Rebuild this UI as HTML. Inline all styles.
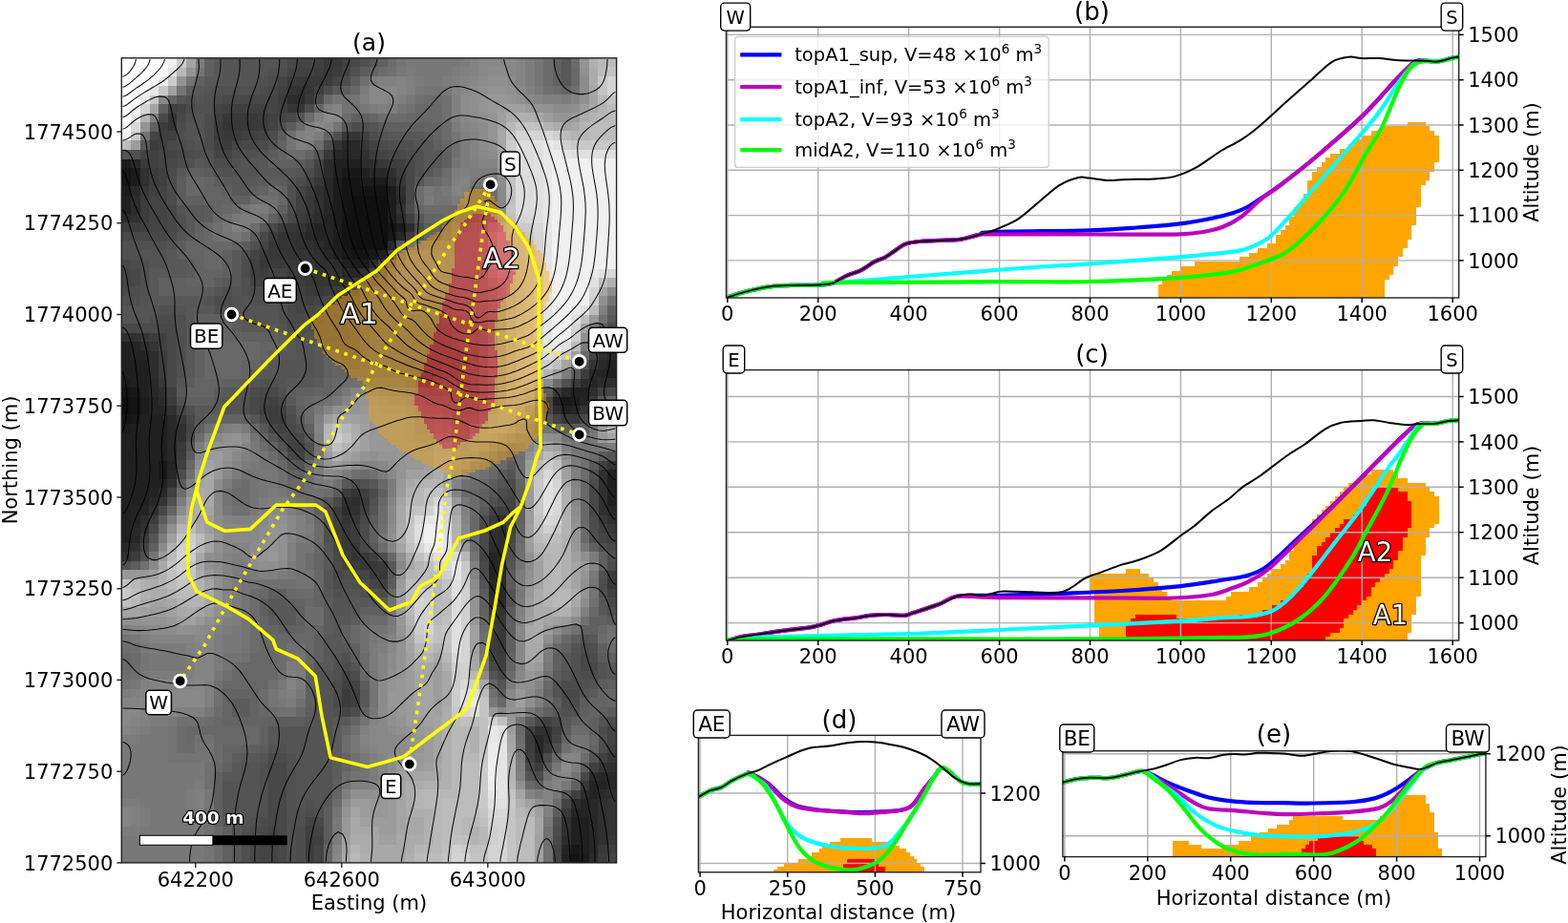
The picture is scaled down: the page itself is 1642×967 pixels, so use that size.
<!DOCTYPE html>
<html><head><meta charset="utf-8"><style>
html,body{margin:0;padding:0;background:#fff;}
svg{display:block;font-family:'DejaVu Sans','Liberation Sans',sans-serif;}
</style></head><body>
<svg width="1642" height="967" viewBox="0 0 1642 967" font-family="DejaVu Sans, Liberation Sans, sans-serif">
<rect width="1642" height="967" fill="#fff"/>
<clipPath id="cbu"><rect x="760.5" y="28.3" width="767.2" height="283.7"/></clipPath>
<g clip-path="url(#cbu)"><path d="M1473.70 127.57h18.98v4.73h-18.98zM1445.22 132.30h52.21v4.73h-52.21zM1435.73 137.03h66.44v4.73h-66.44zM1426.24 141.76h80.68v4.73h-80.68zM1416.75 146.48h90.17v4.73h-90.17zM1412.00 151.21h94.92v4.73h-94.92zM1402.51 155.94h104.41v4.73h-104.41zM1393.02 160.67h113.90v4.73h-113.90zM1388.27 165.40h118.65v4.73h-118.65zM1383.53 170.13h118.65v4.73h-118.65zM1378.78 174.86h123.40v4.73h-123.40zM1374.03 179.59h123.40v4.73h-123.40zM1374.03 184.32h123.40v4.73h-123.40zM1369.29 189.05h123.40v4.73h-123.40zM1369.29 193.78h118.65v4.73h-118.65zM1369.29 198.50h118.65v4.73h-118.65zM1364.54 203.23h123.40v4.73h-123.40zM1364.54 207.96h123.40v4.73h-123.40zM1359.80 212.69h128.14v4.73h-128.14zM1355.05 217.42h128.14v4.73h-128.14zM1355.05 222.15h128.14v4.73h-128.14zM1350.30 226.88h132.89v4.73h-132.89zM1350.30 231.61h132.89v4.73h-132.89zM1345.56 236.34h132.89v4.73h-132.89zM1340.81 241.06h137.63v4.73h-137.63zM1336.07 245.79h142.38v4.73h-142.38zM1336.07 250.52h137.63v4.73h-137.63zM1326.57 255.25h147.13v4.73h-147.13zM1317.08 259.98h151.87v4.73h-151.87zM1307.59 264.71h161.36v4.73h-161.36zM1298.10 269.44h166.11v4.73h-166.11zM1250.64 274.17h213.57v4.73h-213.57zM1236.40 278.90h223.06v4.73h-223.06zM1226.91 283.63h232.55v4.73h-232.55zM1222.16 288.36h232.55v4.73h-232.55zM1217.42 293.08h232.55v4.73h-232.55zM1212.67 297.81h237.30v4.73h-237.30zM1212.67 302.54h237.30v4.73h-237.30zM1212.67 307.27h237.30v4.73h-237.30z" fill="#ffa500" shape-rendering="crispEdges"/></g>
<line x1="761.8" y1="28.3" x2="761.8" y2="312.0" stroke="#b0b0b0" stroke-width="1.4"/>
<line x1="856.7" y1="28.3" x2="856.7" y2="312.0" stroke="#b0b0b0" stroke-width="1.4"/>
<line x1="951.6" y1="28.3" x2="951.6" y2="312.0" stroke="#b0b0b0" stroke-width="1.4"/>
<line x1="1046.6" y1="28.3" x2="1046.6" y2="312.0" stroke="#b0b0b0" stroke-width="1.4"/>
<line x1="1141.5" y1="28.3" x2="1141.5" y2="312.0" stroke="#b0b0b0" stroke-width="1.4"/>
<line x1="1236.4" y1="28.3" x2="1236.4" y2="312.0" stroke="#b0b0b0" stroke-width="1.4"/>
<line x1="1331.3" y1="28.3" x2="1331.3" y2="312.0" stroke="#b0b0b0" stroke-width="1.4"/>
<line x1="1426.2" y1="28.3" x2="1426.2" y2="312.0" stroke="#b0b0b0" stroke-width="1.4"/>
<line x1="1521.2" y1="28.3" x2="1521.2" y2="312.0" stroke="#b0b0b0" stroke-width="1.4"/>
<line x1="760.5" y1="272.9" x2="1527.7" y2="272.9" stroke="#b0b0b0" stroke-width="1.4"/>
<line x1="760.5" y1="225.6" x2="1527.7" y2="225.6" stroke="#b0b0b0" stroke-width="1.4"/>
<line x1="760.5" y1="178.3" x2="1527.7" y2="178.3" stroke="#b0b0b0" stroke-width="1.4"/>
<line x1="760.5" y1="131.0" x2="1527.7" y2="131.0" stroke="#b0b0b0" stroke-width="1.4"/>
<line x1="760.5" y1="83.7" x2="1527.7" y2="83.7" stroke="#b0b0b0" stroke-width="1.4"/>
<line x1="760.5" y1="36.4" x2="1527.7" y2="36.4" stroke="#b0b0b0" stroke-width="1.4"/>
<clipPath id="cb"><rect x="760.5" y="28.3" width="767.2" height="283.7"/></clipPath>
<g clip-path="url(#cb)"><path d="M760.5,312.0 C763.9,310.9 773.0,307.6 780.6,305.6 C788.2,303.7 798.3,301.4 806.2,300.3 C814.1,299.2 819.6,299.2 828.1,298.9 C836.6,298.6 850.0,298.9 857.3,298.5 C864.6,298.1 867.0,298.3 871.9,296.7 C876.8,295.1 881.7,291.0 886.6,288.8 C891.5,286.6 896.3,285.7 901.2,283.3 C906.1,280.9 911.5,276.5 915.8,274.2 C920.1,271.9 923.1,271.6 926.8,269.6 C930.4,267.6 934.1,264.7 937.7,262.3 C941.4,259.9 944.1,257.0 948.7,255.4 C953.3,253.8 959.0,253.4 965.1,252.8 C971.2,252.2 978.5,252.2 985.2,251.9 C991.9,251.6 998.6,251.8 1005.3,250.8 C1012.0,249.8 1019.6,247.2 1025.4,245.9 C1031.2,244.6 1020.8,243.9 1040.0,243.1 C1059.2,242.3 1115.6,242.1 1140.6,241.3 C1165.6,240.5 1174.2,239.7 1190.0,238.5 C1205.8,237.3 1223.0,235.9 1235.5,234.4 C1248.0,232.9 1255.9,231.3 1265.0,229.5 C1274.1,227.7 1283.3,225.5 1290.0,223.5 C1296.7,221.5 1300.0,220.1 1305.0,217.5 C1310.0,214.9 1314.2,211.8 1320.0,208.0 C1325.8,204.2 1330.3,201.8 1340.0,194.5 C1349.7,187.2 1363.4,176.8 1377.9,164.5 C1392.4,152.2 1412.6,135.0 1427.1,121.0 C1441.6,107.0 1455.5,89.9 1464.7,80.5 C1473.9,71.1 1477.3,67.4 1482.1,64.6 C1486.9,61.8 1489.8,63.7 1493.7,63.7 C1497.6,63.7 1500.5,65.2 1505.3,64.6 C1510.1,64.0 1518.5,61.1 1522.6,60.3 C1526.7,59.4 1528.8,59.6 1530.0,59.5" fill="none" stroke="#0000ff" stroke-width="4.2" stroke-linejoin="round" stroke-linecap="round"/>
<path d="M760.5,312.0 C763.9,310.9 773.0,307.6 780.6,305.6 C788.2,303.7 798.3,301.4 806.2,300.3 C814.1,299.2 819.6,299.2 828.1,298.9 C836.6,298.6 850.0,298.9 857.3,298.5 C864.6,298.1 867.0,298.3 871.9,296.7 C876.8,295.1 881.7,291.0 886.6,288.8 C891.5,286.6 896.3,285.7 901.2,283.3 C906.1,280.9 911.5,276.5 915.8,274.2 C920.1,271.9 923.1,271.6 926.8,269.6 C930.4,267.6 934.1,264.7 937.7,262.3 C941.4,259.9 944.1,257.0 948.7,255.4 C953.3,253.8 959.0,253.4 965.1,252.8 C971.2,252.2 978.5,252.2 985.2,251.9 C991.9,251.6 998.6,251.8 1005.3,250.8 C1012.0,249.8 1019.6,246.8 1025.4,245.9 C1031.2,245.0 1020.8,245.6 1040.0,245.5 C1059.2,245.4 1115.6,245.5 1140.6,245.5 C1165.6,245.5 1174.2,245.6 1190.0,245.6 C1205.8,245.6 1223.8,245.7 1235.5,245.3 C1247.2,244.9 1252.4,244.3 1260.0,243.0 C1267.6,241.7 1274.3,240.2 1281.0,237.5 C1287.7,234.8 1293.5,231.8 1300.0,227.0 C1306.5,222.2 1313.3,214.4 1320.0,209.0 C1326.7,203.6 1330.3,201.9 1340.0,194.5 C1349.7,187.1 1363.4,176.8 1377.9,164.5 C1392.4,152.2 1412.6,135.0 1427.1,121.0 C1441.6,107.0 1455.5,89.9 1464.7,80.5 C1473.9,71.1 1477.3,67.4 1482.1,64.6 C1486.9,61.8 1489.8,63.7 1493.7,63.7 C1497.6,63.7 1500.5,65.2 1505.3,64.6 C1510.1,64.0 1518.5,61.1 1522.6,60.3 C1526.7,59.4 1528.8,59.6 1530.0,59.5" fill="none" stroke="#bf00bf" stroke-width="4.2" stroke-linejoin="round" stroke-linecap="round"/>
<path d="M760.5,312.0 C763.9,310.9 773.0,307.6 780.6,305.6 C788.2,303.7 798.3,301.4 806.2,300.3 C814.1,299.2 819.6,299.2 828.1,298.9 C836.6,298.6 850.0,298.9 857.3,298.5 C864.6,298.1 868.8,297.1 871.9,296.7 C875.0,296.3 845.1,298.6 875.6,296.1 C906.1,293.7 1010.8,285.3 1055.0,282.0 C1099.2,278.7 1110.5,278.4 1140.6,276.3 C1170.7,274.2 1210.4,271.4 1235.5,269.3 C1260.6,267.2 1279.3,265.3 1291.4,263.7 C1303.5,262.1 1302.2,261.8 1308.2,259.5 C1314.2,257.2 1320.9,254.9 1327.7,249.7 C1334.5,244.5 1340.5,237.3 1348.9,228.2 C1357.3,219.1 1368.2,206.0 1377.9,194.9 C1387.6,183.8 1396.2,173.9 1406.8,161.6 C1417.4,149.3 1431.9,133.6 1441.6,121.0 C1451.2,108.5 1458.0,95.5 1464.7,86.3 C1471.5,77.1 1477.3,69.8 1482.1,66.0 C1486.9,62.2 1489.8,63.9 1493.7,63.7 C1497.6,63.5 1500.5,65.2 1505.3,64.6 C1510.1,64.0 1518.5,61.1 1522.6,60.3 C1526.7,59.4 1528.8,59.6 1530.0,59.5" fill="none" stroke="#00ffff" stroke-width="4.2" stroke-linejoin="round" stroke-linecap="round"/>
<path d="M760.5,312.0 C763.9,310.9 773.0,307.6 780.6,305.6 C788.2,303.7 798.3,301.4 806.2,300.3 C814.1,299.2 819.6,299.2 828.1,298.9 C836.6,298.6 850.0,298.9 857.3,298.5 C864.6,298.1 868.8,297.1 871.9,296.7 C875.0,296.3 845.1,296.4 875.6,296.1 C906.1,295.9 1010.8,295.4 1055.0,295.2 C1099.2,295.0 1110.5,295.7 1140.6,295.0 C1170.7,294.3 1210.4,292.5 1235.5,290.8 C1260.6,289.1 1278.4,286.8 1291.4,284.6 C1304.4,282.4 1307.3,279.8 1313.7,277.7 C1320.1,275.6 1324.1,274.5 1330.0,272.0 C1335.9,269.5 1340.9,268.8 1348.9,262.9 C1356.9,257.0 1368.2,246.9 1377.9,236.8 C1387.6,226.7 1398.1,214.6 1406.8,202.1 C1415.5,189.6 1423.2,173.2 1430.0,161.6 C1436.8,150.0 1441.6,144.2 1447.4,132.6 C1453.2,121.0 1459.9,102.2 1464.7,92.1 C1469.5,82.0 1472.4,76.4 1476.3,71.8 C1480.2,67.2 1483.1,65.8 1487.9,64.6 C1492.7,63.4 1499.5,65.2 1505.3,64.6 C1511.1,64.0 1518.5,61.6 1522.6,60.8 C1526.7,59.9 1528.8,59.7 1530.0,59.5" fill="none" stroke="#00ff00" stroke-width="4.2" stroke-linejoin="round" stroke-linecap="round"/>
<path d="M760.5,312.0 C763.9,310.9 773.0,307.6 780.6,305.6 C788.2,303.7 798.3,301.4 806.2,300.3 C814.1,299.2 819.6,299.2 828.1,298.9 C836.6,298.6 850.0,298.9 857.3,298.5 C864.6,298.1 867.0,298.3 871.9,296.7 C876.8,295.1 881.7,291.0 886.6,288.8 C891.5,286.6 896.3,285.7 901.2,283.3 C906.1,280.9 911.5,276.5 915.8,274.2 C920.1,271.9 923.1,271.6 926.8,269.6 C930.4,267.6 934.1,264.7 937.7,262.3 C941.4,259.9 944.1,257.0 948.7,255.4 C953.3,253.8 959.0,253.4 965.1,252.8 C971.2,252.2 978.5,252.2 985.2,251.9 C991.9,251.6 998.6,251.8 1005.3,250.8 C1012.0,249.8 1019.6,247.5 1025.4,245.9 C1031.2,244.3 1033.4,244.1 1040.0,241.5 C1046.6,238.9 1057.2,235.1 1065.1,230.2 C1073.0,225.3 1080.0,218.1 1087.5,212.0 C1095.0,205.9 1102.8,198.2 1109.8,193.9 C1116.8,189.6 1124.3,187.2 1129.4,186.0 C1134.5,184.8 1135.5,186.1 1140.6,186.6 C1145.7,187.1 1153.6,188.9 1160.1,189.1 C1166.6,189.3 1171.8,188.3 1179.7,188.0 C1187.6,187.7 1199.2,187.9 1207.6,187.4 C1216.0,186.9 1222.5,186.9 1230.0,184.9 C1237.5,182.9 1244.4,180.0 1252.3,175.7 C1260.2,171.4 1269.5,163.8 1277.4,158.9 C1285.3,154.0 1292.7,151.0 1299.8,146.4 C1306.9,141.8 1311.8,138.1 1320.0,131.2 C1328.2,124.3 1339.7,113.3 1348.9,105.1 C1358.1,96.9 1367.3,88.8 1375.0,82.0 C1382.7,75.2 1389.0,68.3 1395.3,64.6 C1401.6,60.9 1407.5,60.3 1412.6,59.7 C1417.7,59.1 1420.4,60.9 1425.7,61.1 C1431.0,61.3 1438.0,60.8 1444.5,61.1 C1451.0,61.5 1456.5,62.8 1464.7,63.2 C1472.9,63.6 1486.9,63.5 1493.7,63.7 C1500.5,63.9 1500.5,65.2 1505.3,64.6 C1510.1,64.0 1518.5,61.1 1522.6,60.3 C1526.7,59.4 1528.8,59.6 1530.0,59.5" fill="none" stroke="#000" stroke-width="2.0" stroke-linejoin="round" stroke-linecap="round"/></g>
<rect x="760.5" y="28.3" width="767.2" height="283.7" fill="none" stroke="#222" stroke-width="1.4"/>
<line x1="761.8" y1="312.0" x2="761.8" y2="317.0" stroke="#000" stroke-width="1.5"/>
<text x="761.8" y="336.0" text-anchor="middle" font-size="21">0</text>
<line x1="856.7" y1="312.0" x2="856.7" y2="317.0" stroke="#000" stroke-width="1.5"/>
<text x="856.7" y="336.0" text-anchor="middle" font-size="21">200</text>
<line x1="951.6" y1="312.0" x2="951.6" y2="317.0" stroke="#000" stroke-width="1.5"/>
<text x="951.6" y="336.0" text-anchor="middle" font-size="21">400</text>
<line x1="1046.6" y1="312.0" x2="1046.6" y2="317.0" stroke="#000" stroke-width="1.5"/>
<text x="1046.6" y="336.0" text-anchor="middle" font-size="21">600</text>
<line x1="1141.5" y1="312.0" x2="1141.5" y2="317.0" stroke="#000" stroke-width="1.5"/>
<text x="1141.5" y="336.0" text-anchor="middle" font-size="21">800</text>
<line x1="1236.4" y1="312.0" x2="1236.4" y2="317.0" stroke="#000" stroke-width="1.5"/>
<text x="1236.4" y="336.0" text-anchor="middle" font-size="21">1000</text>
<line x1="1331.3" y1="312.0" x2="1331.3" y2="317.0" stroke="#000" stroke-width="1.5"/>
<text x="1331.3" y="336.0" text-anchor="middle" font-size="21">1200</text>
<line x1="1426.2" y1="312.0" x2="1426.2" y2="317.0" stroke="#000" stroke-width="1.5"/>
<text x="1426.2" y="336.0" text-anchor="middle" font-size="21">1400</text>
<line x1="1521.2" y1="312.0" x2="1521.2" y2="317.0" stroke="#000" stroke-width="1.5"/>
<text x="1521.2" y="336.0" text-anchor="middle" font-size="21">1600</text>
<line x1="1527.7" y1="272.9" x2="1532.7" y2="272.9" stroke="#000" stroke-width="1.5"/>
<text x="1537.2" y="280.5" font-size="21">1000</text>
<line x1="1527.7" y1="225.6" x2="1532.7" y2="225.6" stroke="#000" stroke-width="1.5"/>
<text x="1537.2" y="233.2" font-size="21">1100</text>
<line x1="1527.7" y1="178.3" x2="1532.7" y2="178.3" stroke="#000" stroke-width="1.5"/>
<text x="1537.2" y="185.9" font-size="21">1200</text>
<line x1="1527.7" y1="131.0" x2="1532.7" y2="131.0" stroke="#000" stroke-width="1.5"/>
<text x="1537.2" y="138.6" font-size="21">1300</text>
<line x1="1527.7" y1="83.7" x2="1532.7" y2="83.7" stroke="#000" stroke-width="1.5"/>
<text x="1537.2" y="91.3" font-size="21">1400</text>
<line x1="1527.7" y1="36.4" x2="1532.7" y2="36.4" stroke="#000" stroke-width="1.5"/>
<text x="1537.2" y="44.0" font-size="21">1500</text>
<text x="1143.5" y="20.5" text-anchor="middle" font-size="26">(b)</text>
<text transform="translate(1611,170) rotate(-90)" text-anchor="middle" font-size="21">Altitude (m)</text>
<rect x="769.7" y="38.4" width="328.5" height="137" rx="3" fill="#fff" fill-opacity="0.8" stroke="#cccccc" stroke-width="1.2"/>
<line x1="775.2" y1="57.4" x2="818.4" y2="57.4" stroke="#0000ff" stroke-width="4.2"/>
<text x="832.2" y="63.9" font-size="19.5">topA1_sup, V=48 ×10<tspan dy="-8" font-size="13.5">6</tspan><tspan dy="8"> m</tspan><tspan dy="-8" font-size="13.5">3</tspan></text>
<line x1="775.2" y1="91.0" x2="818.4" y2="91.0" stroke="#bf00bf" stroke-width="4.2"/>
<text x="832.2" y="97.5" font-size="19.5">topA1_inf, V=53 ×10<tspan dy="-8" font-size="13.5">6</tspan><tspan dy="8"> m</tspan><tspan dy="-8" font-size="13.5">3</tspan></text>
<line x1="775.2" y1="125.2" x2="818.4" y2="125.2" stroke="#00ffff" stroke-width="4.2"/>
<text x="832.2" y="131.7" font-size="19.5">topA2, V=93 ×10<tspan dy="-8" font-size="13.5">6</tspan><tspan dy="8"> m</tspan><tspan dy="-8" font-size="13.5">3</tspan></text>
<line x1="775.2" y1="157.2" x2="818.4" y2="157.2" stroke="#00ff00" stroke-width="4.2"/>
<text x="832.2" y="163.7" font-size="19.5">midA2, V=110 ×10<tspan dy="-8" font-size="13.5">6</tspan><tspan dy="8"> m</tspan><tspan dy="-8" font-size="13.5">3</tspan></text>
<rect x="754.7" y="3.1" width="31.0" height="29" rx="4" fill="#fff" stroke="#000" stroke-width="1.4"/><text x="770.2" y="24.8" text-anchor="middle" font-size="19.5">W</text>
<rect x="1509.2" y="3.1" width="22.5" height="29" rx="4" fill="#fff" stroke="#000" stroke-width="1.4"/><text x="1520.5" y="24.8" text-anchor="middle" font-size="19.5">S</text>
<clipPath id="ccu"><rect x="760.5" y="387.6" width="767.2" height="283.4"/></clipPath>
<g clip-path="url(#ccu)"><path d="M1435.73 491.77h23.73v4.74h-23.73zM1426.24 496.51h37.97v4.74h-37.97zM1421.49 501.25h52.21v4.74h-52.21zM1412.00 505.99h80.68v4.74h-80.68zM1407.26 510.74h90.17v4.74h-90.17zM1402.51 515.48h99.67v4.74h-99.67zM1397.76 520.22h109.16v4.74h-109.16zM1393.02 524.97h113.90v4.74h-113.90zM1388.27 529.71h118.65v4.74h-118.65zM1383.53 534.45h123.40v4.74h-123.40zM1378.78 539.20h128.14v4.74h-128.14zM1374.03 543.94h132.89v4.74h-132.89zM1374.03 548.68h128.14v4.74h-128.14zM1369.29 553.42h128.14v4.74h-128.14zM1364.54 558.17h132.89v4.74h-132.89zM1359.80 562.91h132.89v4.74h-132.89zM1355.05 567.65h137.63v4.74h-137.63zM1355.05 572.40h137.63v4.74h-137.63zM1350.30 577.14h142.38v4.74h-142.38zM1350.30 581.88h137.63v4.74h-137.63zM1345.56 586.63h142.38v4.74h-142.38zM1340.81 591.37h147.13v4.74h-147.13zM1179.45 596.11h14.24v4.74h-14.24zM1331.32 596.11h156.62v4.74h-156.62zM1141.48 600.86h61.70v4.74h-61.70zM1326.57 600.86h161.36v4.74h-161.36zM1141.48 605.60h66.44v4.74h-66.44zM1321.83 605.60h166.11v4.74h-166.11zM1141.48 610.34h71.19v4.74h-71.19zM1317.08 610.34h170.86v4.74h-170.86zM1141.48 615.08h75.94v4.74h-75.94zM1307.59 615.08h180.35v4.74h-180.35zM1146.23 619.83h75.94v4.74h-75.94zM1288.61 619.83h199.33v4.74h-199.33zM1146.23 624.57h80.68v4.74h-80.68zM1283.86 624.57h199.33v4.74h-199.33zM1146.23 629.31h336.97v4.74h-336.97zM1146.23 634.06h336.97v4.74h-336.97zM1146.23 638.80h336.97v4.74h-336.97zM1146.23 643.54h332.22v4.74h-332.22zM1146.23 648.28h332.22v4.74h-332.22zM1150.97 653.03h327.47v4.74h-327.47zM1150.97 657.77h327.47v4.74h-327.47zM1150.97 662.51h322.73v4.74h-322.73zM1150.97 667.26h322.73v4.74h-322.73z" fill="#ffa500" shape-rendering="crispEdges"/>
<path d="M1440.48 510.74h23.73v4.74h-23.73zM1435.73 515.48h37.97v4.74h-37.97zM1430.99 520.22h42.71v4.74h-42.71zM1430.99 524.97h47.46v4.74h-47.46zM1426.24 529.71h52.21v4.74h-52.21zM1421.49 534.45h56.95v4.74h-56.95zM1416.75 539.20h61.70v4.74h-61.70zM1407.26 543.94h71.19v4.74h-71.19zM1402.51 548.68h75.94v4.74h-75.94zM1397.76 553.42h75.94v4.74h-75.94zM1393.02 558.17h80.68v4.74h-80.68zM1388.27 562.91h80.68v4.74h-80.68zM1383.53 567.65h85.43v4.74h-85.43zM1378.78 572.40h90.17v4.74h-90.17zM1378.78 577.14h85.43v4.74h-85.43zM1374.03 581.88h90.17v4.74h-90.17zM1374.03 586.63h85.43v4.74h-85.43zM1374.03 591.37h85.43v4.74h-85.43zM1374.03 596.11h80.68v4.74h-80.68zM1369.29 600.86h80.68v4.74h-80.68zM1369.29 605.60h75.94v4.74h-75.94zM1364.54 610.34h75.94v4.74h-75.94zM1359.80 615.08h75.94v4.74h-75.94zM1355.05 619.83h80.68v4.74h-80.68zM1350.30 624.57h80.68v4.74h-80.68zM1340.81 629.31h85.43v4.74h-85.43zM1331.32 634.06h90.17v4.74h-90.17zM1321.83 638.80h94.92v4.74h-94.92zM1188.94 643.54h42.71v4.74h-42.71zM1298.10 643.54h113.90v4.74h-113.90zM1184.19 648.28h223.06v4.74h-223.06zM1179.45 653.03h227.81v4.74h-227.81zM1179.45 657.77h223.06v4.74h-223.06zM1179.45 662.51h213.57v4.74h-213.57zM1179.45 667.26h208.82v4.74h-208.82z" fill="#ff0000" shape-rendering="crispEdges"/></g>
<line x1="761.8" y1="387.6" x2="761.8" y2="671.0" stroke="#b0b0b0" stroke-width="1.4"/>
<line x1="856.7" y1="387.6" x2="856.7" y2="671.0" stroke="#b0b0b0" stroke-width="1.4"/>
<line x1="951.6" y1="387.6" x2="951.6" y2="671.0" stroke="#b0b0b0" stroke-width="1.4"/>
<line x1="1046.6" y1="387.6" x2="1046.6" y2="671.0" stroke="#b0b0b0" stroke-width="1.4"/>
<line x1="1141.5" y1="387.6" x2="1141.5" y2="671.0" stroke="#b0b0b0" stroke-width="1.4"/>
<line x1="1236.4" y1="387.6" x2="1236.4" y2="671.0" stroke="#b0b0b0" stroke-width="1.4"/>
<line x1="1331.3" y1="387.6" x2="1331.3" y2="671.0" stroke="#b0b0b0" stroke-width="1.4"/>
<line x1="1426.2" y1="387.6" x2="1426.2" y2="671.0" stroke="#b0b0b0" stroke-width="1.4"/>
<line x1="1521.2" y1="387.6" x2="1521.2" y2="671.0" stroke="#b0b0b0" stroke-width="1.4"/>
<line x1="760.5" y1="652.6" x2="1527.7" y2="652.6" stroke="#b0b0b0" stroke-width="1.4"/>
<line x1="760.5" y1="605.2" x2="1527.7" y2="605.2" stroke="#b0b0b0" stroke-width="1.4"/>
<line x1="760.5" y1="557.7" x2="1527.7" y2="557.7" stroke="#b0b0b0" stroke-width="1.4"/>
<line x1="760.5" y1="510.3" x2="1527.7" y2="510.3" stroke="#b0b0b0" stroke-width="1.4"/>
<line x1="760.5" y1="462.9" x2="1527.7" y2="462.9" stroke="#b0b0b0" stroke-width="1.4"/>
<line x1="760.5" y1="415.5" x2="1527.7" y2="415.5" stroke="#b0b0b0" stroke-width="1.4"/>
<clipPath id="cc"><rect x="760.5" y="387.6" width="767.2" height="283.4"/></clipPath>
<g clip-path="url(#cc)"><path d="M760.5,671.4 C762.6,670.8 768.1,668.8 773.3,667.7 C778.5,666.6 783.9,666.1 791.5,665.0 C799.1,663.9 809.9,662.1 819.0,660.9 C828.1,659.7 840.0,658.6 846.4,657.7 C852.8,656.8 852.7,656.5 857.3,655.3 C861.9,654.1 867.1,651.6 873.8,650.3 C880.5,648.9 891.4,648.1 897.5,647.2 C903.6,646.3 905.1,645.4 910.3,644.9 C915.5,644.4 922.5,644.0 928.6,644.0 C934.7,644.0 942.3,645.2 946.9,644.9 C951.5,644.6 949.9,644.1 956.0,642.1 C962.1,640.1 975.8,635.9 983.4,633.0 C991.0,630.1 993.5,626.3 1001.7,624.8 C1009.9,623.3 1023.8,624.1 1032.7,623.9 C1041.6,623.7 1042.6,623.8 1055.0,623.5 C1067.4,623.2 1087.3,622.6 1107.2,621.9 C1127.1,621.1 1152.9,620.3 1174.4,619.0 C1195.9,617.7 1219.3,615.9 1236.3,614.1 C1253.3,612.3 1264.8,610.1 1276.6,608.2 C1288.4,606.3 1298.3,605.5 1306.9,602.8 C1315.5,600.1 1319.4,598.8 1328.4,592.1 C1337.4,585.4 1348.6,573.7 1360.7,562.5 C1372.8,551.3 1387.6,537.9 1401.0,524.9 C1414.4,511.9 1430.1,495.7 1441.3,484.5 C1452.5,473.3 1461.0,464.3 1468.2,457.6 C1475.4,450.9 1478.6,446.8 1484.4,444.5 C1490.2,442.2 1497.8,444.3 1503.2,443.7 C1508.6,443.1 1512.1,441.6 1516.6,441.0 C1521.1,440.4 1527.8,440.4 1530.0,440.3" fill="none" stroke="#0000ff" stroke-width="4.2" stroke-linejoin="round" stroke-linecap="round"/>
<path d="M760.5,671.4 C762.6,670.8 768.1,668.8 773.3,667.7 C778.5,666.6 783.9,666.1 791.5,665.0 C799.1,663.9 809.9,662.1 819.0,660.9 C828.1,659.7 840.0,658.6 846.4,657.7 C852.8,656.8 852.7,656.5 857.3,655.3 C861.9,654.1 867.1,651.6 873.8,650.3 C880.5,648.9 891.4,648.1 897.5,647.2 C903.6,646.3 905.1,645.4 910.3,644.9 C915.5,644.4 922.5,644.0 928.6,644.0 C934.7,644.0 942.3,645.2 946.9,644.9 C951.5,644.6 949.9,644.1 956.0,642.1 C962.1,640.1 975.8,635.9 983.4,633.0 C991.0,630.1 993.5,626.0 1001.7,624.8 C1009.9,623.6 1023.8,625.5 1032.7,625.7 C1041.6,625.9 1042.6,626.1 1055.0,626.2 C1067.4,626.3 1087.1,626.2 1107.0,626.3 C1126.9,626.3 1154.2,626.5 1174.4,626.5 C1194.6,626.5 1212.5,627.1 1228.2,626.5 C1243.9,625.9 1258.3,624.7 1268.6,623.0 C1278.9,621.3 1283.6,618.5 1290.0,616.3 C1296.4,614.1 1300.5,613.0 1306.9,609.6 C1313.3,606.2 1319.4,603.5 1328.4,596.1 C1337.4,588.7 1348.6,577.0 1360.7,565.2 C1372.8,553.4 1387.6,539.0 1401.0,525.5 C1414.4,512.0 1430.1,495.8 1441.3,484.5 C1452.5,473.2 1461.0,464.3 1468.2,457.6 C1475.4,450.9 1478.6,446.8 1484.4,444.5 C1490.2,442.2 1497.8,444.3 1503.2,443.7 C1508.6,443.1 1512.1,441.6 1516.6,441.0 C1521.1,440.4 1527.8,440.4 1530.0,440.3" fill="none" stroke="#bf00bf" stroke-width="4.2" stroke-linejoin="round" stroke-linecap="round"/>
<path d="M760.5,671.4 C765.7,670.8 759.5,668.9 791.5,667.7 C823.5,666.5 908.4,665.4 952.3,664.0 C996.2,662.6 1023.4,661.0 1055.0,659.5 C1086.7,658.0 1112.0,656.8 1142.2,655.3 C1172.4,653.8 1213.3,652.1 1236.3,650.7 C1259.3,649.4 1268.2,648.0 1280.0,647.2 C1291.8,646.4 1298.4,647.0 1306.9,645.9 C1315.4,644.8 1323.9,643.6 1331.1,640.5 C1338.3,637.4 1343.2,633.3 1349.9,627.0 C1356.6,620.7 1363.3,612.6 1371.4,602.8 C1379.5,592.9 1389.3,579.5 1398.3,567.9 C1407.3,556.2 1416.2,545.4 1425.2,532.9 C1434.2,520.4 1444.9,502.9 1452.1,492.6 C1459.3,482.3 1462.8,478.7 1468.2,471.1 C1473.6,463.5 1480.8,451.4 1484.4,446.9 C1488.0,442.4 1486.6,444.7 1489.7,444.2 C1492.8,443.7 1498.7,444.2 1503.2,443.7 C1507.7,443.2 1512.1,441.6 1516.6,441.0 C1521.1,440.4 1527.8,440.4 1530.0,440.3" fill="none" stroke="#00ffff" stroke-width="4.2" stroke-linejoin="round" stroke-linecap="round"/>
<path d="M760.5,671.4 C765.7,671.1 742.4,669.8 791.5,669.5 C840.6,669.2 990.2,669.5 1055.0,669.5 C1119.8,669.5 1142.5,669.6 1180.0,669.3 C1217.5,669.0 1258.8,668.2 1280.0,667.9 C1301.2,667.6 1298.4,668.2 1306.9,667.4 C1315.4,666.6 1322.1,666.4 1331.1,663.3 C1340.1,660.2 1351.3,655.1 1360.7,648.6 C1370.1,642.1 1378.6,634.7 1387.6,624.4 C1396.5,614.1 1407.2,597.9 1414.4,586.7 C1421.6,575.5 1424.3,568.8 1430.6,557.1 C1436.9,545.5 1445.8,529.8 1452.1,516.8 C1458.4,503.8 1463.7,489.1 1468.2,479.2 C1472.7,469.3 1475.4,463.4 1479.0,457.6 C1482.6,451.9 1487.0,447.0 1489.7,444.7 C1492.4,442.4 1492.8,443.9 1495.1,443.7 C1497.3,443.5 1499.6,444.1 1503.2,443.7 C1506.8,443.2 1512.1,441.6 1516.6,441.0 C1521.1,440.4 1527.8,440.4 1530.0,440.3" fill="none" stroke="#00ff00" stroke-width="4.2" stroke-linejoin="round" stroke-linecap="round"/>
<path d="M760.5,671.4 C762.6,670.8 768.1,668.8 773.3,667.7 C778.5,666.6 783.9,666.1 791.5,665.0 C799.1,663.9 809.9,662.1 819.0,660.9 C828.1,659.7 840.0,658.6 846.4,657.7 C852.8,656.8 852.7,656.5 857.3,655.3 C861.9,654.1 867.1,651.6 873.8,650.3 C880.5,648.9 891.4,648.1 897.5,647.2 C903.6,646.3 905.1,645.4 910.3,644.9 C915.5,644.4 922.5,644.0 928.6,644.0 C934.7,644.0 942.3,645.2 946.9,644.9 C951.5,644.6 949.9,644.1 956.0,642.1 C962.1,640.1 975.8,635.9 983.4,633.0 C991.0,630.1 996.5,626.6 1001.7,624.8 C1006.9,623.0 1009.9,622.5 1014.5,622.4 C1019.1,622.2 1024.8,624.0 1029.1,623.9 C1033.3,623.8 1036.4,622.2 1040.0,621.5 C1043.6,620.8 1044.1,619.7 1050.8,619.5 C1057.5,619.3 1070.9,620.0 1080.3,620.3 C1089.7,620.6 1100.5,621.8 1107.2,621.1 C1113.9,620.4 1115.8,618.9 1120.7,616.3 C1125.6,613.7 1131.4,608.3 1136.8,605.5 C1142.2,602.7 1146.6,601.9 1152.9,599.6 C1159.2,597.3 1168.1,593.7 1174.4,591.6 C1180.7,589.5 1183.9,589.7 1190.6,587.3 C1197.3,584.9 1207.2,581.6 1214.8,577.3 C1222.4,572.9 1230.5,565.5 1236.3,561.2 C1242.1,557.0 1244.3,556.1 1249.7,551.8 C1255.1,547.5 1262.3,540.5 1268.6,535.6 C1274.9,530.7 1281.9,526.5 1287.4,522.2 C1292.9,518.0 1296.0,514.1 1301.5,510.1 C1307.0,506.1 1312.7,503.4 1320.3,498.0 C1327.9,492.6 1339.6,483.2 1347.2,477.8 C1354.8,472.4 1359.3,470.4 1366.0,465.7 C1372.7,461.0 1381.3,453.4 1387.6,449.6 C1393.9,445.8 1397.4,444.3 1403.7,442.9 C1410.0,441.5 1419.4,441.4 1425.2,441.0 C1431.0,440.6 1433.7,439.9 1438.6,440.2 C1443.5,440.5 1449.0,442.1 1454.8,442.9 C1460.6,443.7 1468.7,444.8 1473.6,445.0 C1478.5,445.2 1479.5,444.4 1484.4,444.2 C1489.3,444.0 1497.8,444.2 1503.2,443.7 C1508.6,443.2 1512.1,441.6 1516.6,441.0 C1521.1,440.4 1527.8,440.4 1530.0,440.3" fill="none" stroke="#000" stroke-width="2.0" stroke-linejoin="round" stroke-linecap="round"/><text x="1440" y="587.5" text-anchor="middle" font-size="27.5" fill="#fff" stroke="#000" stroke-width="2.6" paint-order="stroke" stroke-linejoin="round">A2</text><text x="1456" y="653.5" text-anchor="middle" font-size="27.5" fill="#fff" stroke="#000" stroke-width="2.6" paint-order="stroke" stroke-linejoin="round">A1</text></g>
<rect x="760.5" y="387.6" width="767.2" height="283.4" fill="none" stroke="#222" stroke-width="1.4"/>
<line x1="761.8" y1="671.0" x2="761.8" y2="676.0" stroke="#000" stroke-width="1.5"/>
<text x="761.8" y="695.0" text-anchor="middle" font-size="21">0</text>
<line x1="856.7" y1="671.0" x2="856.7" y2="676.0" stroke="#000" stroke-width="1.5"/>
<text x="856.7" y="695.0" text-anchor="middle" font-size="21">200</text>
<line x1="951.6" y1="671.0" x2="951.6" y2="676.0" stroke="#000" stroke-width="1.5"/>
<text x="951.6" y="695.0" text-anchor="middle" font-size="21">400</text>
<line x1="1046.6" y1="671.0" x2="1046.6" y2="676.0" stroke="#000" stroke-width="1.5"/>
<text x="1046.6" y="695.0" text-anchor="middle" font-size="21">600</text>
<line x1="1141.5" y1="671.0" x2="1141.5" y2="676.0" stroke="#000" stroke-width="1.5"/>
<text x="1141.5" y="695.0" text-anchor="middle" font-size="21">800</text>
<line x1="1236.4" y1="671.0" x2="1236.4" y2="676.0" stroke="#000" stroke-width="1.5"/>
<text x="1236.4" y="695.0" text-anchor="middle" font-size="21">1000</text>
<line x1="1331.3" y1="671.0" x2="1331.3" y2="676.0" stroke="#000" stroke-width="1.5"/>
<text x="1331.3" y="695.0" text-anchor="middle" font-size="21">1200</text>
<line x1="1426.2" y1="671.0" x2="1426.2" y2="676.0" stroke="#000" stroke-width="1.5"/>
<text x="1426.2" y="695.0" text-anchor="middle" font-size="21">1400</text>
<line x1="1521.2" y1="671.0" x2="1521.2" y2="676.0" stroke="#000" stroke-width="1.5"/>
<text x="1521.2" y="695.0" text-anchor="middle" font-size="21">1600</text>
<line x1="1527.7" y1="652.6" x2="1532.7" y2="652.6" stroke="#000" stroke-width="1.5"/>
<text x="1537.2" y="660.2" font-size="21">1000</text>
<line x1="1527.7" y1="605.2" x2="1532.7" y2="605.2" stroke="#000" stroke-width="1.5"/>
<text x="1537.2" y="612.8" font-size="21">1100</text>
<line x1="1527.7" y1="557.7" x2="1532.7" y2="557.7" stroke="#000" stroke-width="1.5"/>
<text x="1537.2" y="565.3" font-size="21">1200</text>
<line x1="1527.7" y1="510.3" x2="1532.7" y2="510.3" stroke="#000" stroke-width="1.5"/>
<text x="1537.2" y="517.9" font-size="21">1300</text>
<line x1="1527.7" y1="462.9" x2="1532.7" y2="462.9" stroke="#000" stroke-width="1.5"/>
<text x="1537.2" y="470.5" font-size="21">1400</text>
<line x1="1527.7" y1="415.5" x2="1532.7" y2="415.5" stroke="#000" stroke-width="1.5"/>
<text x="1537.2" y="423.1" font-size="21">1500</text>
<text x="1143.5" y="380" text-anchor="middle" font-size="26">(c)</text>
<text transform="translate(1611,529.5) rotate(-90)" text-anchor="middle" font-size="21">Altitude (m)</text>
<rect x="757.2" y="362.0" width="22.5" height="29" rx="4" fill="#fff" stroke="#000" stroke-width="1.4"/><text x="768.5" y="383.7" text-anchor="middle" font-size="19.5">E</text>
<rect x="1509.2" y="362.0" width="22.5" height="29" rx="4" fill="#fff" stroke="#000" stroke-width="1.4"/><text x="1520.5" y="383.7" text-anchor="middle" font-size="19.5">S</text>
<clipPath id="cdu"><rect x="731.4" y="770.4" width="295.6" height="143.39999999999998"/></clipPath>
<g clip-path="url(#cdu)"><path d="M879.70 878.24h32.98v3.68h-32.98zM868.71 881.92h65.97v3.68h-65.97zM861.38 885.59h80.63v3.68h-80.63zM857.71 889.27h91.62v3.68h-91.62zM850.38 892.94h102.62v3.68h-102.62zM846.72 896.62h109.95v3.68h-109.95zM835.72 900.30h124.61v3.68h-124.61zM821.06 903.97h142.94v3.68h-142.94zM813.73 907.65h153.93v3.68h-153.93zM810.07 911.32h157.59v3.68h-157.59z" fill="#ffa500" shape-rendering="crispEdges"/>
<path d="M887.03 900.30h29.32v3.68h-29.32zM883.37 903.97h36.65v3.68h-36.65zM883.37 907.65h43.98v3.68h-43.98zM879.70 911.32h47.65v3.68h-47.65z" fill="#ff0000" shape-rendering="crispEdges"/></g>
<line x1="733.1" y1="770.4" x2="733.1" y2="913.8" stroke="#b0b0b0" stroke-width="1.4"/>
<line x1="824.7" y1="770.4" x2="824.7" y2="913.8" stroke="#b0b0b0" stroke-width="1.4"/>
<line x1="916.4" y1="770.4" x2="916.4" y2="913.8" stroke="#b0b0b0" stroke-width="1.4"/>
<line x1="1008.0" y1="770.4" x2="1008.0" y2="913.8" stroke="#b0b0b0" stroke-width="1.4"/>
<line x1="731.4" y1="904.5" x2="1027.0" y2="904.5" stroke="#b0b0b0" stroke-width="1.4"/>
<line x1="731.4" y1="831.0" x2="1027.0" y2="831.0" stroke="#b0b0b0" stroke-width="1.4"/>
<clipPath id="cd"><rect x="731.4" y="770.4" width="295.6" height="143.39999999999998"/></clipPath>
<g clip-path="url(#cd)"><path d="M728.0,836.5 C728.6,836.2 729.0,836.3 731.6,834.9 C734.2,833.5 740.0,829.9 743.9,828.2 C747.8,826.6 751.4,826.7 755.2,825.0 C759.0,823.3 762.1,820.2 766.5,817.9 C770.9,815.5 778.5,812.2 781.6,810.9 C784.8,809.6 781.6,808.7 785.4,810.3 C789.2,811.9 798.6,816.5 804.3,820.6 C810.0,824.8 814.4,831.3 819.4,835.2 C824.4,839.1 828.2,842.0 834.5,844.2 C840.8,846.4 848.7,847.5 857.2,848.5 C865.7,849.5 877.6,850.0 885.5,850.5 C893.4,851.0 898.0,851.2 904.3,851.2 C910.6,851.2 916.9,850.8 923.2,850.4 C929.5,850.0 937.1,849.9 942.1,849.0 C947.1,848.1 950.2,847.2 953.4,845.2 C956.5,843.2 958.8,839.6 961.0,836.7 C963.2,833.8 963.8,831.8 966.6,828.0 C969.4,824.2 974.9,818.0 978.0,814.1 C981.1,810.2 983.0,805.7 985.5,804.6 C988.0,803.5 989.3,805.0 993.1,807.5 C996.9,810.0 1002.7,817.4 1008.2,819.7 C1013.7,822.1 1022.5,821.3 1026.1,821.6 C1029.7,821.9 1029.3,821.3 1030.0,821.3" fill="none" stroke="#0000ff" stroke-width="4.2" stroke-linejoin="round" stroke-linecap="round"/>
<path d="M728.0,836.5 C728.6,836.2 729.0,836.3 731.6,834.9 C734.2,833.5 740.0,829.9 743.9,828.2 C747.8,826.6 751.4,826.7 755.2,825.0 C759.0,823.3 762.1,820.2 766.5,817.9 C770.9,815.5 778.5,812.2 781.6,810.9 C784.8,809.6 781.6,808.5 785.4,810.3 C789.2,812.1 798.6,817.2 804.3,821.6 C810.0,826.0 814.4,832.8 819.4,836.7 C824.4,840.6 828.2,843.2 834.5,845.2 C840.8,847.2 848.7,848.0 857.2,849.0 C865.7,850.0 877.6,850.4 885.5,850.9 C893.4,851.4 898.0,852.2 904.3,852.2 C910.6,852.2 916.9,851.4 923.2,850.9 C929.5,850.4 937.1,850.0 942.1,849.0 C947.1,848.0 950.2,847.2 953.4,845.2 C956.5,843.2 958.8,839.6 961.0,836.7 C963.2,833.8 963.8,831.8 966.6,828.0 C969.4,824.2 974.9,818.0 978.0,814.1 C981.1,810.2 983.0,805.7 985.5,804.6 C988.0,803.5 989.3,805.0 993.1,807.5 C996.9,810.0 1002.7,817.4 1008.2,819.7 C1013.7,822.1 1022.5,821.3 1026.1,821.6 C1029.7,821.9 1029.3,821.3 1030.0,821.3" fill="none" stroke="#bf00bf" stroke-width="4.2" stroke-linejoin="round" stroke-linecap="round"/>
<path d="M728.0,836.5 C728.6,836.2 729.0,836.3 731.6,834.9 C734.2,833.5 740.0,829.9 743.9,828.2 C747.8,826.6 751.4,826.7 755.2,825.0 C759.0,823.3 762.1,820.2 766.5,817.9 C770.9,815.5 778.8,812.1 781.6,810.9 C784.4,809.7 780.4,808.9 783.5,810.7 C786.6,812.5 796.1,817.3 800.5,821.6 C804.9,825.9 806.2,830.1 810.0,836.7 C813.8,843.3 818.5,854.7 823.2,861.3 C827.9,867.9 832.0,872.5 838.3,876.4 C844.6,880.3 852.1,882.8 860.9,884.9 C869.7,887.0 881.0,888.2 891.1,888.7 C901.2,889.2 914.4,888.8 921.3,887.7 C928.2,886.6 928.9,885.1 932.7,882.0 C936.5,878.9 940.9,872.6 944.0,868.8 C947.1,865.0 947.7,865.0 951.5,859.4 C955.3,853.8 962.2,842.4 966.6,834.9 C971.0,827.4 974.9,819.1 978.0,814.1 C981.1,809.1 983.0,805.7 985.5,804.6 C988.0,803.5 989.3,805.0 993.1,807.5 C996.9,810.0 1002.7,817.4 1008.2,819.7 C1013.7,822.1 1022.5,821.3 1026.1,821.6 C1029.7,821.9 1029.3,821.3 1030.0,821.3" fill="none" stroke="#00ffff" stroke-width="4.2" stroke-linejoin="round" stroke-linecap="round"/>
<path d="M728.0,836.5 C728.6,836.2 729.0,836.3 731.6,834.9 C734.2,833.5 740.0,829.9 743.9,828.2 C747.8,826.6 751.4,826.7 755.2,825.0 C759.0,823.3 762.1,820.2 766.5,817.9 C770.9,815.5 778.8,812.1 781.6,810.9 C784.4,809.7 782.1,810.3 783.5,810.7 C784.9,811.1 787.2,811.4 790.0,813.5 C792.8,815.6 796.5,818.4 800.5,823.5 C804.5,828.6 809.3,836.4 813.7,844.3 C818.1,852.2 822.9,863.2 827.0,870.7 C831.1,878.2 833.9,884.2 838.3,889.6 C842.7,895.0 847.7,899.5 853.4,902.8 C859.1,906.1 866.0,908.0 872.3,909.4 C878.6,910.8 885.5,911.4 891.1,911.3 C896.8,911.1 901.2,910.2 906.2,908.5 C911.2,906.8 916.3,905.0 921.3,900.9 C926.3,896.8 931.4,890.8 936.4,883.9 C941.4,877.0 946.5,867.6 951.5,859.4 C956.5,851.2 962.2,842.4 966.6,834.9 C971.0,827.4 974.9,819.1 978.0,814.1 C981.1,809.1 983.0,805.7 985.5,804.6 C988.0,803.5 989.3,805.0 993.1,807.5 C996.9,810.0 1002.7,817.4 1008.2,819.7 C1013.7,822.1 1022.5,821.3 1026.1,821.6 C1029.7,821.9 1029.3,821.3 1030.0,821.3" fill="none" stroke="#00ff00" stroke-width="4.2" stroke-linejoin="round" stroke-linecap="round"/>
<path d="M731.6,834.9 C733.6,833.8 740.0,829.9 743.9,828.2 C747.8,826.6 751.4,826.7 755.2,825.0 C759.0,823.3 762.1,820.2 766.5,817.9 C770.9,815.5 777.2,812.6 781.6,810.9 C786.0,809.2 789.2,809.0 793.0,807.5 C796.8,806.0 799.3,804.2 804.3,801.8 C809.3,799.4 816.3,796.2 823.2,793.3 C830.1,790.4 838.2,786.2 845.8,784.3 C853.3,782.3 861.6,782.6 868.5,781.6 C875.4,780.6 880.8,779.0 887.4,778.2 C894.0,777.4 901.8,776.8 908.1,776.9 C914.4,777.0 918.5,777.5 925.1,778.6 C931.7,779.7 940.2,781.0 947.8,783.3 C955.3,785.6 963.8,788.8 970.4,792.4 C977.0,796.0 982.7,801.0 987.4,804.6 C992.1,808.2 994.6,811.4 998.7,814.1 C1002.8,816.8 1007.4,819.5 1012.0,820.7 C1016.6,821.9 1023.1,821.2 1026.1,821.3 C1029.1,821.3 1029.3,821.0 1030.0,821.0" fill="none" stroke="#000" stroke-width="2.0" stroke-linejoin="round" stroke-linecap="round"/></g>
<rect x="731.4" y="770.4" width="295.6" height="143.39999999999998" fill="none" stroke="#222" stroke-width="1.4"/>
<line x1="733.1" y1="913.8" x2="733.1" y2="918.8" stroke="#000" stroke-width="1.5"/>
<text x="733.1" y="937.8" text-anchor="middle" font-size="21">0</text>
<line x1="824.7" y1="913.8" x2="824.7" y2="918.8" stroke="#000" stroke-width="1.5"/>
<text x="824.7" y="937.8" text-anchor="middle" font-size="21">250</text>
<line x1="916.4" y1="913.8" x2="916.4" y2="918.8" stroke="#000" stroke-width="1.5"/>
<text x="916.4" y="937.8" text-anchor="middle" font-size="21">500</text>
<line x1="1008.0" y1="913.8" x2="1008.0" y2="918.8" stroke="#000" stroke-width="1.5"/>
<text x="1008.0" y="937.8" text-anchor="middle" font-size="21">750</text>
<line x1="1027.0" y1="904.5" x2="1032.0" y2="904.5" stroke="#000" stroke-width="1.5"/>
<text x="1036.5" y="912.1" font-size="21">1000</text>
<line x1="1027.0" y1="831.0" x2="1032.0" y2="831.0" stroke="#000" stroke-width="1.5"/>
<text x="1036.5" y="838.6" font-size="21">1200</text>
<text x="879" y="763" text-anchor="middle" font-size="26">(d)</text>
<text x="878" y="963" text-anchor="middle" font-size="21">Horizontal distance (m)</text>
<rect x="726.3" y="744.0" width="38.0" height="29" rx="4" fill="#fff" stroke="#000" stroke-width="1.4"/><text x="745.3" y="765.7" text-anchor="middle" font-size="21.5">AE</text>
<rect x="986.0" y="744.0" width="45.0" height="29" rx="4" fill="#fff" stroke="#000" stroke-width="1.4"/><text x="1008.5" y="765.7" text-anchor="middle" font-size="21.5">AW</text>
<clipPath id="ceu"><rect x="1112.9" y="786.7" width="443.0" height="110.89999999999998"/></clipPath>
<g clip-path="url(#ceu)"><path d="M1462.58 833.42h30.42v4.30h-30.42zM1458.23 837.73h34.77v4.30h-34.77zM1458.23 842.04h39.11v4.30h-39.11zM1453.89 846.34h43.46v4.30h-43.46zM1449.54 850.64h52.15v4.30h-52.15zM1353.93 854.95h52.15v4.30h-52.15zM1445.20 854.95h56.50v4.30h-56.50zM1349.58 859.25h152.11v4.30h-152.11zM1336.55 863.56h165.15v4.30h-165.15zM1327.85 867.87h173.84v4.30h-173.84zM1319.16 872.17h186.88v4.30h-186.88zM1310.47 876.48h195.57v4.30h-195.57zM1227.90 880.78h17.38v4.30h-17.38zM1297.43 880.78h208.61v4.30h-208.61zM1227.90 885.09h30.42v4.30h-30.42zM1280.05 885.09h225.99v4.30h-225.99zM1227.90 889.39h282.49v4.30h-282.49zM1227.90 893.69h282.49v4.30h-282.49z" fill="#ffa500" shape-rendering="crispEdges"/>
<path d="M1380.01 876.48h43.46v4.30h-43.46zM1371.31 880.78h56.50v4.30h-56.50zM1366.97 885.09h69.54v4.30h-69.54zM1362.62 889.39h78.23v4.30h-78.23zM1362.62 893.69h78.23v4.30h-78.23z" fill="#ff0000" shape-rendering="crispEdges"/></g>
<line x1="1114.9" y1="786.7" x2="1114.9" y2="897.6" stroke="#b0b0b0" stroke-width="1.4"/>
<line x1="1201.8" y1="786.7" x2="1201.8" y2="897.6" stroke="#b0b0b0" stroke-width="1.4"/>
<line x1="1288.7" y1="786.7" x2="1288.7" y2="897.6" stroke="#b0b0b0" stroke-width="1.4"/>
<line x1="1375.7" y1="786.7" x2="1375.7" y2="897.6" stroke="#b0b0b0" stroke-width="1.4"/>
<line x1="1462.6" y1="786.7" x2="1462.6" y2="897.6" stroke="#b0b0b0" stroke-width="1.4"/>
<line x1="1549.5" y1="786.7" x2="1549.5" y2="897.6" stroke="#b0b0b0" stroke-width="1.4"/>
<line x1="1112.9" y1="875.8" x2="1555.9" y2="875.8" stroke="#b0b0b0" stroke-width="1.4"/>
<line x1="1112.9" y1="789.7" x2="1555.9" y2="789.7" stroke="#b0b0b0" stroke-width="1.4"/>
<clipPath id="ce"><rect x="1112.9" y="786.7" width="443.0" height="110.89999999999998"/></clipPath>
<g clip-path="url(#ce)"><path d="M1110.0,820.2 C1110.6,820.1 1111.0,820.2 1113.8,819.5 C1116.6,818.8 1122.3,817.0 1126.9,816.2 C1131.5,815.4 1135.9,815.0 1141.5,814.8 C1147.1,814.6 1155.6,815.3 1160.5,815.1 C1165.4,814.9 1167.1,814.3 1170.8,813.6 C1174.5,812.9 1178.4,811.7 1182.5,810.7 C1186.6,809.7 1191.8,807.8 1195.6,807.8 C1199.3,807.8 1200.2,808.9 1205.0,811.0 C1209.8,813.1 1218.0,817.8 1224.5,820.7 C1231.0,823.6 1236.9,825.7 1243.8,828.2 C1250.7,830.7 1257.3,833.5 1265.8,835.5 C1274.3,837.5 1285.3,839.0 1295.0,839.9 C1304.7,840.8 1315.9,840.9 1324.2,841.1 C1332.5,841.3 1336.7,841.1 1345.0,841.2 C1353.3,841.3 1361.7,841.7 1373.8,841.5 C1385.9,841.3 1406.7,840.9 1417.7,840.0 C1428.7,839.1 1433.5,838.0 1439.6,836.4 C1445.7,834.8 1449.3,832.9 1454.2,830.5 C1459.1,828.1 1463.9,825.1 1468.8,821.8 C1473.7,818.5 1479.8,813.5 1483.5,810.8 C1487.2,808.1 1487.1,807.7 1490.8,805.7 C1494.5,803.8 1500.5,800.7 1505.4,799.1 C1510.3,797.5 1515.1,797.2 1520.0,796.2 C1524.9,795.2 1529.7,794.3 1534.6,793.3 C1539.5,792.3 1545.0,791.0 1549.2,790.3 C1553.4,789.6 1558.2,789.2 1560.0,789.0" fill="none" stroke="#0000ff" stroke-width="4.2" stroke-linejoin="round" stroke-linecap="round"/>
<path d="M1110.0,820.2 C1110.6,820.1 1111.0,820.2 1113.8,819.5 C1116.6,818.8 1122.3,817.0 1126.9,816.2 C1131.5,815.4 1135.9,815.0 1141.5,814.8 C1147.1,814.6 1155.6,815.3 1160.5,815.1 C1165.4,814.9 1167.1,814.3 1170.8,813.6 C1174.5,812.9 1178.4,811.7 1182.5,810.7 C1186.6,809.7 1191.8,807.7 1195.6,807.8 C1199.3,807.9 1200.2,808.8 1205.0,811.5 C1209.8,814.2 1219.7,821.0 1224.5,824.0 C1229.3,827.0 1229.1,826.8 1233.6,829.7 C1238.0,832.6 1245.8,838.5 1251.2,841.4 C1256.6,844.3 1258.5,845.9 1265.8,847.2 C1273.1,848.5 1285.3,848.6 1295.0,849.4 C1304.7,850.2 1315.9,851.3 1324.2,851.9 C1332.5,852.5 1336.7,853.0 1345.0,853.1 C1353.3,853.2 1361.7,853.0 1373.8,852.5 C1385.9,852.0 1406.0,851.3 1417.7,850.3 C1429.4,849.3 1437.4,848.4 1444.0,846.6 C1450.6,844.8 1453.1,842.5 1457.2,839.3 C1461.3,836.1 1464.9,831.7 1468.8,827.6 C1472.7,823.5 1476.8,818.1 1480.5,814.5 C1484.2,810.9 1486.6,808.3 1490.8,805.7 C1495.0,803.1 1500.5,800.7 1505.4,799.1 C1510.3,797.5 1515.1,797.2 1520.0,796.2 C1524.9,795.2 1529.7,794.3 1534.6,793.3 C1539.5,792.3 1545.0,791.0 1549.2,790.3 C1553.4,789.6 1558.2,789.2 1560.0,789.0" fill="none" stroke="#bf00bf" stroke-width="4.2" stroke-linejoin="round" stroke-linecap="round"/>
<path d="M1110.0,820.2 C1110.6,820.1 1111.0,820.2 1113.8,819.5 C1116.6,818.8 1122.3,817.0 1126.9,816.2 C1131.5,815.4 1135.9,815.0 1141.5,814.8 C1147.1,814.6 1155.6,815.3 1160.5,815.1 C1165.4,814.9 1167.1,814.3 1170.8,813.6 C1174.5,812.9 1178.4,811.7 1182.5,810.7 C1186.6,809.7 1191.8,807.6 1195.6,807.8 C1199.3,808.0 1201.3,809.6 1205.0,812.0 C1208.7,814.4 1212.9,818.7 1217.7,822.4 C1222.5,826.1 1228.0,829.2 1233.6,834.1 C1239.2,839.0 1244.6,846.5 1251.2,851.6 C1257.8,856.7 1265.8,861.5 1273.1,864.8 C1280.4,868.1 1287.7,869.6 1295.0,871.3 C1302.3,873.0 1311.2,874.2 1317.0,875.0 C1322.8,875.8 1320.5,875.5 1330.0,875.8 C1339.5,876.1 1361.6,876.8 1373.8,876.6 C1386.0,876.4 1394.6,875.5 1403.1,874.4 C1411.6,873.3 1418.7,872.0 1425.0,870.0 C1431.3,868.0 1436.2,865.9 1441.1,862.7 C1446.0,859.5 1449.6,855.9 1454.2,851.0 C1458.8,846.1 1463.9,839.6 1468.8,833.5 C1473.7,827.4 1479.8,819.1 1483.5,814.5 C1487.2,809.9 1487.1,808.3 1490.8,805.7 C1494.5,803.1 1500.5,800.7 1505.4,799.1 C1510.3,797.5 1515.1,797.2 1520.0,796.2 C1524.9,795.2 1529.7,794.3 1534.6,793.3 C1539.5,792.3 1545.0,791.0 1549.2,790.3 C1553.4,789.6 1558.2,789.2 1560.0,789.0" fill="none" stroke="#00ffff" stroke-width="4.2" stroke-linejoin="round" stroke-linecap="round"/>
<path d="M1110.0,820.2 C1110.6,820.1 1111.0,820.2 1113.8,819.5 C1116.6,818.8 1122.3,817.0 1126.9,816.2 C1131.5,815.4 1135.9,815.0 1141.5,814.8 C1147.1,814.6 1155.6,815.3 1160.5,815.1 C1165.4,814.9 1167.1,814.3 1170.8,813.6 C1174.5,812.9 1178.4,811.7 1182.5,810.7 C1186.6,809.7 1191.4,807.0 1195.6,807.8 C1199.8,808.6 1203.2,812.4 1207.6,815.6 C1212.0,818.8 1217.1,822.3 1221.9,826.8 C1226.7,831.3 1231.6,837.0 1236.5,842.8 C1241.4,848.6 1246.3,856.2 1251.2,861.8 C1256.1,867.4 1260.9,872.4 1265.8,876.5 C1270.7,880.6 1275.5,884.0 1280.4,886.7 C1285.3,889.4 1288.9,891.0 1295.0,892.5 C1301.1,894.0 1311.2,895.0 1317.0,895.5 C1322.8,896.0 1323.0,895.7 1330.0,895.6 C1337.0,895.5 1350.7,894.8 1359.2,894.8 C1367.7,894.8 1375.1,895.8 1381.2,895.6 C1387.3,895.4 1390.9,894.8 1395.8,893.4 C1400.7,892.0 1405.5,889.9 1410.4,887.5 C1415.3,885.1 1420.1,882.4 1425.0,878.8 C1429.9,875.1 1434.7,870.5 1439.6,865.6 C1444.5,860.7 1449.3,855.4 1454.2,849.5 C1459.1,843.6 1463.9,836.6 1468.8,830.5 C1473.7,824.4 1479.3,817.6 1483.5,813.0 C1487.7,808.4 1490.0,805.1 1493.7,802.8 C1497.4,800.5 1501.0,800.2 1505.4,799.1 C1509.8,798.0 1515.1,797.2 1520.0,796.2 C1524.9,795.2 1529.7,794.3 1534.6,793.3 C1539.5,792.3 1545.0,791.0 1549.2,790.3 C1553.4,789.6 1558.2,789.2 1560.0,789.0" fill="none" stroke="#00ff00" stroke-width="4.2" stroke-linejoin="round" stroke-linecap="round"/>
<path d="M1110.0,820.2 C1110.6,820.1 1111.0,820.2 1113.8,819.5 C1116.6,818.8 1122.3,817.0 1126.9,816.2 C1131.5,815.4 1135.9,815.0 1141.5,814.8 C1147.1,814.6 1155.6,815.3 1160.5,815.1 C1165.4,814.9 1167.1,814.3 1170.8,813.6 C1174.5,812.9 1178.4,811.7 1182.5,810.7 C1186.6,809.7 1191.5,808.6 1195.6,807.8 C1199.7,806.9 1202.9,806.7 1207.3,805.6 C1211.7,804.5 1217.0,802.8 1221.9,801.2 C1226.8,799.6 1231.6,797.3 1236.5,796.1 C1241.4,794.9 1246.3,794.2 1251.2,793.9 C1256.1,793.6 1260.9,794.7 1265.8,794.2 C1270.7,793.7 1276.0,791.7 1280.4,791.0 C1284.8,790.3 1288.2,790.0 1292.1,789.9 C1296.0,789.8 1299.7,790.7 1303.8,790.5 C1307.9,790.3 1312.5,789.1 1316.9,788.8 C1321.3,788.5 1325.4,788.8 1330.0,788.9 C1334.6,789.0 1339.0,789.1 1344.6,789.6 C1350.2,790.1 1357.5,791.9 1363.6,791.8 C1369.7,791.7 1375.8,789.8 1381.2,788.9 C1386.6,788.0 1390.2,787.0 1395.8,786.7 C1401.4,786.4 1408.7,786.1 1414.8,787.0 C1420.9,787.9 1427.4,790.4 1432.3,791.8 C1437.2,793.2 1439.1,793.9 1444.0,795.5 C1448.9,797.1 1456.1,799.8 1461.5,801.3 C1466.9,802.8 1472.0,803.4 1476.2,804.2 C1480.4,805.0 1483.2,806.1 1486.4,806.0 C1489.6,805.9 1492.0,804.6 1495.2,803.5 C1498.4,802.4 1501.3,800.3 1505.4,799.1 C1509.5,797.9 1515.1,797.2 1520.0,796.2 C1524.9,795.2 1529.7,794.3 1534.6,793.3 C1539.5,792.3 1545.0,791.0 1549.2,790.3 C1553.4,789.6 1558.2,789.2 1560.0,789.0" fill="none" stroke="#000" stroke-width="2.0" stroke-linejoin="round" stroke-linecap="round"/></g>
<rect x="1112.9" y="786.7" width="443.0" height="110.89999999999998" fill="none" stroke="#222" stroke-width="1.4"/>
<line x1="1114.9" y1="897.6" x2="1114.9" y2="902.6" stroke="#000" stroke-width="1.5"/>
<text x="1114.9" y="921.6" text-anchor="middle" font-size="21">0</text>
<line x1="1201.8" y1="897.6" x2="1201.8" y2="902.6" stroke="#000" stroke-width="1.5"/>
<text x="1201.8" y="921.6" text-anchor="middle" font-size="21">200</text>
<line x1="1288.7" y1="897.6" x2="1288.7" y2="902.6" stroke="#000" stroke-width="1.5"/>
<text x="1288.7" y="921.6" text-anchor="middle" font-size="21">400</text>
<line x1="1375.7" y1="897.6" x2="1375.7" y2="902.6" stroke="#000" stroke-width="1.5"/>
<text x="1375.7" y="921.6" text-anchor="middle" font-size="21">600</text>
<line x1="1462.6" y1="897.6" x2="1462.6" y2="902.6" stroke="#000" stroke-width="1.5"/>
<text x="1462.6" y="921.6" text-anchor="middle" font-size="21">800</text>
<line x1="1549.5" y1="897.6" x2="1549.5" y2="902.6" stroke="#000" stroke-width="1.5"/>
<text x="1549.5" y="921.6" text-anchor="middle" font-size="21">1000</text>
<line x1="1555.9" y1="875.8" x2="1560.9" y2="875.8" stroke="#000" stroke-width="1.5"/>
<text x="1565.4" y="883.4" font-size="21">1000</text>
<line x1="1555.9" y1="789.7" x2="1560.9" y2="789.7" stroke="#000" stroke-width="1.5"/>
<text x="1565.4" y="797.3" font-size="21">1200</text>
<text x="1334" y="778" text-anchor="middle" font-size="26">(e)</text>
<text x="1334" y="948" text-anchor="middle" font-size="21">Horizontal distance (m)</text>
<text transform="translate(1639.5,843) rotate(-90)" text-anchor="middle" font-size="21">Altitude (m)</text>
<rect x="1109.8" y="759.0" width="36.0" height="29" rx="4" fill="#fff" stroke="#000" stroke-width="1.4"/><text x="1127.8" y="780.7" text-anchor="middle" font-size="21.5">BE</text>
<rect x="1514.5" y="759.0" width="45.0" height="29" rx="4" fill="#fff" stroke="#000" stroke-width="1.4"/><text x="1537.0" y="780.7" text-anchor="middle" font-size="21.5">BW</text>
<clipPath id="cm"><rect x="127.3" y="60.8" width="518.3" height="843.1"/></clipPath>
<g clip-path="url(#cm)"><path d="M367.3 204.5h38.8v10.0h-38.8zM367.3 214.1h38.8v10.0h-38.8zM367.3 223.7h38.8v10.0h-38.8zM367.3 233.3h38.8v10.0h-38.8zM367.3 242.8h38.8v10.0h-38.8zM367.3 252.4h38.8v10.0h-38.8zM127.3 415.3h10.0v10.0h-10.0zM127.3 424.9h10.0v10.0h-10.0z" fill="rgb(16,16,16)" shape-rendering="crispEdges"/><path d="M127.3 175.8h10.0v10.0h-10.0zM127.3 185.3h10.0v10.0h-10.0zM357.7 185.3h19.6v10.0h-19.6zM357.7 194.9h48.4v10.0h-48.4zM357.7 204.5h10.0v10.0h-10.0zM357.7 214.1h10.0v10.0h-10.0zM357.7 223.7h10.0v10.0h-10.0zM357.7 233.3h10.0v10.0h-10.0zM405.6 233.3h10.0v10.0h-10.0zM357.7 242.8h10.0v10.0h-10.0zM357.7 252.4h10.0v10.0h-10.0zM367.3 262.0h19.6v10.0h-19.6zM127.3 405.7h10.0v10.0h-10.0zM136.9 415.3h10.0v10.0h-10.0zM136.9 424.9h10.0v10.0h-10.0zM127.3 434.4h10.0v10.0h-10.0zM597.6 894.3h10.0v10.0h-10.0z" fill="rgb(20,20,20)" shape-rendering="crispEdges"/><path d="M357.7 175.8h19.6v10.0h-19.6zM405.6 242.8h10.0v10.0h-10.0zM357.7 262.0h10.0v10.0h-10.0zM386.5 262.0h10.0v10.0h-10.0zM136.9 405.7h10.0v10.0h-10.0zM588.0 415.3h10.0v10.0h-10.0zM136.9 434.4h10.0v10.0h-10.0zM165.7 482.3h10.0v10.0h-10.0zM165.7 491.9h10.0v10.0h-10.0zM597.6 884.7h10.0v10.0h-10.0z" fill="rgb(24,24,24)" shape-rendering="crispEdges"/><path d="M127.3 166.2h10.0v10.0h-10.0zM136.9 175.8h10.0v10.0h-10.0zM136.9 185.3h10.0v10.0h-10.0zM348.1 185.3h10.0v10.0h-10.0zM376.9 185.3h29.2v10.0h-29.2zM127.3 194.9h10.0v10.0h-10.0zM348.1 194.9h10.0v10.0h-10.0zM405.6 194.9h10.0v10.0h-10.0zM348.1 204.5h10.0v10.0h-10.0zM405.6 204.5h10.0v10.0h-10.0zM348.1 214.1h10.0v10.0h-10.0zM405.6 214.1h10.0v10.0h-10.0zM348.1 223.7h10.0v10.0h-10.0zM405.6 223.7h10.0v10.0h-10.0zM348.1 233.3h10.0v10.0h-10.0zM415.2 233.3h10.0v10.0h-10.0zM348.1 242.8h10.0v10.0h-10.0zM348.1 252.4h10.0v10.0h-10.0zM367.3 271.6h19.6v10.0h-19.6zM127.3 396.1h10.0v10.0h-10.0zM146.5 415.3h10.0v10.0h-10.0zM597.6 415.3h10.0v10.0h-10.0zM146.5 424.9h10.0v10.0h-10.0zM127.3 444.0h10.0v10.0h-10.0zM607.2 894.3h10.0v10.0h-10.0z" fill="rgb(28,28,28)" shape-rendering="crispEdges"/><path d="M348.1 166.2h29.2v10.0h-29.2zM348.1 175.8h10.0v10.0h-10.0zM376.9 175.8h10.0v10.0h-10.0zM127.3 204.5h10.0v10.0h-10.0zM127.3 214.1h10.0v10.0h-10.0zM348.1 262.0h10.0v10.0h-10.0zM396.0 262.0h10.0v10.0h-10.0zM357.7 271.6h10.0v10.0h-10.0zM127.3 357.8h10.0v10.0h-10.0zM127.3 367.4h10.0v10.0h-10.0zM127.3 377.0h29.2v10.0h-29.2zM636.0 377.0h10.0v10.0h-10.0zM127.3 386.5h29.2v10.0h-29.2zM636.0 386.5h10.0v10.0h-10.0zM136.9 396.1h19.6v10.0h-19.6zM146.5 405.7h10.0v10.0h-10.0zM597.6 405.7h19.6v10.0h-19.6zM578.4 415.3h10.0v10.0h-10.0zM588.0 424.9h10.0v10.0h-10.0zM146.5 434.4h29.2v10.0h-29.2zM136.9 444.0h38.8v10.0h-38.8zM127.3 453.6h48.4v10.0h-48.4zM127.3 463.2h48.4v10.0h-48.4zM127.3 472.8h48.4v10.0h-48.4zM127.3 482.3h38.8v10.0h-38.8zM127.3 491.9h38.8v10.0h-38.8zM636.0 491.9h10.0v10.0h-10.0zM127.3 501.5h48.4v10.0h-48.4zM636.0 501.5h10.0v10.0h-10.0zM127.3 511.1h29.2v10.0h-29.2zM636.0 511.1h10.0v10.0h-10.0zM127.3 520.7h29.2v10.0h-29.2zM636.0 520.7h10.0v10.0h-10.0zM127.3 530.3h10.0v10.0h-10.0zM127.3 539.8h10.0v10.0h-10.0zM127.3 549.4h10.0v10.0h-10.0zM127.3 559.0h10.0v10.0h-10.0zM597.6 856.0h19.6v10.0h-19.6zM597.6 865.6h19.6v10.0h-19.6zM597.6 875.2h19.6v10.0h-19.6zM607.2 884.7h10.0v10.0h-10.0zM588.0 894.3h10.0v10.0h-10.0z" fill="rgb(32,32,32)" shape-rendering="crispEdges"/><path d="M357.7 156.6h10.0v10.0h-10.0zM338.5 223.7h10.0v10.0h-10.0zM328.9 233.3h19.6v10.0h-19.6zM328.9 242.8h19.6v10.0h-19.6zM338.5 252.4h10.0v10.0h-10.0zM136.9 357.8h10.0v10.0h-10.0zM136.9 367.4h19.6v10.0h-19.6zM626.4 386.5h10.0v10.0h-10.0zM616.8 396.1h10.0v10.0h-10.0zM156.1 415.3h10.0v10.0h-10.0zM607.2 415.3h10.0v10.0h-10.0zM156.1 424.9h19.6v10.0h-19.6zM597.6 424.9h10.0v10.0h-10.0zM175.3 482.3h10.0v10.0h-10.0zM156.1 511.1h10.0v10.0h-10.0zM136.9 530.3h19.6v10.0h-19.6zM136.9 539.8h10.0v10.0h-10.0zM511.2 578.2h10.0v10.0h-10.0zM511.2 587.7h10.0v10.0h-10.0zM511.2 597.3h10.0v10.0h-10.0zM616.8 817.7h19.6v10.0h-19.6zM616.8 827.3h10.0v10.0h-10.0zM607.2 836.8h10.0v10.0h-10.0zM597.6 846.4h19.6v10.0h-19.6zM588.0 884.7h10.0v10.0h-10.0z" fill="rgb(36,36,36)" shape-rendering="crispEdges"/><path d="M357.7 147.0h19.6v10.0h-19.6zM348.1 156.6h10.0v10.0h-10.0zM367.3 156.6h10.0v10.0h-10.0zM136.9 166.2h10.0v10.0h-10.0zM386.5 175.8h19.6v10.0h-19.6zM338.5 185.3h10.0v10.0h-10.0zM405.6 185.3h10.0v10.0h-10.0zM136.9 194.9h10.0v10.0h-10.0zM338.5 194.9h10.0v10.0h-10.0zM338.5 204.5h10.0v10.0h-10.0zM338.5 214.1h10.0v10.0h-10.0zM319.3 242.8h10.0v10.0h-10.0zM415.2 242.8h10.0v10.0h-10.0zM405.6 252.4h10.0v10.0h-10.0zM338.5 262.0h10.0v10.0h-10.0zM357.7 281.2h19.6v10.0h-19.6zM636.0 367.4h10.0v10.0h-10.0zM626.4 377.0h10.0v10.0h-10.0zM616.8 386.5h10.0v10.0h-10.0zM156.1 396.1h10.0v10.0h-10.0zM156.1 405.7h10.0v10.0h-10.0zM588.0 405.7h10.0v10.0h-10.0zM175.3 434.4h10.0v10.0h-10.0zM175.3 444.0h10.0v10.0h-10.0zM175.3 453.6h10.0v10.0h-10.0zM175.3 463.2h10.0v10.0h-10.0zM175.3 472.8h10.0v10.0h-10.0zM175.3 491.9h10.0v10.0h-10.0zM165.7 511.1h10.0v10.0h-10.0zM156.1 520.7h10.0v10.0h-10.0zM636.0 530.3h10.0v10.0h-10.0zM136.9 549.4h10.0v10.0h-10.0zM136.9 559.0h10.0v10.0h-10.0zM127.3 568.6h10.0v10.0h-10.0zM520.8 578.2h10.0v10.0h-10.0zM520.8 587.7h10.0v10.0h-10.0zM520.8 597.3h10.0v10.0h-10.0zM511.2 606.9h19.6v10.0h-19.6zM511.2 616.5h19.6v10.0h-19.6zM559.2 769.8h10.0v10.0h-10.0zM559.2 779.4h10.0v10.0h-10.0zM626.4 808.1h19.6v10.0h-19.6zM636.0 817.7h10.0v10.0h-10.0zM616.8 836.8h10.0v10.0h-10.0zM616.8 846.4h10.0v10.0h-10.0zM616.8 856.0h10.0v10.0h-10.0zM616.8 865.6h10.0v10.0h-10.0zM616.8 875.2h10.0v10.0h-10.0zM616.8 884.7h10.0v10.0h-10.0z" fill="rgb(40,40,40)" shape-rendering="crispEdges"/><path d="M300.1 99.1h19.6v10.0h-19.6zM338.5 166.2h10.0v10.0h-10.0zM376.9 166.2h10.0v10.0h-10.0zM338.5 175.8h10.0v10.0h-10.0zM136.9 204.5h10.0v10.0h-10.0zM415.2 204.5h10.0v10.0h-10.0zM136.9 214.1h10.0v10.0h-10.0zM127.3 223.7h10.0v10.0h-10.0zM328.9 223.7h10.0v10.0h-10.0zM415.2 223.7h10.0v10.0h-10.0zM319.3 233.3h10.0v10.0h-10.0zM424.8 233.3h10.0v10.0h-10.0zM328.9 252.4h10.0v10.0h-10.0zM348.1 271.6h10.0v10.0h-10.0zM386.5 271.6h10.0v10.0h-10.0zM146.5 357.8h10.0v10.0h-10.0zM156.1 367.4h10.0v10.0h-10.0zM156.1 377.0h10.0v10.0h-10.0zM156.1 386.5h10.0v10.0h-10.0zM607.2 396.1h10.0v10.0h-10.0zM626.4 396.1h10.0v10.0h-10.0zM616.8 405.7h10.0v10.0h-10.0zM165.7 415.3h10.0v10.0h-10.0zM578.4 424.9h10.0v10.0h-10.0zM367.3 520.7h10.0v10.0h-10.0zM357.7 530.3h10.0v10.0h-10.0zM146.5 539.8h10.0v10.0h-10.0zM520.8 549.4h10.0v10.0h-10.0zM520.8 559.0h10.0v10.0h-10.0zM511.2 568.6h19.6v10.0h-19.6zM511.2 626.1h19.6v10.0h-19.6zM616.8 808.1h10.0v10.0h-10.0zM607.2 827.3h10.0v10.0h-10.0zM626.4 827.3h10.0v10.0h-10.0zM597.6 836.8h10.0v10.0h-10.0zM588.0 875.2h10.0v10.0h-10.0zM616.8 894.3h10.0v10.0h-10.0z" fill="rgb(44,44,44)" shape-rendering="crispEdges"/><path d="M309.7 89.5h10.0v10.0h-10.0zM376.9 156.6h10.0v10.0h-10.0zM386.5 166.2h10.0v10.0h-10.0zM146.5 175.8h10.0v10.0h-10.0zM405.6 175.8h10.0v10.0h-10.0zM146.5 185.3h10.0v10.0h-10.0zM328.9 194.9h10.0v10.0h-10.0zM415.2 194.9h10.0v10.0h-10.0zM328.9 204.5h10.0v10.0h-10.0zM328.9 214.1h10.0v10.0h-10.0zM136.9 223.7h10.0v10.0h-10.0zM309.7 242.8h10.0v10.0h-10.0zM309.7 252.4h19.6v10.0h-19.6zM328.9 262.0h10.0v10.0h-10.0zM328.9 271.6h19.6v10.0h-19.6zM348.1 281.2h10.0v10.0h-10.0zM376.9 281.2h10.0v10.0h-10.0zM348.1 290.7h19.6v10.0h-19.6zM127.3 348.2h19.6v10.0h-19.6zM636.0 357.8h10.0v10.0h-10.0zM626.4 367.4h10.0v10.0h-10.0zM636.0 396.1h10.0v10.0h-10.0zM165.7 405.7h10.0v10.0h-10.0zM175.3 424.9h10.0v10.0h-10.0zM184.9 444.0h10.0v10.0h-10.0zM184.9 453.6h10.0v10.0h-10.0zM626.4 491.9h10.0v10.0h-10.0zM175.3 501.5h10.0v10.0h-10.0zM626.4 501.5h10.0v10.0h-10.0zM626.4 511.1h10.0v10.0h-10.0zM357.7 520.7h10.0v10.0h-10.0zM626.4 520.7h10.0v10.0h-10.0zM156.1 530.3h10.0v10.0h-10.0zM367.3 530.3h10.0v10.0h-10.0zM626.4 530.3h10.0v10.0h-10.0zM520.8 539.8h10.0v10.0h-10.0zM636.0 539.8h10.0v10.0h-10.0zM146.5 549.4h10.0v10.0h-10.0zM511.2 549.4h10.0v10.0h-10.0zM511.2 559.0h10.0v10.0h-10.0zM136.9 568.6h10.0v10.0h-10.0zM127.3 578.2h10.0v10.0h-10.0zM559.2 760.2h19.6v10.0h-19.6zM568.8 769.8h10.0v10.0h-10.0zM559.2 788.9h10.0v10.0h-10.0zM636.0 798.5h10.0v10.0h-10.0zM636.0 827.3h10.0v10.0h-10.0zM626.4 836.8h10.0v10.0h-10.0zM626.4 846.4h10.0v10.0h-10.0zM588.0 856.0h10.0v10.0h-10.0zM626.4 856.0h10.0v10.0h-10.0zM588.0 865.6h10.0v10.0h-10.0zM626.4 865.6h10.0v10.0h-10.0zM626.4 875.2h10.0v10.0h-10.0z" fill="rgb(48,48,48)" shape-rendering="crispEdges"/><path d="M300.1 89.5h10.0v10.0h-10.0zM319.3 89.5h10.0v10.0h-10.0zM300.1 108.7h10.0v10.0h-10.0zM175.3 118.3h10.0v10.0h-10.0zM175.3 127.9h10.0v10.0h-10.0zM232.9 127.9h10.0v10.0h-10.0zM367.3 137.4h10.0v10.0h-10.0zM348.1 147.0h10.0v10.0h-10.0zM415.2 214.1h10.0v10.0h-10.0zM319.3 223.7h10.0v10.0h-10.0zM309.7 233.3h10.0v10.0h-10.0zM290.5 242.8h19.6v10.0h-19.6zM290.5 252.4h19.6v10.0h-19.6zM300.1 262.0h29.2v10.0h-29.2zM309.7 271.6h19.6v10.0h-19.6zM319.3 281.2h29.2v10.0h-29.2zM328.9 290.7h19.6v10.0h-19.6zM156.1 357.8h10.0v10.0h-10.0zM616.8 377.0h10.0v10.0h-10.0zM607.2 424.9h10.0v10.0h-10.0zM636.0 482.3h10.0v10.0h-10.0zM367.3 511.1h10.0v10.0h-10.0zM165.7 520.7h10.0v10.0h-10.0zM357.7 539.8h10.0v10.0h-10.0zM367.3 578.2h10.0v10.0h-10.0zM511.2 635.6h19.6v10.0h-19.6zM626.4 798.5h10.0v10.0h-10.0zM636.0 836.8h10.0v10.0h-10.0zM636.0 846.4h10.0v10.0h-10.0zM636.0 856.0h10.0v10.0h-10.0zM636.0 865.6h10.0v10.0h-10.0z" fill="rgb(52,52,52)" shape-rendering="crispEdges"/><path d="M338.5 60.8h19.6v10.0h-19.6zM338.5 70.4h10.0v10.0h-10.0zM309.7 80.0h29.2v10.0h-29.2zM319.3 99.1h10.0v10.0h-10.0zM309.7 108.7h10.0v10.0h-10.0zM232.9 118.3h38.8v10.0h-38.8zM242.5 127.9h29.2v10.0h-29.2zM232.9 137.4h10.0v10.0h-10.0zM357.7 137.4h10.0v10.0h-10.0zM376.9 147.0h10.0v10.0h-10.0zM338.5 156.6h10.0v10.0h-10.0zM146.5 166.2h10.0v10.0h-10.0zM396.0 166.2h10.0v10.0h-10.0zM328.9 185.3h10.0v10.0h-10.0zM415.2 185.3h10.0v10.0h-10.0zM146.5 194.9h10.0v10.0h-10.0zM319.3 204.5h10.0v10.0h-10.0zM319.3 214.1h10.0v10.0h-10.0zM300.1 233.3h10.0v10.0h-10.0zM280.9 252.4h10.0v10.0h-10.0zM280.9 262.0h19.6v10.0h-19.6zM271.3 271.6h10.0v10.0h-10.0zM300.1 271.6h10.0v10.0h-10.0zM309.7 281.2h10.0v10.0h-10.0zM319.3 290.7h10.0v10.0h-10.0zM367.3 290.7h10.0v10.0h-10.0zM328.9 300.3h10.0v10.0h-10.0zM146.5 348.2h10.0v10.0h-10.0zM165.7 396.1h10.0v10.0h-10.0zM578.4 405.7h10.0v10.0h-10.0zM616.8 415.3h10.0v10.0h-10.0zM184.9 434.4h10.0v10.0h-10.0zM588.0 434.4h19.6v10.0h-19.6zM184.9 463.2h10.0v10.0h-10.0zM367.3 539.8h10.0v10.0h-10.0zM511.2 539.8h10.0v10.0h-10.0zM626.4 539.8h10.0v10.0h-10.0zM357.7 549.4h10.0v10.0h-10.0zM636.0 549.4h10.0v10.0h-10.0zM146.5 559.0h10.0v10.0h-10.0zM357.7 559.0h10.0v10.0h-10.0zM357.7 568.6h19.6v10.0h-19.6zM376.9 578.2h10.0v10.0h-10.0zM376.9 587.7h19.6v10.0h-19.6zM396.0 597.3h10.0v10.0h-10.0zM636.0 606.9h10.0v10.0h-10.0zM511.2 645.2h19.6v10.0h-19.6zM520.8 654.8h10.0v10.0h-10.0zM520.8 664.4h10.0v10.0h-10.0zM520.8 674.0h10.0v10.0h-10.0zM568.8 779.4h10.0v10.0h-10.0zM636.0 788.9h10.0v10.0h-10.0zM607.2 817.7h10.0v10.0h-10.0zM588.0 846.4h10.0v10.0h-10.0zM636.0 875.2h10.0v10.0h-10.0zM626.4 884.7h10.0v10.0h-10.0z" fill="rgb(56,56,56)" shape-rendering="crispEdges"/><path d="M328.9 70.4h10.0v10.0h-10.0zM348.1 70.4h10.0v10.0h-10.0zM300.1 80.0h10.0v10.0h-10.0zM338.5 80.0h10.0v10.0h-10.0zM290.5 99.1h10.0v10.0h-10.0zM271.3 118.3h10.0v10.0h-10.0zM165.7 127.9h10.0v10.0h-10.0zM223.3 127.9h10.0v10.0h-10.0zM271.3 127.9h10.0v10.0h-10.0zM223.3 137.4h10.0v10.0h-10.0zM242.5 137.4h10.0v10.0h-10.0zM156.1 147.0h10.0v10.0h-10.0zM232.9 147.0h10.0v10.0h-10.0zM386.5 156.6h10.0v10.0h-10.0zM405.6 166.2h10.0v10.0h-10.0zM156.1 175.8h10.0v10.0h-10.0zM415.2 175.8h10.0v10.0h-10.0zM156.1 185.3h10.0v10.0h-10.0zM319.3 194.9h10.0v10.0h-10.0zM146.5 204.5h10.0v10.0h-10.0zM146.5 214.1h10.0v10.0h-10.0zM146.5 223.7h10.0v10.0h-10.0zM309.7 223.7h10.0v10.0h-10.0zM127.3 233.3h19.6v10.0h-19.6zM290.5 233.3h10.0v10.0h-10.0zM280.9 242.8h10.0v10.0h-10.0zM424.8 242.8h10.0v10.0h-10.0zM271.3 262.0h10.0v10.0h-10.0zM280.9 271.6h19.6v10.0h-19.6zM271.3 281.2h10.0v10.0h-10.0zM300.1 281.2h10.0v10.0h-10.0zM309.7 290.7h10.0v10.0h-10.0zM319.3 300.3h10.0v10.0h-10.0zM338.5 300.3h29.2v10.0h-29.2zM156.1 348.2h10.0v10.0h-10.0zM636.0 348.2h10.0v10.0h-10.0zM626.4 357.8h10.0v10.0h-10.0zM165.7 367.4h10.0v10.0h-10.0zM165.7 377.0h10.0v10.0h-10.0zM165.7 386.5h10.0v10.0h-10.0zM607.2 386.5h10.0v10.0h-10.0zM597.6 396.1h10.0v10.0h-10.0zM175.3 415.3h10.0v10.0h-10.0zM280.9 424.9h10.0v10.0h-10.0zM280.9 434.4h19.6v10.0h-19.6zM184.9 472.8h10.0v10.0h-10.0zM357.7 511.1h10.0v10.0h-10.0zM376.9 520.7h10.0v10.0h-10.0zM348.1 530.3h10.0v10.0h-10.0zM520.8 530.3h10.0v10.0h-10.0zM156.1 539.8h10.0v10.0h-10.0zM530.4 539.8h10.0v10.0h-10.0zM367.3 549.4h10.0v10.0h-10.0zM367.3 559.0h10.0v10.0h-10.0zM136.9 578.2h10.0v10.0h-10.0zM357.7 578.2h10.0v10.0h-10.0zM367.3 587.7h10.0v10.0h-10.0zM396.0 587.7h10.0v10.0h-10.0zM386.5 597.3h10.0v10.0h-10.0zM636.0 597.3h10.0v10.0h-10.0zM511.2 654.8h10.0v10.0h-10.0zM511.2 664.4h10.0v10.0h-10.0zM511.2 674.0h10.0v10.0h-10.0zM520.8 683.5h10.0v10.0h-10.0zM357.7 721.9h10.0v10.0h-10.0zM357.7 731.4h10.0v10.0h-10.0zM549.6 769.8h10.0v10.0h-10.0zM549.6 779.4h10.0v10.0h-10.0zM559.2 798.5h10.0v10.0h-10.0zM319.3 875.2h10.0v10.0h-10.0zM319.3 884.7h10.0v10.0h-10.0zM319.3 894.3h10.0v10.0h-10.0zM626.4 894.3h10.0v10.0h-10.0z" fill="rgb(60,60,60)" shape-rendering="crispEdges"/><path d="M328.9 60.8h10.0v10.0h-10.0zM357.7 60.8h10.0v10.0h-10.0zM309.7 70.4h19.6v10.0h-19.6zM290.5 89.5h10.0v10.0h-10.0zM328.9 89.5h10.0v10.0h-10.0zM175.3 108.7h10.0v10.0h-10.0zM232.9 108.7h48.4v10.0h-48.4zM290.5 108.7h10.0v10.0h-10.0zM223.3 118.3h10.0v10.0h-10.0zM280.9 118.3h10.0v10.0h-10.0zM165.7 137.4h19.6v10.0h-19.6zM252.1 137.4h19.6v10.0h-19.6zM376.9 137.4h10.0v10.0h-10.0zM165.7 147.0h10.0v10.0h-10.0zM223.3 147.0h10.0v10.0h-10.0zM156.1 156.6h10.0v10.0h-10.0zM156.1 166.2h10.0v10.0h-10.0zM415.2 166.2h10.0v10.0h-10.0zM165.7 175.8h10.0v10.0h-10.0zM328.9 175.8h10.0v10.0h-10.0zM165.7 185.3h10.0v10.0h-10.0zM156.1 194.9h10.0v10.0h-10.0zM309.7 204.5h10.0v10.0h-10.0zM309.7 214.1h10.0v10.0h-10.0zM424.8 223.7h10.0v10.0h-10.0zM146.5 233.3h10.0v10.0h-10.0zM405.6 262.0h10.0v10.0h-10.0zM261.7 271.6h10.0v10.0h-10.0zM261.7 281.2h10.0v10.0h-10.0zM386.5 281.2h10.0v10.0h-10.0zM309.7 300.3h10.0v10.0h-10.0zM319.3 309.9h10.0v10.0h-10.0zM165.7 348.2h10.0v10.0h-10.0zM165.7 357.8h10.0v10.0h-10.0zM175.3 405.7h10.0v10.0h-10.0zM626.4 405.7h10.0v10.0h-10.0zM280.9 415.3h10.0v10.0h-10.0zM271.3 424.9h10.0v10.0h-10.0zM290.5 424.9h10.0v10.0h-10.0zM290.5 444.0h10.0v10.0h-10.0zM300.1 463.2h19.6v10.0h-19.6zM184.9 482.3h10.0v10.0h-10.0zM626.4 482.3h10.0v10.0h-10.0zM175.3 511.1h10.0v10.0h-10.0zM376.9 511.1h10.0v10.0h-10.0zM376.9 530.3h10.0v10.0h-10.0zM530.4 530.3h10.0v10.0h-10.0zM348.1 539.8h10.0v10.0h-10.0zM348.1 549.4h10.0v10.0h-10.0zM530.4 549.4h10.0v10.0h-10.0zM626.4 549.4h10.0v10.0h-10.0zM348.1 559.0h10.0v10.0h-10.0zM636.0 559.0h10.0v10.0h-10.0zM386.5 578.2h10.0v10.0h-10.0zM357.7 587.7h10.0v10.0h-10.0zM396.0 606.9h10.0v10.0h-10.0zM636.0 616.5h10.0v10.0h-10.0zM511.2 683.5h10.0v10.0h-10.0zM520.8 693.1h10.0v10.0h-10.0zM357.7 712.3h10.0v10.0h-10.0zM367.3 721.9h10.0v10.0h-10.0zM367.3 731.4h10.0v10.0h-10.0zM568.8 750.6h10.0v10.0h-10.0zM549.6 760.2h10.0v10.0h-10.0zM578.4 760.2h10.0v10.0h-10.0zM636.0 779.4h10.0v10.0h-10.0zM549.6 788.9h10.0v10.0h-10.0zM626.4 788.9h10.0v10.0h-10.0zM616.8 798.5h10.0v10.0h-10.0zM597.6 827.3h10.0v10.0h-10.0zM319.3 865.6h10.0v10.0h-10.0zM328.9 875.2h10.0v10.0h-10.0zM636.0 884.7h10.0v10.0h-10.0z" fill="rgb(64,64,64)" shape-rendering="crispEdges"/><path d="M309.7 60.8h19.6v10.0h-19.6zM300.1 70.4h10.0v10.0h-10.0zM357.7 70.4h10.0v10.0h-10.0zM290.5 80.0h10.0v10.0h-10.0zM348.1 80.0h10.0v10.0h-10.0zM280.9 99.1h10.0v10.0h-10.0zM184.9 108.7h10.0v10.0h-10.0zM223.3 108.7h10.0v10.0h-10.0zM280.9 108.7h10.0v10.0h-10.0zM290.5 118.3h10.0v10.0h-10.0zM280.9 127.9h10.0v10.0h-10.0zM156.1 137.4h10.0v10.0h-10.0zM271.3 137.4h10.0v10.0h-10.0zM242.5 147.0h10.0v10.0h-10.0zM386.5 147.0h10.0v10.0h-10.0zM146.5 156.6h10.0v10.0h-10.0zM165.7 156.6h19.6v10.0h-19.6zM223.3 156.6h19.6v10.0h-19.6zM396.0 156.6h10.0v10.0h-10.0zM165.7 166.2h10.0v10.0h-10.0zM328.9 166.2h10.0v10.0h-10.0zM319.3 185.3h10.0v10.0h-10.0zM165.7 194.9h10.0v10.0h-10.0zM309.7 194.9h10.0v10.0h-10.0zM156.1 204.5h19.6v10.0h-19.6zM156.1 214.1h19.6v10.0h-19.6zM156.1 223.7h19.6v10.0h-19.6zM156.1 233.3h19.6v10.0h-19.6zM271.3 252.4h10.0v10.0h-10.0zM261.7 262.0h10.0v10.0h-10.0zM396.0 271.6h10.0v10.0h-10.0zM127.3 281.2h10.0v10.0h-10.0zM280.9 281.2h19.6v10.0h-19.6zM127.3 290.7h10.0v10.0h-10.0zM261.7 290.7h19.6v10.0h-19.6zM300.1 290.7h10.0v10.0h-10.0zM309.7 309.9h10.0v10.0h-10.0zM328.9 309.9h10.0v10.0h-10.0zM309.7 319.5h10.0v10.0h-10.0zM616.8 367.4h10.0v10.0h-10.0zM271.3 415.3h10.0v10.0h-10.0zM568.8 415.3h10.0v10.0h-10.0zM184.9 424.9h10.0v10.0h-10.0zM578.4 434.4h10.0v10.0h-10.0zM194.5 444.0h10.0v10.0h-10.0zM300.1 453.6h10.0v10.0h-10.0zM309.7 472.8h10.0v10.0h-10.0zM530.4 520.7h10.0v10.0h-10.0zM511.2 530.3h10.0v10.0h-10.0zM530.4 559.0h10.0v10.0h-10.0zM626.4 559.0h10.0v10.0h-10.0zM146.5 568.6h10.0v10.0h-10.0zM348.1 568.6h10.0v10.0h-10.0zM501.6 578.2h10.0v10.0h-10.0zM376.9 597.3h10.0v10.0h-10.0zM386.5 606.9h10.0v10.0h-10.0zM357.7 702.7h10.0v10.0h-10.0zM367.3 712.3h10.0v10.0h-10.0zM357.7 741.0h10.0v10.0h-10.0zM636.0 760.2h10.0v10.0h-10.0zM578.4 769.8h10.0v10.0h-10.0zM636.0 769.8h10.0v10.0h-10.0zM588.0 836.8h10.0v10.0h-10.0zM319.3 856.0h10.0v10.0h-10.0zM280.9 865.6h10.0v10.0h-10.0zM328.9 865.6h10.0v10.0h-10.0zM271.3 875.2h19.6v10.0h-19.6zM271.3 884.7h19.6v10.0h-19.6zM328.9 884.7h10.0v10.0h-10.0zM578.4 884.7h10.0v10.0h-10.0zM271.3 894.3h19.6v10.0h-19.6zM328.9 894.3h10.0v10.0h-10.0zM578.4 894.3h10.0v10.0h-10.0zM636.0 894.3h10.0v10.0h-10.0z" fill="rgb(68,68,68)" shape-rendering="crispEdges"/><path d="M300.1 60.8h10.0v10.0h-10.0zM367.3 60.8h10.0v10.0h-10.0zM280.9 89.5h10.0v10.0h-10.0zM232.9 99.1h48.4v10.0h-48.4zM165.7 118.3h10.0v10.0h-10.0zM184.9 118.3h10.0v10.0h-10.0zM300.1 118.3h10.0v10.0h-10.0zM175.3 147.0h10.0v10.0h-10.0zM252.1 147.0h19.6v10.0h-19.6zM184.9 156.6h10.0v10.0h-10.0zM405.6 156.6h19.6v10.0h-19.6zM175.3 166.2h10.0v10.0h-10.0zM424.8 166.2h10.0v10.0h-10.0zM424.8 175.8h10.0v10.0h-10.0zM424.8 185.3h10.0v10.0h-10.0zM424.8 194.9h10.0v10.0h-10.0zM424.8 204.5h10.0v10.0h-10.0zM175.3 214.1h10.0v10.0h-10.0zM175.3 223.7h10.0v10.0h-10.0zM300.1 223.7h10.0v10.0h-10.0zM175.3 233.3h10.0v10.0h-10.0zM280.9 233.3h10.0v10.0h-10.0zM127.3 242.8h48.4v10.0h-48.4zM271.3 242.8h10.0v10.0h-10.0zM127.3 271.6h10.0v10.0h-10.0zM136.9 281.2h10.0v10.0h-10.0zM136.9 290.7h10.0v10.0h-10.0zM127.3 300.3h10.0v10.0h-10.0zM300.1 300.3h10.0v10.0h-10.0zM367.3 300.3h10.0v10.0h-10.0zM300.1 309.9h10.0v10.0h-10.0zM338.5 309.9h10.0v10.0h-10.0zM300.1 319.5h10.0v10.0h-10.0zM319.3 319.5h10.0v10.0h-10.0zM300.1 329.1h19.6v10.0h-19.6zM127.3 338.6h19.6v10.0h-19.6zM165.7 338.6h19.6v10.0h-19.6zM175.3 348.2h10.0v10.0h-10.0zM626.4 348.2h10.0v10.0h-10.0zM175.3 357.8h10.0v10.0h-10.0zM175.3 367.4h10.0v10.0h-10.0zM175.3 377.0h10.0v10.0h-10.0zM175.3 386.5h10.0v10.0h-10.0zM175.3 396.1h10.0v10.0h-10.0zM271.3 405.7h19.6v10.0h-19.6zM636.0 405.7h10.0v10.0h-10.0zM261.7 415.3h10.0v10.0h-10.0zM290.5 415.3h10.0v10.0h-10.0zM261.7 424.9h10.0v10.0h-10.0zM568.8 424.9h10.0v10.0h-10.0zM194.5 434.4h10.0v10.0h-10.0zM271.3 434.4h10.0v10.0h-10.0zM607.2 434.4h10.0v10.0h-10.0zM280.9 444.0h10.0v10.0h-10.0zM300.1 444.0h10.0v10.0h-10.0zM194.5 453.6h10.0v10.0h-10.0zM290.5 453.6h10.0v10.0h-10.0zM309.7 453.6h10.0v10.0h-10.0zM300.1 472.8h10.0v10.0h-10.0zM530.4 511.1h10.0v10.0h-10.0zM616.8 511.1h10.0v10.0h-10.0zM348.1 520.7h10.0v10.0h-10.0zM520.8 520.7h10.0v10.0h-10.0zM616.8 520.7h10.0v10.0h-10.0zM165.7 530.3h10.0v10.0h-10.0zM616.8 530.3h10.0v10.0h-10.0zM376.9 539.8h10.0v10.0h-10.0zM156.1 549.4h10.0v10.0h-10.0zM501.6 549.4h10.0v10.0h-10.0zM501.6 559.0h10.0v10.0h-10.0zM376.9 568.6h10.0v10.0h-10.0zM501.6 568.6h10.0v10.0h-10.0zM636.0 568.6h10.0v10.0h-10.0zM348.1 578.2h10.0v10.0h-10.0zM501.6 587.7h10.0v10.0h-10.0zM348.1 597.3h10.0v10.0h-10.0zM367.3 597.3h10.0v10.0h-10.0zM636.0 626.1h10.0v10.0h-10.0zM607.2 683.5h10.0v10.0h-10.0zM511.2 693.1h10.0v10.0h-10.0zM607.2 693.1h19.6v10.0h-19.6zM520.8 702.7h10.0v10.0h-10.0zM588.0 721.9h19.6v10.0h-19.6zM559.2 750.6h10.0v10.0h-10.0zM578.4 750.6h10.0v10.0h-10.0zM280.9 798.5h19.6v10.0h-19.6zM549.6 798.5h10.0v10.0h-10.0zM280.9 808.1h19.6v10.0h-19.6zM607.2 808.1h10.0v10.0h-10.0zM280.9 817.7h19.6v10.0h-19.6zM280.9 827.3h19.6v10.0h-19.6zM280.9 836.8h19.6v10.0h-19.6zM280.9 846.4h19.6v10.0h-19.6zM280.9 856.0h19.6v10.0h-19.6zM328.9 856.0h10.0v10.0h-10.0zM271.3 865.6h10.0v10.0h-10.0zM290.5 865.6h10.0v10.0h-10.0zM261.7 875.2h10.0v10.0h-10.0zM290.5 875.2h10.0v10.0h-10.0zM578.4 875.2h10.0v10.0h-10.0zM261.7 884.7h10.0v10.0h-10.0zM290.5 884.7h10.0v10.0h-10.0zM261.7 894.3h10.0v10.0h-10.0zM290.5 894.3h10.0v10.0h-10.0z" fill="rgb(72,72,72)" shape-rendering="crispEdges"/><path d="M290.5 70.4h10.0v10.0h-10.0zM280.9 80.0h10.0v10.0h-10.0zM357.7 80.0h10.0v10.0h-10.0zM271.3 89.5h10.0v10.0h-10.0zM338.5 89.5h10.0v10.0h-10.0zM223.3 99.1h10.0v10.0h-10.0zM328.9 99.1h10.0v10.0h-10.0zM194.5 108.7h10.0v10.0h-10.0zM319.3 108.7h10.0v10.0h-10.0zM213.7 118.3h10.0v10.0h-10.0zM184.9 127.9h10.0v10.0h-10.0zM213.7 127.9h10.0v10.0h-10.0zM367.3 127.9h10.0v10.0h-10.0zM213.7 137.4h10.0v10.0h-10.0zM280.9 137.4h10.0v10.0h-10.0zM386.5 137.4h10.0v10.0h-10.0zM184.9 147.0h10.0v10.0h-10.0zM213.7 147.0h10.0v10.0h-10.0zM271.3 147.0h10.0v10.0h-10.0zM338.5 147.0h10.0v10.0h-10.0zM396.0 147.0h10.0v10.0h-10.0zM194.5 156.6h10.0v10.0h-10.0zM242.5 156.6h10.0v10.0h-10.0zM424.8 156.6h10.0v10.0h-10.0zM184.9 166.2h10.0v10.0h-10.0zM223.3 166.2h19.6v10.0h-19.6zM175.3 175.8h10.0v10.0h-10.0zM319.3 175.8h10.0v10.0h-10.0zM175.3 185.3h10.0v10.0h-10.0zM309.7 185.3h10.0v10.0h-10.0zM175.3 194.9h10.0v10.0h-10.0zM175.3 204.5h10.0v10.0h-10.0zM300.1 214.1h10.0v10.0h-10.0zM424.8 214.1h10.0v10.0h-10.0zM434.4 233.3h10.0v10.0h-10.0zM175.3 242.8h10.0v10.0h-10.0zM136.9 271.6h10.0v10.0h-10.0zM252.1 271.6h10.0v10.0h-10.0zM252.1 281.2h10.0v10.0h-10.0zM280.9 290.7h19.6v10.0h-19.6zM376.9 290.7h10.0v10.0h-10.0zM136.9 300.3h10.0v10.0h-10.0zM261.7 300.3h19.6v10.0h-19.6zM223.3 309.9h19.6v10.0h-19.6zM348.1 309.9h19.6v10.0h-19.6zM328.9 319.5h10.0v10.0h-10.0zM165.7 329.1h19.6v10.0h-19.6zM319.3 329.1h10.0v10.0h-10.0zM146.5 338.6h19.6v10.0h-19.6zM300.1 338.6h19.6v10.0h-19.6zM636.0 338.6h10.0v10.0h-10.0zM261.7 405.7h10.0v10.0h-10.0zM300.1 434.4h10.0v10.0h-10.0zM184.9 491.9h10.0v10.0h-10.0zM367.3 501.5h10.0v10.0h-10.0zM530.4 501.5h10.0v10.0h-10.0zM616.8 501.5h10.0v10.0h-10.0zM386.5 511.1h10.0v10.0h-10.0zM520.8 511.1h10.0v10.0h-10.0zM338.5 530.3h10.0v10.0h-10.0zM501.6 539.8h10.0v10.0h-10.0zM616.8 539.8h10.0v10.0h-10.0zM376.9 549.4h10.0v10.0h-10.0zM616.8 549.4h10.0v10.0h-10.0zM376.9 559.0h10.0v10.0h-10.0zM530.4 568.6h10.0v10.0h-10.0zM348.1 587.7h10.0v10.0h-10.0zM636.0 587.7h10.0v10.0h-10.0zM357.7 597.3h10.0v10.0h-10.0zM501.6 597.3h10.0v10.0h-10.0zM348.1 606.9h10.0v10.0h-10.0zM376.9 606.9h10.0v10.0h-10.0zM626.4 606.9h10.0v10.0h-10.0zM396.0 616.5h10.0v10.0h-10.0zM607.2 674.0h10.0v10.0h-10.0zM616.8 683.5h10.0v10.0h-10.0zM357.7 693.1h10.0v10.0h-10.0zM367.3 702.7h10.0v10.0h-10.0zM607.2 702.7h19.6v10.0h-19.6zM348.1 712.3h10.0v10.0h-10.0zM588.0 712.3h19.6v10.0h-19.6zM348.1 721.9h10.0v10.0h-10.0zM348.1 731.4h10.0v10.0h-10.0zM588.0 731.4h19.6v10.0h-19.6zM367.3 741.0h10.0v10.0h-10.0zM636.0 750.6h10.0v10.0h-10.0zM626.4 760.2h10.0v10.0h-10.0zM626.4 779.4h10.0v10.0h-10.0zM280.9 788.9h19.6v10.0h-19.6zM568.8 788.9h10.0v10.0h-10.0zM559.2 808.1h10.0v10.0h-10.0zM319.3 846.4h10.0v10.0h-10.0zM271.3 856.0h10.0v10.0h-10.0zM261.7 865.6h10.0v10.0h-10.0zM309.7 865.6h10.0v10.0h-10.0zM578.4 865.6h10.0v10.0h-10.0zM309.7 875.2h10.0v10.0h-10.0zM309.7 884.7h10.0v10.0h-10.0zM309.7 894.3h10.0v10.0h-10.0z" fill="rgb(76,76,76)" shape-rendering="crispEdges"/><path d="M290.5 60.8h10.0v10.0h-10.0zM376.9 60.8h10.0v10.0h-10.0zM280.9 70.4h10.0v10.0h-10.0zM367.3 70.4h10.0v10.0h-10.0zM271.3 80.0h10.0v10.0h-10.0zM223.3 89.5h48.4v10.0h-48.4zM194.5 99.1h10.0v10.0h-10.0zM213.7 99.1h10.0v10.0h-10.0zM204.1 108.7h19.6v10.0h-19.6zM194.5 118.3h10.0v10.0h-10.0zM290.5 127.9h10.0v10.0h-10.0zM376.9 127.9h10.0v10.0h-10.0zM184.9 137.4h10.0v10.0h-10.0zM348.1 137.4h10.0v10.0h-10.0zM194.5 147.0h10.0v10.0h-10.0zM405.6 147.0h29.2v10.0h-29.2zM136.9 156.6h10.0v10.0h-10.0zM204.1 156.6h19.6v10.0h-19.6zM252.1 156.6h19.6v10.0h-19.6zM434.4 156.6h10.0v10.0h-10.0zM194.5 166.2h10.0v10.0h-10.0zM242.5 166.2h10.0v10.0h-10.0zM434.4 166.2h10.0v10.0h-10.0zM232.9 175.8h10.0v10.0h-10.0zM434.4 175.8h10.0v10.0h-10.0zM300.1 194.9h10.0v10.0h-10.0zM300.1 204.5h10.0v10.0h-10.0zM184.9 223.7h10.0v10.0h-10.0zM184.9 233.3h10.0v10.0h-10.0zM127.3 252.4h48.4v10.0h-48.4zM261.7 252.4h10.0v10.0h-10.0zM127.3 262.0h19.6v10.0h-19.6zM252.1 262.0h10.0v10.0h-10.0zM146.5 271.6h10.0v10.0h-10.0zM146.5 281.2h10.0v10.0h-10.0zM146.5 290.7h10.0v10.0h-10.0zM252.1 290.7h10.0v10.0h-10.0zM146.5 300.3h10.0v10.0h-10.0zM232.9 300.3h10.0v10.0h-10.0zM252.1 300.3h10.0v10.0h-10.0zM280.9 300.3h19.6v10.0h-19.6zM127.3 309.9h19.6v10.0h-19.6zM242.5 309.9h10.0v10.0h-10.0zM261.7 309.9h19.6v10.0h-19.6zM290.5 309.9h10.0v10.0h-10.0zM165.7 319.5h19.6v10.0h-19.6zM223.3 319.5h19.6v10.0h-19.6zM290.5 319.5h10.0v10.0h-10.0zM338.5 319.5h10.0v10.0h-10.0zM156.1 329.1h10.0v10.0h-10.0zM184.9 329.1h10.0v10.0h-10.0zM290.5 329.1h10.0v10.0h-10.0zM328.9 329.1h10.0v10.0h-10.0zM184.9 338.6h10.0v10.0h-10.0zM319.3 338.6h10.0v10.0h-10.0zM184.9 348.2h10.0v10.0h-10.0zM309.7 348.2h10.0v10.0h-10.0zM184.9 357.8h10.0v10.0h-10.0zM616.8 357.8h10.0v10.0h-10.0zM184.9 367.4h10.0v10.0h-10.0zM184.9 377.0h10.0v10.0h-10.0zM607.2 377.0h10.0v10.0h-10.0zM184.9 386.5h10.0v10.0h-10.0zM271.3 396.1h19.6v10.0h-19.6zM588.0 396.1h10.0v10.0h-10.0zM290.5 405.7h10.0v10.0h-10.0zM184.9 415.3h10.0v10.0h-10.0zM252.1 415.3h10.0v10.0h-10.0zM194.5 424.9h10.0v10.0h-10.0zM252.1 424.9h10.0v10.0h-10.0zM300.1 424.9h10.0v10.0h-10.0zM616.8 424.9h10.0v10.0h-10.0zM309.7 444.0h10.0v10.0h-10.0zM319.3 463.2h10.0v10.0h-10.0zM616.8 491.9h10.0v10.0h-10.0zM376.9 501.5h10.0v10.0h-10.0zM175.3 520.7h10.0v10.0h-10.0zM386.5 520.7h10.0v10.0h-10.0zM511.2 520.7h10.0v10.0h-10.0zM338.5 539.8h10.0v10.0h-10.0zM338.5 549.4h10.0v10.0h-10.0zM338.5 559.0h10.0v10.0h-10.0zM616.8 559.0h10.0v10.0h-10.0zM626.4 568.6h10.0v10.0h-10.0zM146.5 578.2h10.0v10.0h-10.0zM396.0 578.2h10.0v10.0h-10.0zM530.4 578.2h10.0v10.0h-10.0zM636.0 578.2h10.0v10.0h-10.0zM626.4 597.3h10.0v10.0h-10.0zM357.7 606.9h19.6v10.0h-19.6zM348.1 616.5h10.0v10.0h-10.0zM376.9 616.5h19.6v10.0h-19.6zM626.4 616.5h10.0v10.0h-10.0zM636.0 635.6h10.0v10.0h-10.0zM616.8 674.0h10.0v10.0h-10.0zM357.7 683.5h10.0v10.0h-10.0zM597.6 683.5h10.0v10.0h-10.0zM348.1 693.1h10.0v10.0h-10.0zM597.6 693.1h10.0v10.0h-10.0zM348.1 702.7h10.0v10.0h-10.0zM597.6 702.7h10.0v10.0h-10.0zM607.2 712.3h10.0v10.0h-10.0zM348.1 741.0h10.0v10.0h-10.0zM588.0 741.0h10.0v10.0h-10.0zM626.4 769.8h10.0v10.0h-10.0zM290.5 779.4h10.0v10.0h-10.0zM578.4 779.4h10.0v10.0h-10.0zM300.1 788.9h10.0v10.0h-10.0zM271.3 798.5h10.0v10.0h-10.0zM300.1 798.5h10.0v10.0h-10.0zM271.3 808.1h10.0v10.0h-10.0zM300.1 808.1h10.0v10.0h-10.0zM271.3 817.7h10.0v10.0h-10.0zM300.1 817.7h10.0v10.0h-10.0zM271.3 827.3h10.0v10.0h-10.0zM300.1 827.3h10.0v10.0h-10.0zM271.3 836.8h10.0v10.0h-10.0zM300.1 836.8h10.0v10.0h-10.0zM319.3 836.8h10.0v10.0h-10.0zM271.3 846.4h10.0v10.0h-10.0zM300.1 846.4h19.6v10.0h-19.6zM328.9 846.4h10.0v10.0h-10.0zM261.7 856.0h10.0v10.0h-10.0zM300.1 856.0h19.6v10.0h-19.6zM578.4 856.0h10.0v10.0h-10.0zM252.1 865.6h10.0v10.0h-10.0zM300.1 865.6h10.0v10.0h-10.0zM252.1 875.2h10.0v10.0h-10.0zM300.1 875.2h10.0v10.0h-10.0zM252.1 884.7h10.0v10.0h-10.0zM300.1 884.7h10.0v10.0h-10.0zM252.1 894.3h10.0v10.0h-10.0zM300.1 894.3h10.0v10.0h-10.0z" fill="rgb(80,80,80)" shape-rendering="crispEdges"/><path d="M232.9 60.8h58.0v10.0h-58.0zM232.9 70.4h48.4v10.0h-48.4zM232.9 80.0h38.8v10.0h-38.8zM213.7 89.5h10.0v10.0h-10.0zM184.9 99.1h10.0v10.0h-10.0zM204.1 99.1h10.0v10.0h-10.0zM204.1 118.3h10.0v10.0h-10.0zM309.7 118.3h10.0v10.0h-10.0zM194.5 127.9h19.6v10.0h-19.6zM386.5 127.9h10.0v10.0h-10.0zM194.5 137.4h19.6v10.0h-19.6zM396.0 137.4h10.0v10.0h-10.0zM204.1 147.0h10.0v10.0h-10.0zM280.9 147.0h10.0v10.0h-10.0zM434.4 147.0h10.0v10.0h-10.0zM127.3 156.6h10.0v10.0h-10.0zM271.3 156.6h10.0v10.0h-10.0zM328.9 156.6h10.0v10.0h-10.0zM213.7 166.2h10.0v10.0h-10.0zM252.1 166.2h19.6v10.0h-19.6zM319.3 166.2h10.0v10.0h-10.0zM223.3 175.8h10.0v10.0h-10.0zM242.5 175.8h29.2v10.0h-29.2zM309.7 175.8h10.0v10.0h-10.0zM300.1 185.3h10.0v10.0h-10.0zM184.9 214.1h10.0v10.0h-10.0zM290.5 223.7h10.0v10.0h-10.0zM184.9 242.8h10.0v10.0h-10.0zM434.4 242.8h10.0v10.0h-10.0zM175.3 252.4h10.0v10.0h-10.0zM415.2 252.4h10.0v10.0h-10.0zM146.5 262.0h29.2v10.0h-29.2zM156.1 271.6h19.6v10.0h-19.6zM223.3 300.3h10.0v10.0h-10.0zM242.5 300.3h10.0v10.0h-10.0zM146.5 309.9h10.0v10.0h-10.0zM213.7 309.9h10.0v10.0h-10.0zM252.1 309.9h10.0v10.0h-10.0zM280.9 309.9h10.0v10.0h-10.0zM367.3 309.9h10.0v10.0h-10.0zM127.3 319.5h38.8v10.0h-38.8zM184.9 319.5h10.0v10.0h-10.0zM242.5 319.5h48.4v10.0h-48.4zM348.1 319.5h19.6v10.0h-19.6zM127.3 329.1h29.2v10.0h-29.2zM252.1 329.1h38.8v10.0h-38.8zM338.5 329.1h29.2v10.0h-29.2zM290.5 338.6h10.0v10.0h-10.0zM328.9 338.6h38.8v10.0h-38.8zM300.1 348.2h10.0v10.0h-10.0zM319.3 348.2h48.4v10.0h-48.4zM309.7 357.8h19.6v10.0h-19.6zM309.7 367.4h19.6v10.0h-19.6zM290.5 377.0h38.8v10.0h-38.8zM290.5 386.5h38.8v10.0h-38.8zM184.9 396.1h10.0v10.0h-10.0zM261.7 396.1h10.0v10.0h-10.0zM290.5 396.1h10.0v10.0h-10.0zM252.1 405.7h10.0v10.0h-10.0zM232.9 415.3h19.6v10.0h-19.6zM232.9 424.9h19.6v10.0h-19.6zM261.7 434.4h10.0v10.0h-10.0zM280.9 453.6h10.0v10.0h-10.0zM194.5 463.2h10.0v10.0h-10.0zM290.5 463.2h10.0v10.0h-10.0zM319.3 472.8h10.0v10.0h-10.0zM636.0 472.8h10.0v10.0h-10.0zM309.7 482.3h10.0v10.0h-10.0zM530.4 491.9h10.0v10.0h-10.0zM520.8 501.5h10.0v10.0h-10.0zM386.5 530.3h10.0v10.0h-10.0zM156.1 559.0h10.0v10.0h-10.0zM338.5 568.6h10.0v10.0h-10.0zM127.3 587.7h10.0v10.0h-10.0zM530.4 587.7h10.0v10.0h-10.0zM338.5 597.3h10.0v10.0h-10.0zM338.5 606.9h10.0v10.0h-10.0zM501.6 606.9h10.0v10.0h-10.0zM357.7 616.5h19.6v10.0h-19.6zM530.4 616.5h10.0v10.0h-10.0zM348.1 626.1h19.6v10.0h-19.6zM530.4 626.1h10.0v10.0h-10.0zM348.1 635.6h19.6v10.0h-19.6zM607.2 664.4h10.0v10.0h-10.0zM597.6 674.0h10.0v10.0h-10.0zM348.1 683.5h10.0v10.0h-10.0zM367.3 693.1h10.0v10.0h-10.0zM626.4 693.1h10.0v10.0h-10.0zM328.9 702.7h19.6v10.0h-19.6zM511.2 702.7h10.0v10.0h-10.0zM588.0 702.7h10.0v10.0h-10.0zM626.4 702.7h10.0v10.0h-10.0zM328.9 712.3h19.6v10.0h-19.6zM520.8 712.3h10.0v10.0h-10.0zM578.4 712.3h10.0v10.0h-10.0zM616.8 712.3h10.0v10.0h-10.0zM328.9 721.9h19.6v10.0h-19.6zM578.4 721.9h10.0v10.0h-10.0zM607.2 721.9h10.0v10.0h-10.0zM328.9 731.4h19.6v10.0h-19.6zM328.9 741.0h19.6v10.0h-19.6zM597.6 741.0h10.0v10.0h-10.0zM328.9 750.6h19.6v10.0h-19.6zM626.4 750.6h10.0v10.0h-10.0zM290.5 760.2h58.0v10.0h-58.0zM290.5 769.8h58.0v10.0h-58.0zM280.9 779.4h10.0v10.0h-10.0zM300.1 779.4h48.4v10.0h-48.4zM271.3 788.9h10.0v10.0h-10.0zM309.7 788.9h38.8v10.0h-38.8zM616.8 788.9h10.0v10.0h-10.0zM252.1 798.5h19.6v10.0h-19.6zM309.7 798.5h38.8v10.0h-38.8zM252.1 808.1h19.6v10.0h-19.6zM309.7 808.1h38.8v10.0h-38.8zM549.6 808.1h10.0v10.0h-10.0zM232.9 817.7h38.8v10.0h-38.8zM309.7 817.7h38.8v10.0h-38.8zM232.9 827.3h38.8v10.0h-38.8zM309.7 827.3h38.8v10.0h-38.8zM232.9 836.8h38.8v10.0h-38.8zM309.7 836.8h10.0v10.0h-10.0zM328.9 836.8h10.0v10.0h-10.0zM232.9 846.4h38.8v10.0h-38.8zM252.1 856.0h10.0v10.0h-10.0z" fill="rgb(84,84,84)" shape-rendering="crispEdges"/><path d="M223.3 60.8h10.0v10.0h-10.0zM386.5 60.8h10.0v10.0h-10.0zM588.0 60.8h10.0v10.0h-10.0zM223.3 70.4h10.0v10.0h-10.0zM588.0 70.4h10.0v10.0h-10.0zM213.7 80.0h19.6v10.0h-19.6zM588.0 80.0h10.0v10.0h-10.0zM204.1 89.5h10.0v10.0h-10.0zM348.1 89.5h10.0v10.0h-10.0zM357.7 127.9h10.0v10.0h-10.0zM405.6 137.4h38.8v10.0h-38.8zM146.5 147.0h10.0v10.0h-10.0zM444.0 147.0h10.0v10.0h-10.0zM444.0 156.6h19.6v10.0h-19.6zM204.1 166.2h10.0v10.0h-10.0zM271.3 166.2h10.0v10.0h-10.0zM444.0 166.2h19.6v10.0h-19.6zM184.9 175.8h10.0v10.0h-10.0zM271.3 175.8h38.8v10.0h-38.8zM444.0 175.8h10.0v10.0h-10.0zM232.9 185.3h38.8v10.0h-38.8zM434.4 185.3h10.0v10.0h-10.0zM242.5 194.9h19.6v10.0h-19.6zM194.5 214.1h19.6v10.0h-19.6zM194.5 223.7h19.6v10.0h-19.6zM434.4 223.7h10.0v10.0h-10.0zM194.5 233.3h10.0v10.0h-10.0zM271.3 233.3h10.0v10.0h-10.0zM175.3 262.0h10.0v10.0h-10.0zM242.5 262.0h10.0v10.0h-10.0zM175.3 271.6h19.6v10.0h-19.6zM242.5 271.6h10.0v10.0h-10.0zM156.1 281.2h38.8v10.0h-38.8zM242.5 281.2h10.0v10.0h-10.0zM396.0 281.2h10.0v10.0h-10.0zM156.1 290.7h10.0v10.0h-10.0zM232.9 290.7h19.6v10.0h-19.6zM386.5 290.7h10.0v10.0h-10.0zM156.1 300.3h10.0v10.0h-10.0zM156.1 309.9h58.0v10.0h-58.0zM194.5 319.5h29.2v10.0h-29.2zM367.3 319.5h10.0v10.0h-10.0zM194.5 329.1h10.0v10.0h-10.0zM242.5 329.1h10.0v10.0h-10.0zM367.3 329.1h10.0v10.0h-10.0zM636.0 329.1h10.0v10.0h-10.0zM194.5 338.6h10.0v10.0h-10.0zM252.1 338.6h38.8v10.0h-38.8zM367.3 338.6h10.0v10.0h-10.0zM194.5 348.2h10.0v10.0h-10.0zM367.3 348.2h10.0v10.0h-10.0zM194.5 357.8h10.0v10.0h-10.0zM300.1 357.8h10.0v10.0h-10.0zM328.9 357.8h48.4v10.0h-48.4zM194.5 367.4h10.0v10.0h-10.0zM290.5 367.4h19.6v10.0h-19.6zM328.9 367.4h10.0v10.0h-10.0zM357.7 367.4h19.6v10.0h-19.6zM194.5 377.0h10.0v10.0h-10.0zM280.9 377.0h10.0v10.0h-10.0zM328.9 377.0h10.0v10.0h-10.0zM194.5 386.5h10.0v10.0h-10.0zM271.3 386.5h19.6v10.0h-19.6zM328.9 386.5h10.0v10.0h-10.0zM300.1 396.1h29.2v10.0h-29.2zM184.9 405.7h10.0v10.0h-10.0zM232.9 405.7h19.6v10.0h-19.6zM223.3 415.3h10.0v10.0h-10.0zM300.1 415.3h10.0v10.0h-10.0zM626.4 415.3h10.0v10.0h-10.0zM204.1 424.9h29.2v10.0h-29.2zM204.1 434.4h10.0v10.0h-10.0zM309.7 434.4h10.0v10.0h-10.0zM568.8 434.4h10.0v10.0h-10.0zM271.3 444.0h10.0v10.0h-10.0zM597.6 444.0h10.0v10.0h-10.0zM319.3 453.6h10.0v10.0h-10.0zM300.1 482.3h10.0v10.0h-10.0zM357.7 501.5h10.0v10.0h-10.0zM386.5 501.5h10.0v10.0h-10.0zM511.2 511.1h10.0v10.0h-10.0zM338.5 520.7h10.0v10.0h-10.0zM501.6 530.3h10.0v10.0h-10.0zM386.5 568.6h10.0v10.0h-10.0zM338.5 578.2h10.0v10.0h-10.0zM338.5 587.7h10.0v10.0h-10.0zM405.6 587.7h10.0v10.0h-10.0zM405.6 597.3h10.0v10.0h-10.0zM338.5 616.5h10.0v10.0h-10.0zM280.9 626.1h19.6v10.0h-19.6zM367.3 626.1h38.8v10.0h-38.8zM626.4 626.1h10.0v10.0h-10.0zM280.9 635.6h29.2v10.0h-29.2zM367.3 635.6h10.0v10.0h-10.0zM626.4 635.6h10.0v10.0h-10.0zM290.5 645.2h19.6v10.0h-19.6zM348.1 645.2h19.6v10.0h-19.6zM348.1 654.8h10.0v10.0h-10.0zM338.5 664.4h19.6v10.0h-19.6zM616.8 664.4h10.0v10.0h-10.0zM338.5 674.0h29.2v10.0h-29.2zM338.5 683.5h10.0v10.0h-10.0zM588.0 683.5h10.0v10.0h-10.0zM328.9 693.1h19.6v10.0h-19.6zM588.0 693.1h10.0v10.0h-10.0zM636.0 693.1h10.0v10.0h-10.0zM636.0 702.7h10.0v10.0h-10.0zM376.9 721.9h10.0v10.0h-10.0zM376.9 731.4h10.0v10.0h-10.0zM578.4 741.0h10.0v10.0h-10.0zM319.3 750.6h10.0v10.0h-10.0zM348.1 750.6h19.6v10.0h-19.6zM549.6 750.6h10.0v10.0h-10.0zM588.0 750.6h10.0v10.0h-10.0zM280.9 760.2h10.0v10.0h-10.0zM280.9 769.8h10.0v10.0h-10.0zM252.1 788.9h19.6v10.0h-19.6zM242.5 798.5h10.0v10.0h-10.0zM232.9 808.1h19.6v10.0h-19.6zM588.0 827.3h10.0v10.0h-10.0zM338.5 836.8h10.0v10.0h-10.0zM232.9 856.0h19.6v10.0h-19.6zM242.5 865.6h10.0v10.0h-10.0zM242.5 875.2h10.0v10.0h-10.0zM242.5 884.7h10.0v10.0h-10.0zM242.5 894.3h10.0v10.0h-10.0z" fill="rgb(88,88,88)" shape-rendering="crispEdges"/><path d="M376.9 70.4h10.0v10.0h-10.0zM367.3 80.0h10.0v10.0h-10.0zM194.5 89.5h10.0v10.0h-10.0zM357.7 89.5h10.0v10.0h-10.0zM300.1 127.9h10.0v10.0h-10.0zM396.0 127.9h10.0v10.0h-10.0zM290.5 137.4h10.0v10.0h-10.0zM444.0 137.4h10.0v10.0h-10.0zM280.9 156.6h10.0v10.0h-10.0zM309.7 166.2h10.0v10.0h-10.0zM213.7 175.8h10.0v10.0h-10.0zM184.9 185.3h10.0v10.0h-10.0zM223.3 185.3h10.0v10.0h-10.0zM271.3 185.3h29.2v10.0h-29.2zM184.9 194.9h10.0v10.0h-10.0zM184.9 204.5h10.0v10.0h-10.0zM213.7 214.1h10.0v10.0h-10.0zM213.7 223.7h10.0v10.0h-10.0zM444.0 233.3h10.0v10.0h-10.0zM194.5 242.8h10.0v10.0h-10.0zM261.7 242.8h10.0v10.0h-10.0zM184.9 252.4h10.0v10.0h-10.0zM252.1 252.4h10.0v10.0h-10.0zM194.5 271.6h10.0v10.0h-10.0zM194.5 281.2h10.0v10.0h-10.0zM223.3 290.7h10.0v10.0h-10.0zM213.7 300.3h10.0v10.0h-10.0zM376.9 300.3h10.0v10.0h-10.0zM232.9 329.1h10.0v10.0h-10.0zM242.5 338.6h10.0v10.0h-10.0zM626.4 338.6h10.0v10.0h-10.0zM290.5 348.2h10.0v10.0h-10.0zM280.9 367.4h10.0v10.0h-10.0zM357.7 377.0h19.6v10.0h-19.6zM261.7 386.5h10.0v10.0h-10.0zM434.4 386.5h19.6v10.0h-19.6zM597.6 386.5h10.0v10.0h-10.0zM194.5 396.1h10.0v10.0h-10.0zM252.1 396.1h10.0v10.0h-10.0zM328.9 396.1h10.0v10.0h-10.0zM223.3 405.7h10.0v10.0h-10.0zM300.1 405.7h10.0v10.0h-10.0zM568.8 405.7h10.0v10.0h-10.0zM588.0 444.0h10.0v10.0h-10.0zM607.2 444.0h10.0v10.0h-10.0zM194.5 472.8h10.0v10.0h-10.0zM626.4 472.8h10.0v10.0h-10.0zM530.4 482.3h10.0v10.0h-10.0zM616.8 482.3h10.0v10.0h-10.0zM520.8 491.9h10.0v10.0h-10.0zM184.9 501.5h10.0v10.0h-10.0zM511.2 501.5h10.0v10.0h-10.0zM348.1 511.1h10.0v10.0h-10.0zM165.7 539.8h10.0v10.0h-10.0zM386.5 539.8h10.0v10.0h-10.0zM136.9 587.7h10.0v10.0h-10.0zM530.4 597.3h10.0v10.0h-10.0zM405.6 606.9h10.0v10.0h-10.0zM530.4 606.9h10.0v10.0h-10.0zM501.6 616.5h10.0v10.0h-10.0zM338.5 626.1h10.0v10.0h-10.0zM338.5 635.6h10.0v10.0h-10.0zM530.4 635.6h10.0v10.0h-10.0zM280.9 645.2h10.0v10.0h-10.0zM338.5 645.2h10.0v10.0h-10.0zM367.3 645.2h10.0v10.0h-10.0zM636.0 645.2h10.0v10.0h-10.0zM338.5 654.8h10.0v10.0h-10.0zM597.6 664.4h10.0v10.0h-10.0zM367.3 683.5h10.0v10.0h-10.0zM626.4 683.5h10.0v10.0h-10.0zM578.4 702.7h10.0v10.0h-10.0zM376.9 712.3h10.0v10.0h-10.0zM626.4 712.3h10.0v10.0h-10.0zM520.8 721.9h10.0v10.0h-10.0zM616.8 721.9h10.0v10.0h-10.0zM242.5 731.4h19.6v10.0h-19.6zM578.4 731.4h10.0v10.0h-10.0zM607.2 731.4h10.0v10.0h-10.0zM242.5 741.0h19.6v10.0h-19.6zM319.3 741.0h10.0v10.0h-10.0zM636.0 741.0h10.0v10.0h-10.0zM290.5 750.6h29.2v10.0h-29.2zM348.1 760.2h10.0v10.0h-10.0zM588.0 760.2h10.0v10.0h-10.0zM348.1 769.8h10.0v10.0h-10.0zM271.3 779.4h10.0v10.0h-10.0zM348.1 779.4h10.0v10.0h-10.0zM242.5 788.9h10.0v10.0h-10.0zM348.1 788.9h10.0v10.0h-10.0zM348.1 798.5h10.0v10.0h-10.0zM568.8 798.5h10.0v10.0h-10.0zM607.2 798.5h10.0v10.0h-10.0zM348.1 808.1h10.0v10.0h-10.0zM338.5 846.4h10.0v10.0h-10.0zM578.4 846.4h10.0v10.0h-10.0zM338.5 856.0h10.0v10.0h-10.0zM338.5 865.6h10.0v10.0h-10.0zM338.5 875.2h10.0v10.0h-10.0z" fill="rgb(92,92,92)" shape-rendering="crispEdges"/><path d="M213.7 60.8h10.0v10.0h-10.0zM396.0 60.8h10.0v10.0h-10.0zM578.4 60.8h10.0v10.0h-10.0zM213.7 70.4h10.0v10.0h-10.0zM578.4 70.4h10.0v10.0h-10.0zM204.1 80.0h10.0v10.0h-10.0zM578.4 80.0h10.0v10.0h-10.0zM165.7 108.7h10.0v10.0h-10.0zM367.3 118.3h19.6v10.0h-19.6zM156.1 127.9h10.0v10.0h-10.0zM405.6 127.9h38.8v10.0h-38.8zM453.6 147.0h10.0v10.0h-10.0zM463.2 156.6h10.0v10.0h-10.0zM280.9 166.2h29.2v10.0h-29.2zM463.2 166.2h10.0v10.0h-10.0zM194.5 175.8h19.6v10.0h-19.6zM453.6 175.8h10.0v10.0h-10.0zM232.9 194.9h10.0v10.0h-10.0zM261.7 194.9h10.0v10.0h-10.0zM194.5 204.5h19.6v10.0h-19.6zM242.5 204.5h19.6v10.0h-19.6zM290.5 214.1h10.0v10.0h-10.0zM280.9 223.7h10.0v10.0h-10.0zM204.1 233.3h10.0v10.0h-10.0zM184.9 262.0h10.0v10.0h-10.0zM232.9 262.0h10.0v10.0h-10.0zM232.9 271.6h10.0v10.0h-10.0zM405.6 271.6h10.0v10.0h-10.0zM232.9 281.2h10.0v10.0h-10.0zM165.7 290.7h29.2v10.0h-29.2zM396.0 290.7h10.0v10.0h-10.0zM165.7 300.3h48.4v10.0h-48.4zM376.9 309.9h10.0v10.0h-10.0zM376.9 319.5h10.0v10.0h-10.0zM636.0 319.5h10.0v10.0h-10.0zM204.1 329.1h29.2v10.0h-29.2zM376.9 329.1h10.0v10.0h-10.0zM204.1 338.6h10.0v10.0h-10.0zM376.9 338.6h10.0v10.0h-10.0zM204.1 348.2h10.0v10.0h-10.0zM252.1 348.2h38.8v10.0h-38.8zM376.9 348.2h10.0v10.0h-10.0zM204.1 357.8h10.0v10.0h-10.0zM290.5 357.8h10.0v10.0h-10.0zM376.9 357.8h10.0v10.0h-10.0zM204.1 367.4h10.0v10.0h-10.0zM338.5 367.4h19.6v10.0h-19.6zM376.9 367.4h10.0v10.0h-10.0zM204.1 377.0h10.0v10.0h-10.0zM271.3 377.0h10.0v10.0h-10.0zM338.5 377.0h10.0v10.0h-10.0zM204.1 386.5h10.0v10.0h-10.0zM338.5 386.5h10.0v10.0h-10.0zM232.9 396.1h19.6v10.0h-19.6zM434.4 396.1h19.6v10.0h-19.6zM309.7 405.7h19.6v10.0h-19.6zM194.5 415.3h29.2v10.0h-29.2zM309.7 424.9h10.0v10.0h-10.0zM213.7 434.4h19.6v10.0h-19.6zM252.1 434.4h10.0v10.0h-10.0zM616.8 434.4h10.0v10.0h-10.0zM204.1 444.0h10.0v10.0h-10.0zM319.3 444.0h10.0v10.0h-10.0zM290.5 472.8h10.0v10.0h-10.0zM300.1 491.9h19.6v10.0h-19.6zM396.0 511.1h10.0v10.0h-10.0zM501.6 511.1h10.0v10.0h-10.0zM540.0 511.1h10.0v10.0h-10.0zM501.6 520.7h10.0v10.0h-10.0zM540.0 520.7h10.0v10.0h-10.0zM328.9 530.3h10.0v10.0h-10.0zM540.0 530.3h10.0v10.0h-10.0zM540.0 539.8h10.0v10.0h-10.0zM386.5 549.4h10.0v10.0h-10.0zM386.5 559.0h10.0v10.0h-10.0zM156.1 568.6h10.0v10.0h-10.0zM616.8 568.6h10.0v10.0h-10.0zM626.4 578.2h10.0v10.0h-10.0zM626.4 587.7h10.0v10.0h-10.0zM280.9 616.5h19.6v10.0h-19.6zM271.3 626.1h10.0v10.0h-10.0zM300.1 626.1h10.0v10.0h-10.0zM501.6 626.1h10.0v10.0h-10.0zM271.3 635.6h10.0v10.0h-10.0zM309.7 635.6h10.0v10.0h-10.0zM376.9 635.6h29.2v10.0h-29.2zM501.6 635.6h10.0v10.0h-10.0zM309.7 645.2h10.0v10.0h-10.0zM530.4 645.2h10.0v10.0h-10.0zM616.8 645.2h19.6v10.0h-19.6zM290.5 654.8h19.6v10.0h-19.6zM357.7 654.8h10.0v10.0h-10.0zM530.4 654.8h10.0v10.0h-10.0zM607.2 654.8h19.6v10.0h-19.6zM328.9 664.4h10.0v10.0h-10.0zM357.7 664.4h10.0v10.0h-10.0zM530.4 664.4h10.0v10.0h-10.0zM328.9 674.0h10.0v10.0h-10.0zM367.3 674.0h10.0v10.0h-10.0zM530.4 674.0h10.0v10.0h-10.0zM588.0 674.0h10.0v10.0h-10.0zM626.4 674.0h10.0v10.0h-10.0zM328.9 683.5h10.0v10.0h-10.0zM578.4 683.5h10.0v10.0h-10.0zM636.0 683.5h10.0v10.0h-10.0zM578.4 693.1h10.0v10.0h-10.0zM319.3 702.7h10.0v10.0h-10.0zM319.3 712.3h10.0v10.0h-10.0zM636.0 712.3h10.0v10.0h-10.0zM319.3 721.9h10.0v10.0h-10.0zM319.3 731.4h10.0v10.0h-10.0zM568.8 741.0h10.0v10.0h-10.0zM607.2 741.0h10.0v10.0h-10.0zM626.4 741.0h10.0v10.0h-10.0zM280.9 750.6h10.0v10.0h-10.0zM597.6 750.6h10.0v10.0h-10.0zM616.8 750.6h10.0v10.0h-10.0zM271.3 760.2h10.0v10.0h-10.0zM616.8 760.2h10.0v10.0h-10.0zM271.3 769.8h10.0v10.0h-10.0zM252.1 779.4h19.6v10.0h-19.6zM232.9 798.5h10.0v10.0h-10.0zM223.3 808.1h10.0v10.0h-10.0zM223.3 817.7h10.0v10.0h-10.0zM348.1 817.7h10.0v10.0h-10.0zM559.2 817.7h10.0v10.0h-10.0zM597.6 817.7h10.0v10.0h-10.0zM223.3 827.3h10.0v10.0h-10.0zM223.3 836.8h10.0v10.0h-10.0zM223.3 846.4h10.0v10.0h-10.0zM223.3 856.0h10.0v10.0h-10.0zM232.9 865.6h10.0v10.0h-10.0zM232.9 875.2h10.0v10.0h-10.0zM232.9 884.7h10.0v10.0h-10.0zM232.9 894.3h10.0v10.0h-10.0z" fill="rgb(96,96,96)" shape-rendering="crispEdges"/><path d="M386.5 70.4h10.0v10.0h-10.0zM588.0 89.5h10.0v10.0h-10.0zM175.3 99.1h10.0v10.0h-10.0zM328.9 108.7h10.0v10.0h-10.0zM386.5 118.3h10.0v10.0h-10.0zM444.0 127.9h19.6v10.0h-19.6zM338.5 137.4h10.0v10.0h-10.0zM453.6 137.4h10.0v10.0h-10.0zM290.5 147.0h10.0v10.0h-10.0zM290.5 156.6h10.0v10.0h-10.0zM319.3 156.6h10.0v10.0h-10.0zM213.7 185.3h10.0v10.0h-10.0zM444.0 185.3h10.0v10.0h-10.0zM213.7 194.9h19.6v10.0h-19.6zM271.3 194.9h10.0v10.0h-10.0zM290.5 194.9h10.0v10.0h-10.0zM213.7 204.5h29.2v10.0h-29.2zM223.3 214.1h10.0v10.0h-10.0zM434.4 214.1h10.0v10.0h-10.0zM444.0 223.7h19.6v10.0h-19.6zM453.6 233.3h10.0v10.0h-10.0zM204.1 242.8h10.0v10.0h-10.0zM444.0 242.8h10.0v10.0h-10.0zM194.5 252.4h19.6v10.0h-19.6zM242.5 252.4h10.0v10.0h-10.0zM194.5 262.0h19.6v10.0h-19.6zM204.1 271.6h10.0v10.0h-10.0zM204.1 281.2h29.2v10.0h-29.2zM194.5 290.7h29.2v10.0h-29.2zM232.9 338.6h10.0v10.0h-10.0zM232.9 348.2h19.6v10.0h-19.6zM616.8 348.2h10.0v10.0h-10.0zM271.3 357.8h19.6v10.0h-19.6zM271.3 367.4h10.0v10.0h-10.0zM252.1 377.0h19.6v10.0h-19.6zM348.1 377.0h10.0v10.0h-10.0zM376.9 377.0h10.0v10.0h-10.0zM424.8 377.0h38.8v10.0h-38.8zM252.1 386.5h10.0v10.0h-10.0zM348.1 386.5h38.8v10.0h-38.8zM424.8 386.5h10.0v10.0h-10.0zM453.6 386.5h10.0v10.0h-10.0zM204.1 396.1h29.2v10.0h-29.2zM338.5 396.1h10.0v10.0h-10.0zM194.5 405.7h29.2v10.0h-29.2zM328.9 405.7h19.6v10.0h-19.6zM309.7 415.3h10.0v10.0h-10.0zM232.9 434.4h19.6v10.0h-19.6zM271.3 453.6h10.0v10.0h-10.0zM280.9 463.2h10.0v10.0h-10.0zM540.0 501.5h10.0v10.0h-10.0zM328.9 520.7h10.0v10.0h-10.0zM175.3 530.3h10.0v10.0h-10.0zM540.0 549.4h10.0v10.0h-10.0zM328.9 578.2h10.0v10.0h-10.0zM328.9 587.7h10.0v10.0h-10.0zM328.9 616.5h10.0v10.0h-10.0zM309.7 626.1h10.0v10.0h-10.0zM328.9 626.1h10.0v10.0h-10.0zM271.3 645.2h10.0v10.0h-10.0zM501.6 645.2h10.0v10.0h-10.0zM271.3 654.8h19.6v10.0h-19.6zM309.7 654.8h10.0v10.0h-10.0zM328.9 654.8h10.0v10.0h-10.0zM530.4 683.5h10.0v10.0h-10.0zM319.3 693.1h10.0v10.0h-10.0zM530.4 693.1h10.0v10.0h-10.0zM511.2 712.3h10.0v10.0h-10.0zM232.9 721.9h38.8v10.0h-38.8zM568.8 721.9h10.0v10.0h-10.0zM626.4 721.9h10.0v10.0h-10.0zM232.9 731.4h10.0v10.0h-10.0zM261.7 731.4h10.0v10.0h-10.0zM616.8 731.4h19.6v10.0h-19.6zM232.9 741.0h10.0v10.0h-10.0zM261.7 741.0h10.0v10.0h-10.0zM376.9 741.0h10.0v10.0h-10.0zM616.8 741.0h10.0v10.0h-10.0zM232.9 750.6h48.4v10.0h-48.4zM367.3 750.6h10.0v10.0h-10.0zM607.2 750.6h10.0v10.0h-10.0zM357.7 760.2h10.0v10.0h-10.0zM588.0 769.8h10.0v10.0h-10.0zM232.9 779.4h19.6v10.0h-19.6zM616.8 779.4h10.0v10.0h-10.0zM232.9 788.9h10.0v10.0h-10.0zM357.7 788.9h10.0v10.0h-10.0zM357.7 798.5h10.0v10.0h-10.0zM348.1 827.3h10.0v10.0h-10.0zM338.5 884.7h10.0v10.0h-10.0z" fill="rgb(100,100,100)" shape-rendering="crispEdges"/><path d="M597.6 70.4h10.0v10.0h-10.0zM597.6 80.0h10.0v10.0h-10.0zM367.3 89.5h10.0v10.0h-10.0zM338.5 99.1h10.0v10.0h-10.0zM434.4 108.7h29.2v10.0h-29.2zM424.8 118.3h38.8v10.0h-38.8zM463.2 147.0h10.0v10.0h-10.0zM194.5 185.3h19.6v10.0h-19.6zM453.6 185.3h10.0v10.0h-10.0zM194.5 194.9h19.6v10.0h-19.6zM290.5 204.5h10.0v10.0h-10.0zM232.9 214.1h10.0v10.0h-10.0zM223.3 223.7h10.0v10.0h-10.0zM463.2 223.7h10.0v10.0h-10.0zM213.7 233.3h10.0v10.0h-10.0zM213.7 242.8h10.0v10.0h-10.0zM213.7 252.4h29.2v10.0h-29.2zM213.7 262.0h19.6v10.0h-19.6zM213.7 271.6h19.6v10.0h-19.6zM386.5 300.3h19.6v10.0h-19.6zM386.5 309.9h19.6v10.0h-19.6zM386.5 319.5h29.2v10.0h-29.2zM386.5 329.1h38.8v10.0h-38.8zM213.7 338.6h19.6v10.0h-19.6zM386.5 338.6h77.2v10.0h-77.2zM213.7 348.2h19.6v10.0h-19.6zM386.5 348.2h77.2v10.0h-77.2zM213.7 357.8h58.0v10.0h-58.0zM386.5 357.8h86.8v10.0h-86.8zM213.7 367.4h58.0v10.0h-58.0zM386.5 367.4h96.4v10.0h-96.4zM607.2 367.4h10.0v10.0h-10.0zM213.7 377.0h38.8v10.0h-38.8zM386.5 377.0h38.8v10.0h-38.8zM463.2 377.0h19.6v10.0h-19.6zM213.7 386.5h38.8v10.0h-38.8zM386.5 386.5h38.8v10.0h-38.8zM463.2 386.5h19.6v10.0h-19.6zM348.1 396.1h10.0v10.0h-10.0zM453.6 396.1h10.0v10.0h-10.0zM319.3 415.3h10.0v10.0h-10.0zM636.0 415.3h10.0v10.0h-10.0zM261.7 444.0h10.0v10.0h-10.0zM530.4 472.8h10.0v10.0h-10.0zM194.5 482.3h10.0v10.0h-10.0zM290.5 482.3h10.0v10.0h-10.0zM319.3 482.3h10.0v10.0h-10.0zM520.8 482.3h10.0v10.0h-10.0zM511.2 491.9h10.0v10.0h-10.0zM300.1 501.5h19.6v10.0h-19.6zM396.0 501.5h10.0v10.0h-10.0zM501.6 501.5h10.0v10.0h-10.0zM607.2 501.5h10.0v10.0h-10.0zM492.0 511.1h10.0v10.0h-10.0zM607.2 511.1h10.0v10.0h-10.0zM396.0 520.7h10.0v10.0h-10.0zM607.2 520.7h10.0v10.0h-10.0zM607.2 530.3h10.0v10.0h-10.0zM328.9 539.8h10.0v10.0h-10.0zM492.0 539.8h10.0v10.0h-10.0zM607.2 539.8h10.0v10.0h-10.0zM492.0 549.4h10.0v10.0h-10.0zM492.0 559.0h10.0v10.0h-10.0zM328.9 568.6h10.0v10.0h-10.0zM405.6 578.2h10.0v10.0h-10.0zM328.9 597.3h10.0v10.0h-10.0zM328.9 606.9h10.0v10.0h-10.0zM271.3 616.5h10.0v10.0h-10.0zM300.1 616.5h10.0v10.0h-10.0zM405.6 616.5h10.0v10.0h-10.0zM319.3 626.1h10.0v10.0h-10.0zM616.8 635.6h10.0v10.0h-10.0zM376.9 645.2h10.0v10.0h-10.0zM319.3 654.8h10.0v10.0h-10.0zM367.3 654.8h10.0v10.0h-10.0zM626.4 654.8h10.0v10.0h-10.0zM271.3 664.4h58.0v10.0h-58.0zM367.3 664.4h10.0v10.0h-10.0zM588.0 664.4h10.0v10.0h-10.0zM271.3 674.0h29.2v10.0h-29.2zM319.3 674.0h10.0v10.0h-10.0zM578.4 674.0h10.0v10.0h-10.0zM127.3 683.5h10.0v10.0h-10.0zM261.7 683.5h29.2v10.0h-29.2zM319.3 683.5h10.0v10.0h-10.0zM127.3 693.1h10.0v10.0h-10.0zM252.1 693.1h38.8v10.0h-38.8zM242.5 702.7h48.4v10.0h-48.4zM376.9 702.7h10.0v10.0h-10.0zM232.9 712.3h48.4v10.0h-48.4zM568.8 712.3h10.0v10.0h-10.0zM636.0 721.9h10.0v10.0h-10.0zM520.8 731.4h10.0v10.0h-10.0zM636.0 731.4h10.0v10.0h-10.0zM271.3 741.0h10.0v10.0h-10.0zM309.7 741.0h10.0v10.0h-10.0zM223.3 750.6h10.0v10.0h-10.0zM194.5 760.2h77.2v10.0h-77.2zM540.0 760.2h10.0v10.0h-10.0zM194.5 769.8h10.0v10.0h-10.0zM223.3 769.8h48.4v10.0h-48.4zM616.8 769.8h10.0v10.0h-10.0zM578.4 788.9h10.0v10.0h-10.0zM223.3 798.5h10.0v10.0h-10.0zM549.6 817.7h10.0v10.0h-10.0zM223.3 865.6h10.0v10.0h-10.0zM338.5 894.3h10.0v10.0h-10.0z" fill="rgb(104,104,104)" shape-rendering="crispEdges"/><path d="M405.6 60.8h10.0v10.0h-10.0zM568.8 60.8h10.0v10.0h-10.0zM597.6 60.8h10.0v10.0h-10.0zM396.0 70.4h10.0v10.0h-10.0zM568.8 70.4h10.0v10.0h-10.0zM568.8 80.0h10.0v10.0h-10.0zM578.4 89.5h10.0v10.0h-10.0zM444.0 99.1h19.6v10.0h-19.6zM319.3 118.3h10.0v10.0h-10.0zM357.7 118.3h10.0v10.0h-10.0zM396.0 118.3h29.2v10.0h-29.2zM309.7 127.9h10.0v10.0h-10.0zM463.2 127.9h10.0v10.0h-10.0zM463.2 137.4h10.0v10.0h-10.0zM328.9 147.0h10.0v10.0h-10.0zM300.1 156.6h19.6v10.0h-19.6zM463.2 175.8h10.0v10.0h-10.0zM280.9 194.9h10.0v10.0h-10.0zM434.4 194.9h10.0v10.0h-10.0zM501.6 194.9h19.6v10.0h-19.6zM261.7 204.5h10.0v10.0h-10.0zM434.4 204.5h10.0v10.0h-10.0zM501.6 204.5h19.6v10.0h-19.6zM242.5 214.1h10.0v10.0h-10.0zM444.0 214.1h38.8v10.0h-38.8zM472.8 223.7h10.0v10.0h-10.0zM261.7 233.3h10.0v10.0h-10.0zM463.2 233.3h10.0v10.0h-10.0zM453.6 242.8h10.0v10.0h-10.0zM405.6 300.3h10.0v10.0h-10.0zM405.6 309.9h10.0v10.0h-10.0zM424.8 329.1h38.8v10.0h-38.8zM463.2 338.6h10.0v10.0h-10.0zM463.2 348.2h10.0v10.0h-10.0zM482.4 367.4h10.0v10.0h-10.0zM482.4 377.0h10.0v10.0h-10.0zM482.4 386.5h10.0v10.0h-10.0zM357.7 396.1h10.0v10.0h-10.0zM424.8 396.1h10.0v10.0h-10.0zM463.2 396.1h29.2v10.0h-29.2zM578.4 396.1h10.0v10.0h-10.0zM348.1 405.7h10.0v10.0h-10.0zM328.9 415.3h10.0v10.0h-10.0zM319.3 424.9h10.0v10.0h-10.0zM319.3 434.4h10.0v10.0h-10.0zM578.4 444.0h10.0v10.0h-10.0zM204.1 453.6h10.0v10.0h-10.0zM597.6 453.6h19.6v10.0h-19.6zM271.3 463.2h10.0v10.0h-10.0zM280.9 472.8h10.0v10.0h-10.0zM616.8 472.8h10.0v10.0h-10.0zM376.9 491.9h10.0v10.0h-10.0zM540.0 491.9h10.0v10.0h-10.0zM607.2 491.9h10.0v10.0h-10.0zM252.1 501.5h10.0v10.0h-10.0zM492.0 501.5h10.0v10.0h-10.0zM184.9 511.1h10.0v10.0h-10.0zM242.5 511.1h19.6v10.0h-19.6zM309.7 511.1h10.0v10.0h-10.0zM338.5 511.1h10.0v10.0h-10.0zM482.4 511.1h10.0v10.0h-10.0zM242.5 520.7h19.6v10.0h-19.6zM319.3 520.7h10.0v10.0h-10.0zM492.0 520.7h10.0v10.0h-10.0zM396.0 530.3h10.0v10.0h-10.0zM492.0 530.3h10.0v10.0h-10.0zM396.0 539.8h10.0v10.0h-10.0zM165.7 549.4h10.0v10.0h-10.0zM328.9 549.4h10.0v10.0h-10.0zM607.2 549.4h10.0v10.0h-10.0zM328.9 559.0h10.0v10.0h-10.0zM540.0 559.0h10.0v10.0h-10.0zM607.2 559.0h10.0v10.0h-10.0zM396.0 568.6h10.0v10.0h-10.0zM492.0 568.6h10.0v10.0h-10.0zM319.3 578.2h10.0v10.0h-10.0zM319.3 587.7h10.0v10.0h-10.0zM261.7 616.5h10.0v10.0h-10.0zM309.7 616.5h19.6v10.0h-19.6zM261.7 626.1h10.0v10.0h-10.0zM261.7 635.6h10.0v10.0h-10.0zM319.3 635.6h19.6v10.0h-19.6zM261.7 645.2h10.0v10.0h-10.0zM319.3 645.2h19.6v10.0h-19.6zM386.5 645.2h19.6v10.0h-19.6zM261.7 654.8h10.0v10.0h-10.0zM501.6 654.8h10.0v10.0h-10.0zM261.7 664.4h10.0v10.0h-10.0zM626.4 664.4h10.0v10.0h-10.0zM127.3 674.0h10.0v10.0h-10.0zM261.7 674.0h10.0v10.0h-10.0zM636.0 674.0h10.0v10.0h-10.0zM136.9 683.5h10.0v10.0h-10.0zM290.5 683.5h10.0v10.0h-10.0zM376.9 683.5h10.0v10.0h-10.0zM136.9 693.1h10.0v10.0h-10.0zM242.5 693.1h10.0v10.0h-10.0zM290.5 693.1h10.0v10.0h-10.0zM376.9 693.1h10.0v10.0h-10.0zM127.3 702.7h10.0v10.0h-10.0zM530.4 702.7h10.0v10.0h-10.0zM271.3 721.9h10.0v10.0h-10.0zM271.3 731.4h10.0v10.0h-10.0zM568.8 731.4h10.0v10.0h-10.0zM223.3 741.0h10.0v10.0h-10.0zM280.9 741.0h10.0v10.0h-10.0zM559.2 741.0h10.0v10.0h-10.0zM213.7 750.6h10.0v10.0h-10.0zM184.9 760.2h10.0v10.0h-10.0zM597.6 760.2h19.6v10.0h-19.6zM184.9 769.8h10.0v10.0h-10.0zM357.7 769.8h10.0v10.0h-10.0zM540.0 769.8h10.0v10.0h-10.0zM184.9 779.4h19.6v10.0h-19.6zM223.3 779.4h10.0v10.0h-10.0zM357.7 779.4h10.0v10.0h-10.0zM223.3 788.9h10.0v10.0h-10.0zM607.2 788.9h10.0v10.0h-10.0zM367.3 798.5h10.0v10.0h-10.0zM357.7 808.1h10.0v10.0h-10.0zM348.1 836.8h10.0v10.0h-10.0zM578.4 836.8h10.0v10.0h-10.0zM223.3 875.2h10.0v10.0h-10.0zM223.3 884.7h10.0v10.0h-10.0zM223.3 894.3h10.0v10.0h-10.0z" fill="rgb(108,108,108)" shape-rendering="crispEdges"/><path d="M405.6 70.4h10.0v10.0h-10.0zM376.9 80.0h10.0v10.0h-10.0zM568.8 89.5h10.0v10.0h-10.0zM597.6 89.5h10.0v10.0h-10.0zM357.7 99.1h10.0v10.0h-10.0zM434.4 99.1h10.0v10.0h-10.0zM463.2 99.1h10.0v10.0h-10.0zM367.3 108.7h10.0v10.0h-10.0zM424.8 108.7h10.0v10.0h-10.0zM463.2 108.7h10.0v10.0h-10.0zM463.2 118.3h10.0v10.0h-10.0zM300.1 137.4h10.0v10.0h-10.0zM472.8 147.0h10.0v10.0h-10.0zM472.8 156.6h10.0v10.0h-10.0zM463.2 185.3h10.0v10.0h-10.0zM492.0 194.9h10.0v10.0h-10.0zM271.3 204.5h19.6v10.0h-19.6zM492.0 204.5h10.0v10.0h-10.0zM280.9 214.1h10.0v10.0h-10.0zM482.4 214.1h19.6v10.0h-19.6zM232.9 223.7h10.0v10.0h-10.0zM482.4 223.7h10.0v10.0h-10.0zM223.3 233.3h10.0v10.0h-10.0zM223.3 242.8h10.0v10.0h-10.0zM252.1 242.8h10.0v10.0h-10.0zM424.8 252.4h10.0v10.0h-10.0zM415.2 262.0h10.0v10.0h-10.0zM405.6 281.2h10.0v10.0h-10.0zM405.6 290.7h10.0v10.0h-10.0zM415.2 319.5h10.0v10.0h-10.0zM463.2 329.1h10.0v10.0h-10.0zM626.4 329.1h10.0v10.0h-10.0zM472.8 357.8h10.0v10.0h-10.0zM367.3 396.1h58.0v10.0h-58.0zM444.0 405.7h19.6v10.0h-19.6zM338.5 415.3h10.0v10.0h-10.0zM213.7 444.0h10.0v10.0h-10.0zM520.8 472.8h10.0v10.0h-10.0zM540.0 472.8h10.0v10.0h-10.0zM511.2 482.3h10.0v10.0h-10.0zM540.0 482.3h10.0v10.0h-10.0zM607.2 482.3h10.0v10.0h-10.0zM194.5 491.9h10.0v10.0h-10.0zM290.5 491.9h10.0v10.0h-10.0zM319.3 491.9h10.0v10.0h-10.0zM367.3 491.9h10.0v10.0h-10.0zM386.5 491.9h10.0v10.0h-10.0zM501.6 491.9h10.0v10.0h-10.0zM242.5 501.5h10.0v10.0h-10.0zM290.5 501.5h10.0v10.0h-10.0zM319.3 501.5h10.0v10.0h-10.0zM348.1 501.5h10.0v10.0h-10.0zM482.4 501.5h10.0v10.0h-10.0zM300.1 511.1h10.0v10.0h-10.0zM319.3 511.1h19.6v10.0h-19.6zM309.7 520.7h10.0v10.0h-10.0zM242.5 530.3h19.6v10.0h-19.6zM319.3 530.3h10.0v10.0h-10.0zM396.0 549.4h10.0v10.0h-10.0zM540.0 568.6h10.0v10.0h-10.0zM540.0 578.2h10.0v10.0h-10.0zM146.5 587.7h10.0v10.0h-10.0zM271.3 606.9h38.8v10.0h-38.8zM405.6 626.1h10.0v10.0h-10.0zM616.8 626.1h10.0v10.0h-10.0zM607.2 645.2h10.0v10.0h-10.0zM376.9 654.8h10.0v10.0h-10.0zM597.6 654.8h10.0v10.0h-10.0zM636.0 654.8h10.0v10.0h-10.0zM376.9 664.4h10.0v10.0h-10.0zM501.6 664.4h10.0v10.0h-10.0zM136.9 674.0h10.0v10.0h-10.0zM300.1 674.0h19.6v10.0h-19.6zM376.9 674.0h10.0v10.0h-10.0zM501.6 674.0h10.0v10.0h-10.0zM252.1 683.5h10.0v10.0h-10.0zM136.9 702.7h10.0v10.0h-10.0zM232.9 702.7h10.0v10.0h-10.0zM290.5 702.7h10.0v10.0h-10.0zM568.8 702.7h10.0v10.0h-10.0zM223.3 712.3h10.0v10.0h-10.0zM280.9 712.3h10.0v10.0h-10.0zM223.3 721.9h10.0v10.0h-10.0zM511.2 721.9h10.0v10.0h-10.0zM223.3 731.4h10.0v10.0h-10.0zM309.7 731.4h10.0v10.0h-10.0zM290.5 741.0h19.6v10.0h-19.6zM184.9 750.6h29.2v10.0h-29.2zM367.3 760.2h10.0v10.0h-10.0zM204.1 769.8h19.6v10.0h-19.6zM540.0 779.4h10.0v10.0h-10.0zM588.0 779.4h10.0v10.0h-10.0zM367.3 788.9h10.0v10.0h-10.0zM213.7 798.5h10.0v10.0h-10.0zM213.7 808.1h10.0v10.0h-10.0zM568.8 808.1h10.0v10.0h-10.0zM213.7 817.7h10.0v10.0h-10.0zM213.7 846.4h10.0v10.0h-10.0zM213.7 856.0h10.0v10.0h-10.0zM213.7 865.6h10.0v10.0h-10.0zM568.8 865.6h10.0v10.0h-10.0zM568.8 875.2h10.0v10.0h-10.0zM568.8 884.7h10.0v10.0h-10.0zM568.8 894.3h10.0v10.0h-10.0z" fill="rgb(112,112,112)" shape-rendering="crispEdges"/><path d="M415.2 60.8h10.0v10.0h-10.0zM559.2 60.8h10.0v10.0h-10.0zM204.1 70.4h10.0v10.0h-10.0zM559.2 70.4h10.0v10.0h-10.0zM194.5 80.0h10.0v10.0h-10.0zM559.2 80.0h10.0v10.0h-10.0zM184.9 89.5h10.0v10.0h-10.0zM444.0 89.5h19.6v10.0h-19.6zM348.1 99.1h10.0v10.0h-10.0zM367.3 99.1h10.0v10.0h-10.0zM357.7 108.7h10.0v10.0h-10.0zM415.2 108.7h10.0v10.0h-10.0zM348.1 127.9h10.0v10.0h-10.0zM146.5 137.4h10.0v10.0h-10.0zM472.8 137.4h10.0v10.0h-10.0zM300.1 147.0h10.0v10.0h-10.0zM472.8 166.2h10.0v10.0h-10.0zM501.6 185.3h19.6v10.0h-19.6zM453.6 194.9h10.0v10.0h-10.0zM453.6 204.5h19.6v10.0h-19.6zM252.1 214.1h10.0v10.0h-10.0zM501.6 214.1h19.6v10.0h-19.6zM271.3 223.7h10.0v10.0h-10.0zM232.9 242.8h10.0v10.0h-10.0zM463.2 242.8h10.0v10.0h-10.0zM415.2 309.9h10.0v10.0h-10.0zM636.0 309.9h10.0v10.0h-10.0zM424.8 319.5h38.8v10.0h-38.8zM472.8 338.6h10.0v10.0h-10.0zM472.8 348.2h10.0v10.0h-10.0zM482.4 357.8h19.6v10.0h-19.6zM492.0 367.4h10.0v10.0h-10.0zM492.0 377.0h10.0v10.0h-10.0zM492.0 386.5h10.0v10.0h-10.0zM492.0 396.1h10.0v10.0h-10.0zM434.4 405.7h10.0v10.0h-10.0zM463.2 405.7h38.8v10.0h-38.8zM626.4 424.9h10.0v10.0h-10.0zM559.2 434.4h10.0v10.0h-10.0zM568.8 444.0h10.0v10.0h-10.0zM616.8 444.0h10.0v10.0h-10.0zM261.7 453.6h10.0v10.0h-10.0zM588.0 453.6h10.0v10.0h-10.0zM328.9 463.2h10.0v10.0h-10.0zM597.6 463.2h29.2v10.0h-29.2zM271.3 472.8h10.0v10.0h-10.0zM328.9 472.8h10.0v10.0h-10.0zM607.2 472.8h10.0v10.0h-10.0zM271.3 482.3h19.6v10.0h-19.6zM252.1 491.9h19.6v10.0h-19.6zM261.7 501.5h10.0v10.0h-10.0zM232.9 511.1h10.0v10.0h-10.0zM261.7 511.1h10.0v10.0h-10.0zM232.9 520.7h10.0v10.0h-10.0zM261.7 520.7h10.0v10.0h-10.0zM309.7 568.6h19.6v10.0h-19.6zM156.1 578.2h10.0v10.0h-10.0zM309.7 578.2h10.0v10.0h-10.0zM492.0 578.2h10.0v10.0h-10.0zM309.7 587.7h10.0v10.0h-10.0zM540.0 587.7h10.0v10.0h-10.0zM309.7 597.3h19.6v10.0h-19.6zM252.1 606.9h19.6v10.0h-19.6zM309.7 606.9h19.6v10.0h-19.6zM616.8 606.9h10.0v10.0h-10.0zM252.1 616.5h10.0v10.0h-10.0zM616.8 616.5h10.0v10.0h-10.0zM252.1 626.1h10.0v10.0h-10.0zM252.1 635.6h10.0v10.0h-10.0zM405.6 635.6h10.0v10.0h-10.0zM252.1 645.2h10.0v10.0h-10.0zM252.1 654.8h10.0v10.0h-10.0zM386.5 654.8h19.6v10.0h-19.6zM127.3 664.4h10.0v10.0h-10.0zM252.1 664.4h10.0v10.0h-10.0zM636.0 664.4h10.0v10.0h-10.0zM252.1 674.0h10.0v10.0h-10.0zM146.5 683.5h10.0v10.0h-10.0zM232.9 683.5h19.6v10.0h-19.6zM300.1 683.5h19.6v10.0h-19.6zM501.6 683.5h10.0v10.0h-10.0zM146.5 693.1h10.0v10.0h-10.0zM232.9 693.1h10.0v10.0h-10.0zM127.3 712.3h10.0v10.0h-10.0zM386.5 712.3h10.0v10.0h-10.0zM280.9 721.9h10.0v10.0h-10.0zM386.5 721.9h10.0v10.0h-10.0zM280.9 731.4h10.0v10.0h-10.0zM386.5 731.4h10.0v10.0h-10.0zM376.9 750.6h10.0v10.0h-10.0zM540.0 750.6h10.0v10.0h-10.0zM175.3 760.2h10.0v10.0h-10.0zM175.3 769.8h10.0v10.0h-10.0zM597.6 769.8h19.6v10.0h-19.6zM175.3 779.4h10.0v10.0h-10.0zM204.1 779.4h19.6v10.0h-19.6zM607.2 779.4h10.0v10.0h-10.0zM175.3 788.9h48.4v10.0h-48.4zM376.9 798.5h10.0v10.0h-10.0zM367.3 808.1h19.6v10.0h-19.6zM597.6 808.1h10.0v10.0h-10.0zM357.7 817.7h10.0v10.0h-10.0zM348.1 846.4h10.0v10.0h-10.0zM213.7 875.2h10.0v10.0h-10.0zM213.7 884.7h10.0v10.0h-10.0zM213.7 894.3h10.0v10.0h-10.0z" fill="rgb(116,116,116)" shape-rendering="crispEdges"/><path d="M424.8 60.8h58.0v10.0h-58.0zM415.2 70.4h10.0v10.0h-10.0zM434.4 70.4h38.8v10.0h-38.8zM444.0 80.0h19.6v10.0h-19.6zM434.4 89.5h10.0v10.0h-10.0zM463.2 89.5h10.0v10.0h-10.0zM559.2 89.5h10.0v10.0h-10.0zM424.8 99.1h10.0v10.0h-10.0zM376.9 108.7h10.0v10.0h-10.0zM492.0 185.3h10.0v10.0h-10.0zM444.0 194.9h10.0v10.0h-10.0zM463.2 194.9h10.0v10.0h-10.0zM242.5 223.7h10.0v10.0h-10.0zM492.0 223.7h10.0v10.0h-10.0zM232.9 233.3h10.0v10.0h-10.0zM472.8 233.3h10.0v10.0h-10.0zM242.5 242.8h10.0v10.0h-10.0zM434.4 252.4h10.0v10.0h-10.0zM463.2 319.5h10.0v10.0h-10.0zM472.8 329.1h10.0v10.0h-10.0zM482.4 338.6h19.6v10.0h-19.6zM482.4 348.2h19.6v10.0h-19.6zM357.7 405.7h10.0v10.0h-10.0zM348.1 415.3h10.0v10.0h-10.0zM472.8 415.3h29.2v10.0h-29.2zM328.9 424.9h10.0v10.0h-10.0zM482.4 424.9h19.6v10.0h-19.6zM559.2 424.9h10.0v10.0h-10.0zM223.3 444.0h10.0v10.0h-10.0zM559.2 444.0h10.0v10.0h-10.0zM616.8 453.6h10.0v10.0h-10.0zM261.7 463.2h10.0v10.0h-10.0zM530.4 463.2h10.0v10.0h-10.0zM626.4 463.2h10.0v10.0h-10.0zM597.6 472.8h10.0v10.0h-10.0zM261.7 482.3h10.0v10.0h-10.0zM271.3 491.9h19.6v10.0h-19.6zM492.0 491.9h10.0v10.0h-10.0zM271.3 501.5h19.6v10.0h-19.6zM328.9 501.5h10.0v10.0h-10.0zM271.3 511.1h10.0v10.0h-10.0zM290.5 511.1h10.0v10.0h-10.0zM300.1 520.7h10.0v10.0h-10.0zM482.4 520.7h10.0v10.0h-10.0zM232.9 530.3h10.0v10.0h-10.0zM261.7 530.3h10.0v10.0h-10.0zM309.7 530.3h10.0v10.0h-10.0zM319.3 539.8h10.0v10.0h-10.0zM319.3 559.0h10.0v10.0h-10.0zM396.0 559.0h10.0v10.0h-10.0zM607.2 568.6h10.0v10.0h-10.0zM252.1 597.3h10.0v10.0h-10.0zM300.1 597.3h10.0v10.0h-10.0zM616.8 597.3h10.0v10.0h-10.0zM540.0 616.5h10.0v10.0h-10.0zM405.6 645.2h10.0v10.0h-10.0zM242.5 654.8h10.0v10.0h-10.0zM136.9 664.4h10.0v10.0h-10.0zM232.9 664.4h19.6v10.0h-19.6zM386.5 664.4h10.0v10.0h-10.0zM578.4 664.4h10.0v10.0h-10.0zM146.5 674.0h10.0v10.0h-10.0zM232.9 674.0h19.6v10.0h-19.6zM156.1 683.5h38.8v10.0h-38.8zM156.1 693.1h38.8v10.0h-38.8zM309.7 693.1h10.0v10.0h-10.0zM568.8 693.1h10.0v10.0h-10.0zM146.5 702.7h10.0v10.0h-10.0zM223.3 702.7h10.0v10.0h-10.0zM386.5 702.7h10.0v10.0h-10.0zM136.9 712.3h10.0v10.0h-10.0zM290.5 712.3h10.0v10.0h-10.0zM309.7 721.9h10.0v10.0h-10.0zM290.5 731.4h10.0v10.0h-10.0zM511.2 731.4h10.0v10.0h-10.0zM213.7 741.0h10.0v10.0h-10.0zM386.5 741.0h10.0v10.0h-10.0zM175.3 750.6h10.0v10.0h-10.0zM156.1 760.2h19.6v10.0h-19.6zM146.5 769.8h29.2v10.0h-29.2zM367.3 769.8h10.0v10.0h-10.0zM127.3 779.4h48.4v10.0h-48.4zM367.3 779.4h10.0v10.0h-10.0zM127.3 788.9h48.4v10.0h-48.4zM376.9 788.9h10.0v10.0h-10.0zM540.0 788.9h10.0v10.0h-10.0zM127.3 798.5h86.8v10.0h-86.8zM578.4 798.5h10.0v10.0h-10.0zM127.3 808.1h86.8v10.0h-86.8zM127.3 817.7h77.2v10.0h-77.2zM588.0 817.7h10.0v10.0h-10.0zM127.3 827.3h67.6v10.0h-67.6zM213.7 827.3h10.0v10.0h-10.0zM578.4 827.3h10.0v10.0h-10.0zM146.5 836.8h48.4v10.0h-48.4zM213.7 836.8h10.0v10.0h-10.0zM156.1 846.4h48.4v10.0h-48.4zM156.1 856.0h58.0v10.0h-58.0zM348.1 856.0h10.0v10.0h-10.0zM568.8 856.0h10.0v10.0h-10.0zM146.5 865.6h67.6v10.0h-67.6zM348.1 865.6h10.0v10.0h-10.0zM127.3 875.2h86.8v10.0h-86.8zM127.3 884.7h86.8v10.0h-86.8zM127.3 894.3h86.8v10.0h-86.8z" fill="rgb(120,120,120)" shape-rendering="crispEdges"/><path d="M204.1 60.8h10.0v10.0h-10.0zM482.4 60.8h10.0v10.0h-10.0zM549.6 60.8h10.0v10.0h-10.0zM424.8 70.4h10.0v10.0h-10.0zM472.8 70.4h10.0v10.0h-10.0zM549.6 70.4h10.0v10.0h-10.0zM386.5 80.0h10.0v10.0h-10.0zM434.4 80.0h10.0v10.0h-10.0zM463.2 80.0h10.0v10.0h-10.0zM549.6 80.0h10.0v10.0h-10.0zM376.9 89.5h10.0v10.0h-10.0zM588.0 99.1h10.0v10.0h-10.0zM386.5 108.7h10.0v10.0h-10.0zM405.6 108.7h10.0v10.0h-10.0zM472.8 127.9h10.0v10.0h-10.0zM328.9 137.4h10.0v10.0h-10.0zM319.3 147.0h10.0v10.0h-10.0zM482.4 147.0h10.0v10.0h-10.0zM482.4 156.6h10.0v10.0h-10.0zM482.4 166.2h10.0v10.0h-10.0zM472.8 175.8h10.0v10.0h-10.0zM492.0 175.8h29.2v10.0h-29.2zM444.0 204.5h10.0v10.0h-10.0zM472.8 204.5h19.6v10.0h-19.6zM261.7 214.1h19.6v10.0h-19.6zM252.1 223.7h19.6v10.0h-19.6zM252.1 233.3h10.0v10.0h-10.0zM444.0 252.4h10.0v10.0h-10.0zM415.2 271.6h10.0v10.0h-10.0zM415.2 300.3h10.0v10.0h-10.0zM424.8 309.9h38.8v10.0h-38.8zM482.4 329.1h19.6v10.0h-19.6zM616.8 338.6h10.0v10.0h-10.0zM607.2 357.8h10.0v10.0h-10.0zM588.0 386.5h10.0v10.0h-10.0zM424.8 405.7h10.0v10.0h-10.0zM444.0 415.3h29.2v10.0h-29.2zM472.8 424.9h10.0v10.0h-10.0zM472.8 434.4h19.6v10.0h-19.6zM252.1 444.0h10.0v10.0h-10.0zM204.1 463.2h10.0v10.0h-10.0zM540.0 463.2h10.0v10.0h-10.0zM636.0 463.2h10.0v10.0h-10.0zM261.7 472.8h10.0v10.0h-10.0zM511.2 472.8h10.0v10.0h-10.0zM252.1 482.3h10.0v10.0h-10.0zM328.9 482.3h10.0v10.0h-10.0zM501.6 482.3h10.0v10.0h-10.0zM597.6 482.3h10.0v10.0h-10.0zM242.5 491.9h10.0v10.0h-10.0zM328.9 491.9h10.0v10.0h-10.0zM357.7 491.9h10.0v10.0h-10.0zM396.0 491.9h10.0v10.0h-10.0zM232.9 501.5h10.0v10.0h-10.0zM338.5 501.5h10.0v10.0h-10.0zM405.6 501.5h10.0v10.0h-10.0zM280.9 511.1h10.0v10.0h-10.0zM405.6 511.1h10.0v10.0h-10.0zM184.9 520.7h10.0v10.0h-10.0zM271.3 520.7h10.0v10.0h-10.0zM175.3 539.8h10.0v10.0h-10.0zM319.3 549.4h10.0v10.0h-10.0zM165.7 559.0h10.0v10.0h-10.0zM309.7 559.0h10.0v10.0h-10.0zM616.8 578.2h10.0v10.0h-10.0zM242.5 587.7h19.6v10.0h-19.6zM300.1 587.7h10.0v10.0h-10.0zM242.5 597.3h10.0v10.0h-10.0zM261.7 597.3h10.0v10.0h-10.0zM290.5 597.3h10.0v10.0h-10.0zM540.0 597.3h10.0v10.0h-10.0zM242.5 606.9h10.0v10.0h-10.0zM540.0 606.9h10.0v10.0h-10.0zM242.5 616.5h10.0v10.0h-10.0zM242.5 626.1h10.0v10.0h-10.0zM540.0 626.1h10.0v10.0h-10.0zM242.5 635.6h10.0v10.0h-10.0zM242.5 645.2h10.0v10.0h-10.0zM232.9 654.8h10.0v10.0h-10.0zM405.6 654.8h10.0v10.0h-10.0zM588.0 654.8h10.0v10.0h-10.0zM223.3 664.4h10.0v10.0h-10.0zM396.0 664.4h10.0v10.0h-10.0zM156.1 674.0h38.8v10.0h-38.8zM223.3 674.0h10.0v10.0h-10.0zM386.5 674.0h10.0v10.0h-10.0zM194.5 683.5h10.0v10.0h-10.0zM223.3 683.5h10.0v10.0h-10.0zM386.5 683.5h10.0v10.0h-10.0zM568.8 683.5h10.0v10.0h-10.0zM194.5 693.1h10.0v10.0h-10.0zM223.3 693.1h10.0v10.0h-10.0zM300.1 693.1h10.0v10.0h-10.0zM386.5 693.1h10.0v10.0h-10.0zM501.6 693.1h10.0v10.0h-10.0zM156.1 702.7h38.8v10.0h-38.8zM309.7 702.7h10.0v10.0h-10.0zM309.7 712.3h10.0v10.0h-10.0zM530.4 712.3h10.0v10.0h-10.0zM127.3 721.9h10.0v10.0h-10.0zM290.5 721.9h10.0v10.0h-10.0zM559.2 721.9h10.0v10.0h-10.0zM300.1 731.4h10.0v10.0h-10.0zM549.6 741.0h10.0v10.0h-10.0zM156.1 750.6h19.6v10.0h-19.6zM146.5 760.2h10.0v10.0h-10.0zM127.3 769.8h19.6v10.0h-19.6zM597.6 779.4h10.0v10.0h-10.0zM386.5 798.5h10.0v10.0h-10.0zM540.0 798.5h10.0v10.0h-10.0zM386.5 808.1h10.0v10.0h-10.0zM204.1 817.7h10.0v10.0h-10.0zM568.8 817.7h10.0v10.0h-10.0zM194.5 827.3h10.0v10.0h-10.0zM559.2 827.3h10.0v10.0h-10.0zM127.3 836.8h19.6v10.0h-19.6zM194.5 836.8h10.0v10.0h-10.0zM146.5 846.4h10.0v10.0h-10.0zM204.1 846.4h10.0v10.0h-10.0zM146.5 856.0h10.0v10.0h-10.0zM127.3 865.6h19.6v10.0h-19.6zM348.1 875.2h10.0v10.0h-10.0z" fill="rgb(124,124,124)" shape-rendering="crispEdges"/><path d="M482.4 70.4h10.0v10.0h-10.0zM396.0 80.0h19.6v10.0h-19.6zM424.8 80.0h10.0v10.0h-10.0zM472.8 80.0h10.0v10.0h-10.0zM424.8 89.5h10.0v10.0h-10.0zM549.6 89.5h10.0v10.0h-10.0zM376.9 99.1h10.0v10.0h-10.0zM415.2 99.1h10.0v10.0h-10.0zM472.8 99.1h10.0v10.0h-10.0zM568.8 99.1h19.6v10.0h-19.6zM338.5 108.7h10.0v10.0h-10.0zM396.0 108.7h10.0v10.0h-10.0zM472.8 108.7h10.0v10.0h-10.0zM156.1 118.3h10.0v10.0h-10.0zM328.9 118.3h10.0v10.0h-10.0zM472.8 118.3h10.0v10.0h-10.0zM319.3 127.9h10.0v10.0h-10.0zM309.7 137.4h10.0v10.0h-10.0zM482.4 137.4h10.0v10.0h-10.0zM309.7 147.0h10.0v10.0h-10.0zM492.0 166.2h10.0v10.0h-10.0zM482.4 175.8h10.0v10.0h-10.0zM472.8 185.3h10.0v10.0h-10.0zM482.4 194.9h10.0v10.0h-10.0zM501.6 223.7h10.0v10.0h-10.0zM242.5 233.3h10.0v10.0h-10.0zM482.4 233.3h10.0v10.0h-10.0zM472.8 242.8h10.0v10.0h-10.0zM453.6 252.4h19.6v10.0h-19.6zM415.2 281.2h10.0v10.0h-10.0zM415.2 290.7h10.0v10.0h-10.0zM463.2 309.9h10.0v10.0h-10.0zM472.8 319.5h10.0v10.0h-10.0zM626.4 319.5h10.0v10.0h-10.0zM501.6 338.6h10.0v10.0h-10.0zM501.6 348.2h10.0v10.0h-10.0zM501.6 357.8h10.0v10.0h-10.0zM501.6 367.4h10.0v10.0h-10.0zM501.6 377.0h10.0v10.0h-10.0zM597.6 377.0h10.0v10.0h-10.0zM501.6 386.5h10.0v10.0h-10.0zM501.6 396.1h10.0v10.0h-10.0zM405.6 405.7h19.6v10.0h-19.6zM501.6 405.7h10.0v10.0h-10.0zM434.4 415.3h10.0v10.0h-10.0zM501.6 415.3h10.0v10.0h-10.0zM463.2 424.9h10.0v10.0h-10.0zM328.9 434.4h10.0v10.0h-10.0zM492.0 434.4h10.0v10.0h-10.0zM232.9 444.0h10.0v10.0h-10.0zM472.8 444.0h19.6v10.0h-19.6zM328.9 453.6h10.0v10.0h-10.0zM520.8 463.2h10.0v10.0h-10.0zM588.0 463.2h10.0v10.0h-10.0zM252.1 472.8h10.0v10.0h-10.0zM597.6 491.9h10.0v10.0h-10.0zM194.5 501.5h10.0v10.0h-10.0zM280.9 520.7h19.6v10.0h-19.6zM271.3 530.3h10.0v10.0h-10.0zM300.1 530.3h10.0v10.0h-10.0zM482.4 530.3h10.0v10.0h-10.0zM242.5 539.8h19.6v10.0h-19.6zM309.7 539.8h10.0v10.0h-10.0zM309.7 549.4h10.0v10.0h-10.0zM300.1 568.6h10.0v10.0h-10.0zM242.5 578.2h19.6v10.0h-19.6zM300.1 578.2h10.0v10.0h-10.0zM492.0 587.7h10.0v10.0h-10.0zM271.3 597.3h19.6v10.0h-19.6zM540.0 635.6h10.0v10.0h-10.0zM607.2 635.6h10.0v10.0h-10.0zM232.9 645.2h10.0v10.0h-10.0zM127.3 654.8h10.0v10.0h-10.0zM223.3 654.8h10.0v10.0h-10.0zM146.5 664.4h10.0v10.0h-10.0zM194.5 674.0h10.0v10.0h-10.0zM396.0 674.0h10.0v10.0h-10.0zM568.8 674.0h10.0v10.0h-10.0zM194.5 702.7h10.0v10.0h-10.0zM300.1 702.7h10.0v10.0h-10.0zM146.5 712.3h10.0v10.0h-10.0zM213.7 712.3h10.0v10.0h-10.0zM136.9 721.9h10.0v10.0h-10.0zM213.7 721.9h10.0v10.0h-10.0zM300.1 721.9h10.0v10.0h-10.0zM213.7 731.4h10.0v10.0h-10.0zM559.2 731.4h10.0v10.0h-10.0zM184.9 741.0h29.2v10.0h-29.2zM146.5 750.6h10.0v10.0h-10.0zM136.9 760.2h10.0v10.0h-10.0zM376.9 760.2h10.0v10.0h-10.0zM376.9 779.4h10.0v10.0h-10.0zM386.5 788.9h10.0v10.0h-10.0zM597.6 798.5h10.0v10.0h-10.0zM540.0 808.1h10.0v10.0h-10.0zM367.3 817.7h19.6v10.0h-19.6zM204.1 827.3h10.0v10.0h-10.0zM357.7 827.3h10.0v10.0h-10.0zM204.1 836.8h10.0v10.0h-10.0zM136.9 846.4h10.0v10.0h-10.0zM568.8 846.4h10.0v10.0h-10.0zM136.9 856.0h10.0v10.0h-10.0z" fill="rgb(128,128,128)" shape-rendering="crispEdges"/><path d="M492.0 60.8h10.0v10.0h-10.0zM540.0 60.8h10.0v10.0h-10.0zM492.0 70.4h10.0v10.0h-10.0zM540.0 70.4h10.0v10.0h-10.0zM415.2 80.0h10.0v10.0h-10.0zM482.4 80.0h10.0v10.0h-10.0zM540.0 80.0h10.0v10.0h-10.0zM415.2 89.5h10.0v10.0h-10.0zM472.8 89.5h10.0v10.0h-10.0zM405.6 99.1h10.0v10.0h-10.0zM559.2 99.1h10.0v10.0h-10.0zM597.6 99.1h10.0v10.0h-10.0zM348.1 108.7h10.0v10.0h-10.0zM338.5 127.9h10.0v10.0h-10.0zM482.4 127.9h10.0v10.0h-10.0zM319.3 137.4h10.0v10.0h-10.0zM492.0 137.4h10.0v10.0h-10.0zM492.0 147.0h10.0v10.0h-10.0zM492.0 156.6h10.0v10.0h-10.0zM501.6 166.2h19.6v10.0h-19.6zM482.4 185.3h10.0v10.0h-10.0zM472.8 194.9h10.0v10.0h-10.0zM511.2 223.7h10.0v10.0h-10.0zM492.0 233.3h10.0v10.0h-10.0zM472.8 252.4h10.0v10.0h-10.0zM424.8 300.3h48.4v10.0h-48.4zM472.8 309.9h10.0v10.0h-10.0zM482.4 319.5h19.6v10.0h-19.6zM501.6 329.1h10.0v10.0h-10.0zM367.3 405.7h10.0v10.0h-10.0zM396.0 405.7h10.0v10.0h-10.0zM357.7 415.3h10.0v10.0h-10.0zM559.2 415.3h10.0v10.0h-10.0zM338.5 424.9h10.0v10.0h-10.0zM444.0 424.9h19.6v10.0h-19.6zM501.6 424.9h10.0v10.0h-10.0zM242.5 444.0h10.0v10.0h-10.0zM328.9 444.0h10.0v10.0h-10.0zM549.6 444.0h10.0v10.0h-10.0zM213.7 453.6h10.0v10.0h-10.0zM549.6 453.6h19.6v10.0h-19.6zM252.1 463.2h10.0v10.0h-10.0zM242.5 482.3h10.0v10.0h-10.0zM376.9 482.3h19.6v10.0h-19.6zM492.0 482.3h10.0v10.0h-10.0zM482.4 491.9h10.0v10.0h-10.0zM472.8 501.5h10.0v10.0h-10.0zM597.6 501.5h10.0v10.0h-10.0zM472.8 511.1h10.0v10.0h-10.0zM405.6 520.7h10.0v10.0h-10.0zM232.9 539.8h10.0v10.0h-10.0zM261.7 539.8h10.0v10.0h-10.0zM482.4 539.8h10.0v10.0h-10.0zM300.1 559.0h10.0v10.0h-10.0zM242.5 568.6h19.6v10.0h-19.6zM405.6 568.6h10.0v10.0h-10.0zM232.9 578.2h10.0v10.0h-10.0zM232.9 587.7h10.0v10.0h-10.0zM616.8 587.7h10.0v10.0h-10.0zM232.9 597.3h10.0v10.0h-10.0zM492.0 597.3h10.0v10.0h-10.0zM232.9 606.9h10.0v10.0h-10.0zM232.9 616.5h10.0v10.0h-10.0zM232.9 626.1h10.0v10.0h-10.0zM232.9 635.6h10.0v10.0h-10.0zM540.0 645.2h10.0v10.0h-10.0zM136.9 654.8h10.0v10.0h-10.0zM156.1 664.4h48.4v10.0h-48.4zM213.7 664.4h10.0v10.0h-10.0zM405.6 664.4h10.0v10.0h-10.0zM204.1 674.0h19.6v10.0h-19.6zM204.1 683.5h19.6v10.0h-19.6zM396.0 683.5h10.0v10.0h-10.0zM204.1 693.1h19.6v10.0h-19.6zM396.0 693.1h10.0v10.0h-10.0zM540.0 693.1h10.0v10.0h-10.0zM204.1 702.7h19.6v10.0h-19.6zM396.0 702.7h10.0v10.0h-10.0zM156.1 712.3h48.4v10.0h-48.4zM300.1 712.3h10.0v10.0h-10.0zM559.2 712.3h10.0v10.0h-10.0zM146.5 721.9h10.0v10.0h-10.0zM127.3 731.4h19.6v10.0h-19.6zM146.5 741.0h38.8v10.0h-38.8zM136.9 750.6h10.0v10.0h-10.0zM386.5 750.6h10.0v10.0h-10.0zM127.3 760.2h10.0v10.0h-10.0zM376.9 769.8h10.0v10.0h-10.0zM386.5 779.4h10.0v10.0h-10.0zM396.0 788.9h10.0v10.0h-10.0zM588.0 788.9h19.6v10.0h-19.6zM396.0 798.5h10.0v10.0h-10.0zM396.0 808.1h10.0v10.0h-10.0zM578.4 808.1h10.0v10.0h-10.0zM386.5 817.7h10.0v10.0h-10.0zM578.4 817.7h10.0v10.0h-10.0zM549.6 827.3h10.0v10.0h-10.0zM568.8 827.3h10.0v10.0h-10.0zM568.8 836.8h10.0v10.0h-10.0zM127.3 846.4h10.0v10.0h-10.0zM127.3 856.0h10.0v10.0h-10.0zM348.1 884.7h10.0v10.0h-10.0z" fill="rgb(132,132,132)" shape-rendering="crispEdges"/><path d="M501.6 60.8h38.8v10.0h-38.8zM501.6 70.4h10.0v10.0h-10.0zM530.4 70.4h10.0v10.0h-10.0zM492.0 80.0h10.0v10.0h-10.0zM386.5 89.5h29.2v10.0h-29.2zM482.4 89.5h10.0v10.0h-10.0zM540.0 89.5h10.0v10.0h-10.0zM165.7 99.1h10.0v10.0h-10.0zM386.5 99.1h19.6v10.0h-19.6zM549.6 99.1h10.0v10.0h-10.0zM348.1 118.3h10.0v10.0h-10.0zM482.4 118.3h10.0v10.0h-10.0zM328.9 127.9h10.0v10.0h-10.0zM492.0 127.9h10.0v10.0h-10.0zM501.6 156.6h10.0v10.0h-10.0zM520.8 194.9h10.0v10.0h-10.0zM520.8 204.5h10.0v10.0h-10.0zM482.4 242.8h19.6v10.0h-19.6zM482.4 252.4h19.6v10.0h-19.6zM424.8 262.0h77.2v10.0h-77.2zM424.8 271.6h77.2v10.0h-77.2zM424.8 281.2h77.2v10.0h-77.2zM424.8 290.7h77.2v10.0h-77.2zM472.8 300.3h29.2v10.0h-29.2zM482.4 309.9h19.6v10.0h-19.6zM501.6 319.5h10.0v10.0h-10.0zM376.9 405.7h19.6v10.0h-19.6zM424.8 415.3h10.0v10.0h-10.0zM434.4 424.9h10.0v10.0h-10.0zM636.0 424.9h10.0v10.0h-10.0zM444.0 434.4h10.0v10.0h-10.0zM463.2 434.4h10.0v10.0h-10.0zM223.3 453.6h10.0v10.0h-10.0zM472.8 453.6h19.6v10.0h-19.6zM540.0 453.6h10.0v10.0h-10.0zM549.6 463.2h10.0v10.0h-10.0zM204.1 472.8h10.0v10.0h-10.0zM242.5 472.8h10.0v10.0h-10.0zM501.6 472.8h10.0v10.0h-10.0zM396.0 482.3h10.0v10.0h-10.0zM232.9 491.9h10.0v10.0h-10.0zM348.1 491.9h10.0v10.0h-10.0zM405.6 491.9h10.0v10.0h-10.0zM223.3 511.1h10.0v10.0h-10.0zM597.6 511.1h10.0v10.0h-10.0zM223.3 520.7h10.0v10.0h-10.0zM597.6 520.7h10.0v10.0h-10.0zM223.3 530.3h10.0v10.0h-10.0zM280.9 530.3h19.6v10.0h-19.6zM405.6 530.3h10.0v10.0h-10.0zM271.3 539.8h10.0v10.0h-10.0zM300.1 539.8h10.0v10.0h-10.0zM405.6 539.8h10.0v10.0h-10.0zM232.9 549.4h38.8v10.0h-38.8zM300.1 549.4h10.0v10.0h-10.0zM482.4 549.4h10.0v10.0h-10.0zM232.9 559.0h38.8v10.0h-38.8zM482.4 559.0h10.0v10.0h-10.0zM232.9 568.6h10.0v10.0h-10.0zM156.1 587.7h10.0v10.0h-10.0zM415.2 587.7h10.0v10.0h-10.0zM223.3 645.2h10.0v10.0h-10.0zM146.5 654.8h10.0v10.0h-10.0zM213.7 654.8h10.0v10.0h-10.0zM540.0 654.8h10.0v10.0h-10.0zM204.1 664.4h10.0v10.0h-10.0zM540.0 664.4h10.0v10.0h-10.0zM405.6 674.0h10.0v10.0h-10.0zM540.0 674.0h10.0v10.0h-10.0zM540.0 683.5h10.0v10.0h-10.0zM540.0 702.7h10.0v10.0h-10.0zM204.1 712.3h10.0v10.0h-10.0zM156.1 721.9h58.0v10.0h-58.0zM530.4 721.9h10.0v10.0h-10.0zM146.5 731.4h67.6v10.0h-67.6zM127.3 741.0h19.6v10.0h-19.6zM520.8 741.0h10.0v10.0h-10.0zM127.3 750.6h10.0v10.0h-10.0zM396.0 750.6h10.0v10.0h-10.0zM386.5 760.2h19.6v10.0h-19.6zM386.5 769.8h29.2v10.0h-29.2zM396.0 779.4h19.6v10.0h-19.6zM588.0 808.1h10.0v10.0h-10.0zM396.0 817.7h10.0v10.0h-10.0zM348.1 894.3h10.0v10.0h-10.0z" fill="rgb(136,136,136)" shape-rendering="crispEdges"/><path d="M511.2 70.4h19.6v10.0h-19.6zM501.6 80.0h10.0v10.0h-10.0zM530.4 80.0h10.0v10.0h-10.0zM607.2 80.0h10.0v10.0h-10.0zM492.0 89.5h10.0v10.0h-10.0zM607.2 89.5h10.0v10.0h-10.0zM482.4 99.1h10.0v10.0h-10.0zM482.4 108.7h10.0v10.0h-10.0zM578.4 108.7h19.6v10.0h-19.6zM338.5 118.3h10.0v10.0h-10.0zM492.0 118.3h10.0v10.0h-10.0zM501.6 127.9h10.0v10.0h-10.0zM501.6 137.4h10.0v10.0h-10.0zM501.6 147.0h10.0v10.0h-10.0zM511.2 156.6h10.0v10.0h-10.0zM520.8 185.3h10.0v10.0h-10.0zM520.8 214.1h10.0v10.0h-10.0zM501.6 233.3h10.0v10.0h-10.0zM501.6 300.3h10.0v10.0h-10.0zM636.0 300.3h10.0v10.0h-10.0zM501.6 309.9h10.0v10.0h-10.0zM568.8 396.1h10.0v10.0h-10.0zM405.6 415.3h19.6v10.0h-19.6zM434.4 434.4h10.0v10.0h-10.0zM453.6 434.4h10.0v10.0h-10.0zM501.6 434.4h10.0v10.0h-10.0zM549.6 434.4h10.0v10.0h-10.0zM626.4 434.4h10.0v10.0h-10.0zM434.4 444.0h19.6v10.0h-19.6zM463.2 444.0h10.0v10.0h-10.0zM252.1 453.6h10.0v10.0h-10.0zM578.4 453.6h10.0v10.0h-10.0zM511.2 463.2h10.0v10.0h-10.0zM588.0 472.8h10.0v10.0h-10.0zM367.3 482.3h10.0v10.0h-10.0zM338.5 491.9h10.0v10.0h-10.0zM223.3 501.5h10.0v10.0h-10.0zM184.9 530.3h10.0v10.0h-10.0zM597.6 530.3h10.0v10.0h-10.0zM223.3 539.8h10.0v10.0h-10.0zM271.3 549.4h10.0v10.0h-10.0zM405.6 549.4h10.0v10.0h-10.0zM271.3 559.0h10.0v10.0h-10.0zM165.7 568.6h10.0v10.0h-10.0zM261.7 568.6h10.0v10.0h-10.0zM223.3 578.2h10.0v10.0h-10.0zM223.3 587.7h10.0v10.0h-10.0zM261.7 587.7h10.0v10.0h-10.0zM290.5 587.7h10.0v10.0h-10.0zM549.6 587.7h10.0v10.0h-10.0zM492.0 606.9h10.0v10.0h-10.0zM607.2 626.1h10.0v10.0h-10.0zM597.6 645.2h10.0v10.0h-10.0zM156.1 654.8h29.2v10.0h-29.2zM204.1 654.8h10.0v10.0h-10.0zM578.4 654.8h10.0v10.0h-10.0zM405.6 683.5h10.0v10.0h-10.0zM405.6 693.1h10.0v10.0h-10.0zM501.6 702.7h10.0v10.0h-10.0zM396.0 712.3h10.0v10.0h-10.0zM396.0 721.9h10.0v10.0h-10.0zM549.6 721.9h10.0v10.0h-10.0zM396.0 731.4h10.0v10.0h-10.0zM396.0 741.0h10.0v10.0h-10.0zM405.6 760.2h10.0v10.0h-10.0zM415.2 769.8h10.0v10.0h-10.0zM415.2 779.4h10.0v10.0h-10.0zM405.6 788.9h10.0v10.0h-10.0zM405.6 798.5h10.0v10.0h-10.0zM588.0 798.5h10.0v10.0h-10.0zM357.7 836.8h10.0v10.0h-10.0z" fill="rgb(140,140,140)" shape-rendering="crispEdges"/><path d="M607.2 70.4h10.0v10.0h-10.0zM511.2 80.0h19.6v10.0h-19.6zM501.6 89.5h10.0v10.0h-10.0zM530.4 89.5h10.0v10.0h-10.0zM492.0 99.1h10.0v10.0h-10.0zM540.0 99.1h10.0v10.0h-10.0zM607.2 99.1h10.0v10.0h-10.0zM492.0 108.7h10.0v10.0h-10.0zM568.8 108.7h10.0v10.0h-10.0zM597.6 108.7h10.0v10.0h-10.0zM501.6 118.3h10.0v10.0h-10.0zM511.2 147.0h10.0v10.0h-10.0zM501.6 290.7h10.0v10.0h-10.0zM626.4 309.9h10.0v10.0h-10.0zM511.2 329.1h10.0v10.0h-10.0zM511.2 338.6h10.0v10.0h-10.0zM511.2 348.2h10.0v10.0h-10.0zM607.2 348.2h10.0v10.0h-10.0zM511.2 357.8h10.0v10.0h-10.0zM511.2 367.4h10.0v10.0h-10.0zM511.2 377.0h10.0v10.0h-10.0zM511.2 386.5h10.0v10.0h-10.0zM511.2 396.1h10.0v10.0h-10.0zM511.2 405.7h10.0v10.0h-10.0zM367.3 415.3h10.0v10.0h-10.0zM396.0 415.3h10.0v10.0h-10.0zM348.1 424.9h10.0v10.0h-10.0zM424.8 424.9h10.0v10.0h-10.0zM453.6 444.0h10.0v10.0h-10.0zM232.9 453.6h10.0v10.0h-10.0zM434.4 453.6h19.6v10.0h-19.6zM530.4 453.6h10.0v10.0h-10.0zM568.8 453.6h10.0v10.0h-10.0zM213.7 463.2h10.0v10.0h-10.0zM242.5 463.2h10.0v10.0h-10.0zM386.5 472.8h10.0v10.0h-10.0zM549.6 472.8h10.0v10.0h-10.0zM204.1 482.3h10.0v10.0h-10.0zM232.9 482.3h10.0v10.0h-10.0zM405.6 482.3h10.0v10.0h-10.0zM194.5 511.1h10.0v10.0h-10.0zM280.9 539.8h19.6v10.0h-19.6zM597.6 539.8h10.0v10.0h-10.0zM175.3 549.4h10.0v10.0h-10.0zM223.3 549.4h10.0v10.0h-10.0zM290.5 559.0h10.0v10.0h-10.0zM405.6 559.0h10.0v10.0h-10.0zM223.3 568.6h10.0v10.0h-10.0zM271.3 568.6h10.0v10.0h-10.0zM290.5 568.6h10.0v10.0h-10.0zM213.7 578.2h10.0v10.0h-10.0zM261.7 578.2h10.0v10.0h-10.0zM290.5 578.2h10.0v10.0h-10.0zM415.2 578.2h10.0v10.0h-10.0zM549.6 578.2h10.0v10.0h-10.0zM607.2 578.2h10.0v10.0h-10.0zM213.7 587.7h10.0v10.0h-10.0zM271.3 587.7h19.6v10.0h-19.6zM223.3 597.3h10.0v10.0h-10.0zM549.6 597.3h10.0v10.0h-10.0zM223.3 606.9h10.0v10.0h-10.0zM607.2 606.9h10.0v10.0h-10.0zM492.0 616.5h10.0v10.0h-10.0zM223.3 635.6h10.0v10.0h-10.0zM127.3 645.2h19.6v10.0h-19.6zM213.7 645.2h10.0v10.0h-10.0zM184.9 654.8h19.6v10.0h-19.6zM415.2 664.4h10.0v10.0h-10.0zM568.8 664.4h10.0v10.0h-10.0zM405.6 702.7h10.0v10.0h-10.0zM559.2 702.7h10.0v10.0h-10.0zM540.0 712.3h19.6v10.0h-19.6zM530.4 731.4h10.0v10.0h-10.0zM549.6 731.4h10.0v10.0h-10.0zM405.6 750.6h10.0v10.0h-10.0zM415.2 760.2h10.0v10.0h-10.0zM424.8 769.8h10.0v10.0h-10.0zM424.8 779.4h10.0v10.0h-10.0zM415.2 788.9h10.0v10.0h-10.0zM405.6 808.1h10.0v10.0h-10.0zM540.0 817.7h10.0v10.0h-10.0zM367.3 827.3h29.2v10.0h-29.2zM559.2 836.8h10.0v10.0h-10.0z" fill="rgb(144,144,144)" shape-rendering="crispEdges"/><path d="M607.2 60.8h10.0v10.0h-10.0zM194.5 70.4h10.0v10.0h-10.0zM184.9 80.0h10.0v10.0h-10.0zM511.2 89.5h19.6v10.0h-19.6zM501.6 99.1h10.0v10.0h-10.0zM530.4 99.1h10.0v10.0h-10.0zM501.6 108.7h10.0v10.0h-10.0zM559.2 108.7h10.0v10.0h-10.0zM511.2 118.3h10.0v10.0h-10.0zM578.4 118.3h19.6v10.0h-19.6zM146.5 127.9h10.0v10.0h-10.0zM511.2 127.9h10.0v10.0h-10.0zM511.2 137.4h10.0v10.0h-10.0zM520.8 175.8h10.0v10.0h-10.0zM501.6 242.8h10.0v10.0h-10.0zM501.6 252.4h10.0v10.0h-10.0zM501.6 262.0h10.0v10.0h-10.0zM501.6 271.6h10.0v10.0h-10.0zM501.6 281.2h10.0v10.0h-10.0zM511.2 300.3h10.0v10.0h-10.0zM511.2 309.9h10.0v10.0h-10.0zM511.2 319.5h10.0v10.0h-10.0zM559.2 405.7h10.0v10.0h-10.0zM376.9 415.3h19.6v10.0h-19.6zM511.2 415.3h10.0v10.0h-10.0zM357.7 424.9h19.6v10.0h-19.6zM396.0 424.9h29.2v10.0h-29.2zM424.8 434.4h10.0v10.0h-10.0zM424.8 444.0h10.0v10.0h-10.0zM492.0 444.0h10.0v10.0h-10.0zM540.0 444.0h10.0v10.0h-10.0zM242.5 453.6h10.0v10.0h-10.0zM424.8 453.6h10.0v10.0h-10.0zM463.2 453.6h10.0v10.0h-10.0zM223.3 463.2h19.6v10.0h-19.6zM434.4 463.2h10.0v10.0h-10.0zM472.8 463.2h19.6v10.0h-19.6zM232.9 472.8h10.0v10.0h-10.0zM376.9 472.8h10.0v10.0h-10.0zM396.0 472.8h19.6v10.0h-19.6zM492.0 472.8h10.0v10.0h-10.0zM338.5 482.3h10.0v10.0h-10.0zM357.7 482.3h10.0v10.0h-10.0zM415.2 482.3h10.0v10.0h-10.0zM482.4 482.3h10.0v10.0h-10.0zM415.2 491.9h10.0v10.0h-10.0zM472.8 491.9h10.0v10.0h-10.0zM280.9 549.4h19.6v10.0h-19.6zM597.6 549.4h10.0v10.0h-10.0zM223.3 559.0h10.0v10.0h-10.0zM280.9 559.0h10.0v10.0h-10.0zM597.6 559.0h10.0v10.0h-10.0zM280.9 568.6h10.0v10.0h-10.0zM271.3 578.2h10.0v10.0h-10.0zM415.2 597.3h10.0v10.0h-10.0zM607.2 597.3h10.0v10.0h-10.0zM549.6 606.9h10.0v10.0h-10.0zM223.3 616.5h10.0v10.0h-10.0zM607.2 616.5h10.0v10.0h-10.0zM223.3 626.1h10.0v10.0h-10.0zM492.0 626.1h10.0v10.0h-10.0zM492.0 635.6h10.0v10.0h-10.0zM146.5 645.2h29.2v10.0h-29.2zM415.2 654.8h10.0v10.0h-10.0zM415.2 674.0h10.0v10.0h-10.0zM415.2 683.5h10.0v10.0h-10.0zM415.2 693.1h10.0v10.0h-10.0zM415.2 702.7h10.0v10.0h-10.0zM405.6 712.3h10.0v10.0h-10.0zM405.6 741.0h10.0v10.0h-10.0zM530.4 741.0h19.6v10.0h-19.6zM415.2 750.6h10.0v10.0h-10.0zM424.8 760.2h10.0v10.0h-10.0zM434.4 769.8h10.0v10.0h-10.0zM434.4 779.4h10.0v10.0h-10.0zM424.8 788.9h10.0v10.0h-10.0zM405.6 817.7h10.0v10.0h-10.0zM396.0 827.3h10.0v10.0h-10.0zM357.7 846.4h10.0v10.0h-10.0z" fill="rgb(148,148,148)" shape-rendering="crispEdges"/><path d="M511.2 99.1h19.6v10.0h-19.6zM511.2 108.7h10.0v10.0h-10.0zM549.6 108.7h10.0v10.0h-10.0zM616.8 329.1h10.0v10.0h-10.0zM376.9 424.9h19.6v10.0h-19.6zM549.6 424.9h10.0v10.0h-10.0zM386.5 434.4h38.8v10.0h-38.8zM386.5 444.0h38.8v10.0h-38.8zM386.5 453.6h38.8v10.0h-38.8zM453.6 453.6h10.0v10.0h-10.0zM520.8 453.6h10.0v10.0h-10.0zM626.4 453.6h10.0v10.0h-10.0zM386.5 463.2h48.4v10.0h-48.4zM444.0 463.2h10.0v10.0h-10.0zM501.6 463.2h10.0v10.0h-10.0zM559.2 463.2h10.0v10.0h-10.0zM415.2 472.8h29.2v10.0h-29.2zM482.4 472.8h10.0v10.0h-10.0zM424.8 482.3h19.6v10.0h-19.6zM588.0 482.3h10.0v10.0h-10.0zM223.3 491.9h10.0v10.0h-10.0zM415.2 501.5h10.0v10.0h-10.0zM472.8 520.7h10.0v10.0h-10.0zM482.4 568.6h10.0v10.0h-10.0zM597.6 568.6h10.0v10.0h-10.0zM280.9 578.2h10.0v10.0h-10.0zM127.3 597.3h29.2v10.0h-29.2zM549.6 616.5h10.0v10.0h-10.0zM175.3 645.2h10.0v10.0h-10.0zM204.1 645.2h10.0v10.0h-10.0zM415.2 645.2h10.0v10.0h-10.0zM492.0 645.2h10.0v10.0h-10.0zM549.6 702.7h10.0v10.0h-10.0zM415.2 712.3h10.0v10.0h-10.0zM405.6 721.9h19.6v10.0h-19.6zM540.0 721.9h10.0v10.0h-10.0zM405.6 731.4h19.6v10.0h-19.6zM415.2 741.0h10.0v10.0h-10.0zM511.2 741.0h10.0v10.0h-10.0zM530.4 750.6h10.0v10.0h-10.0zM434.4 760.2h10.0v10.0h-10.0zM434.4 788.9h10.0v10.0h-10.0zM415.2 798.5h10.0v10.0h-10.0zM386.5 836.8h19.6v10.0h-19.6zM386.5 846.4h19.6v10.0h-19.6zM357.7 856.0h10.0v10.0h-10.0zM357.7 865.6h10.0v10.0h-10.0z" fill="rgb(152,152,152)" shape-rendering="crispEdges"/><path d="M520.8 108.7h10.0v10.0h-10.0zM607.2 108.7h10.0v10.0h-10.0zM568.8 118.3h10.0v10.0h-10.0zM597.6 118.3h10.0v10.0h-10.0zM136.9 147.0h10.0v10.0h-10.0zM520.8 166.2h10.0v10.0h-10.0zM520.8 223.7h10.0v10.0h-10.0zM511.2 290.7h10.0v10.0h-10.0zM578.4 386.5h10.0v10.0h-10.0zM511.2 424.9h10.0v10.0h-10.0zM338.5 434.4h10.0v10.0h-10.0zM376.9 434.4h10.0v10.0h-10.0zM540.0 434.4h10.0v10.0h-10.0zM626.4 444.0h10.0v10.0h-10.0zM492.0 453.6h10.0v10.0h-10.0zM492.0 463.2h10.0v10.0h-10.0zM213.7 472.8h19.6v10.0h-19.6zM338.5 472.8h10.0v10.0h-10.0zM367.3 472.8h10.0v10.0h-10.0zM444.0 472.8h10.0v10.0h-10.0zM472.8 472.8h10.0v10.0h-10.0zM223.3 482.3h10.0v10.0h-10.0zM348.1 482.3h10.0v10.0h-10.0zM444.0 482.3h10.0v10.0h-10.0zM472.8 482.3h10.0v10.0h-10.0zM549.6 482.3h10.0v10.0h-10.0zM204.1 491.9h10.0v10.0h-10.0zM415.2 511.1h10.0v10.0h-10.0zM549.6 511.1h10.0v10.0h-10.0zM194.5 520.7h10.0v10.0h-10.0zM549.6 520.7h10.0v10.0h-10.0zM549.6 530.3h10.0v10.0h-10.0zM213.7 539.8h10.0v10.0h-10.0zM549.6 539.8h10.0v10.0h-10.0zM213.7 549.4h10.0v10.0h-10.0zM549.6 568.6h10.0v10.0h-10.0zM165.7 578.2h10.0v10.0h-10.0zM607.2 587.7h10.0v10.0h-10.0zM213.7 597.3h10.0v10.0h-10.0zM415.2 606.9h10.0v10.0h-10.0zM549.6 626.1h10.0v10.0h-10.0zM156.1 635.6h19.6v10.0h-19.6zM213.7 635.6h10.0v10.0h-10.0zM415.2 635.6h10.0v10.0h-10.0zM549.6 635.6h10.0v10.0h-10.0zM588.0 645.2h10.0v10.0h-10.0zM568.8 654.8h10.0v10.0h-10.0zM559.2 693.1h10.0v10.0h-10.0zM424.8 702.7h10.0v10.0h-10.0zM453.6 702.7h10.0v10.0h-10.0zM424.8 712.3h10.0v10.0h-10.0zM453.6 712.3h10.0v10.0h-10.0zM424.8 721.9h10.0v10.0h-10.0zM453.6 721.9h10.0v10.0h-10.0zM424.8 731.4h10.0v10.0h-10.0zM453.6 731.4h10.0v10.0h-10.0zM424.8 741.0h10.0v10.0h-10.0zM424.8 750.6h19.6v10.0h-19.6zM444.0 760.2h10.0v10.0h-10.0zM530.4 760.2h10.0v10.0h-10.0zM444.0 769.8h10.0v10.0h-10.0zM444.0 779.4h10.0v10.0h-10.0zM444.0 788.9h10.0v10.0h-10.0zM424.8 798.5h19.6v10.0h-19.6zM405.6 827.3h10.0v10.0h-10.0zM367.3 836.8h19.6v10.0h-19.6zM405.6 836.8h10.0v10.0h-10.0zM376.9 846.4h10.0v10.0h-10.0zM405.6 846.4h10.0v10.0h-10.0zM386.5 856.0h29.2v10.0h-29.2zM396.0 865.6h19.6v10.0h-19.6zM357.7 875.2h10.0v10.0h-10.0z" fill="rgb(156,156,156)" shape-rendering="crispEdges"/><path d="M175.3 89.5h10.0v10.0h-10.0zM530.4 108.7h19.6v10.0h-19.6zM520.8 118.3h10.0v10.0h-10.0zM520.8 156.6h10.0v10.0h-10.0zM511.2 233.3h10.0v10.0h-10.0zM520.8 300.3h10.0v10.0h-10.0zM520.8 309.9h10.0v10.0h-10.0zM520.8 319.5h10.0v10.0h-10.0zM520.8 329.1h10.0v10.0h-10.0zM520.8 338.6h10.0v10.0h-10.0zM520.8 348.2h10.0v10.0h-10.0zM520.8 357.8h10.0v10.0h-10.0zM520.8 367.4h10.0v10.0h-10.0zM597.6 367.4h10.0v10.0h-10.0zM520.8 377.0h10.0v10.0h-10.0zM520.8 386.5h10.0v10.0h-10.0zM520.8 396.1h10.0v10.0h-10.0zM520.8 405.7h10.0v10.0h-10.0zM367.3 434.4h10.0v10.0h-10.0zM511.2 434.4h10.0v10.0h-10.0zM636.0 434.4h10.0v10.0h-10.0zM376.9 444.0h10.0v10.0h-10.0zM501.6 444.0h10.0v10.0h-10.0zM530.4 444.0h10.0v10.0h-10.0zM376.9 453.6h10.0v10.0h-10.0zM511.2 453.6h10.0v10.0h-10.0zM376.9 463.2h10.0v10.0h-10.0zM453.6 463.2h19.6v10.0h-19.6zM578.4 463.2h10.0v10.0h-10.0zM424.8 491.9h19.6v10.0h-19.6zM549.6 491.9h10.0v10.0h-10.0zM588.0 491.9h10.0v10.0h-10.0zM549.6 501.5h10.0v10.0h-10.0zM184.9 539.8h10.0v10.0h-10.0zM549.6 549.4h10.0v10.0h-10.0zM175.3 559.0h10.0v10.0h-10.0zM549.6 559.0h10.0v10.0h-10.0zM597.6 578.2h10.0v10.0h-10.0zM559.2 587.7h10.0v10.0h-10.0zM156.1 597.3h10.0v10.0h-10.0zM559.2 597.3h10.0v10.0h-10.0zM415.2 616.5h10.0v10.0h-10.0zM415.2 626.1h10.0v10.0h-10.0zM146.5 635.6h10.0v10.0h-10.0zM175.3 635.6h10.0v10.0h-10.0zM597.6 635.6h10.0v10.0h-10.0zM184.9 645.2h19.6v10.0h-19.6zM549.6 645.2h10.0v10.0h-10.0zM578.4 645.2h10.0v10.0h-10.0zM492.0 654.8h10.0v10.0h-10.0zM492.0 664.4h10.0v10.0h-10.0zM492.0 674.0h10.0v10.0h-10.0zM424.8 683.5h10.0v10.0h-10.0zM424.8 693.1h10.0v10.0h-10.0zM453.6 693.1h10.0v10.0h-10.0zM549.6 693.1h10.0v10.0h-10.0zM540.0 731.4h10.0v10.0h-10.0zM453.6 741.0h10.0v10.0h-10.0zM444.0 750.6h10.0v10.0h-10.0zM444.0 798.5h10.0v10.0h-10.0zM415.2 808.1h10.0v10.0h-10.0zM549.6 836.8h10.0v10.0h-10.0zM559.2 846.4h10.0v10.0h-10.0zM376.9 856.0h10.0v10.0h-10.0zM396.0 875.2h19.6v10.0h-19.6zM559.2 875.2h10.0v10.0h-10.0zM559.2 884.7h10.0v10.0h-10.0zM559.2 894.3h10.0v10.0h-10.0z" fill="rgb(160,160,160)" shape-rendering="crispEdges"/><path d="M194.5 60.8h10.0v10.0h-10.0zM616.8 99.1h10.0v10.0h-10.0zM156.1 108.7h10.0v10.0h-10.0zM520.8 127.9h10.0v10.0h-10.0zM588.0 127.9h10.0v10.0h-10.0zM626.4 300.3h10.0v10.0h-10.0zM607.2 338.6h10.0v10.0h-10.0zM588.0 377.0h10.0v10.0h-10.0zM520.8 415.3h10.0v10.0h-10.0zM357.7 434.4h10.0v10.0h-10.0zM501.6 453.6h10.0v10.0h-10.0zM636.0 453.6h10.0v10.0h-10.0zM357.7 472.8h10.0v10.0h-10.0zM453.6 472.8h19.6v10.0h-19.6zM213.7 482.3h10.0v10.0h-10.0zM453.6 482.3h19.6v10.0h-19.6zM444.0 491.9h10.0v10.0h-10.0zM463.2 491.9h10.0v10.0h-10.0zM204.1 501.5h10.0v10.0h-10.0zM463.2 501.5h10.0v10.0h-10.0zM415.2 520.7h10.0v10.0h-10.0zM194.5 530.3h10.0v10.0h-10.0zM213.7 530.3h10.0v10.0h-10.0zM472.8 530.3h10.0v10.0h-10.0zM204.1 539.8h10.0v10.0h-10.0zM213.7 568.6h10.0v10.0h-10.0zM415.2 568.6h10.0v10.0h-10.0zM204.1 587.7h10.0v10.0h-10.0zM597.6 587.7h10.0v10.0h-10.0zM597.6 597.3h10.0v10.0h-10.0zM213.7 606.9h10.0v10.0h-10.0zM559.2 606.9h10.0v10.0h-10.0zM597.6 606.9h10.0v10.0h-10.0zM156.1 626.1h19.6v10.0h-19.6zM127.3 635.6h19.6v10.0h-19.6zM204.1 635.6h10.0v10.0h-10.0zM568.8 645.2h10.0v10.0h-10.0zM424.8 674.0h10.0v10.0h-10.0zM492.0 683.5h10.0v10.0h-10.0zM559.2 683.5h10.0v10.0h-10.0zM434.4 702.7h19.6v10.0h-19.6zM434.4 712.3h19.6v10.0h-19.6zM434.4 721.9h19.6v10.0h-19.6zM434.4 731.4h19.6v10.0h-19.6zM434.4 741.0h19.6v10.0h-19.6zM453.6 750.6h10.0v10.0h-10.0zM453.6 760.2h10.0v10.0h-10.0zM453.6 769.8h10.0v10.0h-10.0zM530.4 769.8h10.0v10.0h-10.0zM453.6 779.4h10.0v10.0h-10.0zM453.6 788.9h10.0v10.0h-10.0zM424.8 808.1h19.6v10.0h-19.6zM415.2 817.7h10.0v10.0h-10.0zM415.2 827.3h10.0v10.0h-10.0zM540.0 827.3h10.0v10.0h-10.0zM415.2 836.8h10.0v10.0h-10.0zM367.3 846.4h10.0v10.0h-10.0zM415.2 846.4h10.0v10.0h-10.0zM415.2 856.0h10.0v10.0h-10.0zM559.2 856.0h10.0v10.0h-10.0zM386.5 865.6h10.0v10.0h-10.0zM415.2 865.6h10.0v10.0h-10.0zM559.2 865.6h10.0v10.0h-10.0zM357.7 884.7h10.0v10.0h-10.0z" fill="rgb(164,164,164)" shape-rendering="crispEdges"/><path d="M616.8 89.5h10.0v10.0h-10.0zM616.8 108.7h10.0v10.0h-10.0zM559.2 118.3h10.0v10.0h-10.0zM597.6 127.9h10.0v10.0h-10.0zM520.8 137.4h10.0v10.0h-10.0zM520.8 147.0h10.0v10.0h-10.0zM511.2 281.2h10.0v10.0h-10.0zM520.8 290.7h10.0v10.0h-10.0zM549.6 415.3h10.0v10.0h-10.0zM520.8 424.9h10.0v10.0h-10.0zM540.0 424.9h10.0v10.0h-10.0zM348.1 434.4h10.0v10.0h-10.0zM520.8 434.4h19.6v10.0h-19.6zM511.2 444.0h19.6v10.0h-19.6zM338.5 463.2h10.0v10.0h-10.0zM367.3 463.2h10.0v10.0h-10.0zM568.8 463.2h10.0v10.0h-10.0zM559.2 472.8h10.0v10.0h-10.0zM213.7 491.9h10.0v10.0h-10.0zM213.7 501.5h10.0v10.0h-10.0zM424.8 501.5h10.0v10.0h-10.0zM588.0 501.5h10.0v10.0h-10.0zM213.7 511.1h10.0v10.0h-10.0zM213.7 520.7h10.0v10.0h-10.0zM415.2 530.3h10.0v10.0h-10.0zM415.2 539.8h10.0v10.0h-10.0zM204.1 549.4h10.0v10.0h-10.0zM213.7 559.0h10.0v10.0h-10.0zM204.1 578.2h10.0v10.0h-10.0zM559.2 578.2h10.0v10.0h-10.0zM165.7 587.7h10.0v10.0h-10.0zM424.8 587.7h10.0v10.0h-10.0zM175.3 626.1h10.0v10.0h-10.0zM213.7 626.1h10.0v10.0h-10.0zM597.6 626.1h10.0v10.0h-10.0zM184.9 635.6h10.0v10.0h-10.0zM549.6 654.8h10.0v10.0h-10.0zM424.8 664.4h10.0v10.0h-10.0zM549.6 664.4h10.0v10.0h-10.0zM549.6 674.0h19.6v10.0h-19.6zM453.6 683.5h10.0v10.0h-10.0zM549.6 683.5h10.0v10.0h-10.0zM434.4 693.1h19.6v10.0h-19.6zM492.0 693.1h10.0v10.0h-10.0zM463.2 702.7h10.0v10.0h-10.0zM463.2 712.3h10.0v10.0h-10.0zM501.6 712.3h10.0v10.0h-10.0zM463.2 721.9h10.0v10.0h-10.0zM463.2 731.4h10.0v10.0h-10.0zM530.4 779.4h10.0v10.0h-10.0zM453.6 798.5h10.0v10.0h-10.0zM444.0 808.1h19.6v10.0h-19.6zM367.3 856.0h10.0v10.0h-10.0zM424.8 856.0h19.6v10.0h-19.6zM367.3 865.6h19.6v10.0h-19.6zM424.8 865.6h19.6v10.0h-19.6zM386.5 875.2h10.0v10.0h-10.0zM415.2 875.2h10.0v10.0h-10.0zM386.5 884.7h38.8v10.0h-38.8zM357.7 894.3h10.0v10.0h-10.0zM386.5 894.3h38.8v10.0h-38.8z" fill="rgb(168,168,168)" shape-rendering="crispEdges"/><path d="M616.8 70.4h10.0v10.0h-10.0zM616.8 80.0h10.0v10.0h-10.0zM530.4 118.3h10.0v10.0h-10.0zM607.2 118.3h10.0v10.0h-10.0zM578.4 127.9h10.0v10.0h-10.0zM530.4 424.9h10.0v10.0h-10.0zM367.3 444.0h10.0v10.0h-10.0zM453.6 491.9h10.0v10.0h-10.0zM204.1 511.1h10.0v10.0h-10.0zM472.8 539.8h10.0v10.0h-10.0zM415.2 549.4h10.0v10.0h-10.0zM415.2 559.0h10.0v10.0h-10.0zM424.8 578.2h10.0v10.0h-10.0zM204.1 597.3h10.0v10.0h-10.0zM156.1 606.9h10.0v10.0h-10.0zM156.1 616.5h19.6v10.0h-19.6zM213.7 616.5h10.0v10.0h-10.0zM559.2 616.5h10.0v10.0h-10.0zM597.6 616.5h10.0v10.0h-10.0zM146.5 626.1h10.0v10.0h-10.0zM559.2 626.1h10.0v10.0h-10.0zM194.5 635.6h10.0v10.0h-10.0zM559.2 635.6h19.6v10.0h-19.6zM559.2 645.2h10.0v10.0h-10.0zM424.8 654.8h10.0v10.0h-10.0zM559.2 654.8h10.0v10.0h-10.0zM559.2 664.4h10.0v10.0h-10.0zM463.2 741.0h10.0v10.0h-10.0zM463.2 750.6h10.0v10.0h-10.0zM424.8 817.7h19.6v10.0h-19.6zM424.8 827.3h10.0v10.0h-10.0zM424.8 836.8h10.0v10.0h-10.0zM424.8 846.4h19.6v10.0h-19.6zM367.3 875.2h19.6v10.0h-19.6zM424.8 875.2h19.6v10.0h-19.6zM376.9 884.7h10.0v10.0h-10.0zM424.8 884.7h10.0v10.0h-10.0z" fill="rgb(172,172,172)" shape-rendering="crispEdges"/><path d="M616.8 60.8h10.0v10.0h-10.0zM540.0 118.3h19.6v10.0h-19.6zM520.8 233.3h10.0v10.0h-10.0zM511.2 242.8h10.0v10.0h-10.0zM511.2 252.4h10.0v10.0h-10.0zM511.2 262.0h10.0v10.0h-10.0zM511.2 271.6h10.0v10.0h-10.0zM636.0 290.7h10.0v10.0h-10.0zM559.2 396.1h10.0v10.0h-10.0zM530.4 415.3h19.6v10.0h-19.6zM367.3 453.6h10.0v10.0h-10.0zM348.1 472.8h10.0v10.0h-10.0zM578.4 472.8h10.0v10.0h-10.0zM434.4 501.5h10.0v10.0h-10.0zM424.8 511.1h10.0v10.0h-10.0zM463.2 511.1h10.0v10.0h-10.0zM588.0 511.1h10.0v10.0h-10.0zM204.1 520.7h10.0v10.0h-10.0zM588.0 520.7h10.0v10.0h-10.0zM204.1 530.3h10.0v10.0h-10.0zM588.0 530.3h10.0v10.0h-10.0zM194.5 539.8h10.0v10.0h-10.0zM472.8 549.4h10.0v10.0h-10.0zM472.8 559.0h10.0v10.0h-10.0zM588.0 559.0h10.0v10.0h-10.0zM175.3 568.6h10.0v10.0h-10.0zM588.0 568.6h10.0v10.0h-10.0zM588.0 578.2h10.0v10.0h-10.0zM588.0 587.7h10.0v10.0h-10.0zM588.0 597.3h10.0v10.0h-10.0zM146.5 606.9h10.0v10.0h-10.0zM588.0 606.9h10.0v10.0h-10.0zM146.5 616.5h10.0v10.0h-10.0zM578.4 635.6h19.6v10.0h-19.6zM434.4 683.5h10.0v10.0h-10.0zM463.2 693.1h10.0v10.0h-10.0zM463.2 760.2h10.0v10.0h-10.0zM492.0 760.2h10.0v10.0h-10.0zM463.2 769.8h10.0v10.0h-10.0zM492.0 769.8h10.0v10.0h-10.0zM463.2 779.4h10.0v10.0h-10.0zM492.0 779.4h10.0v10.0h-10.0zM463.2 788.9h10.0v10.0h-10.0zM530.4 788.9h10.0v10.0h-10.0zM463.2 798.5h10.0v10.0h-10.0zM463.2 808.1h10.0v10.0h-10.0zM444.0 817.7h29.2v10.0h-29.2zM540.0 836.8h10.0v10.0h-10.0zM444.0 846.4h10.0v10.0h-10.0zM549.6 846.4h10.0v10.0h-10.0zM444.0 856.0h10.0v10.0h-10.0zM444.0 865.6h10.0v10.0h-10.0zM492.0 865.6h10.0v10.0h-10.0zM444.0 875.2h10.0v10.0h-10.0zM376.9 894.3h10.0v10.0h-10.0zM424.8 894.3h10.0v10.0h-10.0z" fill="rgb(176,176,176)" shape-rendering="crispEdges"/><path d="M626.4 108.7h10.0v10.0h-10.0zM146.5 118.3h10.0v10.0h-10.0zM616.8 118.3h10.0v10.0h-10.0zM568.8 127.9h10.0v10.0h-10.0zM607.2 127.9h10.0v10.0h-10.0zM597.6 137.4h10.0v10.0h-10.0zM520.8 281.2h10.0v10.0h-10.0zM530.4 290.7h10.0v10.0h-10.0zM530.4 300.3h10.0v10.0h-10.0zM530.4 309.9h10.0v10.0h-10.0zM530.4 319.5h10.0v10.0h-10.0zM530.4 329.1h10.0v10.0h-10.0zM530.4 338.6h10.0v10.0h-10.0zM530.4 348.2h10.0v10.0h-10.0zM530.4 357.8h10.0v10.0h-10.0zM530.4 367.4h10.0v10.0h-10.0zM530.4 377.0h10.0v10.0h-10.0zM530.4 386.5h10.0v10.0h-10.0zM568.8 386.5h10.0v10.0h-10.0zM530.4 396.1h10.0v10.0h-10.0zM530.4 405.7h10.0v10.0h-10.0zM549.6 405.7h10.0v10.0h-10.0zM338.5 444.0h10.0v10.0h-10.0zM636.0 444.0h10.0v10.0h-10.0zM357.7 463.2h10.0v10.0h-10.0zM444.0 501.5h19.6v10.0h-19.6zM588.0 539.8h10.0v10.0h-10.0zM184.9 549.4h10.0v10.0h-10.0zM588.0 549.4h10.0v10.0h-10.0zM559.2 568.6h10.0v10.0h-10.0zM568.8 578.2h10.0v10.0h-10.0zM434.4 587.7h10.0v10.0h-10.0zM568.8 587.7h10.0v10.0h-10.0zM165.7 597.3h10.0v10.0h-10.0zM424.8 597.3h10.0v10.0h-10.0zM568.8 597.3h10.0v10.0h-10.0zM165.7 606.9h10.0v10.0h-10.0zM204.1 606.9h10.0v10.0h-10.0zM568.8 606.9h10.0v10.0h-10.0zM175.3 616.5h10.0v10.0h-10.0zM568.8 616.5h10.0v10.0h-10.0zM184.9 626.1h29.2v10.0h-29.2zM568.8 626.1h10.0v10.0h-10.0zM424.8 645.2h10.0v10.0h-10.0zM453.6 674.0h10.0v10.0h-10.0zM444.0 683.5h10.0v10.0h-10.0zM530.4 798.5h10.0v10.0h-10.0zM530.4 808.1h10.0v10.0h-10.0zM434.4 827.3h10.0v10.0h-10.0zM434.4 836.8h10.0v10.0h-10.0zM492.0 875.2h10.0v10.0h-10.0zM367.3 884.7h10.0v10.0h-10.0zM434.4 884.7h10.0v10.0h-10.0z" fill="rgb(180,180,180)" shape-rendering="crispEdges"/><path d="M626.4 60.8h10.0v10.0h-10.0zM184.9 70.4h10.0v10.0h-10.0zM626.4 99.1h10.0v10.0h-10.0zM626.4 118.3h10.0v10.0h-10.0zM530.4 127.9h10.0v10.0h-10.0zM607.2 137.4h10.0v10.0h-10.0zM530.4 281.2h10.0v10.0h-10.0zM540.0 405.7h10.0v10.0h-10.0zM357.7 444.0h10.0v10.0h-10.0zM338.5 453.6h10.0v10.0h-10.0zM434.4 511.1h10.0v10.0h-10.0zM424.8 520.7h19.6v10.0h-19.6zM204.1 568.6h10.0v10.0h-10.0zM568.8 568.6h19.6v10.0h-19.6zM482.4 578.2h10.0v10.0h-10.0zM578.4 578.2h10.0v10.0h-10.0zM578.4 587.7h10.0v10.0h-10.0zM434.4 597.3h10.0v10.0h-10.0zM578.4 597.3h10.0v10.0h-10.0zM136.9 606.9h10.0v10.0h-10.0zM453.6 606.9h10.0v10.0h-10.0zM578.4 606.9h10.0v10.0h-10.0zM204.1 616.5h10.0v10.0h-10.0zM453.6 616.5h10.0v10.0h-10.0zM578.4 616.5h19.6v10.0h-19.6zM136.9 626.1h10.0v10.0h-10.0zM453.6 626.1h10.0v10.0h-10.0zM578.4 626.1h19.6v10.0h-19.6zM424.8 635.6h10.0v10.0h-10.0zM453.6 635.6h10.0v10.0h-10.0zM453.6 645.2h10.0v10.0h-10.0zM434.4 674.0h10.0v10.0h-10.0zM463.2 683.5h10.0v10.0h-10.0zM492.0 702.7h10.0v10.0h-10.0zM472.8 760.2h19.6v10.0h-19.6zM472.8 769.8h19.6v10.0h-19.6zM472.8 779.4h19.6v10.0h-19.6zM472.8 788.9h29.2v10.0h-29.2zM472.8 798.5h10.0v10.0h-10.0zM472.8 808.1h10.0v10.0h-10.0zM472.8 817.7h10.0v10.0h-10.0zM530.4 817.7h10.0v10.0h-10.0zM444.0 827.3h38.8v10.0h-38.8zM444.0 836.8h19.6v10.0h-19.6zM453.6 846.4h10.0v10.0h-10.0zM540.0 846.4h10.0v10.0h-10.0zM453.6 856.0h10.0v10.0h-10.0zM482.4 856.0h19.6v10.0h-19.6zM453.6 865.6h10.0v10.0h-10.0zM482.4 865.6h10.0v10.0h-10.0zM501.6 865.6h10.0v10.0h-10.0zM453.6 875.2h10.0v10.0h-10.0zM501.6 875.2h10.0v10.0h-10.0zM444.0 884.7h19.6v10.0h-19.6zM367.3 894.3h10.0v10.0h-10.0zM434.4 894.3h10.0v10.0h-10.0z" fill="rgb(184,184,184)" shape-rendering="crispEdges"/><path d="M636.0 60.8h10.0v10.0h-10.0zM626.4 70.4h10.0v10.0h-10.0zM636.0 108.7h10.0v10.0h-10.0zM636.0 118.3h10.0v10.0h-10.0zM616.8 127.9h29.2v10.0h-29.2zM588.0 137.4h10.0v10.0h-10.0zM616.8 137.4h29.2v10.0h-29.2zM127.3 147.0h10.0v10.0h-10.0zM530.4 233.3h10.0v10.0h-10.0zM520.8 242.8h19.6v10.0h-19.6zM520.8 252.4h19.6v10.0h-19.6zM520.8 262.0h19.6v10.0h-19.6zM520.8 271.6h19.6v10.0h-19.6zM616.8 319.5h10.0v10.0h-10.0zM597.6 357.8h10.0v10.0h-10.0zM540.0 396.1h10.0v10.0h-10.0zM568.8 472.8h10.0v10.0h-10.0zM559.2 482.3h10.0v10.0h-10.0zM194.5 549.4h10.0v10.0h-10.0zM204.1 559.0h10.0v10.0h-10.0zM559.2 559.0h10.0v10.0h-10.0zM578.4 559.0h10.0v10.0h-10.0zM175.3 578.2h10.0v10.0h-10.0zM444.0 597.3h10.0v10.0h-10.0zM175.3 606.9h10.0v10.0h-10.0zM424.8 606.9h10.0v10.0h-10.0zM184.9 616.5h19.6v10.0h-19.6zM463.2 626.1h10.0v10.0h-10.0zM463.2 635.6h10.0v10.0h-10.0zM501.6 721.9h10.0v10.0h-10.0zM472.8 750.6h10.0v10.0h-10.0zM492.0 750.6h10.0v10.0h-10.0zM482.4 798.5h19.6v10.0h-19.6zM482.4 808.1h19.6v10.0h-19.6zM482.4 817.7h19.6v10.0h-19.6zM482.4 827.3h19.6v10.0h-19.6zM463.2 836.8h38.8v10.0h-38.8zM463.2 846.4h38.8v10.0h-38.8zM463.2 856.0h19.6v10.0h-19.6zM540.0 856.0h19.6v10.0h-19.6zM463.2 865.6h19.6v10.0h-19.6zM540.0 865.6h19.6v10.0h-19.6zM463.2 875.2h10.0v10.0h-10.0zM540.0 875.2h19.6v10.0h-19.6zM540.0 884.7h19.6v10.0h-19.6zM444.0 894.3h19.6v10.0h-19.6zM540.0 894.3h19.6v10.0h-19.6z" fill="rgb(188,188,188)" shape-rendering="crispEdges"/><path d="M559.2 127.9h10.0v10.0h-10.0zM530.4 194.9h10.0v10.0h-10.0zM530.4 204.5h10.0v10.0h-10.0zM530.4 223.7h10.0v10.0h-10.0zM540.0 242.8h10.0v10.0h-10.0zM540.0 252.4h10.0v10.0h-10.0zM540.0 262.0h10.0v10.0h-10.0zM540.0 271.6h10.0v10.0h-10.0zM540.0 281.2h10.0v10.0h-10.0zM540.0 290.7h10.0v10.0h-10.0zM626.4 290.7h10.0v10.0h-10.0zM540.0 300.3h10.0v10.0h-10.0zM540.0 309.9h10.0v10.0h-10.0zM540.0 319.5h10.0v10.0h-10.0zM540.0 329.1h10.0v10.0h-10.0zM607.2 329.1h10.0v10.0h-10.0zM540.0 338.6h10.0v10.0h-10.0zM540.0 348.2h10.0v10.0h-10.0zM540.0 357.8h10.0v10.0h-10.0zM540.0 367.4h10.0v10.0h-10.0zM540.0 377.0h10.0v10.0h-10.0zM578.4 377.0h10.0v10.0h-10.0zM540.0 386.5h10.0v10.0h-10.0zM549.6 396.1h10.0v10.0h-10.0zM357.7 453.6h10.0v10.0h-10.0zM348.1 463.2h10.0v10.0h-10.0zM578.4 482.3h10.0v10.0h-10.0zM444.0 511.1h10.0v10.0h-10.0zM424.8 530.3h10.0v10.0h-10.0zM559.2 549.4h10.0v10.0h-10.0zM568.8 559.0h10.0v10.0h-10.0zM424.8 568.6h10.0v10.0h-10.0zM472.8 568.6h10.0v10.0h-10.0zM434.4 578.2h10.0v10.0h-10.0zM444.0 587.7h10.0v10.0h-10.0zM175.3 597.3h10.0v10.0h-10.0zM453.6 597.3h10.0v10.0h-10.0zM127.3 606.9h10.0v10.0h-10.0zM194.5 606.9h10.0v10.0h-10.0zM434.4 606.9h19.6v10.0h-19.6zM136.9 616.5h10.0v10.0h-10.0zM424.8 616.5h10.0v10.0h-10.0zM463.2 616.5h10.0v10.0h-10.0zM127.3 626.1h10.0v10.0h-10.0zM424.8 626.1h10.0v10.0h-10.0zM463.2 645.2h10.0v10.0h-10.0zM453.6 654.8h10.0v10.0h-10.0zM453.6 664.4h10.0v10.0h-10.0zM444.0 674.0h10.0v10.0h-10.0zM463.2 674.0h10.0v10.0h-10.0zM482.4 750.6h10.0v10.0h-10.0zM501.6 750.6h10.0v10.0h-10.0zM520.8 750.6h10.0v10.0h-10.0zM501.6 760.2h10.0v10.0h-10.0zM501.6 769.8h10.0v10.0h-10.0zM501.6 856.0h10.0v10.0h-10.0zM472.8 875.2h19.6v10.0h-19.6zM463.2 884.7h10.0v10.0h-10.0zM492.0 884.7h19.6v10.0h-19.6z" fill="rgb(192,192,192)" shape-rendering="crispEdges"/><path d="M636.0 70.4h10.0v10.0h-10.0zM626.4 89.5h10.0v10.0h-10.0zM636.0 99.1h10.0v10.0h-10.0zM540.0 127.9h19.6v10.0h-19.6zM530.4 137.4h10.0v10.0h-10.0zM530.4 175.8h10.0v10.0h-10.0zM530.4 185.3h10.0v10.0h-10.0zM530.4 214.1h10.0v10.0h-10.0zM588.0 367.4h10.0v10.0h-10.0zM559.2 386.5h10.0v10.0h-10.0zM348.1 444.0h10.0v10.0h-10.0zM559.2 491.9h10.0v10.0h-10.0zM453.6 511.1h10.0v10.0h-10.0zM444.0 520.7h10.0v10.0h-10.0zM434.4 530.3h10.0v10.0h-10.0zM424.8 539.8h10.0v10.0h-10.0zM559.2 539.8h10.0v10.0h-10.0zM184.9 559.0h10.0v10.0h-10.0zM175.3 587.7h10.0v10.0h-10.0zM194.5 597.3h10.0v10.0h-10.0zM184.9 606.9h10.0v10.0h-10.0zM463.2 606.9h10.0v10.0h-10.0zM463.2 654.8h10.0v10.0h-10.0zM434.4 664.4h10.0v10.0h-10.0zM463.2 664.4h10.0v10.0h-10.0zM501.6 731.4h10.0v10.0h-10.0zM501.6 741.0h10.0v10.0h-10.0zM501.6 779.4h10.0v10.0h-10.0zM530.4 827.3h10.0v10.0h-10.0zM501.6 846.4h10.0v10.0h-10.0zM530.4 846.4h10.0v10.0h-10.0zM530.4 856.0h10.0v10.0h-10.0zM530.4 865.6h10.0v10.0h-10.0zM530.4 875.2h10.0v10.0h-10.0zM530.4 884.7h10.0v10.0h-10.0zM463.2 894.3h10.0v10.0h-10.0zM492.0 894.3h19.6v10.0h-19.6zM530.4 894.3h10.0v10.0h-10.0z" fill="rgb(196,196,196)" shape-rendering="crispEdges"/><path d="M626.4 80.0h10.0v10.0h-10.0zM165.7 89.5h10.0v10.0h-10.0zM156.1 99.1h10.0v10.0h-10.0zM136.9 137.4h10.0v10.0h-10.0zM597.6 147.0h48.4v10.0h-48.4zM530.4 156.6h10.0v10.0h-10.0zM530.4 166.2h10.0v10.0h-10.0zM540.0 233.3h10.0v10.0h-10.0zM549.6 242.8h10.0v10.0h-10.0zM549.6 252.4h10.0v10.0h-10.0zM549.6 262.0h10.0v10.0h-10.0zM549.6 271.6h10.0v10.0h-10.0zM549.6 281.2h10.0v10.0h-10.0zM549.6 290.7h10.0v10.0h-10.0zM549.6 300.3h10.0v10.0h-10.0zM549.6 309.9h10.0v10.0h-10.0zM549.6 319.5h10.0v10.0h-10.0zM549.6 329.1h10.0v10.0h-10.0zM549.6 338.6h10.0v10.0h-10.0zM549.6 348.2h10.0v10.0h-10.0zM549.6 357.8h10.0v10.0h-10.0zM549.6 367.4h10.0v10.0h-10.0zM549.6 377.0h10.0v10.0h-10.0zM549.6 386.5h10.0v10.0h-10.0zM559.2 501.5h10.0v10.0h-10.0zM559.2 511.1h10.0v10.0h-10.0zM463.2 520.7h10.0v10.0h-10.0zM559.2 520.7h10.0v10.0h-10.0zM559.2 530.3h10.0v10.0h-10.0zM424.8 549.4h10.0v10.0h-10.0zM578.4 549.4h10.0v10.0h-10.0zM424.8 559.0h10.0v10.0h-10.0zM194.5 587.7h10.0v10.0h-10.0zM482.4 587.7h10.0v10.0h-10.0zM127.3 616.5h10.0v10.0h-10.0zM472.8 741.0h10.0v10.0h-10.0zM501.6 788.9h10.0v10.0h-10.0zM501.6 827.3h10.0v10.0h-10.0zM501.6 836.8h10.0v10.0h-10.0zM530.4 836.8h10.0v10.0h-10.0z" fill="rgb(200,200,200)" shape-rendering="crispEdges"/><path d="M184.9 60.8h10.0v10.0h-10.0zM175.3 80.0h10.0v10.0h-10.0zM530.4 147.0h10.0v10.0h-10.0zM549.6 233.3h10.0v10.0h-10.0zM559.2 377.0h19.6v10.0h-19.6zM348.1 453.6h10.0v10.0h-10.0zM568.8 482.3h10.0v10.0h-10.0zM578.4 491.9h10.0v10.0h-10.0zM194.5 559.0h10.0v10.0h-10.0zM194.5 578.2h10.0v10.0h-10.0zM184.9 597.3h10.0v10.0h-10.0zM482.4 597.3h10.0v10.0h-10.0zM482.4 606.9h10.0v10.0h-10.0zM444.0 616.5h10.0v10.0h-10.0zM434.4 654.8h10.0v10.0h-10.0zM444.0 664.4h10.0v10.0h-10.0zM472.8 702.7h10.0v10.0h-10.0zM472.8 712.3h10.0v10.0h-10.0zM472.8 721.9h10.0v10.0h-10.0zM472.8 731.4h10.0v10.0h-10.0zM501.6 798.5h10.0v10.0h-10.0zM501.6 808.1h10.0v10.0h-10.0zM501.6 817.7h10.0v10.0h-10.0zM482.4 884.7h10.0v10.0h-10.0z" fill="rgb(204,204,204)" shape-rendering="crispEdges"/><path d="M578.4 137.4h10.0v10.0h-10.0zM588.0 147.0h10.0v10.0h-10.0zM616.8 309.9h10.0v10.0h-10.0zM597.6 348.2h10.0v10.0h-10.0zM559.2 367.4h10.0v10.0h-10.0zM444.0 530.3h10.0v10.0h-10.0zM568.8 549.4h10.0v10.0h-10.0zM184.9 568.6h19.6v10.0h-19.6zM444.0 578.2h10.0v10.0h-10.0zM184.9 587.7h10.0v10.0h-10.0zM453.6 587.7h10.0v10.0h-10.0zM463.2 597.3h10.0v10.0h-10.0zM434.4 616.5h10.0v10.0h-10.0zM482.4 616.5h10.0v10.0h-10.0zM444.0 626.1h10.0v10.0h-10.0zM482.4 626.1h10.0v10.0h-10.0zM434.4 635.6h19.6v10.0h-19.6zM482.4 635.6h10.0v10.0h-10.0zM434.4 645.2h19.6v10.0h-19.6zM482.4 645.2h10.0v10.0h-10.0zM472.8 693.1h19.6v10.0h-19.6zM482.4 702.7h10.0v10.0h-10.0zM492.0 712.3h10.0v10.0h-10.0zM511.2 750.6h10.0v10.0h-10.0zM511.2 865.6h10.0v10.0h-10.0zM511.2 875.2h10.0v10.0h-10.0zM472.8 884.7h10.0v10.0h-10.0z" fill="rgb(208,208,208)" shape-rendering="crispEdges"/><path d="M636.0 80.0h10.0v10.0h-10.0zM636.0 89.5h10.0v10.0h-10.0zM146.5 108.7h10.0v10.0h-10.0zM540.0 137.4h29.2v10.0h-29.2zM540.0 223.7h10.0v10.0h-10.0zM559.2 242.8h10.0v10.0h-10.0zM559.2 252.4h10.0v10.0h-10.0zM559.2 262.0h10.0v10.0h-10.0zM559.2 271.6h10.0v10.0h-10.0zM559.2 281.2h10.0v10.0h-10.0zM559.2 290.7h10.0v10.0h-10.0zM559.2 300.3h10.0v10.0h-10.0zM616.8 300.3h10.0v10.0h-10.0zM559.2 309.9h10.0v10.0h-10.0zM559.2 319.5h10.0v10.0h-10.0zM559.2 329.1h10.0v10.0h-10.0zM559.2 338.6h10.0v10.0h-10.0zM597.6 338.6h10.0v10.0h-10.0zM559.2 348.2h10.0v10.0h-10.0zM559.2 357.8h10.0v10.0h-10.0zM578.4 501.5h10.0v10.0h-10.0zM463.2 530.3h10.0v10.0h-10.0zM578.4 539.8h10.0v10.0h-10.0zM434.4 568.6h10.0v10.0h-10.0zM184.9 578.2h10.0v10.0h-10.0zM434.4 626.1h10.0v10.0h-10.0zM444.0 654.8h10.0v10.0h-10.0zM482.4 654.8h10.0v10.0h-10.0zM482.4 664.4h10.0v10.0h-10.0zM482.4 674.0h10.0v10.0h-10.0zM482.4 683.5h10.0v10.0h-10.0zM511.2 856.0h19.6v10.0h-19.6zM520.8 865.6h10.0v10.0h-10.0zM520.8 875.2h10.0v10.0h-10.0zM511.2 884.7h19.6v10.0h-19.6zM472.8 894.3h19.6v10.0h-19.6zM511.2 894.3h19.6v10.0h-19.6z" fill="rgb(212,212,212)" shape-rendering="crispEdges"/><path d="M136.9 127.9h10.0v10.0h-10.0zM568.8 137.4h10.0v10.0h-10.0zM549.6 223.7h10.0v10.0h-10.0zM559.2 233.3h10.0v10.0h-10.0zM636.0 281.2h10.0v10.0h-10.0zM578.4 367.4h10.0v10.0h-10.0zM568.8 491.9h10.0v10.0h-10.0zM578.4 511.1h10.0v10.0h-10.0zM453.6 520.7h10.0v10.0h-10.0zM578.4 520.7h10.0v10.0h-10.0zM578.4 530.3h10.0v10.0h-10.0zM434.4 539.8h10.0v10.0h-10.0zM463.2 539.8h10.0v10.0h-10.0zM568.8 539.8h10.0v10.0h-10.0zM472.8 683.5h10.0v10.0h-10.0zM482.4 712.3h10.0v10.0h-10.0zM482.4 741.0h10.0v10.0h-10.0zM511.2 846.4h19.6v10.0h-19.6z" fill="rgb(216,216,216)" shape-rendering="crispEdges"/><path d="M540.0 147.0h19.6v10.0h-19.6zM540.0 156.6h19.6v10.0h-19.6zM540.0 166.2h19.6v10.0h-19.6zM540.0 175.8h19.6v10.0h-19.6zM540.0 185.3h19.6v10.0h-19.6zM540.0 194.9h19.6v10.0h-19.6zM540.0 204.5h19.6v10.0h-19.6zM540.0 214.1h19.6v10.0h-19.6zM568.8 367.4h10.0v10.0h-10.0zM463.2 549.4h10.0v10.0h-10.0zM472.8 578.2h10.0v10.0h-10.0zM463.2 587.7h10.0v10.0h-10.0zM472.8 626.1h10.0v10.0h-10.0zM472.8 635.6h10.0v10.0h-10.0zM492.0 741.0h10.0v10.0h-10.0z" fill="rgb(220,220,220)" shape-rendering="crispEdges"/><path d="M559.2 147.0h10.0v10.0h-10.0zM559.2 156.6h10.0v10.0h-10.0zM597.6 156.6h48.4v10.0h-48.4zM559.2 166.2h10.0v10.0h-10.0zM559.2 175.8h10.0v10.0h-10.0zM559.2 185.3h10.0v10.0h-10.0zM559.2 194.9h10.0v10.0h-10.0zM559.2 204.5h10.0v10.0h-10.0zM559.2 214.1h10.0v10.0h-10.0zM559.2 223.7h10.0v10.0h-10.0zM626.4 281.2h10.0v10.0h-10.0zM616.8 290.7h10.0v10.0h-10.0zM607.2 319.5h10.0v10.0h-10.0zM597.6 329.1h10.0v10.0h-10.0zM588.0 357.8h10.0v10.0h-10.0zM568.8 501.5h10.0v10.0h-10.0zM568.8 511.1h10.0v10.0h-10.0zM568.8 520.7h10.0v10.0h-10.0zM568.8 530.3h10.0v10.0h-10.0zM434.4 549.4h10.0v10.0h-10.0zM434.4 559.0h10.0v10.0h-10.0zM453.6 578.2h10.0v10.0h-10.0zM472.8 606.9h10.0v10.0h-10.0zM472.8 616.5h10.0v10.0h-10.0zM472.8 645.2h10.0v10.0h-10.0zM472.8 654.8h10.0v10.0h-10.0zM472.8 664.4h10.0v10.0h-10.0zM472.8 674.0h10.0v10.0h-10.0zM482.4 721.9h19.6v10.0h-19.6zM482.4 731.4h10.0v10.0h-10.0zM520.8 760.2h10.0v10.0h-10.0zM520.8 769.8h10.0v10.0h-10.0zM511.2 836.8h19.6v10.0h-19.6z" fill="rgb(224,224,224)" shape-rendering="crispEdges"/><path d="M175.3 70.4h10.0v10.0h-10.0zM578.4 147.0h10.0v10.0h-10.0zM588.0 156.6h10.0v10.0h-10.0zM568.8 242.8h10.0v10.0h-10.0zM568.8 252.4h10.0v10.0h-10.0zM568.8 262.0h10.0v10.0h-10.0zM568.8 271.6h10.0v10.0h-10.0zM568.8 281.2h10.0v10.0h-10.0zM568.8 290.7h10.0v10.0h-10.0zM568.8 300.3h10.0v10.0h-10.0zM568.8 309.9h10.0v10.0h-10.0zM568.8 319.5h10.0v10.0h-10.0zM568.8 329.1h10.0v10.0h-10.0zM568.8 338.6h10.0v10.0h-10.0zM568.8 348.2h10.0v10.0h-10.0zM568.8 357.8h10.0v10.0h-10.0zM453.6 530.3h10.0v10.0h-10.0zM444.0 539.8h10.0v10.0h-10.0zM463.2 559.0h10.0v10.0h-10.0zM463.2 568.6h10.0v10.0h-10.0zM463.2 578.2h10.0v10.0h-10.0zM472.8 597.3h10.0v10.0h-10.0zM520.8 779.4h10.0v10.0h-10.0zM520.8 788.9h10.0v10.0h-10.0zM520.8 798.5h10.0v10.0h-10.0zM520.8 808.1h10.0v10.0h-10.0zM520.8 817.7h10.0v10.0h-10.0zM511.2 827.3h19.6v10.0h-19.6z" fill="rgb(228,228,228)" shape-rendering="crispEdges"/><path d="M156.1 89.5h10.0v10.0h-10.0zM136.9 118.3h10.0v10.0h-10.0zM568.8 147.0h10.0v10.0h-10.0zM568.8 156.6h10.0v10.0h-10.0zM568.8 166.2h10.0v10.0h-10.0zM568.8 175.8h10.0v10.0h-10.0zM568.8 185.3h10.0v10.0h-10.0zM568.8 194.9h10.0v10.0h-10.0zM568.8 204.5h10.0v10.0h-10.0zM568.8 214.1h10.0v10.0h-10.0zM568.8 223.7h10.0v10.0h-10.0zM568.8 233.3h10.0v10.0h-10.0zM616.8 281.2h10.0v10.0h-10.0zM597.6 319.5h10.0v10.0h-10.0zM578.4 357.8h10.0v10.0h-10.0zM444.0 568.6h10.0v10.0h-10.0zM472.8 587.7h10.0v10.0h-10.0zM492.0 731.4h10.0v10.0h-10.0zM511.2 760.2h10.0v10.0h-10.0zM511.2 769.8h10.0v10.0h-10.0z" fill="rgb(232,232,232)" shape-rendering="crispEdges"/><path d="M165.7 80.0h10.0v10.0h-10.0zM146.5 99.1h10.0v10.0h-10.0zM578.4 156.6h10.0v10.0h-10.0zM453.6 539.8h10.0v10.0h-10.0zM511.2 779.4h10.0v10.0h-10.0zM511.2 788.9h10.0v10.0h-10.0zM511.2 817.7h10.0v10.0h-10.0z" fill="rgb(236,236,236)" shape-rendering="crispEdges"/><path d="M175.3 60.8h10.0v10.0h-10.0zM136.9 108.7h10.0v10.0h-10.0zM578.4 166.2h67.6v10.0h-67.6zM578.4 175.8h67.6v10.0h-67.6zM578.4 185.3h67.6v10.0h-67.6zM578.4 194.9h67.6v10.0h-67.6zM578.4 204.5h67.6v10.0h-67.6zM578.4 214.1h67.6v10.0h-67.6zM578.4 223.7h67.6v10.0h-67.6zM578.4 233.3h67.6v10.0h-67.6zM578.4 242.8h67.6v10.0h-67.6zM578.4 252.4h67.6v10.0h-67.6zM578.4 262.0h67.6v10.0h-67.6zM578.4 271.6h67.6v10.0h-67.6zM578.4 281.2h38.8v10.0h-38.8zM578.4 290.7h38.8v10.0h-38.8zM578.4 300.3h38.8v10.0h-38.8zM578.4 309.9h38.8v10.0h-38.8zM578.4 319.5h19.6v10.0h-19.6zM578.4 329.1h19.6v10.0h-19.6zM578.4 338.6h19.6v10.0h-19.6zM578.4 348.2h19.6v10.0h-19.6zM444.0 549.4h19.6v10.0h-19.6zM444.0 559.0h10.0v10.0h-10.0zM453.6 568.6h10.0v10.0h-10.0zM511.2 798.5h10.0v10.0h-10.0zM511.2 808.1h10.0v10.0h-10.0z" fill="rgb(240,240,240)" shape-rendering="crispEdges"/><path d="M127.3 137.4h10.0v10.0h-10.0z" fill="rgb(244,244,244)" shape-rendering="crispEdges"/><path d="M165.7 70.4h10.0v10.0h-10.0zM156.1 80.0h10.0v10.0h-10.0zM146.5 89.5h10.0v10.0h-10.0zM136.9 99.1h10.0v10.0h-10.0zM453.6 559.0h10.0v10.0h-10.0z" fill="rgb(248,248,248)" shape-rendering="crispEdges"/><path d="M156.1 70.4h10.0v10.0h-10.0zM136.9 89.5h10.0v10.0h-10.0zM127.3 127.9h10.0v10.0h-10.0z" fill="rgb(252,252,252)" shape-rendering="crispEdges"/><path d="M127.3 60.8h48.4v10.0h-48.4zM127.3 70.4h29.2v10.0h-29.2zM127.3 80.0h29.2v10.0h-29.2zM127.3 89.5h10.0v10.0h-10.0zM127.3 99.1h10.0v10.0h-10.0zM127.3 108.7h10.0v10.0h-10.0zM127.3 118.3h10.0v10.0h-10.0z" fill="rgb(255,255,255)" shape-rendering="crispEdges"/><path d="M492.03 198.12h19.20v3.19h-19.20zM485.63 201.32h28.79v3.19h-28.79zM485.63 204.51h31.99v3.19h-31.99zM482.43 207.70h35.19v3.19h-35.19zM482.43 210.90h38.39v3.19h-38.39zM479.23 214.09h41.59v3.19h-41.59zM479.23 217.28h44.79v3.19h-44.79zM476.03 220.48h47.99v3.19h-47.99zM472.83 223.67h22.40v3.19h-22.40zM514.43 223.67h12.80v3.19h-12.80zM472.83 226.87h16.00v3.19h-16.00zM517.62 226.87h16.00v3.19h-16.00zM469.63 230.06h16.00v3.19h-16.00zM520.82 230.06h16.00v3.19h-16.00zM466.43 233.25h16.00v3.19h-16.00zM524.02 233.25h16.00v3.19h-16.00zM463.24 236.45h19.20v3.19h-19.20zM527.22 236.45h16.00v3.19h-16.00zM463.24 239.64h19.20v3.19h-19.20zM527.22 239.64h19.20v3.19h-19.20zM456.84 242.83h22.40v3.19h-22.40zM530.42 242.83h19.20v3.19h-19.20zM450.44 246.03h28.79v3.19h-28.79zM530.42 246.03h22.40v3.19h-22.40zM447.24 249.22h28.79v3.19h-28.79zM530.42 249.22h25.60v3.19h-25.60zM440.84 252.41h35.19v3.19h-35.19zM533.62 252.41h25.60v3.19h-25.60zM434.44 255.61h41.59v3.19h-41.59zM533.62 255.61h28.79v3.19h-28.79zM428.04 258.80h47.99v3.19h-47.99zM536.82 258.80h25.60v3.19h-25.60zM421.64 261.99h54.39v3.19h-54.39zM536.82 261.99h28.79v3.19h-28.79zM415.24 265.19h60.79v3.19h-60.79zM536.82 265.19h31.99v3.19h-31.99zM412.05 268.38h63.99v3.19h-63.99zM536.82 268.38h31.99v3.19h-31.99zM405.65 271.57h70.39v3.19h-70.39zM536.82 271.57h31.99v3.19h-31.99zM402.45 274.77h73.59v3.19h-73.59zM536.82 274.77h35.19v3.19h-35.19zM399.25 277.96h76.79v3.19h-76.79zM536.82 277.96h35.19v3.19h-35.19zM396.05 281.16h76.79v3.19h-76.79zM536.82 281.16h35.19v3.19h-35.19zM392.85 284.35h79.98v3.19h-79.98zM540.02 284.35h35.19v3.19h-35.19zM386.45 287.54h86.38v3.19h-86.38zM536.82 287.54h38.39v3.19h-38.39zM383.25 290.74h89.58v3.19h-89.58zM536.82 290.74h38.39v3.19h-38.39zM380.05 293.93h92.78v3.19h-92.78zM536.82 293.93h41.59v3.19h-41.59zM376.85 297.12h92.78v3.19h-92.78zM533.62 297.12h44.79v3.19h-44.79zM373.65 300.32h95.98v3.19h-95.98zM533.62 300.32h44.79v3.19h-44.79zM367.25 303.51h102.38v3.19h-102.38zM533.62 303.51h44.79v3.19h-44.79zM364.05 306.70h102.38v3.19h-102.38zM533.62 306.70h41.59v3.19h-41.59zM357.66 309.90h108.78v3.19h-108.78zM530.42 309.90h44.79v3.19h-44.79zM354.46 313.09h111.98v3.19h-111.98zM527.22 313.09h47.99v3.19h-47.99zM351.26 316.28h111.98v3.19h-111.98zM524.02 316.28h47.99v3.19h-47.99zM344.86 319.48h118.38v3.19h-118.38zM524.02 319.48h47.99v3.19h-47.99zM341.66 322.67h121.58v3.19h-121.58zM520.82 322.67h47.99v3.19h-47.99zM338.46 325.87h124.78v3.19h-124.78zM520.82 325.87h47.99v3.19h-47.99zM335.26 329.06h124.78v3.19h-124.78zM520.82 329.06h47.99v3.19h-47.99zM332.06 332.25h127.98v3.19h-127.98zM520.82 332.25h47.99v3.19h-47.99zM325.66 335.45h134.37v3.19h-134.37zM517.62 335.45h51.19v3.19h-51.19zM325.66 338.64h131.17v3.19h-131.17zM517.62 338.64h47.99v3.19h-47.99zM325.66 341.83h131.17v3.19h-131.17zM517.62 341.83h47.99v3.19h-47.99zM328.86 345.03h127.98v3.19h-127.98zM517.62 345.03h47.99v3.19h-47.99zM328.86 348.22h124.78v3.19h-124.78zM517.62 348.22h47.99v3.19h-47.99zM328.86 351.41h124.78v3.19h-124.78zM517.62 351.41h47.99v3.19h-47.99zM332.06 354.61h121.58v3.19h-121.58zM517.62 354.61h47.99v3.19h-47.99zM332.06 357.80h121.58v3.19h-121.58zM517.62 357.80h47.99v3.19h-47.99zM335.26 360.99h115.18v3.19h-115.18zM517.62 360.99h47.99v3.19h-47.99zM338.46 364.19h111.98v3.19h-111.98zM517.62 364.19h47.99v3.19h-47.99zM338.46 367.38h111.98v3.19h-111.98zM520.82 367.38h44.79v3.19h-44.79zM341.66 370.58h105.58v3.19h-105.58zM520.82 370.58h44.79v3.19h-44.79zM344.86 373.77h102.38v3.19h-102.38zM520.82 373.77h44.79v3.19h-44.79zM348.06 376.96h99.18v3.19h-99.18zM520.82 376.96h44.79v3.19h-44.79zM351.26 380.16h92.78v3.19h-92.78zM520.82 380.16h44.79v3.19h-44.79zM357.66 383.35h86.38v3.19h-86.38zM520.82 383.35h44.79v3.19h-44.79zM360.85 386.54h83.18v3.19h-83.18zM520.82 386.54h44.79v3.19h-44.79zM364.05 389.74h76.79v3.19h-76.79zM520.82 389.74h44.79v3.19h-44.79zM367.25 392.93h73.59v3.19h-73.59zM520.82 392.93h44.79v3.19h-44.79zM373.65 396.12h67.19v3.19h-67.19zM517.62 396.12h51.19v3.19h-51.19zM380.05 399.32h57.59v3.19h-57.59zM517.62 399.32h51.19v3.19h-51.19zM383.25 402.51h54.39v3.19h-54.39zM517.62 402.51h51.19v3.19h-51.19zM383.25 405.70h54.39v3.19h-54.39zM517.62 405.70h51.19v3.19h-51.19zM383.25 408.90h54.39v3.19h-54.39zM517.62 408.90h51.19v3.19h-51.19zM383.25 412.09h51.19v3.19h-51.19zM517.62 412.09h54.39v3.19h-54.39zM383.25 415.29h51.19v3.19h-51.19zM517.62 415.29h54.39v3.19h-54.39zM386.45 418.48h47.99v3.19h-47.99zM517.62 418.48h54.39v3.19h-54.39zM386.45 421.67h47.99v3.19h-47.99zM514.43 421.67h60.79v3.19h-60.79zM386.45 424.87h51.19v3.19h-51.19zM514.43 424.87h60.79v3.19h-60.79zM386.45 428.06h51.19v3.19h-51.19zM514.43 428.06h60.79v3.19h-60.79zM386.45 431.25h54.39v3.19h-54.39zM511.23 431.25h60.79v3.19h-60.79zM386.45 434.45h54.39v3.19h-54.39zM511.23 434.45h60.79v3.19h-60.79zM386.45 437.64h57.59v3.19h-57.59zM511.23 437.64h60.79v3.19h-60.79zM389.65 440.83h54.39v3.19h-54.39zM508.03 440.83h60.79v3.19h-60.79zM392.85 444.03h54.39v3.19h-54.39zM504.83 444.03h63.99v3.19h-63.99zM396.05 447.22h51.19v3.19h-51.19zM501.63 447.22h67.19v3.19h-67.19zM396.05 450.41h54.39v3.19h-54.39zM501.63 450.41h63.99v3.19h-63.99zM399.25 453.61h54.39v3.19h-54.39zM498.43 453.61h67.19v3.19h-67.19zM402.45 456.80h51.19v3.19h-51.19zM495.23 456.80h67.19v3.19h-67.19zM405.65 460.00h51.19v3.19h-51.19zM488.83 460.00h70.39v3.19h-70.39zM408.85 463.19h51.19v3.19h-51.19zM482.43 463.19h73.59v3.19h-73.59zM415.24 466.38h47.99v3.19h-47.99zM479.23 466.38h73.59v3.19h-73.59zM418.44 469.58h131.17v3.19h-131.17zM424.84 472.77h118.38v3.19h-118.38zM431.24 475.96h105.58v3.19h-105.58zM434.44 479.16h95.98v3.19h-95.98zM440.84 482.35h83.18v3.19h-83.18zM447.24 485.54h67.19v3.19h-67.19zM453.64 488.74h54.39v3.19h-54.39zM463.24 491.93h35.19v3.19h-35.19zM469.63 495.12h19.20v3.19h-19.20z" fill="#ffa500" fill-opacity="0.4" shape-rendering="crispEdges"/>
<path d="M495.23 223.67h19.20v3.19h-19.20zM488.83 226.87h28.79v3.19h-28.79zM485.63 230.06h35.19v3.19h-35.19zM482.43 233.25h41.59v3.19h-41.59zM482.43 236.45h44.79v3.19h-44.79zM482.43 239.64h44.79v3.19h-44.79zM479.23 242.83h51.19v3.19h-51.19zM479.23 246.03h51.19v3.19h-51.19zM476.03 249.22h54.39v3.19h-54.39zM476.03 252.41h57.59v3.19h-57.59zM476.03 255.61h57.59v3.19h-57.59zM476.03 258.80h60.79v3.19h-60.79zM476.03 261.99h60.79v3.19h-60.79zM476.03 265.19h60.79v3.19h-60.79zM476.03 268.38h60.79v3.19h-60.79zM476.03 271.57h60.79v3.19h-60.79zM476.03 274.77h60.79v3.19h-60.79zM476.03 277.96h60.79v3.19h-60.79zM472.83 281.16h63.99v3.19h-63.99zM472.83 284.35h67.19v3.19h-67.19zM472.83 287.54h63.99v3.19h-63.99zM472.83 290.74h63.99v3.19h-63.99zM472.83 293.93h63.99v3.19h-63.99zM469.63 297.12h63.99v3.19h-63.99zM469.63 300.32h63.99v3.19h-63.99zM469.63 303.51h63.99v3.19h-63.99zM466.43 306.70h67.19v3.19h-67.19zM466.43 309.90h63.99v3.19h-63.99zM466.43 313.09h60.79v3.19h-60.79zM463.24 316.28h60.79v3.19h-60.79zM463.24 319.48h60.79v3.19h-60.79zM463.24 322.67h57.59v3.19h-57.59zM463.24 325.87h57.59v3.19h-57.59zM460.04 329.06h60.79v3.19h-60.79zM460.04 332.25h60.79v3.19h-60.79zM460.04 335.45h57.59v3.19h-57.59zM456.84 338.64h60.79v3.19h-60.79zM456.84 341.83h60.79v3.19h-60.79zM456.84 345.03h60.79v3.19h-60.79zM453.64 348.22h63.99v3.19h-63.99zM453.64 351.41h63.99v3.19h-63.99zM453.64 354.61h63.99v3.19h-63.99zM453.64 357.80h63.99v3.19h-63.99zM450.44 360.99h67.19v3.19h-67.19zM450.44 364.19h67.19v3.19h-67.19zM450.44 367.38h70.39v3.19h-70.39zM447.24 370.58h73.59v3.19h-73.59zM447.24 373.77h73.59v3.19h-73.59zM447.24 376.96h73.59v3.19h-73.59zM444.04 380.16h76.79v3.19h-76.79zM444.04 383.35h76.79v3.19h-76.79zM444.04 386.54h76.79v3.19h-76.79zM440.84 389.74h79.98v3.19h-79.98zM440.84 392.93h79.98v3.19h-79.98zM440.84 396.12h76.79v3.19h-76.79zM437.64 399.32h79.98v3.19h-79.98zM437.64 402.51h79.98v3.19h-79.98zM437.64 405.70h79.98v3.19h-79.98zM437.64 408.90h79.98v3.19h-79.98zM434.44 412.09h83.18v3.19h-83.18zM434.44 415.29h83.18v3.19h-83.18zM434.44 418.48h83.18v3.19h-83.18zM434.44 421.67h79.98v3.19h-79.98zM437.64 424.87h76.79v3.19h-76.79zM437.64 428.06h76.79v3.19h-76.79zM440.84 431.25h70.39v3.19h-70.39zM440.84 434.45h70.39v3.19h-70.39zM444.04 437.64h67.19v3.19h-67.19zM444.04 440.83h63.99v3.19h-63.99zM447.24 444.03h57.59v3.19h-57.59zM447.24 447.22h54.39v3.19h-54.39zM450.44 450.41h51.19v3.19h-51.19zM453.64 453.61h44.79v3.19h-44.79zM453.64 456.80h41.59v3.19h-41.59zM456.84 460.00h31.99v3.19h-31.99zM460.04 463.19h22.40v3.19h-22.40zM463.24 466.38h16.00v3.19h-16.00z" fill="#ff0000" fill-opacity="0.4" shape-rendering="crispEdges"/>
<path d="M581.3,902.7 L580.9,897.9 L580.1,893.1 L579.6,890.6 L578.1,885.9 L577.2,883.3 L574.8,879.6 L572.4,878.6 L570.0,879.8 L567.6,883.3 L566.6,885.9 L565.2,889.7 L564.3,893.1 L563.2,897.9 L562.8,900.7 L562.7,902.7 M597.1,902.7 L597.0,897.9 L596.7,893.1 L596.4,888.9 L596.1,885.9 L595.7,881.1 L595.1,876.4 L594.5,871.6 L594.0,868.5 L593.2,864.4 L592.0,859.6 L591.3,857.2 L589.2,852.5 L587.5,850.0 L585.2,847.6 L582.0,845.7 L579.6,844.8 L574.8,843.9 L570.0,843.6 L565.2,843.6 L560.4,844.5 L558.0,845.9 L555.6,848.6 L553.7,852.4 L552.9,854.8 L551.4,859.6 L550.8,862.0 L549.5,866.8 L548.4,871.0 L547.7,874.0 L546.5,878.8 L545.9,881.1 L544.7,885.9 L543.6,890.7 L543.1,893.1 L542.1,897.9 L541.7,902.7 M128.5,812.3 L130.9,810.5 L133.2,806.9 L134.2,804.5 L135.7,800.2 L136.4,797.3 L137.1,792.5 L137.0,787.7 L135.7,782.9 L134.2,780.5 L131.0,778.2 L128.5,777.5 M609.8,902.7 L609.7,897.9 L609.6,893.1 L609.4,888.3 L609.2,883.5 L608.8,878.8 L608.4,874.8 L608.0,871.6 L607.4,866.8 L606.6,862.0 L606.0,858.7 L605.2,854.8 L604.0,850.0 L603.4,847.6 L601.8,842.8 L600.8,840.4 L598.8,836.9 L596.4,834.1 L594.0,832.2 L591.4,830.8 L586.8,829.4 L582.0,828.6 L579.6,828.2 L574.8,827.1 L572.0,826.1 L567.9,823.7 L565.3,821.3 L563.4,818.9 L561.8,816.5 L560.4,813.7 L558.5,809.3 L557.5,806.9 L555.7,802.1 L554.8,799.7 L553.2,795.9 L551.5,792.5 L550.1,790.1 L548.4,787.7 L545.3,785.3 L541.8,785.3 L539.3,787.7 L538.0,790.1 L536.4,794.1 L535.6,797.3 L534.5,802.1 L534.0,804.5 L533.3,809.3 L532.8,814.1 L532.6,818.9 L532.6,823.7 L532.7,828.5 L533.0,833.2 L533.1,838.0 L533.0,842.8 L532.8,847.6 L532.3,852.4 L531.8,857.2 L531.5,859.6 L530.8,864.4 L530.0,869.2 L529.2,873.7 L528.7,876.4 L527.8,881.1 L526.9,885.9 L526.4,888.3 L525.3,893.1 L524.4,897.8 L524.1,900.3 L523.9,902.7 M198.6,902.7 L198.7,897.9 L199.2,893.1 L199.9,888.3 L200.5,885.6 L201.8,881.1 L202.9,878.1 L204.8,874.0 L206.1,871.6 L207.7,868.9 L210.1,865.3 L212.3,862.0 L213.8,859.6 L215.2,857.2 L217.3,853.4 L218.8,850.0 L219.8,847.6 L221.4,842.8 L222.1,840.3 L222.9,835.6 L223.6,830.8 L224.2,826.1 L224.5,823.7 L225.0,818.9 L225.4,814.1 L225.6,809.3 L225.4,804.5 L224.7,799.7 L224.0,797.3 L222.2,792.5 L221.0,790.1 L219.7,787.7 L217.3,783.8 L215.1,780.5 L213.7,778.2 L212.4,775.8 L210.5,771.0 L209.8,768.6 L208.8,763.8 L207.7,759.4 L206.6,756.6 L204.9,754.2 L202.2,751.8 L198.1,749.7 L195.7,748.7 L190.9,747.2 L188.5,746.6 L183.7,745.7 L178.9,745.0 L175.0,744.6 L171.7,744.3 L166.9,744.0 L162.1,743.6 L157.3,743.3 L152.5,743.0 L147.7,742.8 L142.9,742.5 L138.1,742.3 L135.7,742.2 L130.9,742.1 L128.5,742.0 M623.0,902.7 L623.0,897.9 L622.9,893.1 L622.8,890.7 L622.6,885.9 L622.2,881.1 L621.8,876.4 L621.2,871.6 L620.5,866.8 L620.2,864.4 L619.3,859.6 L618.4,854.8 L618.0,852.4 L617.0,847.6 L616.0,842.8 L615.5,840.4 L614.4,835.6 L613.3,830.8 L612.6,828.5 L610.8,823.7 L609.3,821.3 L607.1,818.9 L603.6,816.7 L601.2,815.9 L596.4,815.2 L591.6,814.7 L587.3,814.1 L584.4,813.5 L579.6,811.7 L577.2,810.2 L574.8,808.0 L572.4,804.9 L570.9,802.1 L569.7,799.7 L567.9,794.9 L567.1,792.5 L565.6,787.7 L564.9,785.3 L563.2,780.5 L562.3,778.2 L560.4,773.7 L559.0,771.0 L557.6,768.6 L555.6,765.8 L553.2,763.3 L550.6,761.4 L546.0,759.6 L541.2,759.1 L536.4,759.8 L532.8,761.4 L529.9,763.8 L528.2,766.2 L526.8,768.9 L525.3,773.4 L524.4,776.7 L523.6,780.5 L522.7,785.3 L522.0,789.0 L521.4,792.5 L520.7,797.3 L520.0,802.1 L519.6,805.6 L519.3,809.3 L518.9,814.1 L518.7,818.9 L518.6,823.7 L518.6,828.5 L518.5,833.2 L518.3,838.0 L518.0,842.8 L517.5,847.6 L517.2,850.0 L516.5,854.8 L515.8,859.6 L515.1,864.4 L514.7,866.8 L513.9,871.6 L513.0,876.4 L512.4,878.8 L511.2,883.5 L510.0,887.8 L509.1,890.7 L507.7,895.5 L507.0,897.9 L506.4,902.7 M245.5,902.7 L245.5,897.9 L245.5,893.1 L245.5,888.3 L245.5,883.5 L245.5,878.8 L245.3,874.0 L245.2,869.2 L245.1,864.4 L245.3,859.6 L245.7,854.8 L246.1,852.1 L246.7,847.6 L247.5,842.8 L248.4,838.0 L248.8,835.6 L249.7,830.8 L250.8,826.1 L251.4,823.7 L252.7,818.9 L253.5,816.5 L254.9,811.7 L255.7,809.0 L256.9,804.5 L257.9,799.7 L258.2,797.3 L258.7,792.5 L258.9,787.7 L258.6,782.9 L258.1,778.2 L257.8,775.8 L256.9,771.0 L255.7,766.2 L255.0,763.8 L253.4,759.0 L252.5,756.6 L250.9,752.5 L249.7,749.4 L248.5,746.7 L246.3,742.2 L245.0,739.8 L243.5,737.4 L241.3,734.3 L238.9,731.4 L236.5,728.8 L234.1,726.4 L231.7,724.3 L229.3,722.5 L226.3,720.7 L222.1,718.9 L219.7,718.2 L214.9,717.6 L210.1,717.7 L205.3,717.9 L200.5,718.0 L195.7,717.9 L190.9,717.5 L186.1,716.9 L181.3,716.1 L178.9,715.7 L174.1,714.9 L169.3,713.9 L166.9,713.5 L162.1,712.4 L157.3,711.2 L154.9,710.4 L150.4,708.7 L147.7,707.3 L145.3,705.9 L142.8,703.9 L140.4,701.5 L138.1,698.8 L135.7,695.9 L133.3,693.3 L130.9,691.5 L128.5,690.6 M637.6,902.7 L637.5,897.9 L637.2,893.6 L637.0,890.7 L636.6,885.9 L636.1,881.1 L635.5,876.4 L634.9,871.6 L634.6,869.2 L633.8,864.4 L633.0,859.6 L632.4,856.2 L631.7,852.4 L630.7,847.6 L630.0,844.3 L629.2,840.4 L628.2,835.6 L627.6,832.8 L626.7,828.5 L625.6,823.7 L624.9,821.3 L623.4,816.5 L622.4,814.1 L620.4,810.1 L618.3,806.9 L616.0,804.5 L613.2,802.3 L610.8,801.1 L606.3,799.7 L603.6,799.3 L598.8,798.9 L594.0,798.3 L590.6,797.3 L586.8,795.2 L584.4,793.0 L582.2,790.1 L580.9,787.7 L579.6,785.2 L577.7,780.5 L576.8,778.2 L575.0,773.4 L574.2,771.0 L572.4,766.2 L571.5,763.8 L570.0,760.3 L568.1,756.6 L566.5,754.2 L564.3,751.8 L561.2,749.4 L558.0,747.9 L555.0,747.0 L550.8,746.4 L546.0,746.4 L541.2,746.8 L538.8,747.0 L534.0,747.3 L529.2,747.4 L524.4,747.2 L519.6,747.5 L517.0,749.4 L515.2,754.2 L514.7,756.6 L513.8,761.4 L512.8,766.2 L512.3,768.6 L511.1,773.4 L510.0,777.7 L509.3,780.5 L508.0,785.3 L507.5,787.7 L506.3,792.5 L505.3,797.3 L504.9,799.7 L504.2,804.5 L503.7,809.3 L503.3,814.1 L503.0,818.9 L502.8,821.6 L502.5,826.1 L502.0,830.8 L501.4,835.6 L500.6,840.4 L500.1,842.8 L499.1,847.6 L498.1,852.4 L497.5,854.8 L496.3,859.6 L495.6,862.1 L494.4,866.8 L493.2,871.0 L492.4,874.0 L491.2,878.8 L490.6,881.1 L489.6,885.9 L488.6,890.7 L488.1,893.1 L487.3,897.9 L486.9,902.7 M266.8,902.7 L266.8,897.9 L266.9,893.1 L267.0,888.3 L267.1,883.5 L267.3,878.8 L267.5,874.0 L267.7,871.1 L268.0,866.8 L268.4,862.0 L269.0,857.2 L269.7,852.4 L270.2,850.0 L271.1,845.2 L272.1,840.4 L272.7,838.0 L274.0,833.2 L274.9,830.1 L276.1,826.1 L277.3,822.6 L278.5,818.9 L279.7,815.7 L281.1,811.7 L282.1,809.2 L283.8,804.5 L284.8,802.1 L286.5,797.3 L287.4,794.9 L289.0,790.1 L289.8,787.7 L291.0,782.9 L291.7,779.1 L292.1,775.8 L292.4,771.0 L292.3,766.2 L291.8,761.4 L291.3,759.0 L289.5,754.2 L288.1,751.8 L286.3,749.4 L284.2,747.0 L281.9,744.6 L279.5,742.2 L277.1,739.8 L274.9,737.3 L272.5,734.4 L270.1,731.1 L267.9,727.9 L266.3,725.5 L264.8,723.1 L262.9,720.1 L260.5,716.5 L258.5,713.5 L256.9,711.1 L255.3,708.7 L253.3,705.9 L250.9,702.7 L248.5,700.0 L246.1,697.7 L243.7,695.6 L241.3,693.9 L238.2,691.9 L234.1,689.6 L231.7,688.4 L228.8,687.1 L224.5,685.3 L222.1,684.6 L217.3,684.5 L214.9,685.5 L212.2,687.1 L207.7,689.2 L202.9,688.8 L198.1,687.3 L195.7,686.7 L190.9,685.9 L186.1,685.0 L183.7,684.5 L178.9,683.3 L174.4,682.3 L171.7,681.8 L166.9,680.9 L162.1,680.1 L159.7,679.7 L154.9,678.9 L150.1,678.0 L147.7,677.5 L142.9,676.4 L139.5,675.2 L135.7,673.6 L133.3,672.7 L128.5,671.7 M644.4,840.3 L642.0,836.6 L640.9,833.2 L639.6,829.4 L638.8,826.1 L637.7,821.3 L637.1,818.9 L636.0,814.1 L634.8,809.7 L633.9,806.9 L632.4,802.8 L630.9,799.7 L629.5,797.3 L627.6,794.6 L625.2,792.0 L622.8,789.9 L619.6,787.7 L615.6,785.6 L613.2,784.6 L608.5,782.9 L606.0,782.1 L601.5,780.5 L598.8,779.1 L596.4,777.3 L594.0,774.7 L591.7,771.0 L590.6,768.6 L589.2,764.8 L588.2,761.4 L587.1,756.6 L586.6,754.2 L585.2,749.4 L584.3,747.0 L582.0,742.6 L580.0,739.8 L577.8,737.4 L575.1,735.0 L572.4,733.2 L570.0,731.9 L565.2,730.4 L562.8,730.1 L558.0,730.0 L555.5,730.3 L550.8,730.9 L546.0,731.9 L542.4,732.6 L538.8,733.1 L534.6,732.6 L531.6,731.6 L529.2,730.1 L526.6,727.9 L524.4,725.5 L522.0,722.8 L519.6,720.2 L517.2,718.1 L512.4,715.9 L507.6,718.3 L506.1,720.7 L504.8,723.1 L502.8,727.8 L502.0,730.3 L500.4,735.0 L499.7,737.4 L498.5,742.2 L497.9,744.6 L496.9,749.4 L495.8,754.2 L495.1,756.6 L493.7,761.4 L492.8,763.8 L491.0,768.6 L490.1,771.0 L488.5,775.8 L487.7,778.2 L486.4,782.9 L485.8,785.3 L484.8,790.1 L484.0,794.9 L483.6,798.0 L483.2,802.1 L483.0,806.9 L482.7,811.7 L482.5,816.5 L482.2,821.3 L481.7,826.1 L481.2,829.0 L480.5,833.2 L479.6,838.0 L478.8,841.7 L478.1,845.2 L477.1,850.0 L476.4,853.5 L475.7,857.2 L474.7,862.0 L474.0,865.6 L473.4,869.2 L472.6,874.0 L471.9,878.8 L471.6,881.1 L471.1,885.9 L470.6,890.7 L470.0,895.5 L469.5,900.3 L469.4,902.7 M284.8,902.7 L284.9,897.9 L285.0,893.1 L285.2,888.3 L285.6,883.5 L286.0,878.8 L286.7,874.0 L287.0,871.6 L287.7,866.8 L288.5,862.0 L289.3,857.5 L289.7,854.8 L290.6,850.0 L291.6,845.2 L292.1,842.8 L293.3,838.0 L294.1,835.3 L295.5,830.8 L296.5,828.0 L298.2,823.7 L299.2,821.3 L301.3,817.0 L302.8,814.1 L304.1,811.7 L306.1,808.2 L308.3,804.5 L309.8,802.1 L311.2,799.7 L313.3,796.1 L315.1,792.5 L316.2,790.1 L318.0,785.3 L318.7,782.9 L320.0,778.2 L320.6,775.8 L321.7,771.0 L322.9,766.7 L323.8,763.8 L325.3,759.8 L326.5,756.6 L327.7,753.6 L329.1,749.4 L330.1,745.8 L330.6,742.2 L330.7,737.4 L330.1,732.6 L329.5,730.3 L327.8,725.5 L326.7,723.1 L325.3,720.5 L322.9,717.0 L320.5,714.3 L318.1,712.3 L315.7,710.9 L310.9,709.6 L306.1,709.3 L301.3,708.8 L298.9,708.1 L295.5,706.3 L292.6,703.9 L290.5,701.5 L288.8,699.1 L286.9,696.1 L284.6,691.9 L283.4,689.5 L282.1,686.8 L280.1,682.3 L279.1,680.0 L277.3,675.4 L276.3,672.8 L274.9,668.4 L274.0,665.6 L272.5,660.9 L271.6,658.4 L270.1,654.8 L268.2,651.2 L266.5,648.8 L264.6,646.4 L262.1,644.0 L259.0,641.6 L255.7,639.8 L253.3,638.8 L248.5,637.3 L246.1,636.5 L241.3,634.9 L238.9,634.1 L234.1,632.9 L229.3,632.1 L226.9,631.9 L224.4,632.0 L219.7,633.3 L217.0,634.4 L212.5,636.8 L210.1,638.2 L207.7,639.7 L204.9,641.6 L201.5,644.0 L198.1,646.4 L195.7,648.2 L193.3,649.9 L190.9,651.4 L186.8,653.6 L183.7,655.0 L181.0,656.0 L176.5,657.3 L171.7,658.3 L169.3,658.6 L164.5,659.3 L159.7,659.8 L154.9,660.3 L150.1,660.5 L145.3,660.6 L140.5,660.4 L135.7,659.9 L130.9,659.4 L128.5,659.2 M644.4,793.4 L642.0,791.4 L639.6,787.9 L638.2,785.3 L636.7,782.9 L634.8,779.7 L632.4,776.3 L630.0,773.4 L627.6,771.0 L625.2,768.9 L622.8,767.0 L620.4,765.1 L618.0,763.1 L615.6,761.1 L613.2,758.9 L610.8,756.5 L608.4,753.6 L606.0,750.2 L604.1,747.0 L602.7,744.6 L601.2,741.9 L598.8,737.8 L597.2,735.0 L595.6,732.6 L594.0,730.2 L591.6,726.8 L589.2,723.4 L587.2,720.7 L585.3,718.3 L583.3,715.9 L581.1,713.5 L578.4,711.1 L574.8,709.0 L572.4,708.5 L568.2,708.7 L565.2,709.5 L560.7,711.1 L558.0,712.0 L553.2,713.5 L550.8,714.0 L546.0,714.8 L541.2,715.0 L536.4,713.9 L534.0,712.7 L531.6,710.9 L529.2,708.4 L526.8,705.3 L524.4,701.7 L522.8,699.1 L521.5,696.7 L519.6,693.2 L517.7,689.5 L516.4,687.1 L514.8,684.1 L512.4,680.1 L510.5,677.6 L508.2,675.2 L505.2,673.4 L500.4,674.1 L498.0,676.4 L496.1,680.0 L495.2,682.3 L493.9,687.1 L493.2,690.4 L492.7,694.3 L492.1,699.1 L491.7,703.9 L491.3,708.7 L490.9,713.5 L490.6,715.9 L489.7,720.7 L488.5,725.5 L487.8,727.9 L486.3,732.6 L485.4,735.0 L483.6,739.8 L482.6,742.2 L481.2,745.5 L479.4,749.4 L478.1,751.8 L476.4,754.8 L474.0,759.0 L472.6,761.4 L471.3,763.8 L469.2,767.8 L467.7,771.0 L466.6,773.4 L464.4,778.2 L463.4,780.5 L462.0,783.7 L460.3,787.7 L459.2,790.1 L457.5,794.9 L457.0,797.3 L457.0,802.1 L457.3,804.5 L457.9,809.3 L458.4,814.1 L458.7,818.9 L458.7,823.7 L458.5,828.5 L458.1,833.2 L457.4,838.0 L457.1,840.4 L456.4,845.2 L455.6,850.0 L454.9,854.8 L454.5,857.2 L453.7,862.0 L452.8,866.8 L452.4,869.2 L451.6,874.0 L450.8,878.8 L450.1,883.5 L449.7,885.9 L448.9,890.7 L448.0,895.5 L447.6,897.9 L447.1,902.7 M304.1,902.7 L304.2,897.9 L304.4,893.1 L304.9,888.3 L305.5,883.5 L306.1,879.7 L306.6,876.4 L307.4,871.6 L308.3,866.8 L308.7,864.4 L309.6,859.6 L310.7,854.8 L311.2,852.4 L312.5,847.6 L313.3,845.2 L315.0,840.4 L316.0,838.0 L318.1,833.8 L319.7,830.8 L321.1,828.5 L322.9,825.8 L325.3,822.3 L327.7,819.1 L329.7,816.5 L331.6,814.1 L333.5,811.7 L335.3,809.3 L337.3,806.7 L339.7,803.4 L342.0,799.7 L343.3,797.3 L344.5,794.9 L346.3,790.1 L346.9,787.7 L348.1,782.9 L349.0,778.2 L349.5,775.8 L350.5,771.0 L351.7,766.5 L352.4,763.8 L353.8,759.0 L354.5,756.6 L355.7,751.8 L356.4,747.0 L356.5,744.6 L356.5,741.9 L356.0,737.4 L354.9,732.6 L354.1,730.0 L352.3,725.5 L351.1,723.1 L349.3,719.6 L347.0,715.9 L345.5,713.5 L343.9,711.1 L342.1,708.3 L339.7,704.7 L337.5,701.5 L335.8,699.1 L334.1,696.7 L332.3,694.3 L330.1,691.5 L327.7,688.7 L325.3,686.3 L322.9,684.0 L320.5,681.9 L318.1,679.9 L315.4,677.6 L312.7,675.2 L310.2,672.8 L308.0,670.4 L306.0,668.0 L303.7,665.0 L301.3,661.7 L299.1,658.4 L297.5,656.0 L295.9,653.6 L294.1,650.8 L291.7,647.4 L289.3,644.1 L287.2,641.6 L285.1,639.2 L282.7,636.8 L280.0,634.4 L277.3,632.4 L274.9,630.7 L272.5,629.3 L268.7,627.3 L265.3,625.7 L262.9,624.8 L258.1,623.3 L255.4,622.5 L250.9,620.7 L248.5,619.6 L243.7,618.0 L238.9,617.9 L234.1,617.9 L231.7,617.6 L226.9,616.9 L222.1,617.0 L218.8,617.7 L214.9,619.0 L212.2,620.1 L207.7,622.2 L205.3,623.5 L202.9,624.9 L199.0,627.3 L195.7,629.3 L193.3,630.7 L190.9,632.2 L186.8,634.4 L183.7,636.1 L181.3,637.2 L176.5,639.2 L174.1,640.1 L169.3,641.6 L166.9,642.2 L162.1,643.4 L159.6,644.0 L154.9,645.1 L150.1,646.1 L147.7,646.5 L142.9,647.4 L138.1,648.1 L133.3,648.6 L128.5,648.8 M644.4,766.0 L641.5,763.8 L639.6,761.2 L637.2,757.3 L635.3,754.2 L633.5,751.8 L631.5,749.4 L629.0,747.0 L626.3,744.6 L623.6,742.2 L621.0,739.8 L618.6,737.4 L616.5,735.0 L614.6,732.6 L612.9,730.3 L610.8,727.0 L608.6,723.1 L607.4,720.7 L606.0,717.8 L604.0,713.5 L603.0,711.1 L601.2,707.2 L599.6,703.9 L598.4,701.5 L596.4,697.9 L594.4,694.3 L592.9,691.9 L591.4,689.5 L589.2,686.5 L586.8,683.7 L584.4,681.5 L582.0,680.0 L577.2,678.7 L572.4,679.3 L570.0,680.4 L566.9,682.3 L564.0,684.7 L561.5,687.1 L558.9,689.5 L556.0,691.9 L553.2,693.7 L550.8,694.7 L546.0,695.6 L541.2,694.6 L538.8,693.4 L536.4,691.6 L534.0,689.1 L531.6,686.0 L529.3,682.3 L528.0,680.0 L526.7,677.6 L524.4,673.2 L523.0,670.4 L521.7,668.0 L519.6,664.4 L517.4,660.8 L515.7,658.4 L513.9,656.0 L511.9,653.6 L509.6,651.2 L506.6,648.8 L502.8,647.0 L498.0,647.1 L495.0,648.8 L492.3,651.2 L490.3,653.6 L488.4,656.3 L486.0,660.5 L484.7,663.2 L483.6,666.0 L482.2,670.4 L481.2,674.7 L480.7,677.6 L480.0,682.3 L479.4,687.1 L478.8,691.8 L478.5,694.3 L478.0,699.1 L477.4,703.9 L476.7,708.7 L476.3,711.1 L475.2,715.9 L474.0,719.6 L472.4,723.1 L470.9,725.5 L469.1,727.9 L466.8,730.3 L463.8,732.6 L460.5,735.0 L457.3,737.4 L454.8,739.6 L452.4,742.0 L450.1,744.6 L448.2,747.0 L446.5,749.4 L444.9,751.8 L442.8,754.8 L440.4,758.0 L438.0,760.8 L435.6,763.3 L433.2,765.5 L430.8,767.5 L428.4,769.4 L426.0,771.4 L423.6,773.5 L421.1,775.8 L418.5,778.2 L416.3,780.5 L414.0,784.1 L413.2,787.7 L414.0,791.7 L415.5,794.9 L417.1,797.3 L418.9,799.7 L421.2,802.6 L423.6,805.4 L426.0,808.1 L428.4,811.1 L430.4,814.1 L431.6,816.5 L433.2,821.0 L433.9,823.7 L434.6,828.5 L434.6,833.2 L434.1,838.0 L433.2,842.1 L432.4,845.2 L431.0,850.0 L430.3,852.4 L428.8,857.2 L428.2,859.6 L427.0,864.4 L426.1,869.2 L425.7,871.6 L424.9,876.4 L424.2,881.1 L423.6,884.5 L423.0,888.3 L422.0,893.1 L421.2,896.6 L420.6,900.3 L420.4,902.7 M128.5,452.9 L129.2,450.0 L130.6,445.2 L131.1,442.8 L131.8,438.0 L132.4,433.2 L132.9,428.5 L133.1,423.7 L133.1,418.9 L132.9,414.1 L132.5,409.3 L132.0,404.5 L131.3,399.7 L130.9,397.0 L129.5,392.5 L128.5,389.2 M644.4,734.5 L640.3,732.6 L637.3,730.3 L634.9,727.9 L632.7,725.5 L630.6,723.1 L628.7,720.7 L627.0,718.3 L625.2,715.5 L622.9,711.1 L621.8,708.7 L620.4,705.2 L619.0,701.5 L618.0,698.7 L616.5,694.3 L615.6,691.4 L614.4,687.1 L613.2,682.6 L612.6,680.0 L611.6,675.2 L610.8,670.6 L610.4,668.0 L609.8,663.2 L609.0,658.4 L608.1,656.0 L603.6,653.9 L598.8,654.6 L594.0,655.5 L591.3,656.0 L586.8,656.8 L582.0,657.6 L578.5,658.4 L574.8,659.4 L570.9,660.8 L567.6,662.3 L565.2,663.5 L561.7,665.6 L558.0,667.9 L555.6,669.3 L553.2,670.5 L548.4,671.9 L543.6,671.5 L541.0,670.4 L537.6,668.0 L535.1,665.6 L532.9,663.2 L531.0,660.8 L529.2,658.4 L526.8,655.0 L524.4,651.3 L522.8,648.8 L521.3,646.4 L519.6,643.9 L517.2,640.1 L515.0,636.8 L513.2,634.4 L511.3,632.0 L509.2,629.7 L506.5,627.3 L502.8,625.1 L500.4,624.6 L498.0,624.9 L494.0,627.3 L491.3,629.7 L489.2,632.0 L487.2,634.4 L485.4,636.8 L483.6,639.3 L481.2,642.8 L478.8,646.2 L476.9,648.8 L475.2,651.2 L473.4,653.6 L471.6,656.0 L469.2,659.6 L467.2,663.2 L466.2,665.6 L465.1,670.4 L464.4,673.9 L463.8,677.6 L462.8,682.3 L462.0,685.4 L460.9,689.5 L459.6,692.8 L457.8,696.7 L456.3,699.1 L454.8,701.5 L452.4,705.3 L450.7,708.7 L449.6,711.1 L447.6,714.5 L445.2,717.2 L442.8,718.9 L440.0,720.7 L436.2,723.1 L433.2,725.4 L430.8,727.5 L428.4,729.7 L426.0,732.0 L423.6,734.2 L421.2,736.5 L418.8,738.8 L416.4,741.2 L414.0,743.6 L411.6,745.7 L409.2,747.5 L406.3,749.4 L402.0,751.3 L399.6,752.0 L394.8,752.8 L390.0,752.8 L386.0,751.8 L382.9,750.1 L380.5,747.7 L378.4,744.6 L377.2,742.2 L375.7,738.6 L374.3,735.0 L373.3,732.3 L371.6,727.9 L370.6,725.5 L368.6,720.7 L367.6,718.3 L366.1,714.9 L364.2,711.1 L363.0,708.7 L361.3,705.4 L359.1,701.5 L357.8,699.1 L356.4,696.7 L354.1,692.9 L351.9,689.5 L350.4,687.1 L348.8,684.7 L346.9,681.8 L344.5,678.2 L342.4,675.2 L340.7,672.8 L339.0,670.4 L337.3,667.9 L334.9,664.6 L332.5,661.7 L330.1,659.1 L327.7,656.8 L325.3,654.7 L322.9,652.6 L320.5,650.5 L318.1,648.2 L315.7,645.6 L313.3,642.8 L310.9,639.9 L308.5,637.0 L306.3,634.4 L304.1,632.0 L301.7,629.7 L299.2,627.3 L296.5,624.9 L294.1,623.0 L291.7,621.2 L289.3,619.6 L285.9,617.7 L282.1,615.9 L279.7,615.0 L274.9,613.3 L272.5,612.5 L267.7,611.1 L264.7,610.5 L260.5,609.9 L255.7,608.7 L253.3,607.7 L248.5,605.8 L246.1,605.2 L241.3,604.3 L236.5,603.4 L234.1,603.1 L229.3,602.7 L224.5,602.6 L219.7,602.9 L216.9,603.3 L212.5,604.3 L208.4,605.7 L205.3,607.1 L202.9,608.4 L199.6,610.5 L196.0,612.9 L193.3,614.7 L190.9,616.3 L188.5,617.8 L184.6,620.1 L181.3,621.8 L178.9,623.0 L174.6,624.9 L171.7,626.0 L168.0,627.3 L164.5,628.4 L160.4,629.7 L157.3,630.6 L152.5,632.0 L150.1,632.7 L145.3,634.2 L142.9,635.0 L138.1,636.7 L135.7,637.6 L130.9,638.8 L128.5,639.1 M323.3,902.7 L323.4,897.9 L323.7,893.1 L324.2,888.3 L324.9,883.5 L325.3,881.1 L326.2,876.4 L327.1,871.6 L327.7,869.1 L328.8,864.4 L330.1,859.6 L330.9,857.2 L332.5,852.9 L333.8,850.0 L335.0,847.6 L337.3,843.5 L339.2,840.4 L340.7,838.0 L342.4,835.6 L344.5,832.9 L346.9,830.1 L349.3,827.6 L351.7,825.4 L354.1,823.6 L358.1,821.3 L361.3,819.9 L365.3,818.9 L368.5,818.4 L373.3,818.2 L378.1,818.3 L382.9,818.6 L385.5,818.9 L390.0,819.9 L393.1,821.3 L396.0,823.7 L397.4,826.1 L397.7,830.8 L397.2,833.2 L395.6,838.0 L394.7,840.4 L393.0,845.2 L392.3,847.6 L391.0,852.4 L390.2,857.2 L389.9,859.6 L389.6,864.4 L389.6,869.2 L389.7,874.0 L389.8,878.8 L389.8,883.5 L389.8,888.3 L389.4,893.1 L388.9,897.9 L388.5,902.7 M128.5,538.3 L130.9,536.2 L133.3,532.2 L134.7,529.1 L135.7,526.6 L137.4,521.9 L138.1,519.5 L139.6,514.7 L140.5,510.9 L141.3,507.5 L142.1,502.7 L142.6,497.9 L142.9,493.9 L143.0,490.7 L143.0,485.9 L142.9,481.6 L142.8,478.8 L142.6,474.0 L142.5,469.2 L142.5,464.4 L142.7,459.6 L142.9,454.9 L143.1,452.4 L143.5,447.6 L143.9,442.8 L144.4,438.0 L144.8,433.2 L145.0,428.5 L145.1,423.7 L145.1,418.9 L144.9,414.1 L144.7,409.3 L144.3,404.5 L143.9,399.7 L143.5,394.9 L143.0,390.1 L142.7,387.7 L142.1,383.0 L141.4,378.2 L140.6,373.4 L140.1,371.0 L139.2,366.2 L138.1,361.5 L137.4,359.0 L136.0,354.2 L135.1,351.8 L133.3,347.8 L131.0,344.6 L128.5,343.0 M644.4,654.7 L642.7,651.2 L641.7,648.8 L640.3,644.0 L639.6,641.6 L638.2,636.8 L637.2,633.9 L635.6,629.7 L634.5,627.3 L632.4,623.2 L630.1,620.1 L627.6,617.7 L625.2,616.3 L621.2,615.3 L618.2,615.3 L615.6,615.8 L610.9,617.7 L608.4,619.2 L606.0,620.9 L603.6,622.8 L601.2,624.9 L598.6,627.3 L596.0,629.7 L593.3,632.0 L590.5,634.4 L587.3,636.8 L584.4,638.7 L582.0,640.1 L579.1,641.6 L574.8,643.7 L572.4,644.7 L568.5,646.4 L565.2,647.9 L562.8,648.9 L558.0,650.7 L555.6,651.5 L550.8,652.4 L546.0,652.3 L542.6,651.2 L538.8,649.2 L536.4,647.3 L534.0,644.9 L531.6,642.2 L529.5,639.2 L527.8,636.8 L526.3,634.4 L524.4,631.4 L522.0,627.4 L520.5,624.9 L519.1,622.5 L517.2,619.3 L514.8,615.4 L513.2,612.9 L511.7,610.5 L510.0,607.9 L507.6,604.3 L505.2,601.0 L503.1,598.5 L500.4,596.2 L498.0,595.3 L495.1,596.1 L492.8,598.5 L490.8,602.0 L489.3,605.7 L488.3,608.1 L486.1,612.9 L484.9,615.3 L483.5,617.7 L481.2,621.4 L478.8,624.8 L476.9,627.3 L474.8,629.7 L472.4,632.0 L469.8,634.4 L466.9,636.8 L464.4,638.9 L462.0,641.0 L459.6,643.2 L457.2,645.2 L454.8,646.9 L452.3,648.8 L450.0,651.3 L448.0,656.0 L447.6,658.4 L447.2,663.2 L446.8,668.0 L446.1,672.8 L445.2,676.5 L444.2,680.0 L442.8,683.0 L440.4,686.4 L438.0,688.9 L435.6,691.3 L433.2,693.8 L430.8,696.3 L428.4,698.4 L426.0,700.3 L423.6,702.0 L420.7,703.9 L416.4,706.3 L414.0,707.4 L411.3,708.7 L406.8,710.7 L404.4,711.6 L399.6,713.0 L394.8,712.8 L390.9,711.1 L387.6,708.8 L385.3,706.6 L382.9,703.9 L380.9,701.5 L379.2,699.1 L377.6,696.7 L375.7,693.6 L373.3,689.6 L371.9,687.1 L370.5,684.7 L368.5,681.3 L366.2,677.6 L364.8,675.2 L363.3,672.8 L361.3,669.3 L359.1,665.6 L357.9,663.2 L356.5,660.3 L354.5,656.0 L353.5,653.6 L351.7,649.3 L350.3,646.4 L349.2,644.0 L346.9,639.6 L345.3,636.8 L343.9,634.4 L342.1,631.1 L340.0,627.3 L338.8,624.9 L337.3,621.7 L335.3,617.7 L334.1,615.3 L332.5,612.6 L330.1,609.7 L327.7,607.5 L325.3,605.7 L321.6,603.3 L318.1,601.3 L315.7,600.1 L312.5,598.5 L308.5,596.9 L305.6,596.1 L301.3,595.6 L296.5,595.8 L293.6,596.1 L289.3,596.7 L284.5,597.4 L279.7,598.1 L274.9,598.4 L270.1,598.0 L265.3,597.1 L261.9,596.1 L258.1,594.9 L254.1,593.7 L250.9,592.9 L246.1,592.0 L243.2,591.3 L238.9,590.2 L234.1,589.2 L231.7,588.8 L226.9,588.4 L222.1,588.2 L217.3,588.3 L212.5,588.8 L210.1,589.3 L205.3,590.9 L202.9,592.1 L200.2,593.7 L196.8,596.1 L193.7,598.5 L190.9,600.7 L188.5,602.6 L186.1,604.3 L183.7,605.9 L180.0,608.1 L176.5,609.9 L174.1,611.1 L169.8,612.9 L166.9,614.0 L163.1,615.3 L159.7,616.4 L155.6,617.7 L152.5,618.7 L148.4,620.1 L145.3,621.2 L142.5,622.5 L138.1,624.9 L135.7,626.3 L133.3,627.6 L128.5,629.0 M644.4,706.7 L642.0,704.9 L640.0,701.5 L639.1,699.1 L637.7,694.3 L637.2,691.5 L636.8,687.1 L636.9,682.3 L637.2,680.0 L638.7,675.2 L639.9,672.8 L642.0,669.7 L644.4,667.7 M341.4,902.7 L341.6,897.9 L342.1,893.6 L342.7,890.7 L344.0,885.9 L344.9,883.5 L346.9,879.3 L348.7,876.4 L350.6,874.0 L354.1,871.6 L358.8,874.0 L360.2,876.4 L361.3,878.8 L362.5,883.5 L363.0,888.3 L363.0,893.1 L362.6,897.9 L362.3,902.7 M128.5,591.9 L130.9,590.5 L133.0,586.5 L133.6,584.1 L134.4,579.4 L134.9,574.6 L135.4,569.8 L135.7,567.2 L136.3,562.6 L137.2,557.8 L138.1,554.2 L139.1,550.6 L140.5,546.6 L141.8,543.4 L142.9,540.8 L145.0,536.2 L146.2,533.8 L147.7,530.8 L149.6,526.7 L150.6,524.3 L152.5,519.5 L153.3,517.1 L154.6,512.3 L155.2,509.9 L156.1,505.1 L156.7,500.3 L157.0,495.5 L157.1,490.7 L156.9,485.9 L156.7,481.2 L156.4,476.4 L156.2,471.6 L156.1,466.8 L156.2,462.0 L156.4,457.2 L156.8,452.4 L157.3,447.7 L157.6,445.2 L158.1,440.4 L158.6,435.6 L158.9,430.9 L159.1,426.1 L159.0,421.3 L158.9,416.5 L158.6,411.7 L158.3,406.9 L157.9,402.1 L157.4,397.3 L157.2,394.9 L156.7,390.1 L156.1,385.3 L155.5,380.6 L154.9,376.6 L154.4,373.4 L153.6,368.6 L152.6,363.8 L152.1,361.4 L151.0,356.6 L150.1,352.8 L149.2,349.4 L147.7,344.7 L146.8,342.2 L145.3,338.3 L144.0,335.0 L142.9,332.5 L141.0,327.9 L140.1,325.5 L138.5,320.7 L137.8,318.3 L136.6,313.5 L135.7,309.4 L135.1,306.3 L134.3,301.5 L133.6,296.7 L133.3,294.1 L132.5,289.5 L131.5,284.7 L130.9,282.2 L128.5,278.0 M644.4,612.4 L642.0,610.5 L639.6,606.8 L637.8,603.3 L636.6,600.9 L634.8,597.9 L632.4,594.8 L630.0,592.8 L627.4,591.3 L622.8,590.1 L618.0,590.1 L613.5,591.3 L610.8,592.6 L608.4,594.0 L605.4,596.1 L602.3,598.5 L599.5,600.9 L596.8,603.3 L594.4,605.7 L592.1,608.1 L589.9,610.5 L587.8,612.9 L585.6,615.3 L583.3,617.7 L580.9,620.1 L578.3,622.5 L575.4,624.9 L572.4,627.0 L570.0,628.6 L567.6,630.1 L563.9,632.0 L560.4,633.6 L557.9,634.4 L553.2,635.4 L548.4,635.2 L545.4,634.4 L541.2,632.4 L538.8,630.5 L536.4,628.2 L534.0,625.3 L531.9,622.5 L530.3,620.1 L528.8,617.7 L526.8,614.3 L524.8,610.5 L523.6,608.1 L522.0,604.9 L520.2,600.9 L519.1,598.5 L517.2,594.5 L515.7,591.3 L514.5,588.9 L512.4,585.3 L510.2,581.7 L508.6,579.4 L506.8,577.0 L504.8,574.6 L502.6,572.2 L500.1,569.8 L496.8,567.4 L493.2,565.7 L488.4,566.6 L486.0,569.1 L484.4,572.2 L483.3,574.6 L481.5,579.4 L480.7,581.7 L479.3,586.5 L478.7,588.9 L477.6,593.7 L476.7,598.5 L476.3,600.9 L475.0,605.7 L474.0,608.4 L471.7,612.9 L469.9,615.3 L467.6,617.7 L464.6,620.1 L462.0,621.8 L459.6,623.2 L457.1,624.9 L454.0,627.3 L451.6,629.7 L449.6,632.0 L447.6,634.5 L445.2,637.6 L442.8,640.9 L440.7,644.0 L439.3,646.4 L438.0,648.8 L435.8,653.6 L434.7,656.0 L433.2,658.9 L430.8,662.7 L428.5,665.6 L426.0,667.9 L423.6,669.6 L421.2,670.8 L416.4,672.1 L411.6,672.1 L406.8,671.2 L404.4,670.3 L399.6,668.0 L397.2,666.6 L394.8,665.0 L392.3,663.2 L389.1,660.8 L386.2,658.4 L383.6,656.0 L381.3,653.6 L379.3,651.2 L377.5,648.8 L375.7,646.1 L373.3,642.2 L371.6,639.2 L370.2,636.8 L368.5,633.5 L366.4,629.7 L365.1,627.3 L363.7,624.5 L361.4,620.1 L360.2,617.7 L358.9,614.9 L356.9,610.5 L355.9,608.1 L354.1,603.7 L352.9,600.9 L351.7,598.2 L349.3,593.7 L347.9,591.3 L346.4,588.9 L344.5,586.1 L342.1,582.8 L339.7,579.7 L337.5,577.0 L335.4,574.6 L333.0,572.2 L330.2,569.8 L327.7,568.0 L325.3,566.6 L322.1,565.0 L318.1,563.1 L315.7,562.1 L310.9,560.4 L308.5,559.8 L303.7,558.9 L298.9,558.8 L295.0,560.2 L292.1,562.6 L289.7,565.0 L287.3,567.4 L285.0,569.8 L282.6,572.2 L280.0,574.6 L277.3,576.7 L274.9,578.5 L272.5,580.5 L270.1,582.6 L267.1,584.1 L263.7,584.1 L260.5,582.6 L258.1,580.6 L255.7,578.5 L253.3,576.7 L249.4,574.6 L246.1,573.0 L243.7,572.0 L238.9,569.9 L236.5,569.0 L231.7,567.6 L229.3,567.2 L224.5,567.0 L221.4,567.4 L217.3,568.4 L214.0,569.8 L210.1,571.6 L207.7,572.9 L205.0,574.6 L201.4,577.0 L198.1,579.3 L195.7,581.2 L193.3,583.2 L190.9,585.2 L188.5,587.3 L186.1,589.3 L183.6,591.3 L180.4,593.7 L176.7,596.1 L174.1,597.6 L171.7,598.8 L166.9,600.9 L164.5,601.7 L159.7,602.9 L157.3,603.4 L152.5,604.3 L147.7,605.0 L143.8,605.7 L140.5,606.8 L138.1,608.5 L135.7,610.7 L133.3,613.0 L129.5,615.3 L128.5,615.6 M644.4,585.0 L642.0,584.0 L639.1,581.7 L636.7,579.4 L634.4,577.0 L632.2,574.6 L629.9,572.2 L627.6,569.8 L625.2,567.2 L622.8,564.2 L620.4,561.1 L618.0,558.1 L615.6,555.5 L613.2,553.6 L610.8,552.5 L606.0,552.7 L603.6,554.2 L601.2,556.7 L598.9,560.2 L597.7,562.6 L596.4,565.3 L594.6,569.8 L593.6,572.2 L591.6,577.0 L590.5,579.4 L589.2,581.9 L586.8,586.1 L585.0,588.9 L583.3,591.3 L581.5,593.7 L579.6,596.2 L577.2,598.9 L574.8,601.5 L572.4,603.8 L570.0,605.8 L567.0,608.1 L563.1,610.5 L560.4,611.8 L557.5,612.9 L553.2,613.8 L548.4,613.5 L546.0,612.7 L542.0,610.5 L539.1,608.1 L536.9,605.7 L535.2,603.3 L533.6,600.9 L531.6,597.5 L529.7,593.7 L528.5,591.3 L526.8,587.8 L525.1,584.1 L523.9,581.7 L522.0,577.7 L520.5,574.6 L519.4,572.2 L517.3,567.4 L516.2,565.0 L514.8,561.7 L513.2,557.8 L512.2,555.4 L510.0,550.6 L508.8,548.2 L507.4,545.8 L505.2,542.7 L502.8,539.9 L500.4,537.6 L498.0,535.7 L495.3,533.8 L490.9,531.5 L488.4,530.4 L483.6,529.1 L481.2,528.9 L478.7,529.1 L474.6,531.5 L473.3,533.8 L472.1,538.6 L471.6,541.6 L471.1,545.8 L470.5,550.6 L469.9,555.4 L469.2,560.1 L469.0,562.6 L468.8,567.4 L468.5,572.2 L467.6,577.0 L466.6,579.4 L464.4,582.9 L462.0,586.4 L461.0,588.9 L460.3,593.7 L460.5,598.5 L460.1,603.3 L459.3,605.7 L457.2,608.7 L454.8,611.1 L452.4,613.1 L449.6,615.3 L446.6,617.7 L444.0,620.1 L441.7,622.5 L439.7,624.9 L437.7,627.3 L435.6,629.8 L433.2,632.6 L430.8,635.4 L428.4,637.9 L426.0,640.1 L423.6,642.1 L420.3,644.0 L416.4,645.4 L411.6,645.3 L408.0,644.0 L404.4,642.0 L402.0,640.2 L399.6,638.2 L397.2,635.9 L394.8,633.4 L392.4,630.6 L390.0,627.6 L388.1,624.9 L386.5,622.5 L385.0,620.1 L382.9,616.4 L380.8,612.9 L379.3,610.5 L377.9,608.1 L375.7,604.3 L373.6,600.9 L372.2,598.5 L370.7,596.1 L368.5,592.4 L366.3,588.9 L364.7,586.5 L363.1,584.1 L361.3,581.5 L358.9,578.1 L356.5,574.6 L354.8,572.2 L353.2,569.8 L351.7,567.3 L349.3,563.4 L347.3,560.2 L345.8,557.8 L344.2,555.4 L342.1,552.3 L339.7,549.2 L337.3,546.5 L334.9,544.2 L332.5,542.3 L330.1,540.6 L326.6,538.6 L322.9,536.9 L320.5,535.9 L315.7,534.1 L313.3,533.3 L308.5,532.2 L303.7,531.6 L301.3,531.4 L296.5,531.2 L291.7,531.3 L289.3,531.5 L284.5,532.0 L279.7,532.6 L274.9,533.0 L270.1,532.8 L265.3,531.9 L262.9,531.2 L258.1,529.2 L255.7,527.9 L253.3,526.3 L250.4,524.3 L247.2,521.9 L243.8,519.5 L241.3,517.9 L238.9,516.6 L234.1,514.9 L231.7,514.4 L227.2,514.7 L224.5,515.6 L222.1,517.1 L219.5,519.5 L217.3,522.2 L214.9,526.3 L213.5,529.1 L212.4,531.5 L210.2,536.2 L209.0,538.6 L207.7,541.1 L205.3,545.0 L203.2,548.2 L201.7,550.6 L200.2,553.0 L198.1,556.3 L195.7,560.2 L194.1,562.6 L192.4,565.0 L190.5,567.4 L188.4,569.8 L186.1,572.2 L183.7,574.6 L180.9,577.0 L177.9,579.4 L174.5,581.7 L171.7,583.4 L169.3,584.6 L164.5,586.3 L162.1,586.6 L159.5,586.5 L154.9,584.4 L152.7,581.7 L151.7,579.4 L150.6,574.6 L150.3,569.8 L150.5,565.0 L151.3,560.2 L152.5,555.4 L153.3,553.0 L154.9,548.7 L156.1,545.8 L157.3,543.3 L159.6,538.6 L160.8,536.2 L162.1,533.6 L164.1,529.1 L165.1,526.7 L166.8,521.9 L167.6,519.5 L168.8,514.7 L169.3,512.0 L170.0,507.5 L170.4,502.7 L170.6,497.9 L170.5,493.1 L170.3,488.3 L170.0,483.5 L169.7,478.8 L169.5,474.0 L169.3,469.2 L169.4,464.4 L169.7,459.6 L170.1,454.8 L170.7,450.0 L171.4,445.2 L171.8,442.8 L172.5,438.0 L173.1,433.2 L173.5,428.5 L173.7,423.7 L173.7,418.9 L173.6,414.1 L173.5,409.3 L173.3,404.5 L173.1,399.7 L172.8,394.9 L172.3,390.1 L171.7,385.6 L171.3,383.0 L170.6,378.2 L169.9,373.4 L169.3,369.4 L168.8,366.2 L168.1,361.4 L167.4,356.6 L166.9,352.9 L166.4,349.4 L165.8,344.6 L165.1,339.8 L164.5,336.7 L163.7,332.7 L162.5,327.9 L161.8,325.5 L160.4,320.7 L159.7,318.3 L158.2,313.5 L157.3,310.9 L155.8,306.3 L154.9,303.3 L153.8,299.1 L152.8,294.3 L152.4,291.9 L151.6,287.1 L150.7,282.4 L150.1,279.5 L149.0,275.2 L147.7,271.0 L146.7,268.0 L145.3,264.4 L143.9,260.8 L142.9,258.1 L141.3,253.6 L140.4,251.2 L138.9,246.4 L138.1,244.0 L136.7,239.2 L135.7,235.9 L134.5,232.1 L133.3,228.2 L131.9,224.9 L130.9,222.5 L128.5,219.6 M644.4,567.3 L640.9,565.0 L639.0,562.6 L637.2,559.7 L634.9,555.4 L633.7,553.0 L632.4,550.4 L630.0,546.0 L628.4,543.4 L626.9,541.0 L625.2,538.5 L622.8,535.2 L620.4,532.2 L618.0,529.5 L615.6,527.2 L613.2,525.4 L610.8,524.0 L606.0,522.8 L601.2,523.6 L598.8,525.0 L596.4,527.0 L594.0,529.8 L591.6,533.5 L590.1,536.2 L588.9,538.6 L586.8,543.1 L585.6,545.8 L584.4,548.5 L582.4,553.0 L581.3,555.4 L579.6,558.8 L577.7,562.6 L576.5,565.0 L574.8,568.2 L572.6,572.2 L571.2,574.6 L569.8,577.0 L567.6,580.1 L565.2,582.9 L562.8,585.0 L560.4,586.6 L555.6,588.4 L550.8,588.6 L546.0,587.1 L543.6,585.6 L541.2,583.6 L538.8,580.8 L536.4,577.3 L534.8,574.6 L533.5,572.2 L531.6,568.2 L530.2,565.0 L529.2,562.5 L527.5,557.8 L526.6,555.4 L524.9,550.6 L524.0,548.2 L522.1,543.4 L521.0,541.0 L519.6,538.4 L517.2,534.4 L515.0,531.5 L512.9,529.1 L510.5,526.7 L507.6,524.3 L505.2,522.7 L502.8,521.2 L499.6,519.5 L495.6,517.6 L493.2,516.5 L488.4,514.8 L486.0,514.1 L481.2,513.3 L476.4,513.1 L471.6,513.7 L469.1,514.7 L465.6,517.1 L463.2,519.5 L461.5,521.9 L459.6,526.5 L459.2,529.1 L459.1,533.8 L458.8,538.6 L458.2,543.4 L457.5,548.2 L457.2,550.6 L456.7,555.4 L456.3,560.2 L455.7,565.0 L454.9,569.8 L454.1,572.2 L452.4,576.2 L451.1,579.4 L450.0,582.9 L449.3,586.5 L448.5,591.3 L447.6,594.3 L445.3,598.5 L443.5,600.9 L441.6,603.3 L439.8,605.7 L437.8,608.1 L435.6,610.6 L433.2,613.2 L430.8,615.7 L428.4,618.2 L426.0,620.4 L423.4,622.5 L418.9,624.9 L416.4,625.4 L412.4,624.9 L409.2,623.4 L406.8,621.4 L404.4,618.8 L402.0,615.7 L400.1,612.9 L398.6,610.5 L397.1,608.1 L394.8,604.6 L392.4,601.0 L390.7,598.5 L389.0,596.1 L387.2,593.7 L385.3,591.1 L382.9,588.1 L380.5,585.2 L378.1,582.3 L375.7,579.4 L373.7,577.0 L371.8,574.6 L370.0,572.2 L368.3,569.8 L366.1,566.3 L363.8,562.6 L362.4,560.2 L361.1,557.8 L358.9,553.5 L357.4,550.6 L356.2,548.2 L354.1,544.1 L352.4,541.0 L351.1,538.6 L349.3,535.5 L346.9,532.0 L344.5,529.1 L342.1,526.9 L339.7,525.2 L337.3,523.7 L333.2,521.9 L330.1,520.7 L326.5,519.5 L322.9,518.4 L318.2,517.1 L315.7,516.2 L311.9,514.7 L308.5,513.1 L306.1,512.0 L301.3,510.2 L298.9,509.3 L294.1,507.6 L291.7,506.9 L286.9,505.7 L284.3,505.1 L279.7,504.0 L275.1,502.7 L272.5,501.9 L267.9,500.3 L265.3,499.3 L262.2,497.9 L258.1,496.0 L255.7,494.8 L251.9,493.1 L248.5,491.8 L244.3,490.7 L241.3,490.3 L236.5,490.2 L231.9,490.7 L229.3,491.3 L224.5,492.8 L222.1,493.8 L218.8,495.5 L215.1,497.9 L212.5,499.9 L210.1,501.8 L207.7,503.9 L205.3,505.9 L202.9,507.9 L200.1,509.9 L195.7,512.1 L193.3,512.3 L190.9,511.0 L188.9,507.5 L188.1,505.1 L186.8,500.3 L186.1,496.9 L185.4,493.1 L184.7,488.3 L184.0,483.5 L183.7,480.8 L183.3,476.4 L183.0,471.6 L183.0,466.8 L183.3,462.0 L183.7,458.0 L184.1,454.8 L185.1,450.0 L186.1,445.8 L186.9,442.8 L188.5,438.0 L189.3,435.6 L190.9,431.1 L191.8,428.5 L193.3,423.8 L194.0,421.3 L194.9,416.5 L195.4,411.7 L195.3,406.9 L194.9,402.1 L194.4,397.3 L193.6,392.5 L193.2,390.1 L192.4,385.3 L191.5,380.6 L190.9,377.5 L190.1,373.4 L189.1,368.6 L188.5,365.6 L187.6,361.4 L186.7,356.6 L186.1,353.5 L185.3,349.4 L184.5,344.6 L183.9,339.8 L183.6,337.4 L183.2,332.7 L183.0,327.9 L183.0,323.1 L183.0,318.3 L182.9,313.5 L182.5,308.7 L181.7,303.9 L181.2,301.5 L180.0,296.7 L178.9,292.7 L178.0,289.5 L176.5,284.7 L175.7,282.4 L174.1,278.0 L172.9,275.2 L171.7,272.6 L169.3,268.0 L168.0,265.6 L166.7,263.2 L164.5,259.4 L162.6,256.0 L161.3,253.6 L159.7,250.8 L157.4,246.4 L156.1,244.0 L154.9,241.6 L152.5,237.2 L151.0,234.4 L149.7,232.1 L147.7,228.4 L145.9,224.9 L144.7,222.5 L142.9,218.8 L141.4,215.3 L140.5,212.9 L138.8,208.1 L137.9,205.7 L136.5,200.9 L135.7,198.1 L134.5,193.7 L133.3,189.1 L132.4,186.5 L130.9,181.9 L129.2,179.4 L128.5,178.5 M644.4,544.4 L642.0,542.7 L639.6,539.4 L637.9,536.2 L636.7,533.8 L634.8,529.9 L633.1,526.7 L631.8,524.3 L630.0,521.3 L627.6,517.9 L625.2,514.9 L622.8,512.3 L620.4,510.0 L618.0,508.1 L615.6,506.4 L613.2,505.0 L608.4,503.2 L606.0,502.7 L601.2,502.4 L598.8,502.7 L594.0,504.7 L591.6,506.6 L589.2,509.1 L586.9,512.3 L585.3,514.7 L583.9,517.1 L582.0,520.6 L580.1,524.3 L579.0,526.7 L577.2,530.3 L575.5,533.8 L574.3,536.2 L572.4,540.0 L570.6,543.4 L569.3,545.8 L567.6,548.7 L565.2,552.5 L563.2,555.4 L561.2,557.8 L558.9,560.2 L555.6,562.5 L553.2,563.3 L548.9,562.6 L546.0,560.6 L543.7,557.8 L542.2,555.4 L540.9,553.0 L538.8,548.5 L537.7,545.8 L536.4,542.9 L534.6,538.6 L533.4,536.2 L531.6,532.7 L529.6,529.1 L528.1,526.7 L526.4,524.3 L524.4,521.7 L522.0,518.9 L519.6,516.4 L517.2,514.2 L514.8,512.1 L511.9,509.9 L508.4,507.5 L505.2,505.6 L502.8,504.2 L499.7,502.7 L495.6,500.9 L493.2,500.1 L488.4,499.0 L483.6,498.4 L478.8,499.2 L476.0,500.3 L471.6,502.0 L469.2,502.8 L464.4,504.8 L462.0,506.1 L459.6,507.7 L456.9,509.9 L454.4,512.3 L452.3,514.7 L450.0,517.9 L448.1,521.9 L447.3,524.3 L446.2,529.1 L445.7,533.8 L445.2,538.4 L444.9,541.0 L444.2,545.8 L443.5,550.6 L442.8,554.4 L442.1,557.8 L441.0,562.6 L440.3,565.0 L438.7,569.8 L437.7,572.2 L435.7,577.0 L434.6,579.4 L433.2,582.5 L431.5,586.5 L430.5,588.9 L428.4,593.0 L426.4,596.1 L424.5,598.5 L422.1,600.9 L418.8,602.8 L414.0,602.3 L411.6,600.5 L409.2,597.9 L406.8,594.7 L404.4,591.4 L402.5,588.9 L400.5,586.5 L398.2,584.1 L395.8,581.7 L393.3,579.4 L390.8,577.0 L388.3,574.6 L386.0,572.2 L383.9,569.8 L381.9,567.4 L380.0,565.0 L378.1,562.1 L375.7,558.1 L374.2,555.4 L372.9,553.0 L370.9,548.6 L369.7,545.8 L368.5,542.9 L366.8,538.6 L366.0,536.2 L364.3,531.5 L363.5,529.1 L361.8,524.3 L360.8,521.9 L358.9,518.3 L356.5,515.3 L354.1,513.4 L351.7,512.0 L346.9,510.4 L344.5,509.9 L339.7,509.0 L334.9,508.0 L332.1,507.5 L327.7,506.5 L323.2,505.1 L320.5,504.1 L317.2,502.7 L313.3,501.1 L310.9,500.2 L306.1,497.9 L303.7,496.6 L301.3,495.2 L297.9,493.1 L294.1,490.9 L291.7,489.5 L289.3,488.2 L285.2,485.9 L282.1,484.1 L279.7,482.7 L277.0,481.2 L273.2,478.8 L270.1,476.8 L267.7,475.3 L265.3,473.9 L261.0,471.6 L258.1,470.3 L254.6,469.2 L250.9,468.4 L246.1,468.0 L241.3,468.0 L236.5,468.2 L231.7,468.7 L228.2,469.2 L224.5,469.9 L219.7,471.2 L217.3,472.0 L212.5,473.8 L210.1,474.5 L205.3,474.2 L202.9,472.2 L201.4,469.2 L200.5,464.6 L200.4,462.0 L200.6,459.6 L201.7,454.8 L202.9,451.7 L205.2,447.6 L207.1,445.2 L209.3,442.8 L211.8,440.4 L214.4,438.0 L216.9,435.6 L219.3,433.2 L221.4,430.9 L223.2,428.5 L224.7,426.1 L226.9,421.7 L227.9,418.9 L229.0,414.1 L229.3,410.6 L229.3,407.4 L229.1,404.5 L228.3,399.7 L227.3,394.9 L226.7,392.5 L225.4,387.7 L224.5,384.6 L223.3,380.6 L222.1,376.7 L221.0,373.4 L219.7,369.8 L218.3,366.2 L217.3,363.6 L215.4,359.0 L214.4,356.6 L212.5,352.4 L211.2,349.4 L210.1,346.8 L208.4,342.2 L207.6,339.8 L206.6,335.0 L206.5,330.3 L207.1,325.5 L207.7,322.8 L208.9,318.3 L210.1,314.6 L211.1,311.1 L212.1,306.3 L212.4,301.5 L211.7,296.7 L210.1,292.1 L208.8,289.5 L207.4,287.1 L205.3,283.7 L202.9,280.0 L201.4,277.6 L199.8,275.2 L198.1,272.7 L195.7,269.5 L193.3,266.6 L190.9,263.8 L188.5,261.2 L186.1,258.7 L183.7,256.0 L181.6,253.6 L179.7,251.2 L177.9,248.8 L176.1,246.4 L174.1,243.4 L171.7,239.7 L169.9,236.8 L168.5,234.4 L166.9,231.8 L164.5,227.8 L162.8,224.9 L161.4,222.5 L159.7,219.6 L157.3,215.4 L155.9,212.9 L154.6,210.5 L152.5,206.3 L151.0,203.3 L149.9,200.9 L147.9,196.1 L147.0,193.7 L145.3,188.9 L144.6,186.5 L143.2,181.8 L142.5,179.4 L141.2,174.6 L140.4,172.2 L138.9,167.4 L138.0,165.0 L135.7,160.7 L133.3,158.6 L130.9,157.6 L128.5,157.2 M644.4,521.7 L641.5,519.5 L639.6,517.0 L637.2,513.0 L635.4,509.9 L633.9,507.5 L632.3,505.1 L630.0,502.2 L627.6,499.7 L625.2,497.7 L622.1,495.5 L618.0,493.3 L615.6,492.2 L611.8,490.7 L608.4,489.7 L603.6,488.5 L601.2,488.1 L596.4,487.9 L593.1,488.3 L589.2,489.7 L586.8,491.1 L584.3,493.1 L581.9,495.5 L579.6,498.3 L577.2,501.7 L575.1,505.1 L573.7,507.5 L572.3,509.9 L570.0,514.1 L568.3,517.1 L566.9,519.5 L565.2,522.2 L562.8,525.7 L560.4,528.7 L558.0,531.0 L555.6,532.4 L550.8,532.2 L548.4,530.7 L546.0,528.2 L543.6,525.0 L541.5,521.9 L540.0,519.5 L538.5,517.1 L536.4,513.7 L534.1,509.9 L532.5,507.5 L531.0,505.1 L529.2,502.3 L526.8,498.6 L524.7,495.5 L523.1,493.1 L521.3,490.7 L519.2,488.3 L516.8,485.9 L513.6,483.5 L510.0,481.8 L507.6,481.0 L502.8,480.1 L498.0,479.7 L493.2,479.6 L488.4,479.8 L483.6,480.3 L478.8,481.0 L476.4,481.4 L471.6,482.6 L469.1,483.5 L464.8,485.9 L462.0,487.7 L459.6,489.2 L457.2,490.7 L453.5,493.1 L450.2,495.5 L447.6,497.5 L445.2,499.5 L442.8,501.8 L440.4,504.6 L438.4,507.5 L436.9,509.9 L435.6,512.4 L433.6,517.1 L432.8,519.5 L431.4,524.3 L430.8,527.5 L430.3,531.5 L429.8,536.2 L429.3,541.0 L428.5,545.8 L428.0,548.2 L426.4,553.0 L425.4,555.4 L423.6,558.6 L421.2,561.8 L418.8,564.1 L416.4,565.8 L411.6,567.2 L406.8,566.5 L403.3,565.0 L399.6,562.6 L397.2,560.6 L394.8,558.1 L392.6,555.4 L390.9,553.0 L389.3,550.6 L387.6,547.8 L385.3,543.4 L384.2,541.0 L382.9,537.6 L381.6,533.8 L380.5,530.1 L379.6,526.7 L378.4,521.9 L377.8,519.5 L376.2,514.7 L375.1,512.3 L373.3,509.0 L370.9,506.1 L368.5,504.0 L366.1,502.4 L361.3,500.4 L358.9,499.8 L354.1,499.1 L349.3,498.9 L344.5,498.7 L339.7,498.4 L335.3,497.9 L332.5,497.5 L327.7,496.6 L323.4,495.5 L320.5,494.6 L317.1,493.1 L313.3,490.9 L310.9,489.2 L308.5,487.2 L306.1,485.2 L303.7,483.2 L301.3,481.0 L298.8,478.8 L296.1,476.4 L293.4,474.0 L290.6,471.6 L287.8,469.2 L285.1,466.8 L282.4,464.4 L279.9,462.0 L277.4,459.6 L275.0,457.2 L272.6,454.8 L270.2,452.4 L267.7,450.0 L265.3,447.7 L262.9,445.3 L260.5,442.8 L258.5,440.4 L257.0,438.0 L255.7,434.3 L255.1,430.9 L255.2,426.1 L255.7,422.1 L256.2,418.9 L257.2,414.1 L258.1,410.1 L258.8,406.9 L259.9,402.1 L260.5,399.5 L261.2,394.9 L261.7,390.1 L261.6,385.3 L260.9,380.6 L260.3,378.2 L258.7,373.4 L257.7,371.0 L255.7,366.9 L253.9,363.8 L252.5,361.4 L250.9,359.0 L248.5,355.6 L246.1,352.3 L243.9,349.4 L241.9,347.0 L239.8,344.6 L237.7,342.2 L235.7,339.8 L234.0,337.4 L231.7,332.7 L231.2,330.3 L231.3,325.5 L231.8,323.1 L233.3,318.3 L234.3,315.9 L236.5,311.2 L237.6,308.7 L238.9,305.8 L240.5,301.5 L241.3,298.4 L241.9,294.3 L242.0,289.5 L241.3,285.2 L240.4,282.4 L238.9,279.0 L236.5,275.2 L234.6,272.8 L232.3,270.4 L229.7,268.0 L226.9,265.7 L224.5,264.0 L222.1,262.4 L219.7,260.7 L216.0,258.4 L212.5,256.1 L210.1,254.6 L207.7,253.0 L205.0,251.2 L201.6,248.8 L198.5,246.4 L195.8,244.0 L193.3,241.7 L191.0,239.2 L188.9,236.8 L187.0,234.4 L185.2,232.1 L183.5,229.7 L181.3,226.5 L178.9,222.8 L177.1,220.1 L175.6,217.7 L174.1,215.3 L171.7,211.3 L169.8,208.1 L168.5,205.7 L166.9,202.8 L164.7,198.5 L163.6,196.1 L162.1,192.7 L160.6,188.9 L159.7,186.3 L158.3,181.8 L157.3,177.6 L156.6,174.6 L155.6,169.8 L154.9,165.4 L154.5,162.6 L153.9,157.8 L153.5,153.0 L152.7,148.2 L151.9,145.8 L150.1,142.4 L147.7,140.3 L142.9,140.0 L140.3,141.0 L136.7,143.4 L133.3,145.5 L130.9,146.4 L128.5,146.9 M644.4,502.8 L642.0,501.4 L639.6,499.0 L637.2,495.8 L635.1,493.1 L633.0,490.7 L630.3,488.3 L627.6,486.6 L625.2,485.3 L621.1,483.5 L618.0,482.4 L614.3,481.2 L610.8,480.1 L606.2,478.8 L603.6,478.0 L598.8,476.9 L595.5,476.4 L591.6,476.2 L589.1,476.4 L584.4,477.5 L581.4,478.8 L577.3,481.2 L574.8,482.9 L572.4,484.8 L570.0,486.9 L567.6,489.2 L565.2,491.7 L562.8,494.4 L560.4,497.0 L558.0,499.2 L555.6,500.7 L550.8,500.6 L548.4,498.8 L546.0,495.9 L544.4,493.1 L543.1,490.7 L541.2,486.5 L540.1,483.5 L538.8,480.2 L537.3,476.4 L536.1,474.0 L534.0,470.7 L531.6,468.1 L529.2,466.4 L524.4,464.5 L522.0,463.9 L517.2,463.3 L512.4,463.0 L507.6,462.9 L502.8,462.9 L498.0,462.9 L493.2,462.5 L490.5,462.0 L486.0,460.7 L483.1,459.6 L478.8,458.1 L474.0,457.3 L469.2,457.8 L464.9,459.6 L462.0,461.3 L459.6,462.6 L455.9,464.4 L452.4,465.8 L449.5,466.8 L445.2,468.0 L440.6,469.2 L438.0,470.0 L433.9,471.6 L430.8,473.0 L428.4,474.3 L425.2,476.4 L422.0,478.8 L419.1,481.2 L416.5,483.5 L414.2,485.9 L412.0,488.3 L409.9,490.7 L407.1,493.1 L404.4,494.2 L399.6,493.4 L397.2,492.6 L392.4,490.8 L390.0,490.0 L385.3,488.7 L382.9,488.2 L378.1,487.5 L373.3,487.3 L368.5,487.4 L363.7,487.6 L358.9,488.0 L355.8,488.3 L351.7,488.8 L346.9,489.3 L342.1,489.5 L337.3,489.1 L332.5,488.4 L330.1,488.0 L325.3,486.8 L322.9,485.9 L319.0,483.5 L316.0,481.2 L313.4,478.8 L311.0,476.4 L308.7,474.0 L306.5,471.6 L304.2,469.2 L301.9,466.8 L299.6,464.4 L297.3,462.0 L295.0,459.6 L292.7,457.2 L290.6,454.8 L288.6,452.4 L286.7,450.0 L284.5,446.9 L282.1,443.3 L280.5,440.4 L279.3,438.0 L277.7,433.2 L277.2,430.9 L276.9,426.1 L277.2,421.3 L277.7,418.9 L278.9,414.1 L279.8,411.7 L281.8,406.9 L283.0,404.5 L284.5,401.6 L286.8,397.3 L288.0,394.9 L289.3,392.3 L291.0,387.7 L291.7,385.3 L292.4,380.6 L292.5,375.8 L291.9,371.0 L291.4,368.6 L289.8,363.8 L288.6,361.4 L286.9,358.1 L284.8,354.2 L283.7,351.8 L282.1,348.1 L279.7,344.6 L277.3,342.7 L274.9,341.6 L270.1,340.3 L267.7,339.7 L262.9,338.1 L260.5,336.7 L258.1,335.0 L255.6,332.7 L254.7,327.9 L256.1,325.5 L258.1,322.9 L260.5,319.8 L262.9,316.1 L264.1,313.5 L265.3,310.0 L266.2,306.3 L266.8,301.5 L266.9,296.7 L266.7,291.9 L266.1,287.1 L265.3,283.3 L264.3,280.0 L262.9,275.8 L261.6,272.8 L260.4,270.4 L258.1,266.3 L256.0,263.2 L254.2,260.8 L252.0,258.4 L249.3,256.0 L246.1,253.8 L243.7,252.4 L241.2,251.2 L236.5,249.2 L234.1,248.2 L230.0,246.4 L226.9,245.1 L224.5,243.9 L220.2,241.6 L217.3,239.9 L214.9,238.3 L212.5,236.5 L210.0,234.4 L207.6,232.1 L205.3,229.6 L202.9,226.7 L200.5,223.6 L198.1,220.4 L196.1,217.7 L194.3,215.3 L192.4,212.9 L190.6,210.5 L188.5,207.8 L186.1,204.4 L183.7,200.9 L182.3,198.5 L180.9,196.1 L178.9,192.0 L177.6,188.9 L176.5,185.8 L175.4,181.8 L174.4,177.0 L174.0,174.6 L173.5,169.8 L172.9,165.0 L172.2,160.2 L171.7,157.4 L170.8,153.0 L169.8,148.2 L169.2,145.8 L168.2,141.0 L167.3,136.2 L166.8,133.9 L165.7,129.1 L164.5,125.4 L162.4,121.9 L159.7,120.0 L154.9,119.8 L150.1,121.2 L147.7,122.2 L143.8,124.3 L140.5,126.5 L138.1,128.5 L135.7,130.7 L133.3,132.8 L130.9,134.4 L128.5,135.3 M644.4,486.9 L642.0,485.9 L639.0,483.5 L636.1,481.2 L632.5,478.8 L630.0,477.5 L627.1,476.4 L622.8,475.0 L619.4,474.0 L615.6,472.9 L611.2,471.6 L608.4,470.8 L603.6,469.3 L601.2,468.5 L596.4,467.1 L594.0,466.4 L589.2,465.5 L584.4,465.1 L579.6,465.1 L574.8,465.5 L570.0,465.9 L565.2,465.7 L561.4,464.4 L558.6,462.0 L556.8,459.6 L555.4,457.2 L553.2,453.1 L551.9,450.0 L551.5,445.2 L551.3,440.4 L548.4,438.9 L543.6,440.4 L541.2,442.2 L538.8,443.7 L534.0,445.2 L531.6,445.6 L526.8,446.3 L522.0,447.1 L518.4,447.6 L514.8,448.0 L510.0,448.2 L505.2,448.2 L500.4,447.8 L498.0,447.3 L493.2,445.9 L490.8,444.9 L486.3,442.8 L483.6,441.6 L481.0,440.4 L476.4,439.2 L471.6,438.5 L466.8,438.3 L462.0,438.2 L457.2,438.2 L454.8,438.0 L450.0,437.7 L445.2,437.2 L440.4,436.8 L435.6,436.7 L430.8,437.0 L426.0,437.8 L423.6,438.4 L418.8,439.9 L416.4,440.6 L411.6,442.3 L409.2,443.1 L404.4,444.8 L402.0,445.7 L397.2,447.4 L394.8,448.3 L390.0,449.9 L387.6,450.8 L384.0,452.4 L380.5,454.5 L378.1,456.4 L375.7,458.9 L373.3,461.8 L371.3,464.4 L369.2,466.8 L366.8,469.2 L364.1,471.6 L361.3,473.7 L358.9,475.2 L356.5,476.5 L351.7,478.7 L349.3,479.6 L344.5,480.8 L339.7,481.0 L334.9,480.2 L330.4,478.8 L327.7,477.4 L325.3,475.8 L322.9,473.9 L320.4,471.6 L318.0,469.2 L315.7,466.7 L313.3,464.1 L310.9,461.4 L308.5,458.6 L306.1,455.6 L303.7,452.6 L301.9,450.0 L300.3,447.6 L298.9,445.2 L296.6,440.4 L295.8,438.0 L294.8,433.2 L294.7,428.5 L295.6,423.7 L296.5,421.2 L298.9,416.7 L300.8,414.1 L302.8,411.7 L305.2,409.3 L307.8,406.9 L310.4,404.5 L312.7,402.1 L314.8,399.7 L316.5,397.3 L318.1,394.6 L319.8,390.1 L320.5,387.1 L320.7,383.0 L320.5,379.7 L319.8,375.8 L319.0,371.0 L318.3,366.2 L317.9,363.8 L316.6,359.0 L315.4,356.6 L313.3,353.5 L310.9,350.3 L308.9,347.0 L307.7,344.6 L306.1,341.4 L303.8,337.4 L302.2,335.0 L300.6,332.7 L298.9,329.9 L296.7,325.5 L295.9,323.1 L294.6,318.3 L294.1,315.8 L293.1,311.1 L292.0,306.3 L291.5,303.9 L290.2,299.1 L289.3,295.9 L288.0,291.9 L286.9,288.9 L285.3,284.7 L284.3,282.4 L282.3,277.6 L281.3,275.2 L279.7,271.4 L278.2,268.0 L277.2,265.6 L275.2,260.8 L274.2,258.4 L272.5,254.6 L270.8,251.2 L269.5,248.8 L267.7,246.1 L265.3,243.3 L262.9,241.3 L259.6,239.2 L255.7,237.5 L253.3,236.7 L248.5,235.3 L245.3,234.4 L241.3,233.2 L238.4,232.1 L234.1,230.0 L231.7,228.6 L229.3,226.9 L226.7,224.9 L224.3,222.5 L222.1,220.0 L219.7,216.7 L217.3,213.0 L215.8,210.5 L214.5,208.1 L212.5,204.5 L210.4,200.9 L209.0,198.5 L207.5,196.1 L205.3,192.5 L203.1,188.9 L201.6,186.5 L200.2,184.2 L198.1,180.2 L196.6,177.0 L195.7,174.5 L194.3,169.8 L193.3,165.9 L192.5,162.6 L191.4,157.8 L190.8,155.4 L189.5,150.6 L188.5,147.5 L187.1,143.4 L186.1,140.5 L184.6,136.2 L183.7,133.3 L182.5,129.1 L181.3,124.3 L180.8,121.9 L179.9,117.1 L178.9,112.3 L178.3,109.9 L176.5,105.2 L174.5,102.7 L171.7,101.3 L166.9,101.0 L162.1,102.1 L159.7,103.0 L155.3,105.1 L152.5,106.7 L150.1,108.2 L147.3,109.9 L143.5,112.3 L140.5,114.5 L138.1,116.4 L135.7,118.5 L133.3,120.5 L130.9,122.1 L128.5,122.9 M193.1,62.0 L190.9,66.8 L189.0,69.2 L186.5,71.6 L183.9,74.0 L181.3,76.3 L178.9,78.4 L176.5,80.5 L174.1,82.4 L171.7,84.3 L169.3,86.0 L165.6,88.3 L162.1,90.4 L159.7,91.8 L157.3,93.2 L153.4,95.5 L150.1,97.6 L147.7,99.1 L145.3,100.6 L142.1,102.7 L138.9,105.1 L135.8,107.5 L133.3,109.4 L130.9,110.8 L128.5,111.5 M644.4,472.7 L639.6,471.6 L637.2,470.8 L632.4,469.3 L630.0,468.7 L625.2,467.6 L622.0,466.8 L618.0,465.8 L613.2,464.5 L610.8,463.8 L606.0,462.3 L603.6,461.4 L599.4,459.6 L596.4,458.1 L594.0,456.9 L589.9,454.8 L586.8,453.2 L584.4,451.8 L581.4,450.0 L577.5,447.6 L574.8,445.8 L572.4,443.0 L571.9,440.4 L572.4,436.3 L573.3,433.2 L574.3,428.5 L572.8,423.7 L570.4,421.3 L567.6,419.9 L562.8,419.3 L558.0,419.8 L553.2,420.9 L550.8,421.7 L546.0,423.2 L543.6,423.8 L538.8,424.4 L534.0,424.8 L529.2,425.3 L524.4,425.8 L522.0,426.2 L517.2,427.2 L512.4,428.4 L510.0,429.0 L505.2,429.9 L500.4,430.0 L495.6,428.5 L493.2,427.4 L488.4,427.6 L486.0,428.8 L481.2,430.1 L476.4,429.8 L472.4,428.5 L469.2,426.9 L466.8,425.7 L462.0,424.1 L459.6,423.7 L454.8,422.0 L452.4,420.8 L449.2,418.9 L445.2,416.6 L442.8,415.5 L439.1,414.1 L435.6,413.0 L430.8,411.8 L428.4,411.4 L423.6,410.8 L418.8,410.2 L414.0,409.5 L411.6,409.1 L406.8,408.0 L402.6,406.9 L399.6,406.3 L394.8,406.5 L392.4,407.2 L388.1,409.3 L385.3,410.7 L382.9,411.8 L378.5,414.1 L375.7,416.5 L373.5,418.9 L371.5,421.3 L369.5,423.7 L367.3,426.1 L365.1,428.5 L362.4,430.9 L358.9,433.2 L356.5,434.6 L354.1,437.6 L353.5,440.4 L353.4,445.2 L352.9,450.0 L351.7,454.8 L351.0,457.2 L349.3,461.6 L347.2,464.4 L344.5,466.1 L341.1,466.8 L339.3,466.8 L334.9,465.8 L331.8,464.4 L327.8,462.0 L325.3,459.9 L322.9,457.5 L320.8,454.8 L319.3,452.4 L318.0,450.0 L316.2,445.2 L315.6,442.8 L315.4,438.0 L315.8,435.6 L318.1,431.2 L320.5,428.6 L322.9,426.8 L325.3,425.3 L328.2,423.7 L332.5,421.6 L334.9,420.4 L337.9,418.9 L341.9,416.5 L344.5,414.7 L346.9,412.7 L349.3,410.5 L351.7,408.1 L354.1,405.7 L356.5,403.5 L358.9,401.3 L361.3,398.9 L363.7,395.6 L364.5,392.5 L363.7,388.3 L362.1,385.3 L360.2,383.0 L356.5,380.6 L354.1,379.7 L350.7,378.2 L347.0,375.8 L344.5,373.5 L342.3,371.0 L340.7,368.6 L339.3,366.2 L337.5,361.4 L336.8,359.0 L335.5,354.2 L334.6,351.8 L332.5,347.3 L331.0,344.6 L329.5,342.2 L327.7,339.2 L325.3,335.1 L323.9,332.7 L322.7,330.3 L320.5,325.5 L319.5,323.1 L318.1,319.0 L317.1,315.9 L315.7,311.1 L315.0,308.7 L313.7,303.9 L313.0,301.5 L311.5,296.7 L310.6,294.3 L308.5,289.6 L307.2,287.1 L305.8,284.7 L303.7,281.2 L301.4,277.6 L299.9,275.2 L298.4,272.8 L296.5,269.5 L294.3,265.6 L293.1,263.2 L291.7,260.1 L289.9,256.0 L288.9,253.6 L287.1,248.8 L286.1,246.4 L284.5,242.4 L282.9,239.2 L281.6,236.8 L279.7,234.1 L277.3,231.5 L274.9,229.4 L271.4,227.3 L267.7,225.4 L265.3,224.4 L260.5,222.5 L258.1,221.5 L254.9,220.1 L250.9,217.7 L248.5,215.8 L246.1,213.5 L243.7,210.5 L242.1,208.1 L240.6,205.7 L238.9,202.6 L236.5,198.5 L235.1,196.1 L233.7,193.7 L231.7,190.4 L229.3,186.5 L227.9,184.2 L226.4,181.8 L224.5,178.6 L222.1,174.6 L220.6,172.2 L219.3,169.8 L217.3,165.6 L216.0,162.6 L214.9,159.7 L213.5,155.4 L212.5,152.0 L211.4,148.2 L210.1,143.7 L209.2,141.0 L207.7,136.3 L206.8,133.9 L205.3,129.4 L204.4,126.7 L202.9,122.0 L202.2,119.5 L201.2,114.7 L200.7,109.9 L200.8,105.1 L201.5,100.3 L202.5,95.5 L203.2,93.1 L204.4,88.3 L205.3,85.1 L206.3,81.2 L207.6,76.4 L208.1,74.0 L208.4,69.2 L208.1,64.4 L208.0,62.0 M172.4,62.0 L171.7,64.9 L169.4,69.2 L167.6,71.6 L165.6,74.0 L163.3,76.4 L160.9,78.8 L158.2,81.2 L155.2,83.6 L152.5,85.6 L150.1,87.3 L147.7,89.0 L145.0,90.7 L141.5,93.1 L138.3,95.5 L135.7,97.5 L133.3,99.2 L130.9,100.5 L128.5,101.2 M644.4,460.2 L639.6,460.6 L634.8,460.8 L630.0,460.5 L625.2,459.7 L622.8,459.2 L618.0,458.0 L615.4,457.2 L610.8,455.5 L608.4,454.5 L604.9,452.4 L601.8,450.0 L599.3,447.6 L597.0,445.2 L594.9,442.8 L593.3,440.4 L591.6,436.8 L590.7,433.2 L590.0,428.5 L589.2,424.9 L588.2,421.3 L586.8,417.4 L585.3,414.1 L584.0,411.7 L582.0,409.2 L578.7,406.9 L574.8,405.9 L570.0,406.0 L565.3,406.9 L562.8,407.6 L558.0,409.3 L555.6,410.1 L551.3,411.7 L548.4,412.7 L543.7,414.1 L541.2,414.7 L536.4,415.8 L531.6,416.5 L529.2,416.7 L524.4,417.1 L519.6,417.4 L514.8,417.7 L510.0,418.1 L505.2,418.5 L500.4,418.3 L495.6,417.0 L493.2,416.4 L488.4,416.3 L486.0,417.1 L483.6,419.0 L481.2,421.4 L476.4,422.0 L474.0,419.8 L472.9,416.5 L472.1,411.7 L470.2,409.3 L467.0,406.9 L464.4,405.3 L462.0,403.9 L458.9,402.1 L454.8,400.2 L452.4,399.2 L447.6,397.6 L445.2,397.0 L440.4,395.9 L436.3,394.9 L433.2,394.3 L428.4,393.2 L425.7,392.5 L421.2,391.5 L416.4,390.2 L414.0,389.3 L411.0,387.7 L407.1,385.3 L404.4,384.0 L401.6,383.0 L397.2,382.1 L392.4,381.0 L390.0,379.8 L387.3,378.2 L383.1,375.8 L380.5,374.0 L378.1,371.9 L375.7,369.5 L373.3,367.3 L370.9,365.7 L366.6,363.8 L363.7,362.4 L361.3,360.7 L358.9,357.1 L357.7,354.2 L356.5,351.3 L354.2,347.0 L352.7,344.6 L351.2,342.2 L349.3,339.3 L346.9,335.6 L345.1,332.7 L343.7,330.3 L342.1,327.3 L339.9,323.1 L338.8,320.7 L337.3,317.2 L335.7,313.5 L334.7,311.1 L333.0,306.3 L332.2,303.9 L330.8,299.1 L330.0,296.7 L328.2,291.9 L326.9,289.5 L325.3,286.7 L322.9,283.2 L320.5,280.1 L318.4,277.6 L316.5,275.2 L314.7,272.8 L313.1,270.4 L310.9,267.0 L308.6,263.2 L307.3,260.8 L306.1,258.2 L304.0,253.6 L303.1,251.2 L301.3,246.4 L300.5,244.0 L299.0,239.2 L298.2,236.8 L296.5,232.1 L295.5,229.7 L294.1,226.7 L291.7,222.8 L289.4,220.1 L286.9,217.7 L284.5,215.9 L282.1,214.3 L279.5,212.9 L275.0,210.5 L272.5,209.1 L270.1,207.7 L267.3,205.7 L264.5,203.3 L262.2,200.9 L260.3,198.5 L258.1,195.5 L255.7,191.9 L253.7,188.9 L252.1,186.5 L250.4,184.2 L248.5,181.5 L246.1,178.3 L243.7,175.1 L241.5,172.2 L239.9,169.8 L238.3,167.4 L236.5,164.1 L234.5,160.2 L233.5,157.8 L231.8,153.0 L231.1,150.6 L229.8,145.8 L229.2,143.4 L228.1,138.6 L227.2,133.9 L226.8,131.5 L226.0,126.7 L225.3,121.9 L224.7,117.1 L224.5,114.0 L224.3,109.9 L224.5,105.1 L224.7,102.7 L225.3,97.9 L226.2,93.1 L226.9,90.2 L227.9,85.9 L229.1,81.2 L229.7,78.8 L230.6,74.0 L231.0,69.2 L231.0,64.4 L231.0,62.0 M157.2,62.0 L155.7,66.8 L154.3,69.2 L152.5,71.6 L150.1,74.4 L147.7,76.8 L145.3,79.0 L142.9,81.2 L140.1,83.6 L137.4,85.9 L134.5,88.3 L130.9,90.5 L128.5,91.2 M644.4,449.1 L639.6,450.0 L637.2,450.6 L632.4,451.4 L627.6,451.0 L623.7,450.0 L620.4,448.7 L618.0,447.6 L614.3,445.2 L611.6,442.8 L609.5,440.4 L607.8,438.0 L606.0,434.5 L604.7,430.9 L603.6,427.1 L602.8,423.7 L601.8,418.9 L601.2,415.3 L600.8,411.7 L600.6,406.9 L600.9,402.1 L601.2,398.3 L601.5,394.9 L601.7,390.1 L601.2,387.4 L598.8,385.2 L596.4,385.3 L591.6,387.2 L589.2,388.4 L584.9,390.1 L582.0,391.1 L577.9,392.5 L574.8,393.6 L571.0,394.9 L567.6,396.1 L564.6,397.3 L560.4,399.0 L558.0,400.0 L553.2,402.0 L550.8,403.0 L546.8,404.5 L543.6,405.6 L539.7,406.9 L536.4,407.8 L531.6,408.9 L529.2,409.3 L524.4,410.0 L519.6,410.4 L514.8,410.7 L510.0,410.9 L505.2,410.9 L500.4,410.9 L495.6,410.6 L490.8,410.1 L487.0,409.3 L483.6,407.9 L481.2,406.4 L478.0,404.5 L474.0,402.2 L471.6,400.6 L469.2,399.0 L466.3,397.3 L462.0,395.4 L459.6,394.4 L454.8,392.7 L452.4,391.8 L447.6,390.1 L445.2,389.3 L440.6,387.7 L438.0,386.8 L433.8,385.3 L430.8,384.3 L427.4,383.0 L423.6,381.5 L421.2,380.5 L416.4,378.5 L414.0,377.4 L410.7,375.8 L406.8,374.2 L404.4,373.3 L399.6,371.5 L397.2,370.4 L394.1,368.6 L390.7,366.2 L387.9,363.8 L385.4,361.4 L383.2,359.0 L381.2,356.6 L379.3,354.2 L377.5,351.8 L375.7,349.2 L373.3,345.8 L370.9,342.6 L368.8,339.8 L367.1,337.4 L365.4,335.0 L363.7,332.5 L361.3,328.9 L359.1,325.5 L357.7,323.1 L356.3,320.7 L354.1,316.3 L352.7,313.5 L351.5,311.1 L349.4,306.3 L348.3,303.9 L346.9,300.6 L345.4,296.7 L344.5,292.6 L343.9,289.5 L342.2,284.7 L340.4,282.4 L337.6,280.0 L334.9,277.8 L332.5,275.6 L330.1,273.0 L328.0,270.4 L326.3,268.0 L324.7,265.6 L322.9,262.5 L320.7,258.4 L319.5,256.0 L318.1,252.5 L316.7,248.8 L315.7,245.8 L314.4,241.6 L313.3,237.4 L312.5,234.4 L311.1,229.7 L310.4,227.3 L308.7,222.5 L307.7,220.1 L306.1,216.6 L304.0,212.9 L302.4,210.5 L300.7,208.1 L298.6,205.7 L296.2,203.3 L293.3,200.9 L290.1,198.5 L286.9,196.2 L284.5,194.4 L282.1,192.5 L279.7,190.3 L277.3,187.8 L274.9,185.2 L272.5,182.5 L270.1,179.8 L267.7,177.0 L265.5,174.6 L263.5,172.2 L261.4,169.8 L259.4,167.4 L257.5,165.0 L255.6,162.6 L253.3,159.3 L250.9,155.5 L249.5,153.0 L248.3,150.6 L246.4,145.8 L245.6,143.4 L244.3,138.6 L243.7,135.4 L243.1,131.5 L242.6,126.7 L242.3,121.9 L242.3,117.1 L242.6,112.3 L243.2,107.5 L243.7,104.8 L244.6,100.3 L245.9,95.5 L246.5,93.1 L247.9,88.3 L248.5,85.9 L249.7,81.2 L250.6,76.4 L250.9,73.8 L251.1,69.2 L251.1,64.4 L251.0,62.0 M142.5,62.0 L141.2,66.8 L139.9,69.2 L138.1,71.9 L135.7,75.1 L133.3,77.6 L130.9,79.4 L128.5,80.2 M644.4,438.1 L639.6,438.7 L634.8,439.4 L630.0,439.0 L627.5,438.0 L624.1,435.6 L621.8,433.2 L620.2,430.9 L618.0,426.1 L617.3,423.7 L616.3,418.9 L616.0,414.1 L616.4,409.3 L617.3,404.5 L618.0,402.1 L619.6,397.3 L620.5,394.9 L622.3,390.1 L623.1,387.7 L624.4,383.0 L625.2,378.2 L625.3,375.8 L625.2,373.1 L624.4,368.6 L622.8,364.6 L620.5,361.4 L618.0,359.5 L615.6,358.7 L610.8,358.9 L608.4,359.8 L605.4,361.4 L601.6,363.8 L598.8,365.5 L596.4,366.8 L592.7,368.6 L589.2,370.5 L586.8,372.1 L584.4,374.0 L582.0,376.1 L579.6,378.2 L576.7,380.6 L573.2,383.0 L570.0,384.8 L567.6,386.1 L564.2,387.7 L560.4,389.6 L558.0,390.7 L554.0,392.5 L550.8,393.9 L548.4,395.0 L543.6,396.9 L541.2,397.8 L536.4,399.4 L534.0,400.1 L529.2,401.3 L525.1,402.1 L522.0,402.6 L517.2,403.0 L512.4,403.3 L507.6,403.2 L502.8,403.1 L498.0,402.9 L493.2,402.8 L489.1,402.1 L486.0,401.1 L482.7,399.7 L478.8,397.6 L476.4,395.9 L474.0,394.2 L471.5,392.5 L466.8,390.1 L464.4,389.1 L460.7,387.7 L457.2,386.4 L454.6,385.3 L450.0,383.5 L447.6,382.5 L443.0,380.6 L440.4,379.5 L437.4,378.2 L433.2,376.3 L430.8,375.2 L426.9,373.4 L423.6,371.8 L421.2,370.5 L417.8,368.6 L414.0,366.3 L411.6,364.8 L409.2,363.4 L406.2,361.4 L403.4,359.0 L401.1,356.6 L399.1,354.2 L397.2,351.8 L394.8,349.1 L392.4,346.3 L390.0,343.6 L387.6,340.9 L385.3,338.2 L382.9,335.4 L380.6,332.7 L378.8,330.3 L377.2,327.9 L375.6,325.5 L373.3,321.6 L371.4,318.3 L370.1,315.9 L368.5,312.3 L366.5,308.7 L364.7,306.3 L362.8,303.9 L361.1,301.5 L358.9,297.9 L356.9,294.3 L355.6,291.9 L354.1,289.1 L351.9,284.7 L350.6,282.4 L349.2,280.0 L346.9,276.5 L344.5,273.5 L342.1,270.6 L340.1,268.0 L338.5,265.6 L337.0,263.2 L334.9,259.4 L333.2,256.0 L332.1,253.6 L330.2,248.8 L329.4,246.4 L328.0,241.6 L327.4,239.2 L326.2,234.4 L325.3,230.7 L324.4,227.3 L323.0,222.5 L322.2,220.1 L320.5,215.5 L319.4,212.9 L318.1,210.0 L316.0,205.7 L314.7,203.3 L313.3,200.8 L310.9,197.1 L308.5,193.8 L306.5,191.3 L304.4,188.9 L302.1,186.5 L299.8,184.2 L297.3,181.8 L294.8,179.4 L292.3,177.0 L289.6,174.6 L287.0,172.2 L284.5,170.0 L282.1,167.8 L279.7,165.6 L277.3,163.3 L274.9,160.9 L272.5,158.2 L270.3,155.4 L268.5,153.0 L266.9,150.6 L265.3,147.8 L263.1,143.4 L262.1,141.0 L260.6,136.2 L260.1,133.9 L259.4,129.1 L259.1,124.3 L259.3,119.5 L259.9,114.7 L260.5,111.8 L261.6,107.5 L262.9,103.3 L263.9,100.3 L265.3,96.8 L266.7,93.1 L267.7,90.6 L269.3,85.9 L270.1,83.1 L271.0,78.8 L271.7,74.0 L271.9,69.2 L271.8,64.4 L271.7,62.0 M644.4,424.8 L639.6,423.9 L637.2,422.6 L634.8,420.0 L633.2,416.5 L632.5,411.7 L632.7,406.9 L633.5,402.1 L634.6,397.3 L635.2,394.9 L636.4,390.1 L637.2,386.7 L638.0,383.0 L638.8,378.2 L639.1,373.4 L639.0,368.6 L638.4,363.8 L637.6,359.0 L637.1,356.6 L635.9,351.8 L634.8,348.1 L633.5,344.6 L632.3,342.2 L630.0,339.5 L625.2,338.4 L620.4,339.4 L618.0,340.3 L613.7,342.2 L610.8,343.8 L608.4,345.3 L606.0,347.0 L602.9,349.4 L600.0,351.8 L596.9,354.2 L594.0,356.1 L591.6,357.4 L588.8,359.0 L585.3,361.4 L582.4,363.8 L579.7,366.2 L577.2,368.3 L574.8,370.3 L572.4,372.2 L570.0,374.1 L567.6,375.8 L563.6,378.2 L560.4,379.7 L558.0,380.9 L553.7,383.0 L550.8,384.3 L548.4,385.4 L543.6,387.5 L541.2,388.5 L536.7,390.1 L534.0,391.0 L529.2,392.4 L526.8,392.9 L522.0,393.8 L517.2,394.3 L512.4,394.5 L507.6,394.3 L502.8,393.8 L498.0,393.1 L494.8,392.5 L490.8,391.6 L486.2,390.1 L483.6,389.1 L480.9,387.7 L476.4,385.7 L474.0,384.7 L469.8,383.0 L466.8,381.8 L463.5,380.6 L459.6,379.1 L457.2,378.1 L452.4,376.1 L450.0,375.1 L446.4,373.4 L442.8,371.6 L440.4,370.3 L437.2,368.6 L433.2,366.3 L430.8,364.8 L428.4,363.2 L426.0,361.4 L423.3,359.0 L420.9,356.6 L418.5,354.2 L416.1,351.8 L413.8,349.4 L411.6,347.0 L409.2,344.4 L406.8,342.0 L404.3,339.8 L401.5,337.4 L398.9,335.0 L396.6,332.7 L394.6,330.3 L392.4,327.5 L390.0,324.1 L387.9,320.7 L386.5,318.3 L385.2,315.9 L382.9,311.5 L381.5,308.7 L380.3,306.3 L378.1,302.1 L375.7,299.3 L373.3,297.3 L370.9,295.3 L368.5,292.7 L366.4,289.5 L365.0,287.1 L363.6,284.7 L361.3,281.3 L358.9,278.1 L356.8,275.2 L355.1,272.8 L353.6,270.4 L351.7,267.2 L349.4,263.2 L348.2,260.8 L346.9,258.0 L344.9,253.6 L344.0,251.2 L342.3,246.4 L341.6,244.0 L340.3,239.2 L339.7,236.8 L338.6,232.1 L337.4,227.3 L336.8,224.9 L335.5,220.1 L334.8,217.7 L333.3,212.9 L332.4,210.5 L330.7,205.7 L329.8,203.3 L327.8,198.5 L326.8,196.1 L325.3,192.4 L323.7,188.9 L322.5,186.5 L320.5,182.4 L318.8,179.4 L317.4,177.0 L315.7,174.3 L313.3,171.2 L310.9,168.5 L308.5,166.4 L306.1,164.5 L303.3,162.6 L299.5,160.2 L296.5,158.3 L294.1,156.8 L291.7,155.1 L289.1,153.0 L286.5,150.6 L284.2,148.2 L282.1,145.4 L279.7,141.5 L278.3,138.6 L277.3,135.8 L276.2,131.5 L275.7,126.7 L275.8,121.9 L276.6,117.1 L277.3,114.6 L278.8,109.9 L279.8,107.5 L281.9,102.7 L283.0,100.3 L284.5,97.0 L286.1,93.1 L287.1,90.7 L288.8,85.9 L289.5,83.6 L290.9,78.8 L291.7,74.9 L292.2,71.6 L292.6,66.8 L292.7,62.0 M644.4,149.0 L641.2,150.6 L638.9,153.0 L637.2,155.6 L635.3,160.2 L634.5,162.6 L633.7,167.4 L633.3,172.2 L633.5,177.0 L633.9,181.8 L634.5,186.5 L634.8,188.9 L635.5,193.7 L636.2,198.5 L636.8,203.3 L637.2,207.1 L637.6,210.5 L637.9,215.3 L638.1,220.1 L638.2,224.9 L638.2,229.7 L638.1,234.4 L637.8,239.2 L637.6,244.0 L637.2,248.8 L637.1,251.2 L636.8,256.0 L636.4,260.8 L636.1,265.6 L635.7,270.4 L635.4,275.2 L635.0,280.0 L634.7,282.4 L634.1,287.1 L633.2,291.9 L632.4,294.7 L630.8,299.1 L629.7,301.5 L627.6,305.7 L626.0,308.7 L624.7,311.1 L622.8,314.3 L620.4,318.1 L618.6,320.7 L616.7,323.1 L614.5,325.5 L612.1,327.9 L609.5,330.3 L606.8,332.7 L604.0,335.0 L601.3,337.4 L598.8,339.7 L596.4,341.8 L594.0,343.9 L591.6,345.9 L589.2,347.8 L586.8,349.7 L584.1,351.8 L581.4,354.2 L578.9,356.6 L576.3,359.0 L573.4,361.4 L570.0,363.8 L567.6,365.4 L565.2,367.1 L562.8,368.7 L558.3,371.0 L555.6,372.2 L552.8,373.4 L548.4,375.2 L546.0,376.3 L541.6,378.2 L538.8,379.3 L535.5,380.6 L531.6,381.9 L527.7,383.0 L524.4,383.7 L519.6,384.4 L514.8,384.7 L510.0,384.6 L505.2,384.2 L500.4,383.4 L498.0,382.9 L493.2,381.6 L489.7,380.6 L486.0,379.4 L482.1,378.2 L478.8,377.1 L475.2,375.8 L471.6,374.5 L468.4,373.4 L464.4,371.9 L461.9,371.0 L457.2,369.0 L454.8,367.9 L451.5,366.2 L447.6,364.0 L445.2,362.4 L442.8,360.8 L440.4,359.0 L437.4,356.6 L434.7,354.2 L432.3,351.8 L430.0,349.4 L427.8,347.0 L425.3,344.6 L422.5,342.2 L419.4,339.8 L416.5,337.4 L414.0,335.1 L411.6,332.7 L409.2,330.3 L407.0,327.9 L405.0,325.5 L403.3,323.1 L401.8,320.7 L399.6,317.1 L397.5,313.5 L395.9,311.1 L394.2,308.7 L392.4,306.3 L390.0,303.2 L387.6,299.7 L385.8,296.7 L384.1,294.3 L382.1,291.9 L379.7,289.5 L377.2,287.1 L375.0,284.7 L373.2,282.4 L370.9,279.0 L368.5,275.5 L366.7,272.8 L365.2,270.4 L363.7,267.8 L361.3,263.3 L360.0,260.8 L358.9,258.2 L357.0,253.6 L356.2,251.2 L354.7,246.4 L354.0,244.0 L352.7,239.2 L351.7,234.6 L351.1,232.1 L350.0,227.3 L349.3,224.1 L348.3,220.1 L347.0,215.3 L346.3,212.9 L345.0,208.1 L344.3,205.7 L342.9,200.9 L342.1,198.1 L340.8,193.7 L339.7,189.2 L339.0,186.5 L337.9,181.8 L337.3,179.1 L336.2,174.6 L335.2,169.8 L334.7,167.4 L333.4,162.6 L332.5,159.9 L330.1,155.4 L327.8,153.0 L325.3,151.3 L322.9,150.1 L318.1,148.4 L315.7,147.7 L310.9,146.1 L308.5,145.3 L304.5,143.4 L301.3,141.3 L298.9,139.1 L296.6,136.2 L295.3,133.9 L294.1,130.1 L293.5,126.7 L293.6,121.9 L294.1,118.8 L295.1,114.7 L296.5,110.5 L297.5,107.5 L298.9,103.9 L300.2,100.3 L301.3,97.4 L302.9,93.1 L303.8,90.7 L305.5,85.9 L306.4,83.6 L308.0,78.8 L308.8,76.4 L310.1,71.6 L310.9,67.5 L311.2,64.4 L311.4,62.0 M644.4,131.6 L639.6,133.6 L637.2,135.5 L634.8,137.7 L632.4,139.9 L630.0,142.3 L627.6,144.9 L625.2,147.9 L623.5,150.6 L622.3,153.0 L620.7,157.8 L620.2,160.2 L619.7,165.0 L619.7,169.8 L620.0,174.6 L620.4,177.5 L621.1,181.8 L621.9,186.5 L622.8,191.3 L623.2,193.7 L624.1,198.5 L624.8,203.3 L625.2,206.8 L625.6,210.5 L625.9,215.3 L626.1,220.1 L626.1,224.9 L626.0,229.7 L625.8,234.4 L625.5,239.2 L625.2,243.9 L625.0,246.4 L624.6,251.2 L624.2,256.0 L623.8,260.8 L623.4,265.6 L622.8,270.4 L622.5,272.8 L621.8,277.6 L620.9,282.4 L620.4,284.7 L619.1,289.5 L618.0,293.2 L616.8,296.7 L615.6,299.9 L613.9,303.9 L612.8,306.3 L610.8,310.2 L608.8,313.5 L607.2,315.9 L605.4,318.3 L603.4,320.7 L601.2,323.2 L598.8,325.7 L596.4,328.2 L594.0,330.5 L591.6,332.8 L589.2,335.0 L586.5,337.4 L583.8,339.8 L581.0,342.2 L578.3,344.6 L575.5,347.0 L572.6,349.4 L570.0,351.6 L567.6,353.6 L565.2,355.6 L562.8,357.7 L560.4,359.7 L558.0,361.4 L553.2,363.7 L550.8,364.5 L546.0,365.9 L543.6,366.5 L538.8,368.1 L536.4,369.0 L531.6,370.9 L529.2,371.7 L524.4,373.0 L522.0,373.5 L517.2,374.1 L512.4,374.3 L507.6,374.2 L502.8,373.7 L500.4,373.3 L495.6,372.5 L490.8,371.6 L488.4,371.0 L483.6,369.3 L481.2,368.3 L476.4,366.3 L474.0,365.4 L469.6,363.8 L466.8,362.7 L463.8,361.4 L459.6,359.4 L457.2,358.1 L454.7,356.6 L451.2,354.2 L448.2,351.8 L445.6,349.4 L443.2,347.0 L441.0,344.6 L438.9,342.2 L436.9,339.8 L434.8,337.4 L431.5,335.0 L428.4,333.8 L425.9,332.7 L422.2,330.3 L420.1,327.9 L418.5,325.5 L416.4,322.0 L414.0,318.7 L412.0,315.9 L410.3,313.5 L408.6,311.1 L406.7,308.7 L404.4,305.9 L402.0,303.2 L399.6,300.6 L397.2,298.1 L394.8,295.5 L392.4,292.6 L390.1,289.5 L388.2,287.1 L386.3,284.7 L384.4,282.4 L382.5,280.0 L380.5,277.1 L378.1,273.5 L376.1,270.4 L374.7,268.0 L373.3,265.1 L371.3,260.8 L370.3,258.4 L368.5,253.6 L367.8,251.2 L366.4,246.4 L365.8,244.0 L364.6,239.2 L363.7,234.8 L363.1,232.1 L362.0,227.3 L361.3,223.7 L360.4,220.1 L359.3,215.3 L358.7,212.9 L357.6,208.1 L356.5,203.5 L355.8,200.9 L354.8,196.1 L354.1,192.8 L353.3,188.9 L352.5,184.2 L351.7,179.4 L351.4,177.0 L350.8,172.2 L350.4,167.4 L350.0,162.6 L349.8,157.8 L349.5,153.0 L349.2,150.6 L348.3,145.8 L346.9,142.3 L344.5,139.0 L342.1,137.1 L339.7,135.8 L334.9,134.1 L332.5,133.5 L327.7,132.4 L323.9,131.5 L320.5,130.2 L318.1,128.9 L315.3,126.7 L313.3,123.6 L312.0,119.5 L311.8,114.7 L312.5,109.9 L313.3,106.3 L314.3,102.7 L315.7,98.6 L316.8,95.5 L318.1,92.6 L320.0,88.3 L321.1,85.9 L322.9,82.0 L324.3,78.8 L325.4,76.4 L327.3,71.6 L328.1,69.2 L329.2,64.4 L329.5,62.0 M644.4,115.9 L641.0,117.1 L637.2,119.4 L634.8,121.2 L632.4,122.9 L630.0,124.5 L626.7,126.7 L623.0,129.1 L620.4,130.9 L618.0,132.8 L615.6,134.7 L613.2,136.8 L610.8,139.2 L608.4,142.2 L606.4,145.8 L605.6,148.2 L604.8,153.0 L604.8,157.8 L605.1,162.6 L605.7,167.4 L606.0,169.8 L606.8,174.6 L607.7,179.4 L608.4,182.6 L609.2,186.5 L610.2,191.3 L610.8,194.7 L611.5,198.5 L612.1,203.3 L612.6,208.1 L613.0,212.9 L613.2,217.7 L613.2,222.5 L613.0,227.3 L612.8,232.1 L612.5,236.8 L612.2,241.6 L611.8,246.4 L611.4,251.2 L611.0,256.0 L610.8,258.4 L610.4,263.2 L609.9,268.0 L609.3,272.8 L608.6,277.6 L608.1,280.0 L607.1,284.7 L606.0,289.0 L605.2,291.9 L603.6,296.5 L602.6,299.1 L601.2,302.4 L599.3,306.3 L597.9,308.7 L596.4,311.2 L594.0,314.7 L591.6,317.8 L589.2,320.6 L587.0,323.1 L584.7,325.5 L582.3,327.9 L579.8,330.3 L577.2,332.6 L574.8,334.6 L572.4,336.5 L570.0,338.4 L567.6,340.2 L565.0,342.2 L562.0,344.6 L559.2,347.0 L556.2,349.4 L553.2,351.3 L550.8,352.3 L546.0,354.1 L543.6,354.9 L538.8,356.5 L536.4,357.2 L531.6,358.5 L529.2,359.2 L524.4,360.3 L519.6,361.0 L515.9,361.4 L512.4,361.7 L507.6,361.7 L503.6,361.4 L500.4,361.1 L495.6,360.5 L490.8,359.4 L488.4,358.6 L483.6,357.1 L481.2,356.5 L476.4,355.1 L473.8,354.2 L469.2,352.3 L466.8,351.2 L463.7,349.4 L460.3,347.0 L457.7,344.6 L455.9,342.2 L454.5,339.8 L452.4,335.6 L450.5,332.7 L448.4,330.3 L446.0,327.9 L442.8,325.7 L440.4,325.0 L435.6,325.3 L433.2,325.7 L430.4,325.5 L427.3,323.1 L426.0,319.1 L425.5,315.9 L423.6,312.9 L421.2,311.0 L418.4,308.7 L415.9,306.3 L413.6,303.9 L411.4,301.5 L409.2,299.1 L406.8,296.6 L404.4,294.0 L402.0,291.3 L399.6,288.6 L397.2,285.8 L394.8,282.7 L392.8,280.0 L391.2,277.6 L389.7,275.2 L387.6,271.8 L385.6,268.0 L384.4,265.6 L382.9,262.1 L381.4,258.4 L380.5,255.7 L379.1,251.2 L378.1,247.3 L377.3,244.0 L376.2,239.2 L375.7,236.6 L374.7,232.1 L373.7,227.3 L373.2,224.9 L372.2,220.1 L371.2,215.3 L370.7,212.9 L369.7,208.1 L368.7,203.3 L368.2,200.9 L367.3,196.1 L366.5,191.3 L366.1,188.4 L365.5,184.2 L364.9,179.4 L364.5,174.6 L364.2,169.8 L364.1,165.0 L364.0,160.2 L364.1,155.4 L364.2,150.6 L364.3,145.8 L364.2,141.0 L363.8,136.2 L363.5,133.9 L362.0,129.1 L360.6,126.7 L358.6,124.3 L355.3,121.9 L351.7,120.3 L348.6,119.5 L344.5,118.7 L339.7,117.5 L337.3,116.6 L334.1,114.7 L332.0,112.3 L330.5,107.5 L330.7,102.7 L332.0,97.9 L333.0,95.5 L334.9,91.5 L336.5,88.3 L337.7,85.9 L339.7,82.2 L341.4,78.8 L342.5,76.4 L344.5,72.0 L345.6,69.2 L346.9,64.4 L347.1,62.0 M644.4,96.4 L641.9,97.9 L639.5,100.3 L637.2,102.8 L634.8,105.2 L632.0,107.5 L628.1,109.9 L625.2,111.4 L622.8,112.6 L618.5,114.7 L615.6,116.1 L613.2,117.2 L608.4,119.4 L606.0,120.5 L602.8,121.9 L598.8,123.8 L596.4,125.1 L594.0,126.7 L591.4,129.1 L589.2,132.2 L587.7,136.2 L587.1,141.0 L587.2,145.8 L587.9,150.6 L588.9,155.4 L589.5,157.8 L590.7,162.6 L591.6,166.2 L592.5,169.8 L593.7,174.6 L594.3,177.0 L595.5,181.8 L596.4,185.6 L597.2,188.9 L598.2,193.7 L598.8,197.4 L599.3,200.9 L599.9,205.7 L600.3,210.5 L600.4,215.3 L600.4,220.1 L600.2,224.9 L600.0,229.7 L599.6,234.4 L599.2,239.2 L598.8,244.0 L598.6,246.4 L598.2,251.2 L597.8,256.0 L597.3,260.8 L596.9,265.6 L596.4,269.9 L596.0,272.8 L595.3,277.6 L594.4,282.4 L593.9,284.7 L592.7,289.5 L591.6,293.1 L590.3,296.7 L589.2,299.5 L587.1,303.9 L585.8,306.3 L584.4,308.7 L582.0,312.3 L579.6,315.4 L577.2,318.2 L574.9,320.7 L572.5,323.1 L570.0,325.3 L567.6,327.3 L565.2,329.2 L562.8,331.0 L560.4,332.7 L556.7,335.0 L553.2,337.1 L550.8,338.3 L547.6,339.8 L543.6,341.7 L541.2,342.6 L536.4,344.1 L532.8,344.6 L529.2,344.8 L524.4,345.0 L519.6,345.3 L514.8,345.9 L510.0,346.2 L505.2,345.0 L502.8,344.4 L499.7,344.6 L497.0,347.0 L493.8,349.4 L490.8,349.8 L486.0,349.4 L483.6,348.8 L479.8,347.0 L476.7,344.6 L474.3,342.2 L472.6,339.8 L471.5,337.4 L469.6,332.7 L468.1,330.3 L465.8,327.9 L462.0,325.5 L459.6,324.6 L455.1,323.1 L452.4,322.2 L448.6,320.7 L445.2,319.6 L440.4,318.3 L438.0,317.5 L435.6,315.8 L433.2,311.9 L431.3,308.7 L428.9,306.3 L426.0,304.2 L423.6,302.5 L421.2,300.5 L418.8,298.2 L416.4,295.8 L414.0,293.2 L411.6,290.6 L409.2,287.7 L406.9,284.7 L405.0,282.4 L403.3,280.0 L401.7,277.6 L399.6,274.3 L397.4,270.4 L396.2,268.0 L394.8,264.9 L393.2,260.8 L392.4,258.4 L391.0,253.6 L390.0,249.9 L389.3,246.4 L388.3,241.6 L387.6,238.5 L386.9,234.4 L385.9,229.7 L385.3,226.3 L384.5,222.5 L383.5,217.7 L382.9,214.4 L382.1,210.5 L381.2,205.7 L380.5,201.1 L380.0,198.5 L379.4,193.7 L378.8,188.9 L378.4,184.2 L378.2,179.4 L378.1,175.9 L378.0,172.2 L378.0,167.4 L378.1,165.0 L378.3,160.2 L378.6,155.4 L378.9,150.6 L379.3,145.8 L379.7,141.0 L380.1,136.2 L380.2,131.5 L379.8,126.7 L378.5,121.9 L377.4,119.5 L375.7,116.7 L373.3,113.8 L370.9,111.2 L368.5,108.9 L366.1,106.7 L363.7,104.5 L361.3,102.1 L358.9,99.0 L357.3,95.5 L356.8,90.7 L357.5,85.9 L358.9,81.3 L359.8,78.8 L361.3,75.2 L362.9,71.6 L363.9,69.2 L365.5,64.4 L365.9,62.0 M527.6,62.0 L528.6,66.8 L529.4,69.2 L531.0,74.0 L531.7,76.4 L533.4,81.2 L534.6,83.6 L536.4,86.6 L538.8,89.9 L541.2,92.6 L543.6,95.1 L546.0,97.5 L548.4,99.7 L550.8,102.1 L553.2,104.6 L555.6,107.4 L557.4,109.9 L558.8,112.3 L560.4,115.8 L561.9,119.5 L562.8,122.0 L564.6,126.7 L565.5,129.1 L567.4,133.9 L568.2,136.2 L569.9,141.0 L570.7,143.4 L572.3,148.2 L573.0,150.6 L574.6,155.4 L575.4,157.8 L577.0,162.6 L577.8,165.0 L579.3,169.8 L580.1,172.2 L581.5,177.0 L582.2,179.4 L583.6,184.2 L584.4,187.4 L585.3,191.3 L586.3,196.1 L586.8,199.5 L587.3,203.3 L587.7,208.1 L587.8,212.9 L587.7,217.7 L587.5,222.5 L587.2,227.3 L586.8,231.3 L586.5,234.4 L586.1,239.2 L585.6,244.0 L585.2,248.8 L584.8,253.6 L584.4,257.9 L584.2,260.8 L583.7,265.6 L583.2,270.4 L582.6,275.2 L582.0,279.0 L581.4,282.4 L580.3,287.1 L579.6,289.7 L578.1,294.3 L577.2,296.7 L575.0,301.5 L573.7,303.9 L572.2,306.3 L570.0,309.4 L567.6,312.3 L565.2,314.9 L562.8,317.2 L560.4,319.3 L558.0,321.2 L555.5,323.1 L551.9,325.5 L548.4,327.6 L546.0,329.0 L543.6,330.3 L538.8,332.4 L536.4,333.2 L531.6,334.3 L527.8,335.0 L524.4,335.7 L519.6,336.2 L514.8,336.1 L510.0,336.3 L505.2,337.4 L502.8,337.8 L498.0,337.8 L495.6,337.0 L493.2,333.4 L492.1,330.3 L490.8,327.8 L487.8,325.5 L483.6,324.7 L478.8,324.7 L474.0,323.2 L471.6,322.0 L469.0,320.7 L464.4,319.0 L462.0,318.3 L457.2,316.9 L453.7,315.9 L450.0,314.9 L445.2,314.0 L442.8,313.3 L439.7,311.1 L438.0,308.7 L435.6,304.4 L433.3,301.5 L430.8,299.2 L428.4,296.9 L426.0,294.5 L423.6,292.0 L421.3,289.5 L419.2,287.1 L417.2,284.7 L415.3,282.4 L413.6,280.0 L411.6,276.9 L409.2,272.8 L408.0,270.4 L406.8,268.0 L405.0,263.2 L404.1,260.8 L402.8,256.0 L402.0,252.9 L401.2,248.8 L400.3,244.0 L399.6,240.4 L399.0,236.8 L398.1,232.1 L397.2,227.5 L396.7,224.9 L395.8,220.1 L394.9,215.3 L394.5,212.9 L393.7,208.1 L393.1,203.3 L392.5,198.5 L392.3,196.1 L392.1,191.3 L392.0,186.5 L392.0,181.8 L392.3,177.0 L392.5,174.6 L393.0,169.8 L393.6,165.0 L394.4,160.2 L394.9,157.8 L395.9,153.0 L397.0,148.2 L397.7,145.8 L399.1,141.0 L399.8,138.6 L401.3,133.9 L402.1,131.5 L403.9,126.7 L404.8,124.3 L406.8,119.6 L408.0,117.1 L409.2,114.6 L411.2,109.9 L411.8,107.5 L411.6,103.0 L410.3,100.3 L407.9,97.9 L404.4,95.6 L402.0,94.3 L399.6,93.1 L394.9,90.7 L392.4,89.2 L390.0,87.2 L388.2,83.6 L388.7,78.8 L390.0,75.0 L391.6,71.6 L392.8,69.2 L394.6,64.4 L395.0,62.0 M636.1,62.0 L635.8,66.8 L635.3,71.6 L634.8,75.0 L634.0,78.8 L632.7,83.6 L631.6,85.9 L630.0,88.7 L627.6,91.5 L625.2,93.5 L621.7,95.5 L618.0,97.1 L615.2,97.9 L610.8,98.6 L606.0,98.6 L602.4,97.9 L598.8,96.8 L596.2,95.5 L592.6,93.1 L590.1,90.7 L588.1,88.3 L586.6,85.9 L584.4,81.5 L583.3,78.8 L582.0,74.7 L581.2,71.6 L580.5,66.8 L580.2,62.0 M500.4,332.9 L498.0,331.8 L495.9,327.9 L494.9,325.5 L493.2,323.0 L490.1,320.7 L486.0,319.1 L481.2,318.3 L478.8,317.7 L474.0,316.2 L471.6,315.3 L466.8,313.8 L464.4,313.1 L459.6,311.6 L457.2,310.7 L452.4,308.9 L450.0,307.9 L446.9,306.3 L444.4,303.9 L442.7,301.5 L440.4,298.5 L438.0,295.8 L435.6,293.3 L433.2,290.7 L430.8,288.0 L428.4,285.2 L426.1,282.4 L424.3,280.0 L422.6,277.6 L421.1,275.2 L418.8,271.1 L417.4,268.0 L416.4,265.4 L415.0,260.8 L414.0,256.7 L413.4,253.6 L412.7,248.8 L412.0,244.0 L411.6,241.6 L410.9,236.8 L410.0,232.1 L409.2,228.1 L408.6,224.9 L407.7,220.1 L406.8,215.3 L406.5,212.9 L405.8,208.1 L405.4,203.3 L405.1,198.5 L405.1,193.7 L405.3,188.9 L405.9,184.2 L406.8,179.4 L407.3,177.0 L408.7,172.2 L409.5,169.8 L411.4,165.0 L412.4,162.6 L414.0,159.0 L415.8,155.4 L417.1,153.0 L418.8,149.7 L421.1,145.8 L422.6,143.4 L424.2,141.0 L426.0,138.3 L428.4,135.1 L430.8,132.0 L433.2,129.2 L435.6,126.7 L437.9,124.3 L440.3,121.9 L442.6,119.5 L445.0,117.1 L447.2,114.7 L449.4,112.3 L451.5,109.9 L453.5,107.5 L455.6,105.1 L457.6,102.7 L459.7,100.3 L462.1,97.9 L464.8,95.5 L468.4,93.1 L471.6,91.6 L475.4,90.7 L478.8,90.5 L482.1,90.7 L486.0,91.5 L490.8,92.9 L493.2,93.7 L497.7,95.5 L500.4,96.8 L502.8,98.0 L506.8,100.3 L510.0,102.2 L512.4,103.7 L514.8,105.1 L518.9,107.5 L522.0,109.3 L524.4,110.6 L527.3,112.3 L531.1,114.7 L534.0,116.7 L536.4,118.6 L538.8,120.7 L541.2,123.1 L543.6,125.9 L546.0,129.0 L547.7,131.5 L549.3,133.9 L550.8,136.5 L553.2,140.8 L554.6,143.4 L555.7,145.8 L557.9,150.6 L559.0,153.0 L560.4,156.2 L562.1,160.2 L563.1,162.6 L565.0,167.4 L566.0,169.8 L567.6,174.2 L568.6,177.0 L570.0,181.1 L571.0,184.2 L572.4,188.9 L573.0,191.3 L574.0,196.1 L574.7,200.9 L575.0,203.3 L575.2,208.1 L575.2,212.9 L574.9,217.7 L574.7,220.1 L574.3,224.9 L573.7,229.7 L573.1,234.4 L572.5,239.2 L572.2,241.6 L571.7,246.4 L571.3,251.2 L570.9,256.0 L570.5,260.8 L570.1,265.6 L569.9,268.0 L569.3,272.8 L568.6,277.6 L567.7,282.4 L567.2,284.7 L565.8,289.5 L565.0,291.9 L563.0,296.7 L561.7,299.1 L560.3,301.5 L558.0,304.7 L555.6,307.6 L553.2,310.0 L550.8,312.2 L548.4,314.2 L546.0,316.0 L542.6,318.3 L538.8,320.4 L536.4,321.6 L532.8,323.1 L529.2,324.3 L525.8,325.5 L522.0,326.5 L517.2,326.7 L512.4,326.3 L508.3,327.9 L505.8,330.3 L502.8,332.4 L500.4,332.9 M502.8,316.2 L498.0,315.9 L495.6,315.1 L491.9,313.5 L488.4,312.2 L483.6,311.2 L481.2,310.9 L476.4,309.9 L472.2,308.7 L469.2,307.7 L465.1,306.3 L462.0,305.1 L459.1,303.9 L454.8,301.7 L452.4,300.0 L450.0,297.7 L447.6,294.7 L445.5,291.9 L443.5,289.5 L441.3,287.1 L439.1,284.7 L437.0,282.4 L435.1,280.0 L433.2,277.3 L430.8,273.4 L429.2,270.4 L428.2,268.0 L426.5,263.2 L425.9,260.8 L425.1,256.0 L424.5,251.2 L424.1,246.4 L423.7,241.6 L423.5,239.2 L423.0,234.4 L422.3,229.7 L421.5,224.9 L421.1,222.5 L420.2,217.7 L419.3,212.9 L418.8,209.6 L418.5,205.7 L418.3,200.9 L418.5,196.1 L418.8,193.5 L419.8,188.9 L421.2,184.2 L422.2,181.8 L423.6,178.7 L425.8,174.6 L427.2,172.2 L428.6,169.8 L430.8,166.3 L433.2,162.8 L435.1,160.2 L436.9,157.8 L438.7,155.4 L440.6,153.0 L442.8,150.2 L445.2,147.3 L447.6,144.5 L450.0,141.9 L452.4,139.5 L454.8,137.2 L457.2,135.0 L459.6,132.9 L462.0,130.8 L464.4,128.9 L467.3,126.7 L471.0,124.3 L474.0,122.7 L476.4,121.9 L481.2,121.0 L486.0,121.0 L490.8,121.6 L493.2,121.9 L498.0,122.7 L502.8,123.6 L505.8,124.3 L510.0,125.3 L514.7,126.7 L517.2,127.5 L521.1,129.1 L524.4,130.6 L526.8,132.0 L529.5,133.9 L532.3,136.2 L534.7,138.6 L536.7,141.0 L538.8,143.9 L541.2,147.7 L542.9,150.6 L544.2,153.0 L546.0,156.6 L547.8,160.2 L548.9,162.6 L550.8,166.8 L552.2,169.8 L553.2,172.2 L555.2,177.0 L556.2,179.4 L558.0,184.2 L558.8,186.5 L560.3,191.3 L560.9,193.7 L561.8,198.5 L562.2,203.3 L562.3,208.1 L562.0,212.9 L561.4,217.7 L560.6,222.5 L560.2,224.9 L559.1,229.7 L558.1,234.4 L557.5,236.8 L556.6,241.6 L555.8,246.4 L555.5,248.8 L555.1,253.6 L554.8,258.4 L554.5,263.2 L554.1,268.0 L553.6,272.8 L553.2,275.5 L552.4,280.0 L551.4,284.7 L550.7,287.1 L549.1,291.9 L548.0,294.3 L546.0,297.9 L543.6,301.3 L541.3,303.9 L538.8,306.2 L536.4,308.0 L534.0,309.5 L531.1,311.1 L526.8,312.9 L524.4,313.7 L519.6,314.8 L514.8,315.1 L510.0,315.2 L505.2,315.8 L502.8,316.2 M502.8,306.4 L498.0,306.5 L495.6,305.9 L490.8,304.3 L488.4,303.7 L483.6,302.7 L478.8,301.9 L476.4,301.3 L471.6,299.7 L469.2,298.8 L464.4,297.0 L462.0,296.0 L458.9,294.3 L456.0,291.9 L454.0,289.5 L452.4,287.1 L450.0,283.2 L447.6,280.0 L445.6,277.6 L443.7,275.2 L442.0,272.8 L440.4,269.9 L438.7,265.6 L438.0,263.2 L437.4,258.4 L437.2,253.6 L437.3,248.8 L437.4,244.0 L437.7,239.2 L438.0,234.4 L438.2,232.1 L438.6,227.3 L438.5,222.5 L438.0,218.6 L437.4,215.3 L436.1,210.5 L435.5,208.1 L435.0,203.3 L435.4,198.5 L436.1,196.1 L438.0,191.6 L439.6,188.9 L441.2,186.5 L442.8,184.1 L445.2,180.8 L447.6,177.6 L450.0,174.6 L452.0,172.2 L454.0,169.8 L456.0,167.4 L458.1,165.0 L460.2,162.6 L462.5,160.2 L464.9,157.8 L467.5,155.4 L470.7,153.0 L474.0,150.9 L476.4,149.7 L480.1,148.2 L483.6,147.2 L488.4,146.4 L493.2,146.0 L498.0,146.1 L502.8,146.6 L507.6,147.5 L510.6,148.2 L514.8,149.5 L518.2,150.6 L522.0,152.3 L524.4,153.7 L526.9,155.4 L529.5,157.8 L531.7,160.2 L534.0,163.1 L536.4,166.7 L538.2,169.8 L539.5,172.2 L541.2,175.5 L543.0,179.4 L544.1,181.8 L546.0,186.5 L546.8,188.9 L548.2,193.7 L548.7,196.1 L549.3,200.9 L549.2,205.7 L548.7,210.5 L548.3,212.9 L547.3,217.7 L546.0,222.1 L545.1,224.9 L543.6,228.4 L541.9,232.1 L540.6,234.4 L538.8,238.2 L537.5,241.6 L536.4,246.3 L536.1,248.8 L536.0,253.6 L536.1,258.4 L536.2,263.2 L536.1,268.0 L535.6,272.8 L534.8,277.6 L534.0,281.5 L533.3,284.7 L531.8,289.5 L530.7,291.9 L529.2,294.4 L526.8,297.2 L524.4,299.3 L520.9,301.5 L517.2,303.1 L514.4,303.9 L510.0,304.9 L505.2,305.9 L502.8,306.4 M500.4,292.0 L497.0,291.9 L493.2,291.3 L488.4,290.4 L483.6,289.9 L480.6,289.5 L476.4,288.5 L472.4,287.1 L469.2,286.3 L464.4,285.3 L462.0,284.1 L459.6,281.4 L457.6,277.6 L456.4,275.2 L454.8,272.7 L452.4,268.0 L451.9,265.6 L452.0,260.8 L452.7,258.4 L454.8,254.1 L456.7,251.2 L458.3,248.8 L459.7,246.4 L462.0,242.6 L464.3,239.2 L466.1,236.8 L468.0,234.4 L470.1,232.1 L472.4,229.7 L475.2,227.3 L478.3,224.9 L481.2,222.8 L483.6,221.1 L486.0,219.2 L488.4,216.8 L490.5,212.9 L491.0,210.5 L491.9,205.7 L493.2,201.3 L494.5,198.5 L495.8,196.1 L498.0,191.9 L500.2,188.9 L502.8,186.7 L505.2,185.3 L508.0,184.2 L512.4,182.8 L517.2,182.1 L522.0,182.1 L526.8,183.7 L529.2,185.5 L531.6,188.2 L533.6,191.3 L534.6,193.7 L535.7,198.5 L535.5,203.3 L534.3,208.1 L533.2,210.5 L531.6,213.5 L529.2,216.2 L526.8,217.7 L523.5,217.7 L519.9,215.3 L517.2,213.2 L514.8,211.5 L512.4,209.8 L507.8,210.5 L509.4,215.3 L509.7,220.1 L507.6,224.1 L506.2,227.3 L505.2,231.2 L505.1,234.4 L505.5,236.8 L507.6,241.5 L509.4,244.0 L511.0,246.4 L512.4,248.8 L514.6,253.6 L515.5,256.0 L516.9,260.8 L517.3,263.2 L517.2,268.0 L516.8,270.4 L515.0,275.2 L513.6,277.6 L512.0,280.0 L510.0,283.0 L507.7,287.1 L505.8,289.5 L502.8,291.4 L500.4,292.0" fill="none" stroke="#000" stroke-width="1.05" stroke-opacity="0.95"/>
<path d="M499.1,216.2 L524.4,222.4 L538.9,236.9 L553.4,258.6 L564.3,291.2 L564.3,367.2 L566.1,468.6 L561.7,480.0 L554.4,505.3 L545.4,530.7 L534.5,552.4 L525.5,592.2 L518.2,635.7 L509.2,686.3 L489.3,742.4 L467.6,758.7 L445.8,775.0 L422.3,793.1 L384.9,803.4 L346.2,793.8 L336.9,749.5 L330.3,708.4 L312.1,690.2 L289.3,680.0 L285.7,670.3 L260.3,648.6 L238.6,635.9 L206.0,619.6 L197.0,601.5 L197.0,561.7 L200.6,532.7 L207.8,503.8 L216.9,474.8 L235.0,425.9 L282.0,377.1 L318.2,340.9 L332.7,330.0 L354.3,309.3 L394.1,283.9 L415.8,262.2 L437.6,247.7 L462.9,231.4 L481.0,222.4 Z" fill="none" stroke="#ffff00" stroke-width="3.6" stroke-linejoin="round"/>
<path d="M207.8,503.8 L206.0,514.6 L216.9,547.2 L235.0,556.2 L262.1,554.4 L289.3,529.1 L330.9,529.1 L340.9,536.1 L359.0,581.4 L377.1,610.3 L407.8,639.3 L431.4,630.2 L440.4,613.9 L458.5,604.9 L467.6,588.6 L480.2,564.0 L507.4,556.0 L527.3,547.0 L536.3,537.9 L545.4,530.7" fill="none" stroke="#ffff00" stroke-width="3.6" stroke-linejoin="round"/>
<path d="M513.6,193.4 L508.1,226.0 L497.3,305.7 L488.2,367.2 L481.0,425.1 L475.6,468.6 L474.8,480.0 L467.6,512.6 L456.7,599.5 L449.5,653.8 L438.6,733.4 L431.4,780.5 L428.8,800.6" fill="none" stroke="#ffff00" stroke-width="3.6" stroke-dasharray="3.6 6"/>
<path d="M513.6,193.4 L488.2,233.3 L470.1,258.6 L452.0,287.6 L433.9,316.5 L415.8,345.5 L397.7,374.4 L383.4,402.4 L361.5,432.4 L347.2,456.7 L325.3,493.9 L296.5,532.7 L249.5,612.4 L213.3,677.5 L188.7,713.5" fill="none" stroke="#ffff00" stroke-width="3.6" stroke-dasharray="3.6 6"/>
<path d="M319.6,281.2 L606.7,378.8" fill="none" stroke="#ffff00" stroke-width="3.6" stroke-dasharray="3.6 6"/>
<path d="M242.5,329.5 L606.7,455.4" fill="none" stroke="#ffff00" stroke-width="3.6" stroke-dasharray="3.6 6"/>
<circle cx="513.6" cy="193.4" r="6.3" fill="#000" stroke="#fff" stroke-width="2.8"/>
<circle cx="319.6" cy="281.2" r="6.3" fill="#000" stroke="#fff" stroke-width="2.8"/>
<circle cx="242.5" cy="329.5" r="6.3" fill="#000" stroke="#fff" stroke-width="2.8"/>
<circle cx="606.7" cy="378.8" r="6.3" fill="#000" stroke="#fff" stroke-width="2.8"/>
<circle cx="606.7" cy="455.4" r="6.3" fill="#000" stroke="#fff" stroke-width="2.8"/>
<circle cx="188.7" cy="713.5" r="6.3" fill="#000" stroke="#fff" stroke-width="2.8"/>
<circle cx="428.8" cy="800.6" r="6.3" fill="#000" stroke="#fff" stroke-width="2.8"/></g>
<rect x="127.3" y="60.8" width="518.3" height="843.1" fill="none" stroke="#222" stroke-width="1.4"/>
<line x1="204.8" y1="903.9" x2="204.8" y2="908.9" stroke="#222" stroke-width="1.4"/>
<text x="204.8" y="928.9" text-anchor="middle" font-size="21">642200</text>
<line x1="357.8" y1="903.9" x2="357.8" y2="908.9" stroke="#222" stroke-width="1.4"/>
<text x="357.8" y="928.9" text-anchor="middle" font-size="21">642600</text>
<line x1="510.8" y1="903.9" x2="510.8" y2="908.9" stroke="#222" stroke-width="1.4"/>
<text x="510.8" y="928.9" text-anchor="middle" font-size="21">643000</text>
<line x1="122.3" y1="903.9" x2="127.3" y2="903.9" stroke="#222" stroke-width="1.4"/>
<text x="118.3" y="911.5" text-anchor="end" font-size="21">1772500</text>
<line x1="122.3" y1="808.2" x2="127.3" y2="808.2" stroke="#222" stroke-width="1.4"/>
<text x="118.3" y="815.8" text-anchor="end" font-size="21">1772750</text>
<line x1="122.3" y1="712.4" x2="127.3" y2="712.4" stroke="#222" stroke-width="1.4"/>
<text x="118.3" y="720.0" text-anchor="end" font-size="21">1773000</text>
<line x1="122.3" y1="616.7" x2="127.3" y2="616.7" stroke="#222" stroke-width="1.4"/>
<text x="118.3" y="624.3" text-anchor="end" font-size="21">1773250</text>
<line x1="122.3" y1="521.0" x2="127.3" y2="521.0" stroke="#222" stroke-width="1.4"/>
<text x="118.3" y="528.6" text-anchor="end" font-size="21">1773500</text>
<line x1="122.3" y1="425.2" x2="127.3" y2="425.2" stroke="#222" stroke-width="1.4"/>
<text x="118.3" y="432.8" text-anchor="end" font-size="21">1773750</text>
<line x1="122.3" y1="329.5" x2="127.3" y2="329.5" stroke="#222" stroke-width="1.4"/>
<text x="118.3" y="337.1" text-anchor="end" font-size="21">1774000</text>
<line x1="122.3" y1="233.7" x2="127.3" y2="233.7" stroke="#222" stroke-width="1.4"/>
<text x="118.3" y="241.3" text-anchor="end" font-size="21">1774250</text>
<line x1="122.3" y1="138.0" x2="127.3" y2="138.0" stroke="#222" stroke-width="1.4"/>
<text x="118.3" y="145.6" text-anchor="end" font-size="21">1774500</text>
<text x="386.5" y="953" text-anchor="middle" font-size="21">Easting (m)</text>
<text transform="translate(18,482) rotate(-90)" text-anchor="middle" font-size="21">Northing (m)</text>
<text x="386.5" y="53" text-anchor="middle" font-size="25">(a)</text>
<rect x="276.3" y="291.5" width="34.0" height="25.6" rx="4" fill="#fff" stroke="#000" stroke-width="1.5"/><text x="293.3" y="311.6" text-anchor="middle" font-size="20">AE</text>
<rect x="199.5" y="339.0" width="33.3" height="26.2" rx="4" fill="#fff" stroke="#000" stroke-width="1.5"/><text x="216.2" y="359.4" text-anchor="middle" font-size="20">BE</text>
<rect x="616.5" y="343.2" width="40.2" height="26.1" rx="4" fill="#fff" stroke="#000" stroke-width="1.5"/><text x="636.6" y="363.6" text-anchor="middle" font-size="20">AW</text>
<rect x="616.5" y="419.3" width="40.2" height="26.5" rx="4" fill="#fff" stroke="#000" stroke-width="1.5"/><text x="636.6" y="439.9" text-anchor="middle" font-size="20">BW</text>
<rect x="152.8" y="723.2" width="26.6" height="25.5" rx="4" fill="#fff" stroke="#000" stroke-width="1.5"/><text x="166.1" y="743.2" text-anchor="middle" font-size="20">W</text>
<rect x="399.2" y="810.9" width="20.5" height="25.7" rx="4" fill="#fff" stroke="#000" stroke-width="1.5"/><text x="409.4" y="831.0" text-anchor="middle" font-size="20">E</text>
<rect x="524.4" y="159.0" width="19.9" height="25.4" rx="4" fill="#fff" stroke="#000" stroke-width="1.5"/><text x="534.3" y="179.0" text-anchor="middle" font-size="20">S</text>
<text x="376" y="338.5" text-anchor="middle" font-size="30" fill="#fff" stroke="#000" stroke-width="2.6" paint-order="stroke" stroke-linejoin="round">A1</text>
<text x="525.3" y="280.9" text-anchor="middle" font-size="30" fill="#fff" stroke="#000" stroke-width="2.6" paint-order="stroke" stroke-linejoin="round">A2</text>
<rect x="146.4" y="875.3" width="76.5" height="10" fill="#fff" stroke="#000" stroke-width="1"/>
<rect x="222.9" y="875.3" width="77.8" height="10" fill="#000"/>
<text x="223.3" y="863.2" text-anchor="middle" font-size="18.5" font-weight="bold" fill="#fff" stroke="#000" stroke-width="2.5" paint-order="stroke" stroke-linejoin="round">400 m</text>
</svg></body></html>
